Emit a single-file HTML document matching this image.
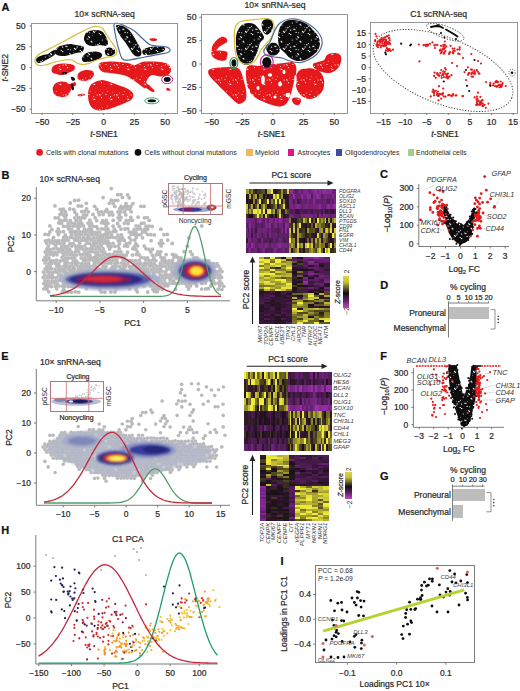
<!DOCTYPE html>
<html><head><meta charset="utf-8"><style>
html,body{margin:0;padding:0;background:#fff;width:520px;height:691px;overflow:hidden;}
svg{display:block;} rect{shape-rendering:crispEdges;}
text{font-family:"Liberation Sans",sans-serif;}
</style></head><body>
<svg width="520" height="691" viewBox="0 0 520 691" fill="#2a2a2a">
<defs>
<pattern id="spk" width="19" height="17" patternUnits="userSpaceOnUse"><circle cx="4.5" cy="9.3" r="0.50" fill="#fff"/><circle cx="11.5" cy="10.6" r="0.38" fill="#fff"/><circle cx="0.3" cy="14.2" r="0.45" fill="#fff"/><circle cx="4.5" cy="16.9" r="0.54" fill="#fff"/><circle cx="15.9" cy="8.1" r="0.61" fill="#fff"/><circle cx="2.9" cy="10.8" r="0.70" fill="#fff"/><circle cx="9.9" cy="12.6" r="0.62" fill="#fff"/><circle cx="1.2" cy="12.9" r="0.59" fill="#fff"/><circle cx="5.7" cy="0.5" r="0.70" fill="#fff"/><circle cx="9.0" cy="12.2" r="0.70" fill="#fff"/><circle cx="13.6" cy="15.7" r="0.51" fill="#fff"/><circle cx="15.2" cy="7.6" r="0.72" fill="#fff"/><circle cx="16.7" cy="1.7" r="0.40" fill="#fff"/><circle cx="4.1" cy="16.4" r="0.52" fill="#fff"/><circle cx="11.9" cy="5.1" r="0.55" fill="#fff"/><circle cx="7.3" cy="6.0" r="0.58" fill="#fff"/><circle cx="11.1" cy="15.4" r="0.62" fill="#fff"/><circle cx="17.6" cy="14.6" r="0.75" fill="#fff"/><circle cx="12.8" cy="2.8" r="0.69" fill="#fff"/><circle cx="18.3" cy="15.4" r="0.58" fill="#fff"/><circle cx="13.6" cy="3.6" r="0.68" fill="#fff"/><circle cx="10.9" cy="4.8" r="0.38" fill="#fff"/><circle cx="16.2" cy="16.8" r="0.39" fill="#fff"/><circle cx="15.2" cy="7.0" r="0.41" fill="#fff"/><circle cx="5.6" cy="13.1" r="0.70" fill="#fff"/><circle cx="0.8" cy="10.4" r="0.37" fill="#fff"/></pattern>
<pattern id="spk2" width="17" height="15" patternUnits="userSpaceOnUse"><circle cx="12.2" cy="5.0" r="0.56" fill="#fff"/><circle cx="16.7" cy="7.6" r="0.60" fill="#fff"/><circle cx="5.3" cy="1.2" r="0.48" fill="#fff"/><circle cx="0.5" cy="3.0" r="0.42" fill="#fff"/><circle cx="10.4" cy="2.3" r="0.31" fill="#fff"/><circle cx="14.8" cy="4.7" r="0.59" fill="#fff"/><circle cx="15.2" cy="5.7" r="0.44" fill="#fff"/><circle cx="8.8" cy="9.7" r="0.48" fill="#fff"/><circle cx="9.5" cy="9.3" r="0.58" fill="#fff"/><circle cx="8.6" cy="6.5" r="0.52" fill="#fff"/><circle cx="4.0" cy="4.5" r="0.59" fill="#fff"/><circle cx="8.9" cy="8.2" r="0.30" fill="#fff"/><circle cx="7.1" cy="8.7" r="0.31" fill="#fff"/><circle cx="10.5" cy="9.5" r="0.32" fill="#fff"/></pattern>
<filter id="bl1" x="-20%" y="-20%" width="140%" height="140%"><feGaussianBlur stdDeviation="1.2"/></filter>
<filter id="bl2" x="-30%" y="-30%" width="160%" height="160%"><feGaussianBlur stdDeviation="2"/></filter>
<filter id="bl05" x="-10%" y="-10%" width="120%" height="120%"><feGaussianBlur stdDeviation="0.5"/></filter>
</defs>
<text x="1.5" y="10.6" font-size="11" font-weight="bold" fill="#111" stroke="#111" stroke-width="0.22">A</text>
<text x="104.6" y="16.8" font-size="8.6" text-anchor="middle" stroke="#2a2a2a" stroke-width="0.22">10× scRNA-seq</text>
<text x="275" y="8.2" font-size="8.6" text-anchor="middle" stroke="#2a2a2a" stroke-width="0.22">10× snRNA-seq</text>
<text x="438.6" y="17.2" font-size="8.6" text-anchor="middle" stroke="#2a2a2a" stroke-width="0.22">C1 scRNA-seq</text>
<path d="M52 68 C52.5 66.8 53.3 65.8 55 65 C56.7 64.2 59.5 63.7 62 63.5 C64.5 63.3 67.9 63.6 70 64 C72.1 64.4 73.8 65 74.5 66 C75.2 67 75.1 68.8 74 70 C72.9 71.2 70 72.2 68 73 C66 73.8 64 74.8 62 75 C60 75.2 57.7 74.5 56 74 C54.3 73.5 52.7 73 52 72 C51.3 71 51.5 69.2 52 68Z" fill="#e5191b"/>
<path d="M52 68 C52.5 66.8 53.3 65.8 55 65 C56.7 64.2 59.5 63.7 62 63.5 C64.5 63.3 67.9 63.6 70 64 C72.1 64.4 73.8 65 74.5 66 C75.2 67 75.1 68.8 74 70 C72.9 71.2 70 72.2 68 73 C66 73.8 64 74.8 62 75 C60 75.2 57.7 74.5 56 74 C54.3 73.5 52.7 73 52 72 C51.3 71 51.5 69.2 52 68Z" fill="url(#spk2)"/>
<path d="M78 74 C78.7 72.7 80.3 71.7 82 71 C83.7 70.3 86.2 69.9 88 70 C89.8 70.1 92.1 70.5 93 71.5 C93.9 72.5 94.2 74.6 93.5 76 C92.8 77.4 90.8 79.2 89 80 C87.2 80.8 84.8 81.2 83 81 C81.2 80.8 78.8 80.2 78 79 C77.2 77.8 77.3 75.3 78 74Z" fill="#e5191b"/>
<path d="M78 74 C78.7 72.7 80.3 71.7 82 71 C83.7 70.3 86.2 69.9 88 70 C89.8 70.1 92.1 70.5 93 71.5 C93.9 72.5 94.2 74.6 93.5 76 C92.8 77.4 90.8 79.2 89 80 C87.2 80.8 84.8 81.2 83 81 C81.2 80.8 78.8 80.2 78 79 C77.2 77.8 77.3 75.3 78 74Z" fill="url(#spk2)"/>
<path d="M53 87 C53.5 85.7 54.7 83.9 56 83 C57.3 82.1 59.3 81.7 61 81.5 C62.7 81.3 64.7 81.6 66 82 C67.3 82.4 68 83.8 69 84 C70 84.2 71 83.3 72 83 C73 82.7 74.3 81.7 75 82 C75.7 82.3 76.5 84 76 85 C75.5 86 73 86.8 72 88 C71 89.2 70.8 90.7 70 92 C69.2 93.3 68.5 95.2 67 96 C65.5 96.8 63 97.2 61 97 C59 96.8 56.3 96 55 95 C53.7 94 53.3 92.3 53 91 C52.7 89.7 52.5 88.3 53 87Z" fill="#e5191b"/>
<path d="M53 87 C53.5 85.7 54.7 83.9 56 83 C57.3 82.1 59.3 81.7 61 81.5 C62.7 81.3 64.7 81.6 66 82 C67.3 82.4 68 83.8 69 84 C70 84.2 71 83.3 72 83 C73 82.7 74.3 81.7 75 82 C75.7 82.3 76.5 84 76 85 C75.5 86 73 86.8 72 88 C71 89.2 70.8 90.7 70 92 C69.2 93.3 68.5 95.2 67 96 C65.5 96.8 63 97.2 61 97 C59 96.8 56.3 96 55 95 C53.7 94 53.3 92.3 53 91 C52.7 89.7 52.5 88.3 53 87Z" fill="url(#spk2)"/>
<path d="M77.5 95 C77.7 94.6 78.8 94.2 80 94 C81.2 93.8 83.8 93.7 84.5 94 C85.2 94.3 84.9 95.4 84 95.8 C83.1 96.2 80.1 96.3 79 96.2 C77.9 96.1 77.3 95.4 77.5 95Z" fill="#e5191b"/>
<path d="M77.5 95 C77.7 94.6 78.8 94.2 80 94 C81.2 93.8 83.8 93.7 84.5 94 C85.2 94.3 84.9 95.4 84 95.8 C83.1 96.2 80.1 96.3 79 96.2 C77.9 96.1 77.3 95.4 77.5 95Z" fill="url(#spk2)"/>
<path d="M88 95 C88 91.8 88.8 88.2 90 86 C91.2 83.8 93 83 95 82 C97 81 99.5 80 102 80 C104.5 80 107.3 81.2 110 82 C112.7 82.8 115.3 84 118 85 C120.7 86 123.5 86.7 126 88 C128.5 89.3 132 91.2 133 93 C134 94.8 133.3 97.3 132 99 C130.7 100.7 127.8 101.7 125 103 C122.2 104.3 118.3 105.8 115 107 C111.7 108.2 108.2 109.5 105 110 C101.8 110.5 98.5 110.8 96 110 C93.5 109.2 91.3 107.5 90 105 C88.7 102.5 88 98.2 88 95Z" fill="#e5191b"/>
<path d="M88 95 C88 91.8 88.8 88.2 90 86 C91.2 83.8 93 83 95 82 C97 81 99.5 80 102 80 C104.5 80 107.3 81.2 110 82 C112.7 82.8 115.3 84 118 85 C120.7 86 123.5 86.7 126 88 C128.5 89.3 132 91.2 133 93 C134 94.8 133.3 97.3 132 99 C130.7 100.7 127.8 101.7 125 103 C122.2 104.3 118.3 105.8 115 107 C111.7 108.2 108.2 109.5 105 110 C101.8 110.5 98.5 110.8 96 110 C93.5 109.2 91.3 107.5 90 105 C88.7 102.5 88 98.2 88 95Z" fill="url(#spk2)"/>
<path d="M100 63 C101.8 61.9 106.7 61.7 110 61.5 C113.3 61.3 117 61.8 120 62 C123 62.2 125.5 62.5 128 63 C130.5 63.5 132.7 65.2 135 65 C137.3 64.8 139.5 62.6 142 62 C144.5 61.4 147 61.5 150 61.5 C153 61.5 157 61.6 160 62 C163 62.4 166.2 62.7 168 64 C169.8 65.3 171 68.2 171 70 C171 71.8 169.8 73.9 168 75 C166.2 76.1 162.7 76.5 160 76.5 C157.3 76.5 154.2 74.4 152 75 C149.8 75.6 148 78.2 147 80 C146 81.8 146.3 84.6 146 86 C145.7 87.4 146 88.7 145 88.5 C144 88.3 142 86.4 140 85 C138 83.6 135.3 81.5 133 80 C130.7 78.5 128.5 77 126 76 C123.5 75 120.7 74.5 118 74 C115.3 73.5 112.5 73.3 110 73 C107.5 72.7 104.8 72.8 103 72 C101.2 71.2 99.5 69.5 99 68 C98.5 66.5 98.2 64.1 100 63Z" fill="#e5191b"/>
<path d="M100 63 C101.8 61.9 106.7 61.7 110 61.5 C113.3 61.3 117 61.8 120 62 C123 62.2 125.5 62.5 128 63 C130.5 63.5 132.7 65.2 135 65 C137.3 64.8 139.5 62.6 142 62 C144.5 61.4 147 61.5 150 61.5 C153 61.5 157 61.6 160 62 C163 62.4 166.2 62.7 168 64 C169.8 65.3 171 68.2 171 70 C171 71.8 169.8 73.9 168 75 C166.2 76.1 162.7 76.5 160 76.5 C157.3 76.5 154.2 74.4 152 75 C149.8 75.6 148 78.2 147 80 C146 81.8 146.3 84.6 146 86 C145.7 87.4 146 88.7 145 88.5 C144 88.3 142 86.4 140 85 C138 83.6 135.3 81.5 133 80 C130.7 78.5 128.5 77 126 76 C123.5 75 120.7 74.5 118 74 C115.3 73.5 112.5 73.3 110 73 C107.5 72.7 104.8 72.8 103 72 C101.2 71.2 99.5 69.5 99 68 C98.5 66.5 98.2 64.1 100 63Z" fill="url(#spk2)"/>
<path d="M149.5 38.8 C149.8 38.4 151.8 38.2 153 38.2 C154.2 38.2 156.5 38.6 157 39 C157.5 39.4 157 40.5 156 40.8 C155 41.1 152.1 41.1 151 40.8 C149.9 40.5 149.2 39.2 149.5 38.8Z" fill="#e5191b"/>
<path d="M149.5 38.8 C149.8 38.4 151.8 38.2 153 38.2 C154.2 38.2 156.5 38.6 157 39 C157.5 39.4 157 40.5 156 40.8 C155 41.1 152.1 41.1 151 40.8 C149.9 40.5 149.2 39.2 149.5 38.8Z" fill="url(#spk2)"/>
<path d="M166.5 88 C166.8 87.6 168.3 87.9 169 88.3 C169.7 88.7 170.8 90.1 170.5 90.5 C170.2 90.9 167.7 90.9 167 90.5 C166.3 90.1 166.2 88.4 166.5 88Z" fill="#e5191b"/>
<path d="M166.5 88 C166.8 87.6 168.3 87.9 169 88.3 C169.7 88.7 170.8 90.1 170.5 90.5 C170.2 90.9 167.7 90.9 167 90.5 C166.3 90.1 166.2 88.4 166.5 88Z" fill="url(#spk2)"/>
<path d="M143.5 82.5 C143.8 82 145.8 82.8 147 83.5 C148.2 84.2 149.8 85.8 151 87 C152.2 88.2 154.2 89.7 154.5 90.5 C154.8 91.3 153.9 92.1 153 92 C152.1 91.9 150.3 90.9 149 90 C147.7 89.1 145.9 87.8 145 86.5 C144.1 85.2 143.2 83 143.5 82.5Z" fill="#e5191b"/>
<path d="M143.5 82.5 C143.8 82 145.8 82.8 147 83.5 C148.2 84.2 149.8 85.8 151 87 C152.2 88.2 154.2 89.7 154.5 90.5 C154.8 91.3 153.9 92.1 153 92 C152.1 91.9 150.3 90.9 149 90 C147.7 89.1 145.9 87.8 145 86.5 C144.1 85.2 143.2 83 143.5 82.5Z" fill="url(#spk2)"/>
<path d="M36 60 C36 59 36.8 57.8 38 57 C39.2 56.2 41.3 55.5 43 55 C44.7 54.5 46.5 54.7 48 54 C49.5 53.3 50.8 51.7 52 51 C53.2 50.3 54.3 49.7 55 50 C55.7 50.3 56.3 52 56 53 C55.7 54 54.3 55 53 56 C51.7 57 49.8 58 48 59 C46.2 60 43.7 61.3 42 62 C40.3 62.7 39 63.3 38 63 C37 62.7 36 61 36 60Z" fill="#0d0d0d"/>
<path d="M36 60 C36 59 36.8 57.8 38 57 C39.2 56.2 41.3 55.5 43 55 C44.7 54.5 46.5 54.7 48 54 C49.5 53.3 50.8 51.7 52 51 C53.2 50.3 54.3 49.7 55 50 C55.7 50.3 56.3 52 56 53 C55.7 54 54.3 55 53 56 C51.7 57 49.8 58 48 59 C46.2 60 43.7 61.3 42 62 C40.3 62.7 39 63.3 38 63 C37 62.7 36 61 36 60Z" fill="url(#spk)"/>
<path d="M55 51 C55.2 49.7 56.5 48 58 47 C59.5 46 62 45.5 64 45 C66 44.5 68 44 70 44 C72 44 74 44.7 76 45 C78 45.3 80.7 45.5 82 46 C83.3 46.5 84 47 84 48 C84 49 83.3 51.2 82 52 C80.7 52.8 78 52.5 76 53 C74 53.5 72.2 54.5 70 55 C67.8 55.5 65.2 56 63 56 C60.8 56 58.3 55.8 57 55 C55.7 54.2 54.8 52.3 55 51Z" fill="#0d0d0d"/>
<path d="M55 51 C55.2 49.7 56.5 48 58 47 C59.5 46 62 45.5 64 45 C66 44.5 68 44 70 44 C72 44 74 44.7 76 45 C78 45.3 80.7 45.5 82 46 C83.3 46.5 84 47 84 48 C84 49 83.3 51.2 82 52 C80.7 52.8 78 52.5 76 53 C74 53.5 72.2 54.5 70 55 C67.8 55.5 65.2 56 63 56 C60.8 56 58.3 55.8 57 55 C55.7 54.2 54.8 52.3 55 51Z" fill="url(#spk)"/>
<path d="M84 38 C84.2 36.5 84.8 34.2 86 33 C87.2 31.8 89.2 31 91 30.5 C92.8 30 95.2 29.8 97 30 C98.8 30.2 100.7 30.7 102 31.5 C103.3 32.3 104.2 33.8 105 35 C105.8 36.2 106.5 37.5 107 39 C107.5 40.5 108.3 42.8 108 44 C107.7 45.2 106.3 45.8 105 46 C103.7 46.2 101.8 45 100 45 C98.2 45 96 46 94 46 C92 46 89.5 45.7 88 45 C86.5 44.3 85.7 43.2 85 42 C84.3 40.8 83.8 39.5 84 38Z" fill="#0d0d0d"/>
<path d="M84 38 C84.2 36.5 84.8 34.2 86 33 C87.2 31.8 89.2 31 91 30.5 C92.8 30 95.2 29.8 97 30 C98.8 30.2 100.7 30.7 102 31.5 C103.3 32.3 104.2 33.8 105 35 C105.8 36.2 106.5 37.5 107 39 C107.5 40.5 108.3 42.8 108 44 C107.7 45.2 106.3 45.8 105 46 C103.7 46.2 101.8 45 100 45 C98.2 45 96 46 94 46 C92 46 89.5 45.7 88 45 C86.5 44.3 85.7 43.2 85 42 C84.3 40.8 83.8 39.5 84 38Z" fill="url(#spk)"/>
<path d="M82 58 C82.3 56.8 83.7 55 85 54 C86.3 53 88.2 52.4 90 52 C91.8 51.6 94.2 51.3 96 51.5 C97.8 51.7 100 52.2 101 53 C102 53.8 102.3 55 102 56 C101.7 57 100.5 58.2 99 59 C97.5 59.8 95 60.5 93 61 C91 61.5 88.7 61.9 87 62 C85.3 62.1 83.8 62.2 83 61.5 C82.2 60.8 81.7 59.2 82 58Z" fill="#0d0d0d"/>
<path d="M82 58 C82.3 56.8 83.7 55 85 54 C86.3 53 88.2 52.4 90 52 C91.8 51.6 94.2 51.3 96 51.5 C97.8 51.7 100 52.2 101 53 C102 53.8 102.3 55 102 56 C101.7 57 100.5 58.2 99 59 C97.5 59.8 95 60.5 93 61 C91 61.5 88.7 61.9 87 62 C85.3 62.1 83.8 62.2 83 61.5 C82.2 60.8 81.7 59.2 82 58Z" fill="url(#spk)"/>
<path d="M105 50 C105.5 48.8 107.5 47.7 109 47.5 C110.5 47.3 113 48.1 114 49 C115 49.9 115.5 51.8 115 53 C114.5 54.2 112.5 55.7 111 56 C109.5 56.3 107 56 106 55 C105 54 104.5 51.2 105 50Z" fill="#0d0d0d"/>
<path d="M105 50 C105.5 48.8 107.5 47.7 109 47.5 C110.5 47.3 113 48.1 114 49 C115 49.9 115.5 51.8 115 53 C114.5 54.2 112.5 55.7 111 56 C109.5 56.3 107 56 106 55 C105 54 104.5 51.2 105 50Z" fill="url(#spk)"/>
<path d="M116 25.5 C116.5 24.4 119.5 25.2 121 25.5 C122.5 25.8 123.5 26.1 125 27 C126.5 27.9 128.5 29.3 130 31 C131.5 32.7 132.7 34.8 134 37 C135.3 39.2 136.8 41.8 138 44 C139.2 46.2 140.5 48.2 141 50 C141.5 51.8 141.7 53.9 141 55 C140.3 56.1 138.3 56.7 137 56.5 C135.7 56.3 134.3 55.4 133 54 C131.7 52.6 130.3 50 129 48 C127.7 46 126.3 43.8 125 42 C123.7 40.2 122.2 38.7 121 37 C119.8 35.3 118.8 33.9 118 32 C117.2 30.1 115.5 26.6 116 25.5Z" fill="#0d0d0d"/>
<path d="M116 25.5 C116.5 24.4 119.5 25.2 121 25.5 C122.5 25.8 123.5 26.1 125 27 C126.5 27.9 128.5 29.3 130 31 C131.5 32.7 132.7 34.8 134 37 C135.3 39.2 136.8 41.8 138 44 C139.2 46.2 140.5 48.2 141 50 C141.5 51.8 141.7 53.9 141 55 C140.3 56.1 138.3 56.7 137 56.5 C135.7 56.3 134.3 55.4 133 54 C131.7 52.6 130.3 50 129 48 C127.7 46 126.3 43.8 125 42 C123.7 40.2 122.2 38.7 121 37 C119.8 35.3 118.8 33.9 118 32 C117.2 30.1 115.5 26.6 116 25.5Z" fill="url(#spk)"/>
<path d="M143 50 C144.2 48.8 147.5 47.6 150 47 C152.5 46.4 155.6 46.4 158 46.5 C160.4 46.6 163.5 46.8 164.5 47.5 C165.5 48.2 165.2 50 164 51 C162.8 52 159.7 52.8 157 53.5 C154.3 54.2 150.3 54.9 148 55 C145.7 55.1 143.8 54.8 143 54 C142.2 53.2 141.8 51.2 143 50Z" fill="#0d0d0d"/>
<path d="M143 50 C144.2 48.8 147.5 47.6 150 47 C152.5 46.4 155.6 46.4 158 46.5 C160.4 46.6 163.5 46.8 164.5 47.5 C165.5 48.2 165.2 50 164 51 C162.8 52 159.7 52.8 157 53.5 C154.3 54.2 150.3 54.9 148 55 C145.7 55.1 143.8 54.8 143 54 C142.2 53.2 141.8 51.2 143 50Z" fill="url(#spk)"/>
<path d="M62 72.5 C62.5 72.1 65.2 71.8 66 72 C66.8 72.2 67.5 73.6 67 74 C66.5 74.4 63.8 74.8 63 74.5 C62.2 74.2 61.5 72.9 62 72.5Z" fill="#0d0d0d"/>
<path d="M62 72.5 C62.5 72.1 65.2 71.8 66 72 C66.8 72.2 67.5 73.6 67 74 C66.5 74.4 63.8 74.8 63 74.5 C62.2 74.2 61.5 72.9 62 72.5Z" fill="url(#spk)"/>
<path d="M71 77 C71.3 76.5 73.3 77 74 77.5 C74.7 78 75.3 79.5 75 80 C74.7 80.5 72.7 81 72 80.5 C71.3 80 70.7 77.5 71 77Z" fill="#0d0d0d"/>
<path d="M71 77 C71.3 76.5 73.3 77 74 77.5 C74.7 78 75.3 79.5 75 80 C74.7 80.5 72.7 81 72 80.5 C71.3 80 70.7 77.5 71 77Z" fill="url(#spk)"/>
<path d="M71 85 C71.2 84.1 72.5 83.8 73 84.5 C73.5 85.2 74.2 88.1 74 89 C73.8 89.9 72.5 90.7 72 90 C71.5 89.3 70.8 85.9 71 85Z" fill="#0d0d0d"/>
<path d="M71 85 C71.2 84.1 72.5 83.8 73 84.5 C73.5 85.2 74.2 88.1 74 89 C73.8 89.9 72.5 90.7 72 90 C71.5 89.3 70.8 85.9 71 85Z" fill="url(#spk)"/>
<path d="M35 60 C35.3 58.6 36.3 56.5 38 55 C39.7 53.5 42.2 52.5 45 51 C47.8 49.5 50.8 48.2 55 46 C59.2 43.8 65 40.7 70 38 C75 35.3 81.3 31.8 85 30 C88.7 28.2 90 27.6 92 27 C94 26.4 95.3 26.3 97 26.5 C98.7 26.7 100.7 27.1 102 28 C103.3 28.9 103.7 30 105 32 C106.3 34 108.3 37.5 110 40 C111.7 42.5 113.8 45 115 47 C116.2 49 117.2 50.5 117 52 C116.8 53.5 115.8 55.1 114 56 C112.2 56.9 108.7 56.9 106 57.5 C103.3 58.1 100.7 58.6 98 59.5 C95.3 60.4 92.5 62.2 90 63 C87.5 63.8 85.2 64.5 83 64.5 C80.8 64.5 78.8 63.8 77 63 C75.2 62.2 74 60.5 72 60 C70 59.5 67.8 59.7 65 60 C62.2 60.3 58.3 61.2 55 62 C51.7 62.8 47.7 64.4 45 65 C42.3 65.6 40.5 65.8 39 65.5 C37.5 65.2 36.7 64.4 36 63.5 C35.3 62.6 34.7 61.4 35 60Z" fill="none" stroke="#d6bd3c" stroke-width="1.25"/>
<path d="M114 25 C114.3 22.6 116.2 23.3 118 23.5 C119.8 23.7 122.2 24.8 125 26 C127.8 27.2 131.7 29 134.5 31 C137.3 33 139.5 35.8 142 38 C144.5 40.2 146.8 43.2 149.5 44.5 C152.2 45.8 155.2 45.6 158 46 C160.8 46.4 164 46.2 166 46.8 C168 47.3 169.7 48.5 170 49.5 C170.3 50.5 169.7 51.7 168 52.5 C166.3 53.3 163.8 53.5 160 54.2 C156.2 55 150.5 56 145 57 C139.5 58 130.9 60.1 127 60.2 C123.1 60.4 123.1 59.7 121.8 58 C120.4 56.3 120 53.3 119 50 C118 46.7 116.8 42.2 116 38 C115.2 33.8 113.7 27.4 114 25Z" fill="none" stroke="#4a6a98" stroke-width="1.2"/>
<ellipse cx="167.2" cy="79.5" rx="3.4" ry="2.4" fill="#0d0d0d"/>
<ellipse cx="167.2" cy="79.5" rx="5.5" ry="4.2" fill="none" stroke="#b5289b" stroke-width="1"/>
<ellipse cx="151.8" cy="100.8" rx="4.2" ry="1.5" fill="#0d0d0d"/>
<ellipse cx="151.8" cy="100.8" rx="7" ry="3" fill="none" stroke="#3aa060" stroke-width="1"/>
<rect x="31.5" y="23" width="145.7" height="90" fill="none" stroke="#8a8a8a" stroke-width="0.9"/>
<line x1="42" y1="113" x2="42" y2="115" stroke="#6e6e6e" stroke-width="0.9"/>
<text x="42" y="125" font-size="8.7" text-anchor="middle" stroke="#2a2a2a" stroke-width="0.22">−50</text>
<line x1="72.8" y1="113" x2="72.8" y2="115" stroke="#6e6e6e" stroke-width="0.9"/>
<text x="72.8" y="125" font-size="8.7" text-anchor="middle" stroke="#2a2a2a" stroke-width="0.22">−25</text>
<line x1="103.6" y1="113" x2="103.6" y2="115" stroke="#6e6e6e" stroke-width="0.9"/>
<text x="103.6" y="125" font-size="8.7" text-anchor="middle" stroke="#2a2a2a" stroke-width="0.22">0</text>
<line x1="134.4" y1="113" x2="134.4" y2="115" stroke="#6e6e6e" stroke-width="0.9"/>
<text x="134.4" y="125" font-size="8.7" text-anchor="middle" stroke="#2a2a2a" stroke-width="0.22">25</text>
<line x1="165.2" y1="113" x2="165.2" y2="115" stroke="#6e6e6e" stroke-width="0.9"/>
<text x="165.2" y="125" font-size="8.7" text-anchor="middle" stroke="#2a2a2a" stroke-width="0.22">50</text>
<line x1="29.5" y1="26" x2="31.5" y2="26" stroke="#6e6e6e" stroke-width="0.9"/>
<text x="25.6" y="28.8" font-size="8.7" text-anchor="end" stroke="#2a2a2a" stroke-width="0.22">50</text>
<line x1="29.5" y1="46.8" x2="31.5" y2="46.8" stroke="#6e6e6e" stroke-width="0.9"/>
<text x="25.6" y="49.6" font-size="8.7" text-anchor="end" stroke="#2a2a2a" stroke-width="0.22">25</text>
<line x1="29.5" y1="67.6" x2="31.5" y2="67.6" stroke="#6e6e6e" stroke-width="0.9"/>
<text x="25.6" y="70.4" font-size="8.7" text-anchor="end" stroke="#2a2a2a" stroke-width="0.22">0</text>
<line x1="29.5" y1="88.4" x2="31.5" y2="88.4" stroke="#6e6e6e" stroke-width="0.9"/>
<text x="25.6" y="91.2" font-size="8.7" text-anchor="end" stroke="#2a2a2a" stroke-width="0.22">−25</text>
<line x1="29.5" y1="109.2" x2="31.5" y2="109.2" stroke="#6e6e6e" stroke-width="0.9"/>
<text x="25.6" y="112" font-size="8.7" text-anchor="end" stroke="#2a2a2a" stroke-width="0.22">−50</text>
<text x="104" y="137" font-size="8.6" text-anchor="middle" stroke="#2a2a2a" stroke-width="0.22"><tspan font-style="italic">t</tspan>-SNE1</text>
<text x="8.2" y="67.8" font-size="8.5" text-anchor="middle" transform="rotate(-90 8.2 67.8)" stroke="#2a2a2a" stroke-width="0.22"><tspan font-style="italic">t</tspan>-SNE2</text>
<path d="M221 37 C222.8 36.3 225 37.2 226 38 C227 38.8 227.7 40.8 227 42 C226.3 43.2 223.5 44 222 45 C220.5 46 218.8 46.8 218 48 C217.2 49.2 216.5 51 217 52 C217.5 53 219.5 53.3 221 54 C222.5 54.7 225.2 55 226 56 C226.8 57 227 59.2 226 60 C225 60.8 222 60.8 220 60.5 C218 60.2 215.3 59.2 214 58 C212.7 56.8 212.3 54.8 212 53 C211.7 51.2 211.5 48.8 212 47 C212.5 45.2 213.5 43.7 215 42 C216.5 40.3 219.2 37.7 221 37Z" fill="#e5191b"/>
<path d="M221 37 C222.8 36.3 225 37.2 226 38 C227 38.8 227.7 40.8 227 42 C226.3 43.2 223.5 44 222 45 C220.5 46 218.8 46.8 218 48 C217.2 49.2 216.5 51 217 52 C217.5 53 219.5 53.3 221 54 C222.5 54.7 225.2 55 226 56 C226.8 57 227 59.2 226 60 C225 60.8 222 60.8 220 60.5 C218 60.2 215.3 59.2 214 58 C212.7 56.8 212.3 54.8 212 53 C211.7 51.2 211.5 48.8 212 47 C212.5 45.2 213.5 43.7 215 42 C216.5 40.3 219.2 37.7 221 37Z" fill="url(#spk2)"/>
<path d="M208.7 70 C209.7 68.8 212.3 68.5 215 68 C217.7 67.5 221.7 67.4 225 67.3 C228.3 67.2 232.1 66.8 234.6 67.3 C237.1 67.8 238.6 68.2 240 70 C241.4 71.8 242 74.7 243 78 C244 81.3 245.5 86.5 246 90 C246.5 93.5 246.7 96.8 246 99 C245.3 101.2 243.4 102.3 242 103 C240.6 103.7 239.5 104.4 237.5 103.4 C235.5 102.4 232.6 99.4 230 97 C227.4 94.6 224.7 91.7 222 89 C219.3 86.3 216.2 83.3 214 81 C211.8 78.7 209.9 76.8 209 75 C208.1 73.2 207.7 71.2 208.7 70Z" fill="#e5191b"/>
<path d="M208.7 70 C209.7 68.8 212.3 68.5 215 68 C217.7 67.5 221.7 67.4 225 67.3 C228.3 67.2 232.1 66.8 234.6 67.3 C237.1 67.8 238.6 68.2 240 70 C241.4 71.8 242 74.7 243 78 C244 81.3 245.5 86.5 246 90 C246.5 93.5 246.7 96.8 246 99 C245.3 101.2 243.4 102.3 242 103 C240.6 103.7 239.5 104.4 237.5 103.4 C235.5 102.4 232.6 99.4 230 97 C227.4 94.6 224.7 91.7 222 89 C219.3 86.3 216.2 83.3 214 81 C211.8 78.7 209.9 76.8 209 75 C208.1 73.2 207.7 71.2 208.7 70Z" fill="url(#spk2)"/>
<path d="M246 70 C246.5 66.8 248 65.7 250 65 C252 64.3 255.3 66.1 258 66 C260.7 65.9 263.2 64.8 266 64.5 C268.8 64.2 272 64.2 275 64 C278 63.8 281.2 63.3 284 63 C286.8 62.7 290 61.5 292 62 C294 62.5 295.3 64 296 66 C296.7 68 296.3 71.3 296 74 C295.7 76.7 294.7 79.3 294 82 C293.3 84.7 292.7 87.5 292 90 C291.3 92.5 291 94.7 290 97 C289 99.3 287.7 102.4 286 104 C284.3 105.6 282.3 106.3 280 106.5 C277.7 106.7 274.7 105.8 272 105 C269.3 104.2 266.7 103.2 264 102 C261.3 100.8 258.3 99.7 256 98 C253.7 96.3 251.5 94.3 250 92 C248.5 89.7 247.7 87.7 247 84 C246.3 80.3 245.5 73.2 246 70Z" fill="#e5191b"/>
<path d="M246 70 C246.5 66.8 248 65.7 250 65 C252 64.3 255.3 66.1 258 66 C260.7 65.9 263.2 64.8 266 64.5 C268.8 64.2 272 64.2 275 64 C278 63.8 281.2 63.3 284 63 C286.8 62.7 290 61.5 292 62 C294 62.5 295.3 64 296 66 C296.7 68 296.3 71.3 296 74 C295.7 76.7 294.7 79.3 294 82 C293.3 84.7 292.7 87.5 292 90 C291.3 92.5 291 94.7 290 97 C289 99.3 287.7 102.4 286 104 C284.3 105.6 282.3 106.3 280 106.5 C277.7 106.7 274.7 105.8 272 105 C269.3 104.2 266.7 103.2 264 102 C261.3 100.8 258.3 99.7 256 98 C253.7 96.3 251.5 94.3 250 92 C248.5 89.7 247.7 87.7 247 84 C246.3 80.3 245.5 73.2 246 70Z" fill="url(#spk2)"/>
<path d="M296 76 C296.7 73.3 298.2 71.2 300 70 C301.8 68.8 304.5 68.7 307 68.5 C309.5 68.3 312.7 68.2 315 69 C317.3 69.8 319.5 71.2 321 73 C322.5 74.8 323.6 77.5 324 80 C324.4 82.5 324.2 85.7 323.5 88 C322.8 90.3 321.8 92.2 320 94 C318.2 95.8 315.5 97.8 313 98.5 C310.5 99.2 307.3 98.9 305 98 C302.7 97.1 300.5 95 299 93 C297.5 91 296.5 88.8 296 86 C295.5 83.2 295.3 78.7 296 76Z" fill="#e5191b"/>
<path d="M296 76 C296.7 73.3 298.2 71.2 300 70 C301.8 68.8 304.5 68.7 307 68.5 C309.5 68.3 312.7 68.2 315 69 C317.3 69.8 319.5 71.2 321 73 C322.5 74.8 323.6 77.5 324 80 C324.4 82.5 324.2 85.7 323.5 88 C322.8 90.3 321.8 92.2 320 94 C318.2 95.8 315.5 97.8 313 98.5 C310.5 99.2 307.3 98.9 305 98 C302.7 97.1 300.5 95 299 93 C297.5 91 296.5 88.8 296 86 C295.5 83.2 295.3 78.7 296 76Z" fill="url(#spk2)"/>
<path d="M313 64 C313.5 62.8 316.2 62.7 318 62 C319.8 61.3 322.5 61.2 324 60 C325.5 58.8 325.5 56.2 327 55 C328.5 53.8 331 53.2 333 53 C335 52.8 337.6 53.2 339 54 C340.4 54.8 341.1 56.2 341.3 58 C341.5 59.8 340.9 63 340 65 C339.1 67 337.7 68.7 336 70 C334.3 71.3 332.3 72.7 330 73 C327.7 73.3 324.5 72.7 322 72 C319.5 71.3 316.5 70.3 315 69 C313.5 67.7 312.5 65.2 313 64Z" fill="#e5191b"/>
<path d="M313 64 C313.5 62.8 316.2 62.7 318 62 C319.8 61.3 322.5 61.2 324 60 C325.5 58.8 325.5 56.2 327 55 C328.5 53.8 331 53.2 333 53 C335 52.8 337.6 53.2 339 54 C340.4 54.8 341.1 56.2 341.3 58 C341.5 59.8 340.9 63 340 65 C339.1 67 337.7 68.7 336 70 C334.3 71.3 332.3 72.7 330 73 C327.7 73.3 324.5 72.7 322 72 C319.5 71.3 316.5 70.3 315 69 C313.5 67.7 312.5 65.2 313 64Z" fill="url(#spk2)"/>
<path d="M292 99 C292.5 97.9 295.5 97.4 297 97.6 C298.5 97.8 300.7 98.8 301 100 C301.3 101.2 300.2 104.1 299 104.8 C297.8 105.5 295.2 105 294 104 C292.8 103 291.5 100.1 292 99Z" fill="#e5191b"/>
<path d="M292 99 C292.5 97.9 295.5 97.4 297 97.6 C298.5 97.8 300.7 98.8 301 100 C301.3 101.2 300.2 104.1 299 104.8 C297.8 105.5 295.2 105 294 104 C292.8 103 291.5 100.1 292 99Z" fill="url(#spk2)"/>
<path d="M211.5 52 C212.3 50.9 215.4 50.5 218 50.5 C220.6 50.5 225.7 50.8 227 52 C228.3 53.2 227.2 56.9 226 58 C224.8 59.1 222.2 58.9 220 58.7 C217.8 58.5 214.4 58.1 213 57 C211.6 55.9 210.7 53.1 211.5 52Z" fill="#e5191b"/>
<path d="M211.5 52 C212.3 50.9 215.4 50.5 218 50.5 C220.6 50.5 225.7 50.8 227 52 C228.3 53.2 227.2 56.9 226 58 C224.8 59.1 222.2 58.9 220 58.7 C217.8 58.5 214.4 58.1 213 57 C211.6 55.9 210.7 53.1 211.5 52Z" fill="url(#spk2)"/>
<ellipse cx="263" cy="80" rx="1.8" ry="4.5" fill="#fff"/>
<ellipse cx="248.5" cy="93" rx="1.6" ry="4.5" fill="#fff"/>
<ellipse cx="288" cy="95" rx="2.6" ry="2.2" fill="#fff"/>
<ellipse cx="270" cy="75" rx="2.2" ry="1.8" fill="#fff"/>
<ellipse cx="280" cy="84" rx="1.8" ry="2.6" fill="#fff"/>
<ellipse cx="258" cy="88" rx="1.5" ry="2" fill="#fff"/>
<ellipse cx="284" cy="72" rx="1.5" ry="2.2" fill="#fff"/>
<ellipse cx="275" cy="97" rx="1.6" ry="1.6" fill="#fff"/>
<ellipse cx="295.5" cy="80" rx="1.2" ry="5" fill="#fff"/>
<path d="M238 30 C239 28 240.3 26.2 242 25 C243.7 23.8 246 23.2 248 23 C250 22.8 252.3 23.2 254 24 C255.7 24.8 256.7 26.5 258 28 C259.3 29.5 261 31.3 262 33 C263 34.7 264.3 36.3 264 38 C263.7 39.7 261 41 260 43 C259 45 258.8 47.7 258 50 C257.2 52.3 256 55 255 57 C254 59 253.2 60.7 252 62 C250.8 63.3 249.5 64.7 248 65 C246.5 65.3 244.5 65 243 64 C241.5 63 240.1 61 239 59 C237.9 57 237 54.3 236.5 52 C236 49.7 236.1 47.5 236 45 C235.9 42.5 235.7 39.5 236 37 C236.3 34.5 237 32 238 30Z" fill="#0d0d0d"/>
<path d="M238 30 C239 28 240.3 26.2 242 25 C243.7 23.8 246 23.2 248 23 C250 22.8 252.3 23.2 254 24 C255.7 24.8 256.7 26.5 258 28 C259.3 29.5 261 31.3 262 33 C263 34.7 264.3 36.3 264 38 C263.7 39.7 261 41 260 43 C259 45 258.8 47.7 258 50 C257.2 52.3 256 55 255 57 C254 59 253.2 60.7 252 62 C250.8 63.3 249.5 64.7 248 65 C246.5 65.3 244.5 65 243 64 C241.5 63 240.1 61 239 59 C237.9 57 237 54.3 236.5 52 C236 49.7 236.1 47.5 236 45 C235.9 42.5 235.7 39.5 236 37 C236.3 34.5 237 32 238 30Z" fill="url(#spk)"/>
<path d="M262 22 C262.7 20.5 264.5 19.4 266 19 C267.5 18.6 269.8 18.7 271 19.5 C272.2 20.3 272.8 22.2 273 24 C273.2 25.8 272.8 28.2 272 30 C271.2 31.8 269.3 34 268 34.5 C266.7 35 265 34.1 264 33 C263 31.9 262.3 29.8 262 28 C261.7 26.2 261.3 23.5 262 22Z" fill="#0d0d0d"/>
<path d="M262 22 C262.7 20.5 264.5 19.4 266 19 C267.5 18.6 269.8 18.7 271 19.5 C272.2 20.3 272.8 22.2 273 24 C273.2 25.8 272.8 28.2 272 30 C271.2 31.8 269.3 34 268 34.5 C266.7 35 265 34.1 264 33 C263 31.9 262.3 29.8 262 28 C261.7 26.2 261.3 23.5 262 22Z" fill="url(#spk)"/>
<path d="M279 30 C279.8 27.2 281.2 24.7 283 23 C284.8 21.3 287.2 20.3 290 20 C292.8 19.7 297 20.2 300 21 C303 21.8 305.8 23.5 308 25 C310.2 26.5 311.3 28.2 313 30 C314.7 31.8 316.8 33.8 318 36 C319.2 38.2 320 40.7 320 43 C320 45.3 319.3 47.8 318 50 C316.7 52.2 314.2 54.3 312 56 C309.8 57.7 307.5 59.2 305 60 C302.5 60.8 299.5 61.3 297 61 C294.5 60.7 292 59.3 290 58 C288 56.7 286.7 54.7 285 53 C283.3 51.3 281.2 50.2 280 48 C278.8 45.8 278.2 43 278 40 C277.8 37 278.2 32.8 279 30Z" fill="#0d0d0d"/>
<path d="M279 30 C279.8 27.2 281.2 24.7 283 23 C284.8 21.3 287.2 20.3 290 20 C292.8 19.7 297 20.2 300 21 C303 21.8 305.8 23.5 308 25 C310.2 26.5 311.3 28.2 313 30 C314.7 31.8 316.8 33.8 318 36 C319.2 38.2 320 40.7 320 43 C320 45.3 319.3 47.8 318 50 C316.7 52.2 314.2 54.3 312 56 C309.8 57.7 307.5 59.2 305 60 C302.5 60.8 299.5 61.3 297 61 C294.5 60.7 292 59.3 290 58 C288 56.7 286.7 54.7 285 53 C283.3 51.3 281.2 50.2 280 48 C278.8 45.8 278.2 43 278 40 C277.8 37 278.2 32.8 279 30Z" fill="url(#spk)"/>
<path d="M266 46 C266.7 44.7 269.2 43.3 271 43 C272.8 42.7 275.5 42.8 277 44 C278.5 45.2 280.2 48.2 280 50 C279.8 51.8 277.7 54.2 276 55 C274.3 55.8 271.5 55.7 270 55 C268.5 54.3 267.7 52.5 267 51 C266.3 49.5 265.3 47.3 266 46Z" fill="#0d0d0d"/>
<path d="M266 46 C266.7 44.7 269.2 43.3 271 43 C272.8 42.7 275.5 42.8 277 44 C278.5 45.2 280.2 48.2 280 50 C279.8 51.8 277.7 54.2 276 55 C274.3 55.8 271.5 55.7 270 55 C268.5 54.3 267.7 52.5 267 51 C266.3 49.5 265.3 47.3 266 46Z" fill="url(#spk)"/>
<path d="M234.6 30 C235 27.3 235.9 25.4 237 24 C238.1 22.6 238.8 22.2 241 21.5 C243.2 20.8 246.8 20.4 250 20 C253.2 19.6 256.8 19.2 260 19 C263.2 18.8 266.8 18.3 269 18.8 C271.2 19.3 272.2 20.1 273 22 C273.8 23.9 274.3 27.3 274 30 C273.7 32.7 272.3 35.7 271 38 C269.7 40.3 267.7 42 266 44 C264.3 46 262.3 48 261 50 C259.7 52 259.2 54 258 56 C256.8 58 255.7 60.7 254 62 C252.3 63.3 250 63.8 248 64 C246 64.2 243.8 64 242 63 C240.2 62 238.2 60.2 237 58 C235.8 55.8 235.4 53 235 50 C234.6 47 234.6 43.3 234.5 40 C234.4 36.7 234.2 32.7 234.6 30Z" fill="none" stroke="#d6bd3c" stroke-width="1.25"/>
<path d="M264 50 C264.7 47.8 268.2 45.3 270 42 C271.8 38.7 273.3 33.2 275 30 C276.7 26.8 277.6 24.8 280 23 C282.4 21.2 286.2 19.5 289.5 19 C292.8 18.5 296.6 19 300 20 C303.4 21 307 23 310 25 C313 27 316 29.5 318 32 C320 34.5 321.5 37.3 322 40 C322.5 42.7 322 45.5 321 48 C320 50.5 318.2 53 316 55 C313.8 57 310.7 58.8 308 60 C305.3 61.2 303 62.3 300 62.5 C297 62.7 293 61.8 290 61 C287 60.2 284.7 58.7 282 58 C279.3 57.3 276.7 57.5 274 57 C271.3 56.5 267.7 56.2 266 55 C264.3 53.8 263.3 52.2 264 50Z" fill="none" stroke="#4a6a98" stroke-width="1.2"/>
<ellipse cx="233.9" cy="63" rx="2.5" ry="3.8" fill="#0d0d0d"/>
<ellipse cx="233.9" cy="63" rx="4" ry="5.5" fill="none" stroke="#2f9a4f" stroke-width="1.1"/>
<ellipse cx="266.8" cy="62.3" rx="4.6" ry="5.4" fill="#0d0d0d"/>
<ellipse cx="266.8" cy="62.1" rx="6.4" ry="7.3" fill="none" stroke="#b5289b" stroke-width="1.1"/>
<rect x="201.3" y="14" width="146.6" height="99" fill="none" stroke="#8a8a8a" stroke-width="0.9"/>
<line x1="211.7" y1="113" x2="211.7" y2="115" stroke="#6e6e6e" stroke-width="0.9"/>
<text x="211.7" y="125" font-size="8.7" text-anchor="middle" stroke="#2a2a2a" stroke-width="0.22">−50</text>
<line x1="242.3" y1="113" x2="242.3" y2="115" stroke="#6e6e6e" stroke-width="0.9"/>
<text x="242.3" y="125" font-size="8.7" text-anchor="middle" stroke="#2a2a2a" stroke-width="0.22">−25</text>
<line x1="273" y1="113" x2="273" y2="115" stroke="#6e6e6e" stroke-width="0.9"/>
<text x="273" y="125" font-size="8.7" text-anchor="middle" stroke="#2a2a2a" stroke-width="0.22">0</text>
<line x1="303.6" y1="113" x2="303.6" y2="115" stroke="#6e6e6e" stroke-width="0.9"/>
<text x="303.6" y="125" font-size="8.7" text-anchor="middle" stroke="#2a2a2a" stroke-width="0.22">25</text>
<line x1="334.3" y1="113" x2="334.3" y2="115" stroke="#6e6e6e" stroke-width="0.9"/>
<text x="334.3" y="125" font-size="8.7" text-anchor="middle" stroke="#2a2a2a" stroke-width="0.22">50</text>
<line x1="199.3" y1="17.2" x2="201.3" y2="17.2" stroke="#6e6e6e" stroke-width="0.9"/>
<text x="196.5" y="20.1" font-size="8.7" text-anchor="end" stroke="#2a2a2a" stroke-width="0.22">50</text>
<line x1="199.3" y1="40.6" x2="201.3" y2="40.6" stroke="#6e6e6e" stroke-width="0.9"/>
<text x="196.5" y="43.4" font-size="8.7" text-anchor="end" stroke="#2a2a2a" stroke-width="0.22">25</text>
<line x1="199.3" y1="64" x2="201.3" y2="64" stroke="#6e6e6e" stroke-width="0.9"/>
<text x="196.5" y="66.8" font-size="8.7" text-anchor="end" stroke="#2a2a2a" stroke-width="0.22">0</text>
<line x1="199.3" y1="87.4" x2="201.3" y2="87.4" stroke="#6e6e6e" stroke-width="0.9"/>
<text x="196.5" y="90.2" font-size="8.7" text-anchor="end" stroke="#2a2a2a" stroke-width="0.22">−25</text>
<line x1="199.3" y1="110.8" x2="201.3" y2="110.8" stroke="#6e6e6e" stroke-width="0.9"/>
<text x="196.5" y="113.5" font-size="8.7" text-anchor="end" stroke="#2a2a2a" stroke-width="0.22">−50</text>
<text x="271.5" y="137" font-size="8.6" text-anchor="middle" stroke="#2a2a2a" stroke-width="0.22"><tspan font-style="italic">t</tspan>-SNE1</text>
<circle cx="382.4" cy="43.6" r="1.1" fill="#e5191b"/>
<circle cx="382.6" cy="41" r="1.1" fill="#e5191b"/>
<circle cx="379.6" cy="41.3" r="1.1" fill="#e5191b"/>
<circle cx="388.2" cy="43.4" r="1.1" fill="#e5191b"/>
<circle cx="387.9" cy="42.8" r="1.1" fill="#e5191b"/>
<circle cx="385.2" cy="42.6" r="1.1" fill="#e5191b"/>
<circle cx="376.5" cy="44.7" r="1.1" fill="#e5191b"/>
<circle cx="385.6" cy="43.6" r="1.1" fill="#e5191b"/>
<circle cx="376.4" cy="36.4" r="1.1" fill="#e5191b"/>
<circle cx="379.8" cy="40.5" r="1.1" fill="#e5191b"/>
<circle cx="384.8" cy="41.9" r="1.1" fill="#e5191b"/>
<circle cx="385.7" cy="39.9" r="1.1" fill="#e5191b"/>
<circle cx="384.8" cy="43.3" r="1.1" fill="#e5191b"/>
<circle cx="380.7" cy="47.5" r="1.1" fill="#e5191b"/>
<circle cx="385.8" cy="45.8" r="1.1" fill="#e5191b"/>
<circle cx="380.9" cy="39.6" r="1.1" fill="#e5191b"/>
<circle cx="382.1" cy="41.7" r="1.1" fill="#e5191b"/>
<circle cx="386.2" cy="42.8" r="1.1" fill="#e5191b"/>
<circle cx="381.6" cy="38.9" r="1.1" fill="#e5191b"/>
<circle cx="381.3" cy="45.9" r="1.1" fill="#e5191b"/>
<circle cx="380.1" cy="42.8" r="1.1" fill="#e5191b"/>
<circle cx="385.3" cy="37.2" r="1.1" fill="#e5191b"/>
<circle cx="383.7" cy="46.2" r="1.1" fill="#e5191b"/>
<circle cx="375" cy="41" r="1.1" fill="#e5191b"/>
<circle cx="383.1" cy="39.4" r="1.1" fill="#e5191b"/>
<circle cx="385.6" cy="41.8" r="1.1" fill="#e5191b"/>
<circle cx="377.3" cy="44.6" r="1.1" fill="#e5191b"/>
<circle cx="386.3" cy="45" r="1.1" fill="#e5191b"/>
<circle cx="389.6" cy="43.2" r="1.1" fill="#e5191b"/>
<circle cx="384" cy="37.8" r="1.1" fill="#e5191b"/>
<circle cx="386.1" cy="40" r="1.1" fill="#e5191b"/>
<circle cx="381.6" cy="38" r="1.1" fill="#e5191b"/>
<circle cx="379.4" cy="40.3" r="1.1" fill="#e5191b"/>
<circle cx="388.9" cy="35.5" r="1.1" fill="#e5191b"/>
<circle cx="377.4" cy="42.8" r="1.1" fill="#e5191b"/>
<circle cx="389.6" cy="43.9" r="1.1" fill="#e5191b"/>
<circle cx="375.5" cy="33.9" r="1.1" fill="#e5191b"/>
<circle cx="385" cy="39.6" r="1.1" fill="#e5191b"/>
<circle cx="378.8" cy="45.1" r="1.1" fill="#e5191b"/>
<circle cx="388.1" cy="42.5" r="1.1" fill="#e5191b"/>
<circle cx="384.5" cy="43.4" r="1.1" fill="#e5191b"/>
<circle cx="390.2" cy="44" r="1.1" fill="#e5191b"/>
<circle cx="385.7" cy="43.8" r="1.1" fill="#e5191b"/>
<circle cx="376.9" cy="46.1" r="1.1" fill="#e5191b"/>
<circle cx="387.5" cy="43.7" r="1.1" fill="#e5191b"/>
<circle cx="375.2" cy="40" r="1.1" fill="#e5191b"/>
<circle cx="387" cy="36.2" r="1.1" fill="#e5191b"/>
<circle cx="382.7" cy="45.3" r="1.1" fill="#e5191b"/>
<circle cx="378" cy="47.2" r="1.1" fill="#e5191b"/>
<circle cx="385.8" cy="41.5" r="1.1" fill="#e5191b"/>
<circle cx="384.9" cy="44.1" r="1.1" fill="#e5191b"/>
<circle cx="384" cy="45.7" r="1.1" fill="#e5191b"/>
<circle cx="380.7" cy="40.7" r="1.1" fill="#e5191b"/>
<circle cx="387.9" cy="42.1" r="1.1" fill="#e5191b"/>
<circle cx="379.8" cy="45" r="1.1" fill="#e5191b"/>
<circle cx="389.7" cy="40.6" r="1.1" fill="#e5191b"/>
<circle cx="377.7" cy="41.6" r="1.1" fill="#e5191b"/>
<circle cx="382.9" cy="41" r="1.1" fill="#e5191b"/>
<circle cx="389.4" cy="38.7" r="1.1" fill="#e5191b"/>
<circle cx="388.8" cy="37.9" r="1.1" fill="#e5191b"/>
<circle cx="386" cy="50.4" r="1.1" fill="#e5191b"/>
<circle cx="390.8" cy="50.9" r="1.1" fill="#e5191b"/>
<circle cx="388.9" cy="49.3" r="1.1" fill="#e5191b"/>
<circle cx="388.4" cy="50.3" r="1.1" fill="#e5191b"/>
<circle cx="387.6" cy="49.6" r="1.1" fill="#e5191b"/>
<circle cx="389.4" cy="49" r="1.1" fill="#e5191b"/>
<circle cx="389.9" cy="50.2" r="1.1" fill="#e5191b"/>
<circle cx="393" cy="49.7" r="1.1" fill="#e5191b"/>
<circle cx="386.9" cy="48.2" r="1.1" fill="#e5191b"/>
<circle cx="388" cy="51" r="1.1" fill="#e5191b"/>
<circle cx="426" cy="45.4" r="1.1" fill="#e5191b"/>
<circle cx="432.5" cy="42.4" r="1.1" fill="#e5191b"/>
<circle cx="423.6" cy="45.2" r="1.1" fill="#e5191b"/>
<circle cx="428.2" cy="45.2" r="1.1" fill="#e5191b"/>
<circle cx="425.7" cy="45.7" r="1.1" fill="#e5191b"/>
<circle cx="427.8" cy="44.5" r="1.1" fill="#e5191b"/>
<circle cx="434.3" cy="45.4" r="1.1" fill="#e5191b"/>
<circle cx="425.3" cy="44.9" r="1.1" fill="#e5191b"/>
<circle cx="426.3" cy="44.9" r="1.1" fill="#e5191b"/>
<circle cx="418.8" cy="44.5" r="1.1" fill="#e5191b"/>
<circle cx="430" cy="43.8" r="1.1" fill="#e5191b"/>
<circle cx="426.8" cy="46" r="1.1" fill="#e5191b"/>
<circle cx="444" cy="53.2" r="1.1" fill="#e5191b"/>
<circle cx="435" cy="48" r="1.1" fill="#e5191b"/>
<circle cx="439.8" cy="50.7" r="1.1" fill="#e5191b"/>
<circle cx="444.8" cy="41.5" r="1.1" fill="#e5191b"/>
<circle cx="444.8" cy="44.9" r="1.1" fill="#e5191b"/>
<circle cx="443.4" cy="44.8" r="1.1" fill="#e5191b"/>
<circle cx="441.6" cy="52.3" r="1.1" fill="#e5191b"/>
<circle cx="440.5" cy="49.5" r="1.1" fill="#e5191b"/>
<circle cx="443.8" cy="49.4" r="1.1" fill="#e5191b"/>
<circle cx="440.7" cy="53.3" r="1.1" fill="#e5191b"/>
<circle cx="444.7" cy="48.2" r="1.1" fill="#e5191b"/>
<circle cx="450.6" cy="45.8" r="1.1" fill="#e5191b"/>
<circle cx="444.2" cy="48.3" r="1.1" fill="#e5191b"/>
<circle cx="441.5" cy="51" r="1.1" fill="#e5191b"/>
<circle cx="441.8" cy="50.8" r="1.1" fill="#e5191b"/>
<circle cx="435.7" cy="44.8" r="1.1" fill="#e5191b"/>
<circle cx="443.2" cy="46.3" r="1.1" fill="#e5191b"/>
<circle cx="437.4" cy="44.9" r="1.1" fill="#e5191b"/>
<circle cx="445.4" cy="51.1" r="1.1" fill="#e5191b"/>
<circle cx="446.2" cy="46.4" r="1.1" fill="#e5191b"/>
<circle cx="441" cy="45.8" r="1.1" fill="#e5191b"/>
<circle cx="443.7" cy="53.5" r="1.1" fill="#e5191b"/>
<circle cx="449" cy="53.9" r="1.1" fill="#e5191b"/>
<circle cx="457.4" cy="49.6" r="1.1" fill="#e5191b"/>
<circle cx="444.1" cy="53.5" r="1.1" fill="#e5191b"/>
<circle cx="452.6" cy="48.5" r="1.1" fill="#e5191b"/>
<circle cx="454.8" cy="51" r="1.1" fill="#e5191b"/>
<circle cx="459.7" cy="47.4" r="1.1" fill="#e5191b"/>
<circle cx="458.1" cy="53.7" r="1.1" fill="#e5191b"/>
<circle cx="459.5" cy="49.5" r="1.1" fill="#e5191b"/>
<circle cx="449.7" cy="52.5" r="1.1" fill="#e5191b"/>
<circle cx="453.5" cy="50.3" r="1.1" fill="#e5191b"/>
<circle cx="459.4" cy="49.3" r="1.1" fill="#e5191b"/>
<circle cx="442.7" cy="49" r="1.1" fill="#e5191b"/>
<circle cx="444.7" cy="52" r="1.1" fill="#e5191b"/>
<circle cx="454.4" cy="48.5" r="1.1" fill="#e5191b"/>
<circle cx="453" cy="52.1" r="1.1" fill="#e5191b"/>
<circle cx="453.4" cy="53.3" r="1.1" fill="#e5191b"/>
<circle cx="452.7" cy="52.6" r="1.1" fill="#e5191b"/>
<circle cx="459.7" cy="54" r="1.1" fill="#e5191b"/>
<circle cx="450" cy="52.2" r="1.1" fill="#e5191b"/>
<circle cx="444.6" cy="47.3" r="1.1" fill="#e5191b"/>
<circle cx="435.8" cy="77.8" r="1.1" fill="#e5191b"/>
<circle cx="438.8" cy="75" r="1.1" fill="#e5191b"/>
<circle cx="443.2" cy="74.9" r="1.1" fill="#e5191b"/>
<circle cx="441.5" cy="75.6" r="1.1" fill="#e5191b"/>
<circle cx="451.5" cy="75.1" r="1.1" fill="#e5191b"/>
<circle cx="446.2" cy="77.6" r="1.1" fill="#e5191b"/>
<circle cx="443.2" cy="71.7" r="1.1" fill="#e5191b"/>
<circle cx="441.7" cy="77.8" r="1.1" fill="#e5191b"/>
<circle cx="437.1" cy="73.4" r="1.1" fill="#e5191b"/>
<circle cx="448.2" cy="77.1" r="1.1" fill="#e5191b"/>
<circle cx="444" cy="77.1" r="1.1" fill="#e5191b"/>
<circle cx="444.7" cy="71.9" r="1.1" fill="#e5191b"/>
<circle cx="437.4" cy="73.3" r="1.1" fill="#e5191b"/>
<circle cx="447.9" cy="73.5" r="1.1" fill="#e5191b"/>
<circle cx="440.2" cy="73" r="1.1" fill="#e5191b"/>
<circle cx="437.6" cy="74.7" r="1.1" fill="#e5191b"/>
<circle cx="439" cy="75.9" r="1.1" fill="#e5191b"/>
<circle cx="434.1" cy="75.9" r="1.1" fill="#e5191b"/>
<circle cx="441.3" cy="70" r="1.1" fill="#e5191b"/>
<circle cx="447" cy="74.3" r="1.1" fill="#e5191b"/>
<circle cx="434.6" cy="72.7" r="1.1" fill="#e5191b"/>
<circle cx="445.2" cy="73.8" r="1.1" fill="#e5191b"/>
<circle cx="447.3" cy="76.9" r="1.1" fill="#e5191b"/>
<circle cx="446.8" cy="75.8" r="1.1" fill="#e5191b"/>
<circle cx="449.6" cy="76.7" r="1.1" fill="#e5191b"/>
<circle cx="445.9" cy="69.6" r="1.1" fill="#e5191b"/>
<circle cx="447.8" cy="78.4" r="1.1" fill="#e5191b"/>
<circle cx="442.8" cy="73.8" r="1.1" fill="#e5191b"/>
<circle cx="443.2" cy="88.6" r="1.1" fill="#e5191b"/>
<circle cx="438.5" cy="100.3" r="1.1" fill="#e5191b"/>
<circle cx="434" cy="95.4" r="1.1" fill="#e5191b"/>
<circle cx="443" cy="93.2" r="1.1" fill="#e5191b"/>
<circle cx="438.8" cy="96" r="1.1" fill="#e5191b"/>
<circle cx="434.1" cy="93.3" r="1.1" fill="#e5191b"/>
<circle cx="437.9" cy="95.8" r="1.1" fill="#e5191b"/>
<circle cx="436.9" cy="93" r="1.1" fill="#e5191b"/>
<circle cx="433.7" cy="92.5" r="1.1" fill="#e5191b"/>
<circle cx="439.9" cy="93.8" r="1.1" fill="#e5191b"/>
<circle cx="434.3" cy="91.1" r="1.1" fill="#e5191b"/>
<circle cx="445.5" cy="96.7" r="1.1" fill="#e5191b"/>
<circle cx="439" cy="86.2" r="1.1" fill="#e5191b"/>
<circle cx="439" cy="94.8" r="1.1" fill="#e5191b"/>
<circle cx="442.4" cy="94.7" r="1.1" fill="#e5191b"/>
<circle cx="436.8" cy="95" r="1.1" fill="#e5191b"/>
<circle cx="430.8" cy="96.4" r="1.1" fill="#e5191b"/>
<circle cx="438" cy="91.5" r="1.1" fill="#e5191b"/>
<circle cx="441.2" cy="98.6" r="1.1" fill="#e5191b"/>
<circle cx="432.5" cy="91.6" r="1.1" fill="#e5191b"/>
<circle cx="437.9" cy="94" r="1.1" fill="#e5191b"/>
<circle cx="435.7" cy="90.8" r="1.1" fill="#e5191b"/>
<circle cx="443.8" cy="96.4" r="1.1" fill="#e5191b"/>
<circle cx="433.2" cy="89.7" r="1.1" fill="#e5191b"/>
<circle cx="462.4" cy="96.2" r="1.1" fill="#e5191b"/>
<circle cx="463" cy="96" r="1.1" fill="#e5191b"/>
<circle cx="448.2" cy="95.3" r="1.1" fill="#e5191b"/>
<circle cx="441.1" cy="94.1" r="1.1" fill="#e5191b"/>
<circle cx="452.7" cy="95.6" r="1.1" fill="#e5191b"/>
<circle cx="449" cy="94.9" r="1.1" fill="#e5191b"/>
<circle cx="455.5" cy="95.5" r="1.1" fill="#e5191b"/>
<circle cx="456.5" cy="95.3" r="1.1" fill="#e5191b"/>
<circle cx="451.2" cy="95.9" r="1.1" fill="#e5191b"/>
<circle cx="453.3" cy="94" r="1.1" fill="#e5191b"/>
<circle cx="449.6" cy="95" r="1.1" fill="#e5191b"/>
<circle cx="452.4" cy="95.2" r="1.1" fill="#e5191b"/>
<circle cx="472.5" cy="72.3" r="1.1" fill="#e5191b"/>
<circle cx="471.9" cy="69.7" r="1.1" fill="#e5191b"/>
<circle cx="474.3" cy="73.9" r="1.1" fill="#e5191b"/>
<circle cx="474.3" cy="71.7" r="1.1" fill="#e5191b"/>
<circle cx="474.4" cy="70.3" r="1.1" fill="#e5191b"/>
<circle cx="464.5" cy="72.1" r="1.1" fill="#e5191b"/>
<circle cx="468.6" cy="73.3" r="1.1" fill="#e5191b"/>
<circle cx="467.9" cy="67.3" r="1.1" fill="#e5191b"/>
<circle cx="468.1" cy="74.8" r="1.1" fill="#e5191b"/>
<circle cx="470.9" cy="69.5" r="1.1" fill="#e5191b"/>
<circle cx="469.3" cy="72.9" r="1.1" fill="#e5191b"/>
<circle cx="474.6" cy="72.3" r="1.1" fill="#e5191b"/>
<circle cx="478.7" cy="73.3" r="1.1" fill="#e5191b"/>
<circle cx="472.4" cy="73.1" r="1.1" fill="#e5191b"/>
<circle cx="479.4" cy="73.7" r="1.1" fill="#e5191b"/>
<circle cx="476.8" cy="70.1" r="1.1" fill="#e5191b"/>
<circle cx="471.9" cy="73.3" r="1.1" fill="#e5191b"/>
<circle cx="471.3" cy="73.9" r="1.1" fill="#e5191b"/>
<circle cx="475" cy="73.6" r="1.1" fill="#e5191b"/>
<circle cx="471.6" cy="76.6" r="1.1" fill="#e5191b"/>
<circle cx="477.7" cy="71.6" r="1.1" fill="#e5191b"/>
<circle cx="472.9" cy="76.7" r="1.1" fill="#e5191b"/>
<circle cx="496.6" cy="86.7" r="1.1" fill="#e5191b"/>
<circle cx="502.1" cy="85" r="1.1" fill="#e5191b"/>
<circle cx="493.1" cy="85.4" r="1.1" fill="#e5191b"/>
<circle cx="499.5" cy="87.3" r="1.1" fill="#e5191b"/>
<circle cx="501.3" cy="85" r="1.1" fill="#e5191b"/>
<circle cx="501.6" cy="86.1" r="1.1" fill="#e5191b"/>
<circle cx="498.9" cy="85.1" r="1.1" fill="#e5191b"/>
<circle cx="497" cy="86.4" r="1.1" fill="#e5191b"/>
<circle cx="493.6" cy="83.7" r="1.1" fill="#e5191b"/>
<circle cx="498" cy="82.1" r="1.1" fill="#e5191b"/>
<circle cx="496.2" cy="81" r="1.1" fill="#e5191b"/>
<circle cx="495.1" cy="86.1" r="1.1" fill="#e5191b"/>
<circle cx="500.4" cy="84.9" r="1.1" fill="#e5191b"/>
<circle cx="497" cy="82.2" r="1.1" fill="#e5191b"/>
<circle cx="505.7" cy="86" r="1.1" fill="#e5191b"/>
<circle cx="502.6" cy="83.2" r="1.1" fill="#e5191b"/>
<circle cx="497.2" cy="81.4" r="1.1" fill="#e5191b"/>
<circle cx="501.3" cy="86.9" r="1.1" fill="#e5191b"/>
<circle cx="490" cy="84.9" r="1.1" fill="#e5191b"/>
<circle cx="500.6" cy="81.5" r="1.1" fill="#e5191b"/>
<circle cx="490.3" cy="82.9" r="1.1" fill="#e5191b"/>
<circle cx="495.4" cy="82.2" r="1.1" fill="#e5191b"/>
<circle cx="498.1" cy="85.5" r="1.1" fill="#e5191b"/>
<circle cx="500.7" cy="86.4" r="1.1" fill="#e5191b"/>
<circle cx="485.8" cy="107.8" r="1.1" fill="#e5191b"/>
<circle cx="476.8" cy="103.1" r="1.1" fill="#e5191b"/>
<circle cx="477.6" cy="101.5" r="1.1" fill="#e5191b"/>
<circle cx="480.7" cy="104.5" r="1.1" fill="#e5191b"/>
<circle cx="482.6" cy="100.1" r="1.1" fill="#e5191b"/>
<circle cx="477" cy="104.4" r="1.1" fill="#e5191b"/>
<circle cx="480.4" cy="103.6" r="1.1" fill="#e5191b"/>
<circle cx="480.8" cy="102.4" r="1.1" fill="#e5191b"/>
<circle cx="483.2" cy="105.5" r="1.1" fill="#e5191b"/>
<circle cx="480.7" cy="102.6" r="1.1" fill="#e5191b"/>
<circle cx="480.4" cy="96.9" r="1.1" fill="#e5191b"/>
<circle cx="477.9" cy="104.6" r="1.1" fill="#e5191b"/>
<circle cx="476.2" cy="105.1" r="1.1" fill="#e5191b"/>
<circle cx="481.5" cy="100.6" r="1.1" fill="#e5191b"/>
<circle cx="480.2" cy="103.6" r="1.1" fill="#e5191b"/>
<circle cx="482.5" cy="106.2" r="1.1" fill="#e5191b"/>
<circle cx="480.9" cy="102.1" r="1.1" fill="#e5191b"/>
<circle cx="480.5" cy="104.3" r="1.1" fill="#e5191b"/>
<circle cx="483.4" cy="105.3" r="1.1" fill="#e5191b"/>
<circle cx="478.7" cy="100.7" r="1.1" fill="#e5191b"/>
<circle cx="479.8" cy="102.4" r="1.1" fill="#e5191b"/>
<circle cx="477.4" cy="104.2" r="1.1" fill="#e5191b"/>
<circle cx="479.4" cy="104.8" r="1.1" fill="#e5191b"/>
<circle cx="482.7" cy="103.3" r="1.1" fill="#e5191b"/>
<circle cx="488.4" cy="103.6" r="1.1" fill="#e5191b"/>
<circle cx="484.5" cy="104.8" r="1.1" fill="#e5191b"/>
<circle cx="478" cy="92.7" r="1.1" fill="#e5191b"/>
<circle cx="474.6" cy="97.4" r="1.1" fill="#e5191b"/>
<circle cx="477.1" cy="101.2" r="1.1" fill="#e5191b"/>
<circle cx="476.6" cy="99.3" r="1.1" fill="#e5191b"/>
<circle cx="477.4" cy="98.7" r="1.1" fill="#e5191b"/>
<circle cx="476.9" cy="96.7" r="1.1" fill="#e5191b"/>
<circle cx="419.5" cy="61.4" r="1.1" fill="#e5191b"/>
<circle cx="452" cy="63" r="1.1" fill="#e5191b"/>
<circle cx="457" cy="66" r="1.1" fill="#e5191b"/>
<circle cx="471.3" cy="54" r="1.1" fill="#e5191b"/>
<circle cx="478" cy="61" r="1.1" fill="#e5191b"/>
<circle cx="481" cy="63.5" r="1.1" fill="#e5191b"/>
<circle cx="445" cy="68" r="1.1" fill="#e5191b"/>
<circle cx="463" cy="58" r="1.1" fill="#e5191b"/>
<circle cx="466" cy="80" r="1.1" fill="#e5191b"/>
<circle cx="486" cy="82" r="1.1" fill="#e5191b"/>
<circle cx="385.3" cy="52.7" r="1.1" fill="#0d0d0d"/>
<circle cx="386" cy="54.3" r="1.1" fill="#0d0d0d"/>
<circle cx="401.2" cy="43.7" r="1.1" fill="#0d0d0d"/>
<circle cx="410.2" cy="45.5" r="1.1" fill="#0d0d0d"/>
<circle cx="474.5" cy="60" r="1.1" fill="#0d0d0d"/>
<circle cx="466" cy="70" r="1.1" fill="#0d0d0d"/>
<circle cx="443.8" cy="81.5" r="1.1" fill="#0d0d0d"/>
<circle cx="467" cy="85.8" r="1.1" fill="#0d0d0d"/>
<circle cx="469.2" cy="91" r="1.1" fill="#0d0d0d"/>
<circle cx="490.4" cy="85.8" r="1.1" fill="#0d0d0d"/>
<circle cx="456" cy="39" r="1.1" fill="#0d0d0d"/>
<circle cx="411" cy="44.5" r="1.1" fill="#0d0d0d"/>
<path d="M431 27 L436 26 L440 26.5 L443 28 M446 29.5 L452 33 L457.5 36.5" stroke="#0d0d0d" stroke-width="1.9" fill="none" stroke-linecap="round"/>
<circle cx="438" cy="25.5" r="1.5" fill="#0d0d0d"/>
<circle cx="441" cy="33" r="1.1" fill="#0d0d0d"/>
<circle cx="444.4" cy="37.5" r="1" fill="#0d0d0d"/>
<ellipse cx="445.3" cy="32.2" rx="19.8" ry="6" fill="none" stroke="#333" stroke-width="0.9" transform="rotate(20 445.3 32.2)" stroke-dasharray="1.2 1.6"/>
<ellipse cx="443" cy="70.5" rx="74" ry="33" fill="none" stroke="#333" stroke-width="0.9" transform="rotate(21.6 443 70.5)" stroke-dasharray="1.2 1.6"/>
<circle cx="512" cy="72.7" r="1.3" fill="#0d0d0d"/>
<ellipse cx="512" cy="72.7" rx="3.2" ry="3.4" fill="none" stroke="#333" stroke-width="0.8" stroke-dasharray="1 1.2"/>
<rect x="370.6" y="22.8" width="146.8" height="90.2" fill="none" stroke="#8a8a8a" stroke-width="0.9"/>
<line x1="383.4" y1="113" x2="383.4" y2="115" stroke="#6e6e6e" stroke-width="0.9"/>
<text x="383.4" y="125" font-size="8.7" text-anchor="middle" stroke="#2a2a2a" stroke-width="0.22">−15</text>
<line x1="405" y1="113" x2="405" y2="115" stroke="#6e6e6e" stroke-width="0.9"/>
<text x="405" y="125" font-size="8.7" text-anchor="middle" stroke="#2a2a2a" stroke-width="0.22">−10</text>
<line x1="426.7" y1="113" x2="426.7" y2="115" stroke="#6e6e6e" stroke-width="0.9"/>
<text x="426.7" y="125" font-size="8.7" text-anchor="middle" stroke="#2a2a2a" stroke-width="0.22">−5</text>
<line x1="448.3" y1="113" x2="448.3" y2="115" stroke="#6e6e6e" stroke-width="0.9"/>
<text x="448.3" y="125" font-size="8.7" text-anchor="middle" stroke="#2a2a2a" stroke-width="0.22">0</text>
<line x1="469.9" y1="113" x2="469.9" y2="115" stroke="#6e6e6e" stroke-width="0.9"/>
<text x="469.9" y="125" font-size="8.7" text-anchor="middle" stroke="#2a2a2a" stroke-width="0.22">5</text>
<line x1="491.6" y1="113" x2="491.6" y2="115" stroke="#6e6e6e" stroke-width="0.9"/>
<text x="491.6" y="125" font-size="8.7" text-anchor="middle" stroke="#2a2a2a" stroke-width="0.22">10</text>
<line x1="513.2" y1="113" x2="513.2" y2="115" stroke="#6e6e6e" stroke-width="0.9"/>
<text x="513.2" y="125" font-size="8.7" text-anchor="middle" stroke="#2a2a2a" stroke-width="0.22">15</text>
<line x1="368.6" y1="33.4" x2="370.6" y2="33.4" stroke="#6e6e6e" stroke-width="0.9"/>
<text x="366.2" y="36.2" font-size="8.7" text-anchor="end" stroke="#2a2a2a" stroke-width="0.22">15</text>
<line x1="368.6" y1="44.7" x2="370.6" y2="44.7" stroke="#6e6e6e" stroke-width="0.9"/>
<text x="366.2" y="47.5" font-size="8.7" text-anchor="end" stroke="#2a2a2a" stroke-width="0.22">10</text>
<line x1="368.6" y1="56.1" x2="370.6" y2="56.1" stroke="#6e6e6e" stroke-width="0.9"/>
<text x="366.2" y="58.9" font-size="8.7" text-anchor="end" stroke="#2a2a2a" stroke-width="0.22">5</text>
<line x1="368.6" y1="67.4" x2="370.6" y2="67.4" stroke="#6e6e6e" stroke-width="0.9"/>
<text x="366.2" y="70.2" font-size="8.7" text-anchor="end" stroke="#2a2a2a" stroke-width="0.22">0</text>
<line x1="368.6" y1="78.8" x2="370.6" y2="78.8" stroke="#6e6e6e" stroke-width="0.9"/>
<text x="366.2" y="81.5" font-size="8.7" text-anchor="end" stroke="#2a2a2a" stroke-width="0.22">−5</text>
<line x1="368.6" y1="90.1" x2="370.6" y2="90.1" stroke="#6e6e6e" stroke-width="0.9"/>
<text x="366.2" y="92.9" font-size="8.7" text-anchor="end" stroke="#2a2a2a" stroke-width="0.22">−10</text>
<line x1="368.6" y1="101.5" x2="370.6" y2="101.5" stroke="#6e6e6e" stroke-width="0.9"/>
<text x="366.2" y="104.2" font-size="8.7" text-anchor="end" stroke="#2a2a2a" stroke-width="0.22">−15</text>
<text x="445" y="137" font-size="8.6" text-anchor="middle" stroke="#2a2a2a" stroke-width="0.22"><tspan font-style="italic">t</tspan>-SNE1</text>
<circle cx="39.6" cy="152.4" r="3.3" fill="#e5191b"/>
<text x="46" y="154.8" font-size="7">Cells with clonal mutations</text>
<circle cx="138" cy="152.4" r="3.3" fill="#0d0d0d"/>
<text x="144.5" y="154.8" font-size="7">Cells without clonal mutations</text>
<rect x="246.3" y="149.4" width="6.4" height="6.2" fill="#f5b662"/>
<text x="255" y="154.8" font-size="7">Myeloid</text>
<rect x="287.7" y="149.4" width="6.4" height="6.2" fill="#e0128c"/>
<text x="297.5" y="154.8" font-size="7">Astrocytes</text>
<rect x="336" y="149.4" width="6.4" height="6.2" fill="#3a4e9c"/>
<text x="345" y="154.8" font-size="7">Oligodendrocytes</text>
<rect x="407.5" y="149.4" width="6.4" height="6.2" fill="#9fd08f"/>
<text x="416" y="154.8" font-size="7">Endothelial cells</text>
<text x="1.5" y="178.6" font-size="11" font-weight="bold" fill="#111" stroke="#111" stroke-width="0.22">B</text>
<text x="39.5" y="181.5" font-size="8.6" stroke="#2a2a2a" stroke-width="0.22">10× scRNA-seq</text>
<circle cx="111.3" cy="188.6" r="1.9" fill="#b9b9bb"/>
<circle cx="117.7" cy="194.7" r="1.9" fill="#b9b9bb"/>
<circle cx="120.9" cy="194.6" r="1.9" fill="#b9b9bb"/>
<circle cx="127.7" cy="195" r="1.9" fill="#b9b9bb"/>
<circle cx="103.1" cy="197.6" r="1.9" fill="#b9b9bb"/>
<circle cx="122.5" cy="197.4" r="1.9" fill="#b9b9bb"/>
<circle cx="129.2" cy="197.9" r="1.9" fill="#b9b9bb"/>
<circle cx="74.7" cy="200.4" r="1.9" fill="#b9b9bb"/>
<circle cx="78.6" cy="200.2" r="1.9" fill="#b9b9bb"/>
<circle cx="111.3" cy="200.2" r="1.9" fill="#b9b9bb"/>
<circle cx="114.6" cy="200.6" r="1.9" fill="#b9b9bb"/>
<circle cx="117.7" cy="200.3" r="1.9" fill="#b9b9bb"/>
<circle cx="70.3" cy="203" r="1.9" fill="#b9b9bb"/>
<circle cx="86.3" cy="203.3" r="1.9" fill="#b9b9bb"/>
<circle cx="109.4" cy="203.3" r="1.9" fill="#b9b9bb"/>
<circle cx="113.1" cy="203.4" r="1.9" fill="#b9b9bb"/>
<circle cx="126.1" cy="203.6" r="1.9" fill="#b9b9bb"/>
<circle cx="133" cy="203.7" r="1.9" fill="#b9b9bb"/>
<circle cx="55" cy="205.9" r="1.9" fill="#b9b9bb"/>
<circle cx="78.3" cy="206" r="1.9" fill="#b9b9bb"/>
<circle cx="81.6" cy="206.1" r="1.9" fill="#b9b9bb"/>
<circle cx="94.6" cy="206.3" r="1.9" fill="#b9b9bb"/>
<circle cx="114.8" cy="206.4" r="1.9" fill="#b9b9bb"/>
<circle cx="121.1" cy="206.5" r="1.9" fill="#b9b9bb"/>
<circle cx="124.9" cy="206.5" r="1.9" fill="#b9b9bb"/>
<circle cx="127.6" cy="206.3" r="1.9" fill="#b9b9bb"/>
<circle cx="130.8" cy="206.4" r="1.9" fill="#b9b9bb"/>
<circle cx="140.9" cy="206.3" r="1.9" fill="#b9b9bb"/>
<circle cx="144.1" cy="206.3" r="1.9" fill="#b9b9bb"/>
<circle cx="60.3" cy="209.3" r="1.9" fill="#b9b9bb"/>
<circle cx="63.4" cy="209.2" r="1.9" fill="#b9b9bb"/>
<circle cx="69.8" cy="209" r="1.9" fill="#b9b9bb"/>
<circle cx="73.7" cy="209.3" r="1.9" fill="#b9b9bb"/>
<circle cx="86.6" cy="209" r="1.9" fill="#b9b9bb"/>
<circle cx="96.8" cy="209.2" r="1.9" fill="#b9b9bb"/>
<circle cx="106.7" cy="209.3" r="1.9" fill="#b9b9bb"/>
<circle cx="119.7" cy="208.7" r="1.9" fill="#b9b9bb"/>
<circle cx="122.8" cy="208.6" r="1.9" fill="#b9b9bb"/>
<circle cx="126.3" cy="209.1" r="1.9" fill="#b9b9bb"/>
<circle cx="129.8" cy="209.2" r="1.9" fill="#b9b9bb"/>
<circle cx="61.8" cy="212" r="1.9" fill="#b9b9bb"/>
<circle cx="65.5" cy="211.8" r="1.9" fill="#b9b9bb"/>
<circle cx="74.8" cy="212" r="1.9" fill="#b9b9bb"/>
<circle cx="81.8" cy="211.7" r="1.9" fill="#b9b9bb"/>
<circle cx="84.7" cy="211.5" r="1.9" fill="#b9b9bb"/>
<circle cx="88.4" cy="211.8" r="1.9" fill="#b9b9bb"/>
<circle cx="98.5" cy="212.2" r="1.9" fill="#b9b9bb"/>
<circle cx="101.7" cy="211.8" r="1.9" fill="#b9b9bb"/>
<circle cx="105.1" cy="211.7" r="1.9" fill="#b9b9bb"/>
<circle cx="108.3" cy="212.1" r="1.9" fill="#b9b9bb"/>
<circle cx="111.7" cy="212.1" r="1.9" fill="#b9b9bb"/>
<circle cx="118" cy="211.8" r="1.9" fill="#b9b9bb"/>
<circle cx="120.8" cy="211.9" r="1.9" fill="#b9b9bb"/>
<circle cx="124.5" cy="212" r="1.9" fill="#b9b9bb"/>
<circle cx="131.2" cy="211.8" r="1.9" fill="#b9b9bb"/>
<circle cx="60.1" cy="214.5" r="1.9" fill="#b9b9bb"/>
<circle cx="63.6" cy="215" r="1.9" fill="#b9b9bb"/>
<circle cx="66.4" cy="215" r="1.9" fill="#b9b9bb"/>
<circle cx="76.6" cy="214.5" r="1.9" fill="#b9b9bb"/>
<circle cx="83.4" cy="215.1" r="1.9" fill="#b9b9bb"/>
<circle cx="86.6" cy="214.9" r="1.9" fill="#b9b9bb"/>
<circle cx="93" cy="214.4" r="1.9" fill="#b9b9bb"/>
<circle cx="99.4" cy="214.8" r="1.9" fill="#b9b9bb"/>
<circle cx="103.2" cy="214.6" r="1.9" fill="#b9b9bb"/>
<circle cx="109.4" cy="214.9" r="1.9" fill="#b9b9bb"/>
<circle cx="112.8" cy="214.9" r="1.9" fill="#b9b9bb"/>
<circle cx="119.3" cy="214.6" r="1.9" fill="#b9b9bb"/>
<circle cx="125.8" cy="214.9" r="1.9" fill="#b9b9bb"/>
<circle cx="55.2" cy="217.8" r="1.9" fill="#b9b9bb"/>
<circle cx="58.2" cy="217.8" r="1.9" fill="#b9b9bb"/>
<circle cx="65.2" cy="217.3" r="1.9" fill="#b9b9bb"/>
<circle cx="74.8" cy="217.8" r="1.9" fill="#b9b9bb"/>
<circle cx="78.5" cy="217.5" r="1.9" fill="#b9b9bb"/>
<circle cx="82" cy="217.7" r="1.9" fill="#b9b9bb"/>
<circle cx="84.9" cy="217.8" r="1.9" fill="#b9b9bb"/>
<circle cx="95.1" cy="217.7" r="1.9" fill="#b9b9bb"/>
<circle cx="118.1" cy="217.8" r="1.9" fill="#b9b9bb"/>
<circle cx="121.1" cy="217.3" r="1.9" fill="#b9b9bb"/>
<circle cx="130.8" cy="217.4" r="1.9" fill="#b9b9bb"/>
<circle cx="138.1" cy="217.2" r="1.9" fill="#b9b9bb"/>
<circle cx="144.4" cy="217.8" r="1.9" fill="#b9b9bb"/>
<circle cx="147.2" cy="217.6" r="1.9" fill="#b9b9bb"/>
<circle cx="60.2" cy="220.5" r="1.9" fill="#b9b9bb"/>
<circle cx="63.8" cy="220.6" r="1.9" fill="#b9b9bb"/>
<circle cx="66.4" cy="220.4" r="1.9" fill="#b9b9bb"/>
<circle cx="70.3" cy="220.6" r="1.9" fill="#b9b9bb"/>
<circle cx="76.4" cy="220.3" r="1.9" fill="#b9b9bb"/>
<circle cx="80.2" cy="220.5" r="1.9" fill="#b9b9bb"/>
<circle cx="89.9" cy="220.2" r="1.9" fill="#b9b9bb"/>
<circle cx="96.7" cy="220.7" r="1.9" fill="#b9b9bb"/>
<circle cx="102.9" cy="220.6" r="1.9" fill="#b9b9bb"/>
<circle cx="106.3" cy="220.4" r="1.9" fill="#b9b9bb"/>
<circle cx="113.2" cy="220.3" r="1.9" fill="#b9b9bb"/>
<circle cx="119.9" cy="220.1" r="1.9" fill="#b9b9bb"/>
<circle cx="126.2" cy="220.5" r="1.9" fill="#b9b9bb"/>
<circle cx="129.7" cy="220.3" r="1.9" fill="#b9b9bb"/>
<circle cx="132.4" cy="220.3" r="1.9" fill="#b9b9bb"/>
<circle cx="149.2" cy="220.4" r="1.9" fill="#b9b9bb"/>
<circle cx="58.8" cy="223" r="1.9" fill="#b9b9bb"/>
<circle cx="61.5" cy="223.5" r="1.9" fill="#b9b9bb"/>
<circle cx="68.3" cy="223.6" r="1.9" fill="#b9b9bb"/>
<circle cx="71.4" cy="223.1" r="1.9" fill="#b9b9bb"/>
<circle cx="74.7" cy="223.2" r="1.9" fill="#b9b9bb"/>
<circle cx="78.6" cy="223.3" r="1.9" fill="#b9b9bb"/>
<circle cx="81.7" cy="223.5" r="1.9" fill="#b9b9bb"/>
<circle cx="88.1" cy="223.2" r="1.9" fill="#b9b9bb"/>
<circle cx="91.4" cy="223.5" r="1.9" fill="#b9b9bb"/>
<circle cx="101.5" cy="222.9" r="1.9" fill="#b9b9bb"/>
<circle cx="104.6" cy="223.4" r="1.9" fill="#b9b9bb"/>
<circle cx="107.9" cy="223.3" r="1.9" fill="#b9b9bb"/>
<circle cx="117.6" cy="223.5" r="1.9" fill="#b9b9bb"/>
<circle cx="124.4" cy="223.3" r="1.9" fill="#b9b9bb"/>
<circle cx="128" cy="223.7" r="1.9" fill="#b9b9bb"/>
<circle cx="141.4" cy="223.4" r="1.9" fill="#b9b9bb"/>
<circle cx="144" cy="223.1" r="1.9" fill="#b9b9bb"/>
<circle cx="49.9" cy="225.9" r="1.9" fill="#b9b9bb"/>
<circle cx="63.6" cy="226.4" r="1.9" fill="#b9b9bb"/>
<circle cx="66.8" cy="226.4" r="1.9" fill="#b9b9bb"/>
<circle cx="69.8" cy="226.2" r="1.9" fill="#b9b9bb"/>
<circle cx="73.3" cy="226.2" r="1.9" fill="#b9b9bb"/>
<circle cx="76.7" cy="226" r="1.9" fill="#b9b9bb"/>
<circle cx="79.8" cy="226.3" r="1.9" fill="#b9b9bb"/>
<circle cx="83.4" cy="225.9" r="1.9" fill="#b9b9bb"/>
<circle cx="89.8" cy="226.1" r="1.9" fill="#b9b9bb"/>
<circle cx="93.3" cy="226.4" r="1.9" fill="#b9b9bb"/>
<circle cx="96.4" cy="226.6" r="1.9" fill="#b9b9bb"/>
<circle cx="106.3" cy="226.2" r="1.9" fill="#b9b9bb"/>
<circle cx="113" cy="226.1" r="1.9" fill="#b9b9bb"/>
<circle cx="119.2" cy="226.4" r="1.9" fill="#b9b9bb"/>
<circle cx="136.1" cy="225.8" r="1.9" fill="#b9b9bb"/>
<circle cx="139.3" cy="226.2" r="1.9" fill="#b9b9bb"/>
<circle cx="146.1" cy="226.2" r="1.9" fill="#b9b9bb"/>
<circle cx="149.1" cy="226.1" r="1.9" fill="#b9b9bb"/>
<circle cx="152.2" cy="226.5" r="1.9" fill="#b9b9bb"/>
<circle cx="201.8" cy="226" r="1.9" fill="#b9b9bb"/>
<circle cx="51.9" cy="229.4" r="1.9" fill="#b9b9bb"/>
<circle cx="58.3" cy="228.9" r="1.9" fill="#b9b9bb"/>
<circle cx="68.7" cy="228.9" r="1.9" fill="#b9b9bb"/>
<circle cx="71.4" cy="229.3" r="1.9" fill="#b9b9bb"/>
<circle cx="78.4" cy="228.8" r="1.9" fill="#b9b9bb"/>
<circle cx="84.6" cy="229.2" r="1.9" fill="#b9b9bb"/>
<circle cx="88.5" cy="229.3" r="1.9" fill="#b9b9bb"/>
<circle cx="91.2" cy="229.2" r="1.9" fill="#b9b9bb"/>
<circle cx="97.8" cy="228.8" r="1.9" fill="#b9b9bb"/>
<circle cx="101.6" cy="228.8" r="1.9" fill="#b9b9bb"/>
<circle cx="104.5" cy="229.2" r="1.9" fill="#b9b9bb"/>
<circle cx="107.9" cy="229.2" r="1.9" fill="#b9b9bb"/>
<circle cx="114.4" cy="228.9" r="1.9" fill="#b9b9bb"/>
<circle cx="121" cy="229.2" r="1.9" fill="#b9b9bb"/>
<circle cx="124.9" cy="229" r="1.9" fill="#b9b9bb"/>
<circle cx="127.8" cy="228.7" r="1.9" fill="#b9b9bb"/>
<circle cx="134.2" cy="229.3" r="1.9" fill="#b9b9bb"/>
<circle cx="137.5" cy="229.2" r="1.9" fill="#b9b9bb"/>
<circle cx="140.8" cy="229.1" r="1.9" fill="#b9b9bb"/>
<circle cx="144.6" cy="229.4" r="1.9" fill="#b9b9bb"/>
<circle cx="147.6" cy="229.2" r="1.9" fill="#b9b9bb"/>
<circle cx="160.8" cy="229.2" r="1.9" fill="#b9b9bb"/>
<circle cx="49.9" cy="232" r="1.9" fill="#b9b9bb"/>
<circle cx="57.1" cy="231.6" r="1.9" fill="#b9b9bb"/>
<circle cx="59.8" cy="231.9" r="1.9" fill="#b9b9bb"/>
<circle cx="63.4" cy="231.7" r="1.9" fill="#b9b9bb"/>
<circle cx="70.4" cy="232" r="1.9" fill="#b9b9bb"/>
<circle cx="73.6" cy="231.7" r="1.9" fill="#b9b9bb"/>
<circle cx="76.5" cy="231.5" r="1.9" fill="#b9b9bb"/>
<circle cx="80" cy="231.9" r="1.9" fill="#b9b9bb"/>
<circle cx="83.3" cy="231.6" r="1.9" fill="#b9b9bb"/>
<circle cx="86.3" cy="231.7" r="1.9" fill="#b9b9bb"/>
<circle cx="90" cy="232.2" r="1.9" fill="#b9b9bb"/>
<circle cx="92.8" cy="231.8" r="1.9" fill="#b9b9bb"/>
<circle cx="96.2" cy="232.3" r="1.9" fill="#b9b9bb"/>
<circle cx="99.7" cy="232.1" r="1.9" fill="#b9b9bb"/>
<circle cx="106.3" cy="232.1" r="1.9" fill="#b9b9bb"/>
<circle cx="109.4" cy="232.2" r="1.9" fill="#b9b9bb"/>
<circle cx="112.9" cy="231.7" r="1.9" fill="#b9b9bb"/>
<circle cx="115.9" cy="231.5" r="1.9" fill="#b9b9bb"/>
<circle cx="129.3" cy="231.9" r="1.9" fill="#b9b9bb"/>
<circle cx="132.7" cy="232.2" r="1.9" fill="#b9b9bb"/>
<circle cx="135.9" cy="232.3" r="1.9" fill="#b9b9bb"/>
<circle cx="142.6" cy="232" r="1.9" fill="#b9b9bb"/>
<circle cx="145.8" cy="232.1" r="1.9" fill="#b9b9bb"/>
<circle cx="45.1" cy="234.4" r="1.9" fill="#b9b9bb"/>
<circle cx="48.4" cy="234.7" r="1.9" fill="#b9b9bb"/>
<circle cx="58.4" cy="234.5" r="1.9" fill="#b9b9bb"/>
<circle cx="65.3" cy="234.9" r="1.9" fill="#b9b9bb"/>
<circle cx="71.6" cy="234.7" r="1.9" fill="#b9b9bb"/>
<circle cx="75.3" cy="234.6" r="1.9" fill="#b9b9bb"/>
<circle cx="78.3" cy="234.4" r="1.9" fill="#b9b9bb"/>
<circle cx="81.4" cy="234.4" r="1.9" fill="#b9b9bb"/>
<circle cx="85" cy="234.4" r="1.9" fill="#b9b9bb"/>
<circle cx="88.1" cy="234.8" r="1.9" fill="#b9b9bb"/>
<circle cx="91.7" cy="234.6" r="1.9" fill="#b9b9bb"/>
<circle cx="94.9" cy="234.5" r="1.9" fill="#b9b9bb"/>
<circle cx="97.9" cy="234.9" r="1.9" fill="#b9b9bb"/>
<circle cx="101.3" cy="235.1" r="1.9" fill="#b9b9bb"/>
<circle cx="104.5" cy="234.6" r="1.9" fill="#b9b9bb"/>
<circle cx="107.6" cy="234.4" r="1.9" fill="#b9b9bb"/>
<circle cx="111.4" cy="235" r="1.9" fill="#b9b9bb"/>
<circle cx="118" cy="235.1" r="1.9" fill="#b9b9bb"/>
<circle cx="121.4" cy="234.9" r="1.9" fill="#b9b9bb"/>
<circle cx="131.2" cy="234.4" r="1.9" fill="#b9b9bb"/>
<circle cx="134.3" cy="234.4" r="1.9" fill="#b9b9bb"/>
<circle cx="137.6" cy="234.8" r="1.9" fill="#b9b9bb"/>
<circle cx="140.7" cy="234.7" r="1.9" fill="#b9b9bb"/>
<circle cx="147.7" cy="234.6" r="1.9" fill="#b9b9bb"/>
<circle cx="150.8" cy="234.7" r="1.9" fill="#b9b9bb"/>
<circle cx="154.3" cy="234.9" r="1.9" fill="#b9b9bb"/>
<circle cx="164" cy="234.7" r="1.9" fill="#b9b9bb"/>
<circle cx="167.3" cy="234.4" r="1.9" fill="#b9b9bb"/>
<circle cx="53.5" cy="237.4" r="1.9" fill="#b9b9bb"/>
<circle cx="63.8" cy="237.3" r="1.9" fill="#b9b9bb"/>
<circle cx="66.8" cy="237.5" r="1.9" fill="#b9b9bb"/>
<circle cx="70.4" cy="237.3" r="1.9" fill="#b9b9bb"/>
<circle cx="73.1" cy="237.8" r="1.9" fill="#b9b9bb"/>
<circle cx="76.3" cy="237.7" r="1.9" fill="#b9b9bb"/>
<circle cx="79.7" cy="237.6" r="1.9" fill="#b9b9bb"/>
<circle cx="83.3" cy="237.7" r="1.9" fill="#b9b9bb"/>
<circle cx="86.8" cy="238" r="1.9" fill="#b9b9bb"/>
<circle cx="89.7" cy="237.9" r="1.9" fill="#b9b9bb"/>
<circle cx="93.3" cy="237.8" r="1.9" fill="#b9b9bb"/>
<circle cx="96.8" cy="237.9" r="1.9" fill="#b9b9bb"/>
<circle cx="99.8" cy="237.6" r="1.9" fill="#b9b9bb"/>
<circle cx="102.9" cy="237.4" r="1.9" fill="#b9b9bb"/>
<circle cx="106.4" cy="237.4" r="1.9" fill="#b9b9bb"/>
<circle cx="109.5" cy="237.4" r="1.9" fill="#b9b9bb"/>
<circle cx="112.7" cy="237.3" r="1.9" fill="#b9b9bb"/>
<circle cx="115.9" cy="237.8" r="1.9" fill="#b9b9bb"/>
<circle cx="119.5" cy="237.8" r="1.9" fill="#b9b9bb"/>
<circle cx="122.6" cy="237.9" r="1.9" fill="#b9b9bb"/>
<circle cx="129.3" cy="237.6" r="1.9" fill="#b9b9bb"/>
<circle cx="136.2" cy="237.4" r="1.9" fill="#b9b9bb"/>
<circle cx="142.5" cy="237.8" r="1.9" fill="#b9b9bb"/>
<circle cx="188.9" cy="238" r="1.9" fill="#b9b9bb"/>
<circle cx="45.5" cy="240.9" r="1.9" fill="#b9b9bb"/>
<circle cx="48.5" cy="240.1" r="1.9" fill="#b9b9bb"/>
<circle cx="51.9" cy="240.4" r="1.9" fill="#b9b9bb"/>
<circle cx="55.4" cy="240.8" r="1.9" fill="#b9b9bb"/>
<circle cx="58.4" cy="240.6" r="1.9" fill="#b9b9bb"/>
<circle cx="62.2" cy="240.4" r="1.9" fill="#b9b9bb"/>
<circle cx="65.1" cy="240.7" r="1.9" fill="#b9b9bb"/>
<circle cx="68.1" cy="240.2" r="1.9" fill="#b9b9bb"/>
<circle cx="75" cy="240.2" r="1.9" fill="#b9b9bb"/>
<circle cx="77.9" cy="240.5" r="1.9" fill="#b9b9bb"/>
<circle cx="81.7" cy="240.3" r="1.9" fill="#b9b9bb"/>
<circle cx="84.9" cy="240.4" r="1.9" fill="#b9b9bb"/>
<circle cx="87.8" cy="240.1" r="1.9" fill="#b9b9bb"/>
<circle cx="91.3" cy="240.1" r="1.9" fill="#b9b9bb"/>
<circle cx="94.8" cy="240.9" r="1.9" fill="#b9b9bb"/>
<circle cx="98.4" cy="240.5" r="1.9" fill="#b9b9bb"/>
<circle cx="101.6" cy="240.4" r="1.9" fill="#b9b9bb"/>
<circle cx="104.7" cy="240.6" r="1.9" fill="#b9b9bb"/>
<circle cx="107.8" cy="240.8" r="1.9" fill="#b9b9bb"/>
<circle cx="118.2" cy="240.7" r="1.9" fill="#b9b9bb"/>
<circle cx="120.8" cy="240.2" r="1.9" fill="#b9b9bb"/>
<circle cx="124.2" cy="240.4" r="1.9" fill="#b9b9bb"/>
<circle cx="131.1" cy="240.1" r="1.9" fill="#b9b9bb"/>
<circle cx="134.8" cy="240.1" r="1.9" fill="#b9b9bb"/>
<circle cx="151.1" cy="240.7" r="1.9" fill="#b9b9bb"/>
<circle cx="161.2" cy="240.4" r="1.9" fill="#b9b9bb"/>
<circle cx="167.7" cy="240.1" r="1.9" fill="#b9b9bb"/>
<circle cx="46.6" cy="243.1" r="1.9" fill="#b9b9bb"/>
<circle cx="50.2" cy="242.9" r="1.9" fill="#b9b9bb"/>
<circle cx="53.5" cy="243.2" r="1.9" fill="#b9b9bb"/>
<circle cx="57.2" cy="243.1" r="1.9" fill="#b9b9bb"/>
<circle cx="60" cy="243.5" r="1.9" fill="#b9b9bb"/>
<circle cx="63.8" cy="243.3" r="1.9" fill="#b9b9bb"/>
<circle cx="70" cy="243.5" r="1.9" fill="#b9b9bb"/>
<circle cx="73.2" cy="243.5" r="1.9" fill="#b9b9bb"/>
<circle cx="79.7" cy="243.2" r="1.9" fill="#b9b9bb"/>
<circle cx="86.7" cy="243.2" r="1.9" fill="#b9b9bb"/>
<circle cx="89.6" cy="243.4" r="1.9" fill="#b9b9bb"/>
<circle cx="93.4" cy="243.4" r="1.9" fill="#b9b9bb"/>
<circle cx="96.5" cy="243" r="1.9" fill="#b9b9bb"/>
<circle cx="99.9" cy="243.3" r="1.9" fill="#b9b9bb"/>
<circle cx="103" cy="243.2" r="1.9" fill="#b9b9bb"/>
<circle cx="106.4" cy="243.4" r="1.9" fill="#b9b9bb"/>
<circle cx="109.3" cy="243.4" r="1.9" fill="#b9b9bb"/>
<circle cx="113" cy="243.4" r="1.9" fill="#b9b9bb"/>
<circle cx="119.5" cy="243.7" r="1.9" fill="#b9b9bb"/>
<circle cx="126.3" cy="243.7" r="1.9" fill="#b9b9bb"/>
<circle cx="129.7" cy="243" r="1.9" fill="#b9b9bb"/>
<circle cx="135.8" cy="243.6" r="1.9" fill="#b9b9bb"/>
<circle cx="159.4" cy="243.5" r="1.9" fill="#b9b9bb"/>
<circle cx="162.7" cy="243.3" r="1.9" fill="#b9b9bb"/>
<circle cx="172.2" cy="243.5" r="1.9" fill="#b9b9bb"/>
<circle cx="48.3" cy="246.1" r="1.9" fill="#b9b9bb"/>
<circle cx="55.5" cy="245.9" r="1.9" fill="#b9b9bb"/>
<circle cx="61.9" cy="246.5" r="1.9" fill="#b9b9bb"/>
<circle cx="64.9" cy="246.3" r="1.9" fill="#b9b9bb"/>
<circle cx="68" cy="246.1" r="1.9" fill="#b9b9bb"/>
<circle cx="71.8" cy="246" r="1.9" fill="#b9b9bb"/>
<circle cx="75.2" cy="245.9" r="1.9" fill="#b9b9bb"/>
<circle cx="78.5" cy="246.2" r="1.9" fill="#b9b9bb"/>
<circle cx="81.3" cy="246.6" r="1.9" fill="#b9b9bb"/>
<circle cx="84.8" cy="246" r="1.9" fill="#b9b9bb"/>
<circle cx="91.7" cy="246.1" r="1.9" fill="#b9b9bb"/>
<circle cx="94.7" cy="245.9" r="1.9" fill="#b9b9bb"/>
<circle cx="98" cy="246.5" r="1.9" fill="#b9b9bb"/>
<circle cx="101.4" cy="246.2" r="1.9" fill="#b9b9bb"/>
<circle cx="108.2" cy="246" r="1.9" fill="#b9b9bb"/>
<circle cx="111.1" cy="246.5" r="1.9" fill="#b9b9bb"/>
<circle cx="114.9" cy="246.3" r="1.9" fill="#b9b9bb"/>
<circle cx="118.2" cy="246.1" r="1.9" fill="#b9b9bb"/>
<circle cx="124.5" cy="245.9" r="1.9" fill="#b9b9bb"/>
<circle cx="127.6" cy="246.2" r="1.9" fill="#b9b9bb"/>
<circle cx="134.6" cy="246.3" r="1.9" fill="#b9b9bb"/>
<circle cx="137.6" cy="245.9" r="1.9" fill="#b9b9bb"/>
<circle cx="144.2" cy="246.1" r="1.9" fill="#b9b9bb"/>
<circle cx="161.1" cy="245.9" r="1.9" fill="#b9b9bb"/>
<circle cx="187.3" cy="246.2" r="1.9" fill="#b9b9bb"/>
<circle cx="46.9" cy="249" r="1.9" fill="#b9b9bb"/>
<circle cx="50" cy="249.5" r="1.9" fill="#b9b9bb"/>
<circle cx="53.4" cy="248.8" r="1.9" fill="#b9b9bb"/>
<circle cx="57" cy="248.7" r="1.9" fill="#b9b9bb"/>
<circle cx="60.3" cy="249.2" r="1.9" fill="#b9b9bb"/>
<circle cx="63.3" cy="249.3" r="1.9" fill="#b9b9bb"/>
<circle cx="67" cy="248.8" r="1.9" fill="#b9b9bb"/>
<circle cx="69.7" cy="249.3" r="1.9" fill="#b9b9bb"/>
<circle cx="76.3" cy="248.9" r="1.9" fill="#b9b9bb"/>
<circle cx="80" cy="248.7" r="1.9" fill="#b9b9bb"/>
<circle cx="83.1" cy="249.1" r="1.9" fill="#b9b9bb"/>
<circle cx="86.6" cy="248.8" r="1.9" fill="#b9b9bb"/>
<circle cx="89.9" cy="248.9" r="1.9" fill="#b9b9bb"/>
<circle cx="92.9" cy="249" r="1.9" fill="#b9b9bb"/>
<circle cx="96.2" cy="249" r="1.9" fill="#b9b9bb"/>
<circle cx="99.7" cy="249.3" r="1.9" fill="#b9b9bb"/>
<circle cx="103.3" cy="248.8" r="1.9" fill="#b9b9bb"/>
<circle cx="109.6" cy="249.1" r="1.9" fill="#b9b9bb"/>
<circle cx="119.2" cy="248.8" r="1.9" fill="#b9b9bb"/>
<circle cx="132.8" cy="248.7" r="1.9" fill="#b9b9bb"/>
<circle cx="135.9" cy="249.4" r="1.9" fill="#b9b9bb"/>
<circle cx="145.9" cy="248.7" r="1.9" fill="#b9b9bb"/>
<circle cx="148.9" cy="249.4" r="1.9" fill="#b9b9bb"/>
<circle cx="152.5" cy="249.2" r="1.9" fill="#b9b9bb"/>
<circle cx="45.2" cy="251.9" r="1.9" fill="#b9b9bb"/>
<circle cx="48.8" cy="251.9" r="1.9" fill="#b9b9bb"/>
<circle cx="51.8" cy="252.3" r="1.9" fill="#b9b9bb"/>
<circle cx="55.3" cy="252.3" r="1.9" fill="#b9b9bb"/>
<circle cx="58.6" cy="251.8" r="1.9" fill="#b9b9bb"/>
<circle cx="61.9" cy="252" r="1.9" fill="#b9b9bb"/>
<circle cx="65.1" cy="251.9" r="1.9" fill="#b9b9bb"/>
<circle cx="68" cy="251.6" r="1.9" fill="#b9b9bb"/>
<circle cx="71.5" cy="252.2" r="1.9" fill="#b9b9bb"/>
<circle cx="75.3" cy="251.8" r="1.9" fill="#b9b9bb"/>
<circle cx="78.4" cy="251.6" r="1.9" fill="#b9b9bb"/>
<circle cx="84.8" cy="251.8" r="1.9" fill="#b9b9bb"/>
<circle cx="88.4" cy="252" r="1.9" fill="#b9b9bb"/>
<circle cx="91.7" cy="251.6" r="1.9" fill="#b9b9bb"/>
<circle cx="94.8" cy="252.3" r="1.9" fill="#b9b9bb"/>
<circle cx="97.7" cy="252.3" r="1.9" fill="#b9b9bb"/>
<circle cx="101.5" cy="251.5" r="1.9" fill="#b9b9bb"/>
<circle cx="104.6" cy="252.1" r="1.9" fill="#b9b9bb"/>
<circle cx="114.8" cy="251.9" r="1.9" fill="#b9b9bb"/>
<circle cx="117.8" cy="251.9" r="1.9" fill="#b9b9bb"/>
<circle cx="120.9" cy="251.8" r="1.9" fill="#b9b9bb"/>
<circle cx="127.5" cy="252.2" r="1.9" fill="#b9b9bb"/>
<circle cx="137.4" cy="251.8" r="1.9" fill="#b9b9bb"/>
<circle cx="150.8" cy="251.9" r="1.9" fill="#b9b9bb"/>
<circle cx="157.8" cy="251.9" r="1.9" fill="#b9b9bb"/>
<circle cx="160.7" cy="251.8" r="1.9" fill="#b9b9bb"/>
<circle cx="184.1" cy="251.7" r="1.9" fill="#b9b9bb"/>
<circle cx="190.4" cy="251.7" r="1.9" fill="#b9b9bb"/>
<circle cx="46.8" cy="255" r="1.9" fill="#b9b9bb"/>
<circle cx="50.1" cy="254.4" r="1.9" fill="#b9b9bb"/>
<circle cx="53.5" cy="255" r="1.9" fill="#b9b9bb"/>
<circle cx="56.9" cy="254.8" r="1.9" fill="#b9b9bb"/>
<circle cx="63.4" cy="254.8" r="1.9" fill="#b9b9bb"/>
<circle cx="67" cy="254.5" r="1.9" fill="#b9b9bb"/>
<circle cx="70.3" cy="254.4" r="1.9" fill="#b9b9bb"/>
<circle cx="73.4" cy="254.8" r="1.9" fill="#b9b9bb"/>
<circle cx="76.4" cy="255.1" r="1.9" fill="#b9b9bb"/>
<circle cx="80.2" cy="254.5" r="1.9" fill="#b9b9bb"/>
<circle cx="83" cy="254.5" r="1.9" fill="#b9b9bb"/>
<circle cx="86.6" cy="254.5" r="1.9" fill="#b9b9bb"/>
<circle cx="89.9" cy="255.1" r="1.9" fill="#b9b9bb"/>
<circle cx="96.3" cy="255.1" r="1.9" fill="#b9b9bb"/>
<circle cx="99.6" cy="255.1" r="1.9" fill="#b9b9bb"/>
<circle cx="102.9" cy="254.6" r="1.9" fill="#b9b9bb"/>
<circle cx="106.4" cy="254.6" r="1.9" fill="#b9b9bb"/>
<circle cx="109.5" cy="254.5" r="1.9" fill="#b9b9bb"/>
<circle cx="112.8" cy="254.6" r="1.9" fill="#b9b9bb"/>
<circle cx="116.3" cy="255.1" r="1.9" fill="#b9b9bb"/>
<circle cx="119.8" cy="255.1" r="1.9" fill="#b9b9bb"/>
<circle cx="122.9" cy="255" r="1.9" fill="#b9b9bb"/>
<circle cx="126.3" cy="255.1" r="1.9" fill="#b9b9bb"/>
<circle cx="132.4" cy="255.1" r="1.9" fill="#b9b9bb"/>
<circle cx="136.3" cy="254.6" r="1.9" fill="#b9b9bb"/>
<circle cx="139.2" cy="255" r="1.9" fill="#b9b9bb"/>
<circle cx="152.3" cy="255.1" r="1.9" fill="#b9b9bb"/>
<circle cx="156.2" cy="254.9" r="1.9" fill="#b9b9bb"/>
<circle cx="159.5" cy="254.5" r="1.9" fill="#b9b9bb"/>
<circle cx="166.1" cy="254.6" r="1.9" fill="#b9b9bb"/>
<circle cx="172.5" cy="254.4" r="1.9" fill="#b9b9bb"/>
<circle cx="175.7" cy="255.2" r="1.9" fill="#b9b9bb"/>
<circle cx="192.2" cy="254.5" r="1.9" fill="#b9b9bb"/>
<circle cx="45" cy="257.5" r="1.9" fill="#b9b9bb"/>
<circle cx="48.8" cy="258" r="1.9" fill="#b9b9bb"/>
<circle cx="62.1" cy="257.3" r="1.9" fill="#b9b9bb"/>
<circle cx="65.2" cy="257.8" r="1.9" fill="#b9b9bb"/>
<circle cx="68.5" cy="258" r="1.9" fill="#b9b9bb"/>
<circle cx="71.7" cy="258" r="1.9" fill="#b9b9bb"/>
<circle cx="74.7" cy="257.9" r="1.9" fill="#b9b9bb"/>
<circle cx="81.2" cy="257.9" r="1.9" fill="#b9b9bb"/>
<circle cx="84.9" cy="257.7" r="1.9" fill="#b9b9bb"/>
<circle cx="88.4" cy="257.2" r="1.9" fill="#b9b9bb"/>
<circle cx="91.7" cy="258" r="1.9" fill="#b9b9bb"/>
<circle cx="94.7" cy="257.5" r="1.9" fill="#b9b9bb"/>
<circle cx="97.7" cy="257.9" r="1.9" fill="#b9b9bb"/>
<circle cx="101.5" cy="257.7" r="1.9" fill="#b9b9bb"/>
<circle cx="104.8" cy="257.6" r="1.9" fill="#b9b9bb"/>
<circle cx="108.3" cy="257.4" r="1.9" fill="#b9b9bb"/>
<circle cx="111.1" cy="257.6" r="1.9" fill="#b9b9bb"/>
<circle cx="114.5" cy="257.4" r="1.9" fill="#b9b9bb"/>
<circle cx="117.7" cy="257.7" r="1.9" fill="#b9b9bb"/>
<circle cx="121.5" cy="257.4" r="1.9" fill="#b9b9bb"/>
<circle cx="124.3" cy="257.5" r="1.9" fill="#b9b9bb"/>
<circle cx="141.2" cy="257.4" r="1.9" fill="#b9b9bb"/>
<circle cx="144.2" cy="258" r="1.9" fill="#b9b9bb"/>
<circle cx="147.5" cy="258" r="1.9" fill="#b9b9bb"/>
<circle cx="153.9" cy="257.9" r="1.9" fill="#b9b9bb"/>
<circle cx="161" cy="257.5" r="1.9" fill="#b9b9bb"/>
<circle cx="164.2" cy="257.8" r="1.9" fill="#b9b9bb"/>
<circle cx="174" cy="257.5" r="1.9" fill="#b9b9bb"/>
<circle cx="177.6" cy="257.4" r="1.9" fill="#b9b9bb"/>
<circle cx="180.9" cy="258" r="1.9" fill="#b9b9bb"/>
<circle cx="194" cy="258" r="1.9" fill="#b9b9bb"/>
<circle cx="196.8" cy="257.8" r="1.9" fill="#b9b9bb"/>
<circle cx="43.5" cy="260.1" r="1.9" fill="#b9b9bb"/>
<circle cx="46.7" cy="260.2" r="1.9" fill="#b9b9bb"/>
<circle cx="50.3" cy="260.6" r="1.9" fill="#b9b9bb"/>
<circle cx="53.6" cy="260.9" r="1.9" fill="#b9b9bb"/>
<circle cx="56.6" cy="260.2" r="1.9" fill="#b9b9bb"/>
<circle cx="60.4" cy="260.8" r="1.9" fill="#b9b9bb"/>
<circle cx="63.2" cy="260.4" r="1.9" fill="#b9b9bb"/>
<circle cx="66.6" cy="260.7" r="1.9" fill="#b9b9bb"/>
<circle cx="73.4" cy="260.8" r="1.9" fill="#b9b9bb"/>
<circle cx="76.4" cy="260.9" r="1.9" fill="#b9b9bb"/>
<circle cx="83.5" cy="260.4" r="1.9" fill="#b9b9bb"/>
<circle cx="86.3" cy="260.2" r="1.9" fill="#b9b9bb"/>
<circle cx="89.6" cy="260.1" r="1.9" fill="#b9b9bb"/>
<circle cx="93.4" cy="260.5" r="1.9" fill="#b9b9bb"/>
<circle cx="96.4" cy="260.2" r="1.9" fill="#b9b9bb"/>
<circle cx="99.6" cy="260.1" r="1.9" fill="#b9b9bb"/>
<circle cx="103.1" cy="260.4" r="1.9" fill="#b9b9bb"/>
<circle cx="106.4" cy="260.4" r="1.9" fill="#b9b9bb"/>
<circle cx="110" cy="260.6" r="1.9" fill="#b9b9bb"/>
<circle cx="113" cy="260.5" r="1.9" fill="#b9b9bb"/>
<circle cx="116.6" cy="260.3" r="1.9" fill="#b9b9bb"/>
<circle cx="123.2" cy="260.2" r="1.9" fill="#b9b9bb"/>
<circle cx="126.5" cy="260.3" r="1.9" fill="#b9b9bb"/>
<circle cx="129.6" cy="260.3" r="1.9" fill="#b9b9bb"/>
<circle cx="132.5" cy="260.9" r="1.9" fill="#b9b9bb"/>
<circle cx="135.7" cy="260.6" r="1.9" fill="#b9b9bb"/>
<circle cx="139.4" cy="260.5" r="1.9" fill="#b9b9bb"/>
<circle cx="145.9" cy="260.1" r="1.9" fill="#b9b9bb"/>
<circle cx="149.1" cy="260.6" r="1.9" fill="#b9b9bb"/>
<circle cx="152.5" cy="260.2" r="1.9" fill="#b9b9bb"/>
<circle cx="155.8" cy="260.6" r="1.9" fill="#b9b9bb"/>
<circle cx="162.4" cy="260.2" r="1.9" fill="#b9b9bb"/>
<circle cx="165.5" cy="260.8" r="1.9" fill="#b9b9bb"/>
<circle cx="168.9" cy="260.8" r="1.9" fill="#b9b9bb"/>
<circle cx="172.3" cy="260.5" r="1.9" fill="#b9b9bb"/>
<circle cx="178.9" cy="260.3" r="1.9" fill="#b9b9bb"/>
<circle cx="182.3" cy="260.4" r="1.9" fill="#b9b9bb"/>
<circle cx="185.3" cy="260.8" r="1.9" fill="#b9b9bb"/>
<circle cx="189.2" cy="260.8" r="1.9" fill="#b9b9bb"/>
<circle cx="192.4" cy="260.7" r="1.9" fill="#b9b9bb"/>
<circle cx="195.7" cy="260.2" r="1.9" fill="#b9b9bb"/>
<circle cx="198.6" cy="260.3" r="1.9" fill="#b9b9bb"/>
<circle cx="205.4" cy="260.4" r="1.9" fill="#b9b9bb"/>
<circle cx="208.7" cy="260.8" r="1.9" fill="#b9b9bb"/>
<circle cx="45.1" cy="263.1" r="1.9" fill="#b9b9bb"/>
<circle cx="48.8" cy="263.7" r="1.9" fill="#b9b9bb"/>
<circle cx="51.6" cy="263.5" r="1.9" fill="#b9b9bb"/>
<circle cx="55.5" cy="263.6" r="1.9" fill="#b9b9bb"/>
<circle cx="58.8" cy="263.4" r="1.9" fill="#b9b9bb"/>
<circle cx="65.1" cy="263.3" r="1.9" fill="#b9b9bb"/>
<circle cx="68" cy="263.1" r="1.9" fill="#b9b9bb"/>
<circle cx="71.5" cy="263.5" r="1.9" fill="#b9b9bb"/>
<circle cx="75.2" cy="263.4" r="1.9" fill="#b9b9bb"/>
<circle cx="78.1" cy="263.1" r="1.9" fill="#b9b9bb"/>
<circle cx="81.7" cy="263.7" r="1.9" fill="#b9b9bb"/>
<circle cx="85.2" cy="263.7" r="1.9" fill="#b9b9bb"/>
<circle cx="88.6" cy="263.5" r="1.9" fill="#b9b9bb"/>
<circle cx="94.7" cy="263.2" r="1.9" fill="#b9b9bb"/>
<circle cx="98.1" cy="263" r="1.9" fill="#b9b9bb"/>
<circle cx="101.4" cy="263.3" r="1.9" fill="#b9b9bb"/>
<circle cx="104.5" cy="263.1" r="1.9" fill="#b9b9bb"/>
<circle cx="107.8" cy="263.2" r="1.9" fill="#b9b9bb"/>
<circle cx="110.9" cy="263.2" r="1.9" fill="#b9b9bb"/>
<circle cx="115" cy="263.5" r="1.9" fill="#b9b9bb"/>
<circle cx="117.8" cy="263.1" r="1.9" fill="#b9b9bb"/>
<circle cx="121.6" cy="263.1" r="1.9" fill="#b9b9bb"/>
<circle cx="124.6" cy="263.6" r="1.9" fill="#b9b9bb"/>
<circle cx="127.9" cy="263.7" r="1.9" fill="#b9b9bb"/>
<circle cx="134.4" cy="263.8" r="1.9" fill="#b9b9bb"/>
<circle cx="137.5" cy="263.6" r="1.9" fill="#b9b9bb"/>
<circle cx="140.7" cy="263.4" r="1.9" fill="#b9b9bb"/>
<circle cx="144.5" cy="263.5" r="1.9" fill="#b9b9bb"/>
<circle cx="147.8" cy="263.5" r="1.9" fill="#b9b9bb"/>
<circle cx="150.9" cy="263.3" r="1.9" fill="#b9b9bb"/>
<circle cx="154.2" cy="263.7" r="1.9" fill="#b9b9bb"/>
<circle cx="160.5" cy="263.2" r="1.9" fill="#b9b9bb"/>
<circle cx="164.1" cy="263.1" r="1.9" fill="#b9b9bb"/>
<circle cx="167.5" cy="263.6" r="1.9" fill="#b9b9bb"/>
<circle cx="170.8" cy="263.5" r="1.9" fill="#b9b9bb"/>
<circle cx="173.6" cy="263.5" r="1.9" fill="#b9b9bb"/>
<circle cx="176.9" cy="263.3" r="1.9" fill="#b9b9bb"/>
<circle cx="180.3" cy="263.3" r="1.9" fill="#b9b9bb"/>
<circle cx="183.6" cy="263.7" r="1.9" fill="#b9b9bb"/>
<circle cx="187.2" cy="263.4" r="1.9" fill="#b9b9bb"/>
<circle cx="190.9" cy="263.1" r="1.9" fill="#b9b9bb"/>
<circle cx="193.6" cy="263.7" r="1.9" fill="#b9b9bb"/>
<circle cx="197" cy="263.3" r="1.9" fill="#b9b9bb"/>
<circle cx="203.9" cy="263.5" r="1.9" fill="#b9b9bb"/>
<circle cx="206.9" cy="263.3" r="1.9" fill="#b9b9bb"/>
<circle cx="210.2" cy="263.5" r="1.9" fill="#b9b9bb"/>
<circle cx="213.4" cy="263.6" r="1.9" fill="#b9b9bb"/>
<circle cx="216.9" cy="263.7" r="1.9" fill="#b9b9bb"/>
<circle cx="46.9" cy="266.4" r="1.9" fill="#b9b9bb"/>
<circle cx="50.1" cy="266.4" r="1.9" fill="#b9b9bb"/>
<circle cx="57" cy="266.2" r="1.9" fill="#b9b9bb"/>
<circle cx="59.9" cy="266.4" r="1.9" fill="#b9b9bb"/>
<circle cx="63.8" cy="266.1" r="1.9" fill="#b9b9bb"/>
<circle cx="66.4" cy="266.2" r="1.9" fill="#b9b9bb"/>
<circle cx="69.9" cy="266.3" r="1.9" fill="#b9b9bb"/>
<circle cx="73.3" cy="266.6" r="1.9" fill="#b9b9bb"/>
<circle cx="77" cy="265.9" r="1.9" fill="#b9b9bb"/>
<circle cx="80.2" cy="266.5" r="1.9" fill="#b9b9bb"/>
<circle cx="83.3" cy="266.4" r="1.9" fill="#b9b9bb"/>
<circle cx="86.7" cy="266.3" r="1.9" fill="#b9b9bb"/>
<circle cx="90" cy="266.3" r="1.9" fill="#b9b9bb"/>
<circle cx="93.5" cy="265.9" r="1.9" fill="#b9b9bb"/>
<circle cx="96.3" cy="266.4" r="1.9" fill="#b9b9bb"/>
<circle cx="103.1" cy="266.2" r="1.9" fill="#b9b9bb"/>
<circle cx="106.1" cy="266.3" r="1.9" fill="#b9b9bb"/>
<circle cx="112.8" cy="266.5" r="1.9" fill="#b9b9bb"/>
<circle cx="116" cy="266.3" r="1.9" fill="#b9b9bb"/>
<circle cx="119.6" cy="266.6" r="1.9" fill="#b9b9bb"/>
<circle cx="123.2" cy="266.1" r="1.9" fill="#b9b9bb"/>
<circle cx="125.8" cy="266.1" r="1.9" fill="#b9b9bb"/>
<circle cx="129.6" cy="266.5" r="1.9" fill="#b9b9bb"/>
<circle cx="132.6" cy="266.1" r="1.9" fill="#b9b9bb"/>
<circle cx="135.7" cy="266.1" r="1.9" fill="#b9b9bb"/>
<circle cx="139.1" cy="266.1" r="1.9" fill="#b9b9bb"/>
<circle cx="143" cy="266" r="1.9" fill="#b9b9bb"/>
<circle cx="145.6" cy="265.9" r="1.9" fill="#b9b9bb"/>
<circle cx="149.4" cy="266" r="1.9" fill="#b9b9bb"/>
<circle cx="152.7" cy="265.8" r="1.9" fill="#b9b9bb"/>
<circle cx="156.1" cy="266" r="1.9" fill="#b9b9bb"/>
<circle cx="159.3" cy="266.1" r="1.9" fill="#b9b9bb"/>
<circle cx="162.2" cy="266.2" r="1.9" fill="#b9b9bb"/>
<circle cx="165.7" cy="266.5" r="1.9" fill="#b9b9bb"/>
<circle cx="169.1" cy="266.6" r="1.9" fill="#b9b9bb"/>
<circle cx="172.1" cy="266.3" r="1.9" fill="#b9b9bb"/>
<circle cx="176" cy="266.1" r="1.9" fill="#b9b9bb"/>
<circle cx="178.9" cy="266.5" r="1.9" fill="#b9b9bb"/>
<circle cx="185.3" cy="266.1" r="1.9" fill="#b9b9bb"/>
<circle cx="188.6" cy="266.5" r="1.9" fill="#b9b9bb"/>
<circle cx="191.9" cy="266.1" r="1.9" fill="#b9b9bb"/>
<circle cx="195.6" cy="265.9" r="1.9" fill="#b9b9bb"/>
<circle cx="198.4" cy="266.5" r="1.9" fill="#b9b9bb"/>
<circle cx="202.1" cy="265.9" r="1.9" fill="#b9b9bb"/>
<circle cx="205.2" cy="266.6" r="1.9" fill="#b9b9bb"/>
<circle cx="208.9" cy="265.9" r="1.9" fill="#b9b9bb"/>
<circle cx="211.6" cy="266.4" r="1.9" fill="#b9b9bb"/>
<circle cx="215.1" cy="266.4" r="1.9" fill="#b9b9bb"/>
<circle cx="218.4" cy="266.2" r="1.9" fill="#b9b9bb"/>
<circle cx="45.1" cy="268.9" r="1.9" fill="#b9b9bb"/>
<circle cx="48.2" cy="268.9" r="1.9" fill="#b9b9bb"/>
<circle cx="51.7" cy="268.8" r="1.9" fill="#b9b9bb"/>
<circle cx="55.2" cy="269.1" r="1.9" fill="#b9b9bb"/>
<circle cx="58.8" cy="269.3" r="1.9" fill="#b9b9bb"/>
<circle cx="61.9" cy="269.2" r="1.9" fill="#b9b9bb"/>
<circle cx="65" cy="269" r="1.9" fill="#b9b9bb"/>
<circle cx="68.4" cy="269.1" r="1.9" fill="#b9b9bb"/>
<circle cx="71.9" cy="269.4" r="1.9" fill="#b9b9bb"/>
<circle cx="74.6" cy="268.9" r="1.9" fill="#b9b9bb"/>
<circle cx="78.5" cy="269.2" r="1.9" fill="#b9b9bb"/>
<circle cx="81.4" cy="269.4" r="1.9" fill="#b9b9bb"/>
<circle cx="85" cy="269.2" r="1.9" fill="#b9b9bb"/>
<circle cx="88.2" cy="269" r="1.9" fill="#b9b9bb"/>
<circle cx="91.8" cy="269.5" r="1.9" fill="#b9b9bb"/>
<circle cx="95.1" cy="268.7" r="1.9" fill="#b9b9bb"/>
<circle cx="98.5" cy="269.1" r="1.9" fill="#b9b9bb"/>
<circle cx="101.2" cy="269.4" r="1.9" fill="#b9b9bb"/>
<circle cx="105.1" cy="268.7" r="1.9" fill="#b9b9bb"/>
<circle cx="111" cy="269" r="1.9" fill="#b9b9bb"/>
<circle cx="114.3" cy="269.1" r="1.9" fill="#b9b9bb"/>
<circle cx="121.4" cy="269.2" r="1.9" fill="#b9b9bb"/>
<circle cx="124.2" cy="269.1" r="1.9" fill="#b9b9bb"/>
<circle cx="130.9" cy="269" r="1.9" fill="#b9b9bb"/>
<circle cx="134.3" cy="269.1" r="1.9" fill="#b9b9bb"/>
<circle cx="137.3" cy="268.9" r="1.9" fill="#b9b9bb"/>
<circle cx="140.8" cy="268.7" r="1.9" fill="#b9b9bb"/>
<circle cx="144.2" cy="269.4" r="1.9" fill="#b9b9bb"/>
<circle cx="147.3" cy="269.2" r="1.9" fill="#b9b9bb"/>
<circle cx="151.2" cy="269.3" r="1.9" fill="#b9b9bb"/>
<circle cx="153.8" cy="268.7" r="1.9" fill="#b9b9bb"/>
<circle cx="157.2" cy="268.8" r="1.9" fill="#b9b9bb"/>
<circle cx="160.5" cy="269.1" r="1.9" fill="#b9b9bb"/>
<circle cx="167.2" cy="269.3" r="1.9" fill="#b9b9bb"/>
<circle cx="170.8" cy="269.2" r="1.9" fill="#b9b9bb"/>
<circle cx="177.4" cy="269" r="1.9" fill="#b9b9bb"/>
<circle cx="180.4" cy="269.3" r="1.9" fill="#b9b9bb"/>
<circle cx="183.9" cy="269.5" r="1.9" fill="#b9b9bb"/>
<circle cx="187" cy="269.4" r="1.9" fill="#b9b9bb"/>
<circle cx="190.2" cy="268.8" r="1.9" fill="#b9b9bb"/>
<circle cx="193.6" cy="269.4" r="1.9" fill="#b9b9bb"/>
<circle cx="197.5" cy="269.2" r="1.9" fill="#b9b9bb"/>
<circle cx="200.3" cy="269.3" r="1.9" fill="#b9b9bb"/>
<circle cx="203.3" cy="269.1" r="1.9" fill="#b9b9bb"/>
<circle cx="207" cy="268.7" r="1.9" fill="#b9b9bb"/>
<circle cx="210.7" cy="269" r="1.9" fill="#b9b9bb"/>
<circle cx="213.3" cy="269.2" r="1.9" fill="#b9b9bb"/>
<circle cx="220.2" cy="269.1" r="1.9" fill="#b9b9bb"/>
<circle cx="43.4" cy="272.1" r="1.9" fill="#b9b9bb"/>
<circle cx="47.2" cy="271.6" r="1.9" fill="#b9b9bb"/>
<circle cx="50.2" cy="272.2" r="1.9" fill="#b9b9bb"/>
<circle cx="53.7" cy="272.1" r="1.9" fill="#b9b9bb"/>
<circle cx="56.5" cy="272.2" r="1.9" fill="#b9b9bb"/>
<circle cx="59.9" cy="271.6" r="1.9" fill="#b9b9bb"/>
<circle cx="63.8" cy="271.8" r="1.9" fill="#b9b9bb"/>
<circle cx="66.4" cy="272.2" r="1.9" fill="#b9b9bb"/>
<circle cx="70.4" cy="271.6" r="1.9" fill="#b9b9bb"/>
<circle cx="73.2" cy="271.7" r="1.9" fill="#b9b9bb"/>
<circle cx="76.4" cy="272.1" r="1.9" fill="#b9b9bb"/>
<circle cx="79.7" cy="272" r="1.9" fill="#b9b9bb"/>
<circle cx="83" cy="272" r="1.9" fill="#b9b9bb"/>
<circle cx="86.5" cy="271.9" r="1.9" fill="#b9b9bb"/>
<circle cx="89.9" cy="271.7" r="1.9" fill="#b9b9bb"/>
<circle cx="92.8" cy="272.3" r="1.9" fill="#b9b9bb"/>
<circle cx="96.4" cy="272" r="1.9" fill="#b9b9bb"/>
<circle cx="103" cy="272.1" r="1.9" fill="#b9b9bb"/>
<circle cx="106.5" cy="272.3" r="1.9" fill="#b9b9bb"/>
<circle cx="109.5" cy="271.8" r="1.9" fill="#b9b9bb"/>
<circle cx="113.2" cy="272.1" r="1.9" fill="#b9b9bb"/>
<circle cx="119.5" cy="272.2" r="1.9" fill="#b9b9bb"/>
<circle cx="122.5" cy="272.3" r="1.9" fill="#b9b9bb"/>
<circle cx="126.4" cy="271.8" r="1.9" fill="#b9b9bb"/>
<circle cx="129.8" cy="272.3" r="1.9" fill="#b9b9bb"/>
<circle cx="133.1" cy="272.3" r="1.9" fill="#b9b9bb"/>
<circle cx="136.2" cy="272.3" r="1.9" fill="#b9b9bb"/>
<circle cx="139.3" cy="272" r="1.9" fill="#b9b9bb"/>
<circle cx="142.9" cy="271.6" r="1.9" fill="#b9b9bb"/>
<circle cx="145.8" cy="271.8" r="1.9" fill="#b9b9bb"/>
<circle cx="149" cy="271.9" r="1.9" fill="#b9b9bb"/>
<circle cx="152.9" cy="271.8" r="1.9" fill="#b9b9bb"/>
<circle cx="156" cy="271.7" r="1.9" fill="#b9b9bb"/>
<circle cx="158.9" cy="272" r="1.9" fill="#b9b9bb"/>
<circle cx="162.1" cy="271.5" r="1.9" fill="#b9b9bb"/>
<circle cx="165.6" cy="271.8" r="1.9" fill="#b9b9bb"/>
<circle cx="172" cy="272.1" r="1.9" fill="#b9b9bb"/>
<circle cx="175.6" cy="272.1" r="1.9" fill="#b9b9bb"/>
<circle cx="179.3" cy="271.9" r="1.9" fill="#b9b9bb"/>
<circle cx="182.2" cy="271.8" r="1.9" fill="#b9b9bb"/>
<circle cx="185.5" cy="272.1" r="1.9" fill="#b9b9bb"/>
<circle cx="189.1" cy="272.3" r="1.9" fill="#b9b9bb"/>
<circle cx="192.2" cy="271.7" r="1.9" fill="#b9b9bb"/>
<circle cx="195.4" cy="271.7" r="1.9" fill="#b9b9bb"/>
<circle cx="198.8" cy="272.1" r="1.9" fill="#b9b9bb"/>
<circle cx="205" cy="271.6" r="1.9" fill="#b9b9bb"/>
<circle cx="208.9" cy="272.1" r="1.9" fill="#b9b9bb"/>
<circle cx="212.2" cy="271.8" r="1.9" fill="#b9b9bb"/>
<circle cx="215.4" cy="271.6" r="1.9" fill="#b9b9bb"/>
<circle cx="218.2" cy="271.7" r="1.9" fill="#b9b9bb"/>
<circle cx="221.9" cy="271.6" r="1.9" fill="#b9b9bb"/>
<circle cx="45" cy="274.9" r="1.9" fill="#b9b9bb"/>
<circle cx="48.9" cy="274.8" r="1.9" fill="#b9b9bb"/>
<circle cx="52.2" cy="274.9" r="1.9" fill="#b9b9bb"/>
<circle cx="58.7" cy="274.9" r="1.9" fill="#b9b9bb"/>
<circle cx="61.4" cy="274.8" r="1.9" fill="#b9b9bb"/>
<circle cx="65.2" cy="274.8" r="1.9" fill="#b9b9bb"/>
<circle cx="68" cy="274.5" r="1.9" fill="#b9b9bb"/>
<circle cx="71.8" cy="275.2" r="1.9" fill="#b9b9bb"/>
<circle cx="74.8" cy="274.8" r="1.9" fill="#b9b9bb"/>
<circle cx="78.5" cy="274.7" r="1.9" fill="#b9b9bb"/>
<circle cx="84.8" cy="274.8" r="1.9" fill="#b9b9bb"/>
<circle cx="88.6" cy="274.4" r="1.9" fill="#b9b9bb"/>
<circle cx="91.2" cy="274.9" r="1.9" fill="#b9b9bb"/>
<circle cx="94.5" cy="274.7" r="1.9" fill="#b9b9bb"/>
<circle cx="98.3" cy="274.8" r="1.9" fill="#b9b9bb"/>
<circle cx="101.3" cy="275.1" r="1.9" fill="#b9b9bb"/>
<circle cx="104.3" cy="275.1" r="1.9" fill="#b9b9bb"/>
<circle cx="107.7" cy="274.5" r="1.9" fill="#b9b9bb"/>
<circle cx="114.3" cy="274.9" r="1.9" fill="#b9b9bb"/>
<circle cx="117.9" cy="274.9" r="1.9" fill="#b9b9bb"/>
<circle cx="121.5" cy="274.7" r="1.9" fill="#b9b9bb"/>
<circle cx="124.7" cy="274.5" r="1.9" fill="#b9b9bb"/>
<circle cx="127.9" cy="274.8" r="1.9" fill="#b9b9bb"/>
<circle cx="134.2" cy="274.4" r="1.9" fill="#b9b9bb"/>
<circle cx="137.7" cy="274.6" r="1.9" fill="#b9b9bb"/>
<circle cx="144.4" cy="274.5" r="1.9" fill="#b9b9bb"/>
<circle cx="154.1" cy="275" r="1.9" fill="#b9b9bb"/>
<circle cx="160.4" cy="274.8" r="1.9" fill="#b9b9bb"/>
<circle cx="164.1" cy="275.2" r="1.9" fill="#b9b9bb"/>
<circle cx="167.2" cy="274.8" r="1.9" fill="#b9b9bb"/>
<circle cx="170.4" cy="275" r="1.9" fill="#b9b9bb"/>
<circle cx="173.9" cy="274.7" r="1.9" fill="#b9b9bb"/>
<circle cx="177.5" cy="274.8" r="1.9" fill="#b9b9bb"/>
<circle cx="180.3" cy="274.5" r="1.9" fill="#b9b9bb"/>
<circle cx="183.9" cy="274.9" r="1.9" fill="#b9b9bb"/>
<circle cx="187.1" cy="274.5" r="1.9" fill="#b9b9bb"/>
<circle cx="193.5" cy="275" r="1.9" fill="#b9b9bb"/>
<circle cx="197.2" cy="275" r="1.9" fill="#b9b9bb"/>
<circle cx="200.7" cy="275.2" r="1.9" fill="#b9b9bb"/>
<circle cx="203.8" cy="274.7" r="1.9" fill="#b9b9bb"/>
<circle cx="206.9" cy="274.9" r="1.9" fill="#b9b9bb"/>
<circle cx="210.2" cy="275.1" r="1.9" fill="#b9b9bb"/>
<circle cx="213.7" cy="275.1" r="1.9" fill="#b9b9bb"/>
<circle cx="217" cy="274.6" r="1.9" fill="#b9b9bb"/>
<circle cx="219.9" cy="275" r="1.9" fill="#b9b9bb"/>
<circle cx="43.3" cy="277.4" r="1.9" fill="#b9b9bb"/>
<circle cx="47.3" cy="277.3" r="1.9" fill="#b9b9bb"/>
<circle cx="50.5" cy="277.4" r="1.9" fill="#b9b9bb"/>
<circle cx="53.4" cy="277.6" r="1.9" fill="#b9b9bb"/>
<circle cx="56.7" cy="277.6" r="1.9" fill="#b9b9bb"/>
<circle cx="60.3" cy="277.3" r="1.9" fill="#b9b9bb"/>
<circle cx="63.7" cy="277.5" r="1.9" fill="#b9b9bb"/>
<circle cx="66.4" cy="277.3" r="1.9" fill="#b9b9bb"/>
<circle cx="70.1" cy="277.3" r="1.9" fill="#b9b9bb"/>
<circle cx="73.4" cy="277.5" r="1.9" fill="#b9b9bb"/>
<circle cx="76.6" cy="277.5" r="1.9" fill="#b9b9bb"/>
<circle cx="83.6" cy="278" r="1.9" fill="#b9b9bb"/>
<circle cx="86.3" cy="277.9" r="1.9" fill="#b9b9bb"/>
<circle cx="89.9" cy="277.3" r="1.9" fill="#b9b9bb"/>
<circle cx="93.1" cy="277.4" r="1.9" fill="#b9b9bb"/>
<circle cx="100.1" cy="278" r="1.9" fill="#b9b9bb"/>
<circle cx="103.2" cy="277.6" r="1.9" fill="#b9b9bb"/>
<circle cx="106.5" cy="277.4" r="1.9" fill="#b9b9bb"/>
<circle cx="109.6" cy="277.7" r="1.9" fill="#b9b9bb"/>
<circle cx="113.1" cy="277.7" r="1.9" fill="#b9b9bb"/>
<circle cx="116.5" cy="277.3" r="1.9" fill="#b9b9bb"/>
<circle cx="119.2" cy="277.4" r="1.9" fill="#b9b9bb"/>
<circle cx="126.1" cy="277.6" r="1.9" fill="#b9b9bb"/>
<circle cx="129.3" cy="277.9" r="1.9" fill="#b9b9bb"/>
<circle cx="133" cy="277.9" r="1.9" fill="#b9b9bb"/>
<circle cx="136.1" cy="277.3" r="1.9" fill="#b9b9bb"/>
<circle cx="142.5" cy="277.9" r="1.9" fill="#b9b9bb"/>
<circle cx="146.1" cy="277.6" r="1.9" fill="#b9b9bb"/>
<circle cx="149" cy="277.6" r="1.9" fill="#b9b9bb"/>
<circle cx="152.7" cy="277.3" r="1.9" fill="#b9b9bb"/>
<circle cx="155.6" cy="277.7" r="1.9" fill="#b9b9bb"/>
<circle cx="158.8" cy="278" r="1.9" fill="#b9b9bb"/>
<circle cx="162.4" cy="277.4" r="1.9" fill="#b9b9bb"/>
<circle cx="166.1" cy="277.4" r="1.9" fill="#b9b9bb"/>
<circle cx="169.3" cy="278" r="1.9" fill="#b9b9bb"/>
<circle cx="172" cy="277.4" r="1.9" fill="#b9b9bb"/>
<circle cx="176" cy="278" r="1.9" fill="#b9b9bb"/>
<circle cx="178.7" cy="277.5" r="1.9" fill="#b9b9bb"/>
<circle cx="182.4" cy="277.8" r="1.9" fill="#b9b9bb"/>
<circle cx="185.5" cy="277.6" r="1.9" fill="#b9b9bb"/>
<circle cx="188.7" cy="277.6" r="1.9" fill="#b9b9bb"/>
<circle cx="192.3" cy="277.5" r="1.9" fill="#b9b9bb"/>
<circle cx="195.2" cy="277.3" r="1.9" fill="#b9b9bb"/>
<circle cx="198.6" cy="277.3" r="1.9" fill="#b9b9bb"/>
<circle cx="202" cy="278" r="1.9" fill="#b9b9bb"/>
<circle cx="205" cy="277.5" r="1.9" fill="#b9b9bb"/>
<circle cx="208.5" cy="277.4" r="1.9" fill="#b9b9bb"/>
<circle cx="212.2" cy="277.6" r="1.9" fill="#b9b9bb"/>
<circle cx="214.9" cy="277.3" r="1.9" fill="#b9b9bb"/>
<circle cx="218.3" cy="277.8" r="1.9" fill="#b9b9bb"/>
<circle cx="221.5" cy="277.4" r="1.9" fill="#b9b9bb"/>
<circle cx="45.1" cy="280.5" r="1.9" fill="#b9b9bb"/>
<circle cx="48.6" cy="280.8" r="1.9" fill="#b9b9bb"/>
<circle cx="52.1" cy="280.9" r="1.9" fill="#b9b9bb"/>
<circle cx="55.6" cy="280.9" r="1.9" fill="#b9b9bb"/>
<circle cx="58.9" cy="280.3" r="1.9" fill="#b9b9bb"/>
<circle cx="61.5" cy="280.4" r="1.9" fill="#b9b9bb"/>
<circle cx="65.4" cy="280.7" r="1.9" fill="#b9b9bb"/>
<circle cx="68.7" cy="280.8" r="1.9" fill="#b9b9bb"/>
<circle cx="71.3" cy="280.3" r="1.9" fill="#b9b9bb"/>
<circle cx="74.9" cy="280.9" r="1.9" fill="#b9b9bb"/>
<circle cx="78.6" cy="280.2" r="1.9" fill="#b9b9bb"/>
<circle cx="81.8" cy="280.4" r="1.9" fill="#b9b9bb"/>
<circle cx="84.6" cy="280.2" r="1.9" fill="#b9b9bb"/>
<circle cx="88.2" cy="280.4" r="1.9" fill="#b9b9bb"/>
<circle cx="91.3" cy="280.1" r="1.9" fill="#b9b9bb"/>
<circle cx="94.7" cy="280.5" r="1.9" fill="#b9b9bb"/>
<circle cx="97.9" cy="280.2" r="1.9" fill="#b9b9bb"/>
<circle cx="101.2" cy="280.2" r="1.9" fill="#b9b9bb"/>
<circle cx="104.7" cy="280.1" r="1.9" fill="#b9b9bb"/>
<circle cx="107.9" cy="280.5" r="1.9" fill="#b9b9bb"/>
<circle cx="110.9" cy="280.2" r="1.9" fill="#b9b9bb"/>
<circle cx="114.6" cy="280.5" r="1.9" fill="#b9b9bb"/>
<circle cx="118.1" cy="280.5" r="1.9" fill="#b9b9bb"/>
<circle cx="121.5" cy="280.8" r="1.9" fill="#b9b9bb"/>
<circle cx="124.6" cy="280.5" r="1.9" fill="#b9b9bb"/>
<circle cx="127.9" cy="280.5" r="1.9" fill="#b9b9bb"/>
<circle cx="131.4" cy="280.2" r="1.9" fill="#b9b9bb"/>
<circle cx="134.5" cy="280.6" r="1.9" fill="#b9b9bb"/>
<circle cx="141" cy="280.4" r="1.9" fill="#b9b9bb"/>
<circle cx="147.7" cy="280.2" r="1.9" fill="#b9b9bb"/>
<circle cx="150.9" cy="280.7" r="1.9" fill="#b9b9bb"/>
<circle cx="154.5" cy="280.1" r="1.9" fill="#b9b9bb"/>
<circle cx="157.7" cy="280.8" r="1.9" fill="#b9b9bb"/>
<circle cx="160.6" cy="280.2" r="1.9" fill="#b9b9bb"/>
<circle cx="164.3" cy="280.2" r="1.9" fill="#b9b9bb"/>
<circle cx="170.3" cy="280.5" r="1.9" fill="#b9b9bb"/>
<circle cx="173.7" cy="280.8" r="1.9" fill="#b9b9bb"/>
<circle cx="180.6" cy="280.3" r="1.9" fill="#b9b9bb"/>
<circle cx="183.6" cy="280.4" r="1.9" fill="#b9b9bb"/>
<circle cx="187.2" cy="280.5" r="1.9" fill="#b9b9bb"/>
<circle cx="190.9" cy="280.9" r="1.9" fill="#b9b9bb"/>
<circle cx="196.9" cy="280.3" r="1.9" fill="#b9b9bb"/>
<circle cx="200.5" cy="280.6" r="1.9" fill="#b9b9bb"/>
<circle cx="204.1" cy="280.4" r="1.9" fill="#b9b9bb"/>
<circle cx="206.7" cy="280.3" r="1.9" fill="#b9b9bb"/>
<circle cx="210.6" cy="280.2" r="1.9" fill="#b9b9bb"/>
<circle cx="213.4" cy="280.7" r="1.9" fill="#b9b9bb"/>
<circle cx="219.9" cy="280.9" r="1.9" fill="#b9b9bb"/>
<circle cx="43.8" cy="283.6" r="1.9" fill="#b9b9bb"/>
<circle cx="46.8" cy="283.4" r="1.9" fill="#b9b9bb"/>
<circle cx="50.1" cy="283.5" r="1.9" fill="#b9b9bb"/>
<circle cx="53.9" cy="283.1" r="1.9" fill="#b9b9bb"/>
<circle cx="57.2" cy="283.7" r="1.9" fill="#b9b9bb"/>
<circle cx="63.7" cy="283.6" r="1.9" fill="#b9b9bb"/>
<circle cx="66.4" cy="283.6" r="1.9" fill="#b9b9bb"/>
<circle cx="70.3" cy="283" r="1.9" fill="#b9b9bb"/>
<circle cx="73.5" cy="283.4" r="1.9" fill="#b9b9bb"/>
<circle cx="77" cy="283.3" r="1.9" fill="#b9b9bb"/>
<circle cx="80.1" cy="283.5" r="1.9" fill="#b9b9bb"/>
<circle cx="83.4" cy="283" r="1.9" fill="#b9b9bb"/>
<circle cx="86.7" cy="283.6" r="1.9" fill="#b9b9bb"/>
<circle cx="89.6" cy="283.3" r="1.9" fill="#b9b9bb"/>
<circle cx="93.2" cy="283.1" r="1.9" fill="#b9b9bb"/>
<circle cx="96.4" cy="283.2" r="1.9" fill="#b9b9bb"/>
<circle cx="99.5" cy="283.3" r="1.9" fill="#b9b9bb"/>
<circle cx="103.4" cy="283.5" r="1.9" fill="#b9b9bb"/>
<circle cx="106.6" cy="283.5" r="1.9" fill="#b9b9bb"/>
<circle cx="109.7" cy="283.3" r="1.9" fill="#b9b9bb"/>
<circle cx="112.6" cy="283.5" r="1.9" fill="#b9b9bb"/>
<circle cx="116.4" cy="283.7" r="1.9" fill="#b9b9bb"/>
<circle cx="119.6" cy="283.6" r="1.9" fill="#b9b9bb"/>
<circle cx="126.5" cy="283.3" r="1.9" fill="#b9b9bb"/>
<circle cx="129.5" cy="283.5" r="1.9" fill="#b9b9bb"/>
<circle cx="132.8" cy="283.3" r="1.9" fill="#b9b9bb"/>
<circle cx="136.3" cy="283.5" r="1.9" fill="#b9b9bb"/>
<circle cx="142.9" cy="283.6" r="1.9" fill="#b9b9bb"/>
<circle cx="149.6" cy="283.3" r="1.9" fill="#b9b9bb"/>
<circle cx="152.4" cy="283.3" r="1.9" fill="#b9b9bb"/>
<circle cx="159" cy="283.5" r="1.9" fill="#b9b9bb"/>
<circle cx="162.3" cy="283.3" r="1.9" fill="#b9b9bb"/>
<circle cx="165.8" cy="283.3" r="1.9" fill="#b9b9bb"/>
<circle cx="168.9" cy="283.8" r="1.9" fill="#b9b9bb"/>
<circle cx="172.4" cy="283.2" r="1.9" fill="#b9b9bb"/>
<circle cx="175.5" cy="283.7" r="1.9" fill="#b9b9bb"/>
<circle cx="178.9" cy="283.4" r="1.9" fill="#b9b9bb"/>
<circle cx="182.3" cy="283" r="1.9" fill="#b9b9bb"/>
<circle cx="185.4" cy="283.6" r="1.9" fill="#b9b9bb"/>
<circle cx="189" cy="283.5" r="1.9" fill="#b9b9bb"/>
<circle cx="192.3" cy="283" r="1.9" fill="#b9b9bb"/>
<circle cx="195.6" cy="283.7" r="1.9" fill="#b9b9bb"/>
<circle cx="201.8" cy="283.4" r="1.9" fill="#b9b9bb"/>
<circle cx="205.4" cy="283.1" r="1.9" fill="#b9b9bb"/>
<circle cx="211.8" cy="283.8" r="1.9" fill="#b9b9bb"/>
<circle cx="214.9" cy="283.5" r="1.9" fill="#b9b9bb"/>
<circle cx="218.3" cy="283.2" r="1.9" fill="#b9b9bb"/>
<circle cx="221.7" cy="283.5" r="1.9" fill="#b9b9bb"/>
<circle cx="45.6" cy="286" r="1.9" fill="#b9b9bb"/>
<circle cx="48.3" cy="286.3" r="1.9" fill="#b9b9bb"/>
<circle cx="51.6" cy="286.6" r="1.9" fill="#b9b9bb"/>
<circle cx="55.4" cy="286.3" r="1.9" fill="#b9b9bb"/>
<circle cx="58.7" cy="285.9" r="1.9" fill="#b9b9bb"/>
<circle cx="62.1" cy="286.2" r="1.9" fill="#b9b9bb"/>
<circle cx="64.7" cy="286.4" r="1.9" fill="#b9b9bb"/>
<circle cx="68.4" cy="286.6" r="1.9" fill="#b9b9bb"/>
<circle cx="71.4" cy="286.4" r="1.9" fill="#b9b9bb"/>
<circle cx="74.9" cy="286.5" r="1.9" fill="#b9b9bb"/>
<circle cx="78.2" cy="286.3" r="1.9" fill="#b9b9bb"/>
<circle cx="81.4" cy="286.6" r="1.9" fill="#b9b9bb"/>
<circle cx="85.1" cy="286.1" r="1.9" fill="#b9b9bb"/>
<circle cx="87.8" cy="286.6" r="1.9" fill="#b9b9bb"/>
<circle cx="91.9" cy="286.3" r="1.9" fill="#b9b9bb"/>
<circle cx="94.5" cy="285.9" r="1.9" fill="#b9b9bb"/>
<circle cx="98.2" cy="286.6" r="1.9" fill="#b9b9bb"/>
<circle cx="101.2" cy="286" r="1.9" fill="#b9b9bb"/>
<circle cx="104.3" cy="286.2" r="1.9" fill="#b9b9bb"/>
<circle cx="107.9" cy="286.6" r="1.9" fill="#b9b9bb"/>
<circle cx="111.6" cy="286.3" r="1.9" fill="#b9b9bb"/>
<circle cx="114.2" cy="286.3" r="1.9" fill="#b9b9bb"/>
<circle cx="117.5" cy="286.4" r="1.9" fill="#b9b9bb"/>
<circle cx="121.3" cy="286.5" r="1.9" fill="#b9b9bb"/>
<circle cx="124.3" cy="286" r="1.9" fill="#b9b9bb"/>
<circle cx="137.3" cy="286.1" r="1.9" fill="#b9b9bb"/>
<circle cx="144.1" cy="285.9" r="1.9" fill="#b9b9bb"/>
<circle cx="150.6" cy="286.1" r="1.9" fill="#b9b9bb"/>
<circle cx="154.1" cy="286.3" r="1.9" fill="#b9b9bb"/>
<circle cx="157.2" cy="286.3" r="1.9" fill="#b9b9bb"/>
<circle cx="160.8" cy="286.5" r="1.9" fill="#b9b9bb"/>
<circle cx="164.4" cy="286" r="1.9" fill="#b9b9bb"/>
<circle cx="167.6" cy="285.8" r="1.9" fill="#b9b9bb"/>
<circle cx="187" cy="286.2" r="1.9" fill="#b9b9bb"/>
<circle cx="190.5" cy="285.9" r="1.9" fill="#b9b9bb"/>
<circle cx="196.7" cy="285.9" r="1.9" fill="#b9b9bb"/>
<circle cx="210.7" cy="286" r="1.9" fill="#b9b9bb"/>
<circle cx="219.8" cy="285.9" r="1.9" fill="#b9b9bb"/>
<circle cx="223.7" cy="286.3" r="1.9" fill="#b9b9bb"/>
<circle cx="43.8" cy="288.8" r="1.9" fill="#b9b9bb"/>
<circle cx="47" cy="289.2" r="1.9" fill="#b9b9bb"/>
<circle cx="56.7" cy="288.8" r="1.9" fill="#b9b9bb"/>
<circle cx="63.7" cy="289.2" r="1.9" fill="#b9b9bb"/>
<circle cx="86.4" cy="288.7" r="1.9" fill="#b9b9bb"/>
<circle cx="99.7" cy="289.4" r="1.9" fill="#b9b9bb"/>
<circle cx="116.3" cy="288.8" r="1.9" fill="#b9b9bb"/>
<circle cx="129.5" cy="288.8" r="1.9" fill="#b9b9bb"/>
<circle cx="136" cy="289.4" r="1.9" fill="#b9b9bb"/>
<circle cx="152.8" cy="289.2" r="1.9" fill="#b9b9bb"/>
<circle cx="155.6" cy="289.1" r="1.9" fill="#b9b9bb"/>
<circle cx="158.8" cy="288.8" r="1.9" fill="#b9b9bb"/>
<circle cx="162.2" cy="289.4" r="1.9" fill="#b9b9bb"/>
<circle cx="175.5" cy="289.4" r="1.9" fill="#b9b9bb"/>
<circle cx="188.6" cy="289" r="1.9" fill="#b9b9bb"/>
<circle cx="201.7" cy="289.1" r="1.9" fill="#b9b9bb"/>
<circle cx="205.7" cy="288.9" r="1.9" fill="#b9b9bb"/>
<circle cx="208.3" cy="288.7" r="1.9" fill="#b9b9bb"/>
<circle cx="218.2" cy="289.2" r="1.9" fill="#b9b9bb"/>
<circle cx="221.9" cy="289.4" r="1.9" fill="#b9b9bb"/>
<circle cx="48.8" cy="291.8" r="1.9" fill="#b9b9bb"/>
<circle cx="62.2" cy="292" r="1.9" fill="#b9b9bb"/>
<circle cx="65.2" cy="291.8" r="1.9" fill="#b9b9bb"/>
<circle cx="68" cy="292" r="1.9" fill="#b9b9bb"/>
<circle cx="71.4" cy="292.2" r="1.9" fill="#b9b9bb"/>
<circle cx="75.2" cy="291.8" r="1.9" fill="#b9b9bb"/>
<circle cx="78.6" cy="292.2" r="1.9" fill="#b9b9bb"/>
<circle cx="101.3" cy="292" r="1.9" fill="#b9b9bb"/>
<circle cx="104.8" cy="292.3" r="1.9" fill="#b9b9bb"/>
<circle cx="110.9" cy="291.9" r="1.9" fill="#b9b9bb"/>
<circle cx="114.9" cy="292" r="1.9" fill="#b9b9bb"/>
<circle cx="137.4" cy="291.9" r="1.9" fill="#b9b9bb"/>
<circle cx="147.7" cy="292" r="1.9" fill="#b9b9bb"/>
<circle cx="154.4" cy="291.6" r="1.9" fill="#b9b9bb"/>
<circle cx="157.3" cy="291.7" r="1.9" fill="#b9b9bb"/>
<g filter="url(#bl1)">
<ellipse cx="110" cy="279.5" rx="50" ry="11" fill="#a9b0c8"/>
<ellipse cx="108" cy="279.5" rx="43" ry="8" fill="#5a5fa8"/>
<ellipse cx="106" cy="279.5" rx="37" ry="6.2" fill="#2c2c88"/>
<ellipse cx="104" cy="279.5" rx="28" ry="4.4" fill="#7a1e5a"/>
<ellipse cx="103" cy="279" rx="20" ry="2.9" fill="#d02a30"/>
<ellipse cx="194" cy="271" rx="22" ry="13" fill="#a4acc8"/>
<ellipse cx="195" cy="271" rx="16.5" ry="10" fill="#3a3a98"/>
<ellipse cx="195.5" cy="271" rx="11.5" ry="7.5" fill="#a01a40"/>
<ellipse cx="196" cy="271" rx="9" ry="5.8" fill="#e03a2a"/>
<ellipse cx="196.5" cy="271" rx="6.5" ry="4.3" fill="#ffe43a"/>
</g>
<path d="M50 296.4 L52.1 296.4 L54.3 296.4 L56.4 296.4 L58.5 296.4 L60.7 296.4 L62.8 296.4 L65 296.4 L67.1 296.4 L69.2 296.4 L71.4 296.4 L73.5 296.4 L75.7 296.4 L77.8 296.4 L79.9 296.4 L82.1 296.4 L84.2 296.4 L86.3 296.4 L88.5 296.4 L90.6 296.4 L92.8 296.4 L94.9 296.4 L97 296.4 L99.2 296.4 L101.3 296.4 L103.4 296.4 L105.6 296.4 L107.7 296.4 L109.8 296.4 L112 296.4 L114.1 296.4 L116.3 296.4 L118.4 296.4 L120.5 296.4 L122.7 296.4 L124.8 296.4 L127 296.4 L129.1 296.4 L131.2 296.4 L133.4 296.4 L135.5 296.4 L137.6 296.4 L139.8 296.4 L141.9 296.4 L144.1 296.4 L146.2 296.4 L148.3 296.4 L150.5 296.4 L152.6 296.4 L154.7 296.4 L156.9 296.4 L159 296.4 L161.2 296.3 L163.3 296.2 L165.4 295.9 L167.6 295.4 L169.7 294.5 L171.8 293 L174 290.6 L176.1 286.9 L178.2 281.8 L180.4 275 L182.5 266.7 L184.7 257.3 L186.8 247.6 L188.9 238.6 L191.1 231.5 L193.2 227.3 L195.3 226.6 L197.5 229.5 L199.6 235.6 L201.8 243.9 L203.9 253.5 L206 263.1 L208.2 271.9 L210.3 279.3 L212.4 285.1 L214.6 289.3 L216.7 292.2 L218.9 294 L221 295.1" fill="none" stroke="#559c68" stroke-width="1.3"/>
<path d="M50 295.6 L52.1 295.4 L54.3 295.1 L56.4 294.8 L58.5 294.4 L60.7 293.9 L62.8 293.3 L65 292.6 L67.1 291.8 L69.2 290.9 L71.4 289.8 L73.5 288.6 L75.7 287.2 L77.8 285.7 L79.9 284.1 L82.1 282.3 L84.2 280.4 L86.3 278.4 L88.5 276.3 L90.6 274.1 L92.8 271.9 L94.9 269.7 L97 267.5 L99.2 265.5 L101.3 263.5 L103.4 261.7 L105.6 260.1 L107.7 258.8 L109.8 257.7 L112 257 L114.1 256.5 L116.3 256.4 L118.4 256.6 L120.5 257 L122.7 257.7 L124.8 258.6 L127 259.8 L129.1 261.2 L131.2 262.7 L133.4 264.4 L135.5 266.2 L137.6 268.1 L139.8 270.1 L141.9 272.1 L144.1 274 L146.2 276 L148.3 277.9 L150.5 279.8 L152.6 281.5 L154.7 283.2 L156.9 284.8 L159 286.2 L161.2 287.5 L163.3 288.7 L165.4 289.8 L167.6 290.8 L169.7 291.7 L171.8 292.4 L174 293.1 L176.1 293.6 L178.2 294.1 L180.4 294.5 L182.5 294.9 L184.7 295.2 L186.8 295.4 L188.9 295.6 L191.1 295.8 L193.2 295.9 L195.3 296 L197.5 296.1 L199.6 296.2 L201.8 296.2 L203.9 296.3 L206 296.3 L208.2 296.3 L210.3 296.3 L212.4 296.4 L214.6 296.4 L216.7 296.4 L218.9 296.4 L221 296.4" fill="none" stroke="#c42a3c" stroke-width="1.3"/>
<line x1="36.3" y1="187" x2="36.3" y2="300.8" stroke="#6e6e6e" stroke-width="0.9"/>
<line x1="36.3" y1="300.8" x2="230" y2="300.8" stroke="#6e6e6e" stroke-width="0.9"/>
<line x1="34" y1="198.2" x2="36.3" y2="198.2" stroke="#6e6e6e" stroke-width="0.9"/>
<text x="31" y="201.1" font-size="8.5" text-anchor="end" stroke="#2a2a2a" stroke-width="0.22">20</text>
<line x1="34" y1="234.9" x2="36.3" y2="234.9" stroke="#6e6e6e" stroke-width="0.9"/>
<text x="31" y="237.8" font-size="8.5" text-anchor="end" stroke="#2a2a2a" stroke-width="0.22">10</text>
<line x1="34" y1="271.6" x2="36.3" y2="271.6" stroke="#6e6e6e" stroke-width="0.9"/>
<text x="31" y="274.5" font-size="8.5" text-anchor="end" stroke="#2a2a2a" stroke-width="0.22">0</text>
<line x1="56.2" y1="300.8" x2="56.2" y2="303" stroke="#6e6e6e" stroke-width="0.9"/>
<text x="56.2" y="313" font-size="8.5" text-anchor="middle" stroke="#2a2a2a" stroke-width="0.22">−10</text>
<line x1="99.9" y1="300.8" x2="99.9" y2="303" stroke="#6e6e6e" stroke-width="0.9"/>
<text x="99.9" y="313" font-size="8.5" text-anchor="middle" stroke="#2a2a2a" stroke-width="0.22">−5</text>
<line x1="143.6" y1="300.8" x2="143.6" y2="303" stroke="#6e6e6e" stroke-width="0.9"/>
<text x="143.6" y="313" font-size="8.5" text-anchor="middle" stroke="#2a2a2a" stroke-width="0.22">0</text>
<line x1="187.3" y1="300.8" x2="187.3" y2="303" stroke="#6e6e6e" stroke-width="0.9"/>
<text x="187.3" y="313" font-size="8.5" text-anchor="middle" stroke="#2a2a2a" stroke-width="0.22">5</text>
<text x="132.5" y="325.5" font-size="8.6" text-anchor="middle" stroke="#2a2a2a" stroke-width="0.22">PC1</text>
<text x="14" y="244" font-size="8.6" text-anchor="middle" transform="rotate(-90 14 244)" stroke="#2a2a2a" stroke-width="0.22">PC2</text>
<rect x="168.6" y="183.3" width="53.4" height="30.7" fill="#fff"/>
<circle cx="193.2" cy="200.1" r="0.8" fill="#c4c4c8"/>
<circle cx="199" cy="203.9" r="0.8" fill="#c4c4c8"/>
<circle cx="197.2" cy="203.5" r="0.8" fill="#c4c4c8"/>
<circle cx="173" cy="194.8" r="0.8" fill="#c4c4c8"/>
<circle cx="204.1" cy="198.3" r="0.8" fill="#c4c4c8"/>
<circle cx="187.9" cy="190.7" r="0.8" fill="#c4c4c8"/>
<circle cx="190.5" cy="196.9" r="0.8" fill="#c4c4c8"/>
<circle cx="172.4" cy="190.1" r="0.8" fill="#c4c4c8"/>
<circle cx="181.5" cy="203.4" r="0.8" fill="#c4c4c8"/>
<circle cx="198" cy="189" r="0.8" fill="#c4c4c8"/>
<circle cx="193" cy="188.4" r="0.8" fill="#c4c4c8"/>
<circle cx="172.1" cy="202.6" r="0.8" fill="#c4c4c8"/>
<circle cx="179.1" cy="190.1" r="0.8" fill="#c4c4c8"/>
<circle cx="205.4" cy="202.6" r="0.8" fill="#c4c4c8"/>
<circle cx="181.8" cy="204.3" r="0.8" fill="#c4c4c8"/>
<circle cx="190.3" cy="198.9" r="0.8" fill="#c4c4c8"/>
<circle cx="179" cy="203.9" r="0.8" fill="#c4c4c8"/>
<circle cx="195.5" cy="204.4" r="0.8" fill="#c4c4c8"/>
<circle cx="202.4" cy="191.7" r="0.8" fill="#c4c4c8"/>
<circle cx="184.3" cy="189.2" r="0.8" fill="#c4c4c8"/>
<circle cx="177" cy="187.2" r="0.8" fill="#c4c4c8"/>
<circle cx="182.2" cy="197.5" r="0.8" fill="#c4c4c8"/>
<circle cx="172.1" cy="198.9" r="0.8" fill="#c4c4c8"/>
<circle cx="183.5" cy="191.9" r="0.8" fill="#c4c4c8"/>
<circle cx="199.8" cy="195.1" r="0.8" fill="#c4c4c8"/>
<circle cx="182.7" cy="195.1" r="0.8" fill="#c4c4c8"/>
<circle cx="197.5" cy="202.1" r="0.8" fill="#c4c4c8"/>
<circle cx="172.6" cy="201" r="0.8" fill="#c4c4c8"/>
<circle cx="184.5" cy="197" r="0.8" fill="#c4c4c8"/>
<circle cx="172.3" cy="186.9" r="0.8" fill="#c4c4c8"/>
<circle cx="178.2" cy="204.1" r="0.8" fill="#c4c4c8"/>
<circle cx="178.7" cy="200.4" r="0.8" fill="#c4c4c8"/>
<circle cx="203.6" cy="203.9" r="0.8" fill="#c4c4c8"/>
<circle cx="183.7" cy="192.7" r="0.8" fill="#c4c4c8"/>
<circle cx="189.8" cy="200.7" r="0.8" fill="#c4c4c8"/>
<circle cx="175.7" cy="200.2" r="0.8" fill="#c4c4c8"/>
<circle cx="199.1" cy="202.3" r="0.8" fill="#c4c4c8"/>
<circle cx="173.2" cy="204" r="0.8" fill="#c4c4c8"/>
<circle cx="175.1" cy="192.5" r="0.8" fill="#c4c4c8"/>
<circle cx="192.8" cy="203.4" r="0.8" fill="#c4c4c8"/>
<circle cx="183.6" cy="203.6" r="0.8" fill="#c4c4c8"/>
<circle cx="190.5" cy="191.9" r="0.8" fill="#c4c4c8"/>
<circle cx="182.8" cy="189.4" r="0.8" fill="#c4c4c8"/>
<circle cx="174.7" cy="188.8" r="0.8" fill="#c4c4c8"/>
<circle cx="195.4" cy="204.9" r="0.8" fill="#c4c4c8"/>
<circle cx="177.5" cy="186.9" r="0.8" fill="#c4c4c8"/>
<circle cx="205.5" cy="196.1" r="0.8" fill="#c4c4c8"/>
<circle cx="185.8" cy="190.5" r="0.8" fill="#c4c4c8"/>
<circle cx="192.2" cy="201.7" r="0.8" fill="#c4c4c8"/>
<circle cx="187.5" cy="194" r="0.8" fill="#c4c4c8"/>
<circle cx="173.9" cy="203.4" r="0.8" fill="#c4c4c8"/>
<circle cx="173.1" cy="195.4" r="0.8" fill="#c4c4c8"/>
<circle cx="196.9" cy="204" r="0.8" fill="#c4c4c8"/>
<circle cx="193.4" cy="201" r="0.8" fill="#c4c4c8"/>
<circle cx="175.6" cy="194.3" r="0.8" fill="#c4c4c8"/>
<circle cx="177.1" cy="202" r="0.8" fill="#c4c4c8"/>
<circle cx="182" cy="194.6" r="0.8" fill="#c4c4c8"/>
<circle cx="206" cy="202.2" r="0.8" fill="#c4c4c8"/>
<circle cx="205.2" cy="194.6" r="0.8" fill="#c4c4c8"/>
<circle cx="188.6" cy="199.9" r="0.8" fill="#c4c4c8"/>
<circle cx="188.3" cy="191.5" r="0.8" fill="#c4c4c8"/>
<circle cx="185.7" cy="188.8" r="0.8" fill="#c4c4c8"/>
<circle cx="184.8" cy="204.8" r="0.8" fill="#c4c4c8"/>
<circle cx="204.6" cy="197.9" r="0.8" fill="#c4c4c8"/>
<circle cx="189" cy="192.4" r="0.8" fill="#c4c4c8"/>
<circle cx="175" cy="191.2" r="0.8" fill="#c4c4c8"/>
<circle cx="198.6" cy="202.5" r="0.8" fill="#c4c4c8"/>
<circle cx="184.3" cy="200.9" r="0.8" fill="#c4c4c8"/>
<circle cx="198.3" cy="199.2" r="0.8" fill="#c4c4c8"/>
<circle cx="194.6" cy="200.4" r="0.8" fill="#c4c4c8"/>
<circle cx="184.4" cy="199.4" r="0.8" fill="#c4c4c8"/>
<circle cx="181.5" cy="195.2" r="0.8" fill="#c4c4c8"/>
<circle cx="198.2" cy="199.1" r="0.8" fill="#c4c4c8"/>
<circle cx="182" cy="204" r="0.8" fill="#c4c4c8"/>
<circle cx="194.1" cy="197" r="0.8" fill="#c4c4c8"/>
<circle cx="172.4" cy="196.4" r="0.8" fill="#c4c4c8"/>
<circle cx="180.5" cy="198.8" r="0.8" fill="#c4c4c8"/>
<circle cx="187.7" cy="201.5" r="0.8" fill="#c4c4c8"/>
<circle cx="194" cy="201.2" r="0.8" fill="#c4c4c8"/>
<circle cx="183.8" cy="198.2" r="0.8" fill="#c4c4c8"/>
<circle cx="197.1" cy="201.7" r="0.8" fill="#c4c4c8"/>
<circle cx="183.9" cy="202" r="0.8" fill="#c4c4c8"/>
<circle cx="201.6" cy="199.1" r="0.8" fill="#c4c4c8"/>
<circle cx="205.2" cy="204.2" r="0.8" fill="#c4c4c8"/>
<circle cx="189.6" cy="196.1" r="0.8" fill="#c4c4c8"/>
<circle cx="177.6" cy="201.9" r="0.8" fill="#c4c4c8"/>
<circle cx="203.9" cy="195.1" r="0.8" fill="#c4c4c8"/>
<circle cx="195.5" cy="199.7" r="0.8" fill="#c4c4c8"/>
<circle cx="196.8" cy="189.3" r="0.8" fill="#c4c4c8"/>
<circle cx="198.5" cy="197" r="0.8" fill="#c4c4c8"/>
<circle cx="194.6" cy="194" r="0.8" fill="#c4c4c8"/>
<circle cx="193.2" cy="200.7" r="0.8" fill="#c4c4c8"/>
<circle cx="193.7" cy="199.7" r="0.8" fill="#c4c4c8"/>
<circle cx="172.9" cy="189" r="0.8" fill="#c4c4c8"/>
<circle cx="187" cy="198.4" r="0.8" fill="#c4c4c8"/>
<circle cx="179.4" cy="199" r="0.8" fill="#c4c4c8"/>
<circle cx="188" cy="190.3" r="0.8" fill="#c4c4c8"/>
<circle cx="173.8" cy="188.5" r="0.8" fill="#c4c4c8"/>
<circle cx="182.8" cy="189.4" r="0.8" fill="#c4c4c8"/>
<circle cx="178.6" cy="186.7" r="0.8" fill="#c4c4c8"/>
<circle cx="187.8" cy="193.2" r="0.8" fill="#c4c4c8"/>
<circle cx="192.8" cy="197.2" r="0.8" fill="#c4c4c8"/>
<circle cx="180.1" cy="203.2" r="0.8" fill="#c4c4c8"/>
<circle cx="172" cy="193.7" r="0.8" fill="#c4c4c8"/>
<circle cx="181.5" cy="193.8" r="0.8" fill="#c4c4c8"/>
<circle cx="175.9" cy="201.8" r="0.8" fill="#c4c4c8"/>
<circle cx="190.5" cy="192.4" r="0.8" fill="#c4c4c8"/>
<circle cx="191.8" cy="204.2" r="0.8" fill="#c4c4c8"/>
<circle cx="199.8" cy="194" r="0.8" fill="#c4c4c8"/>
<circle cx="199.6" cy="198.2" r="0.8" fill="#c4c4c8"/>
<circle cx="184.6" cy="188.7" r="0.8" fill="#c4c4c8"/>
<circle cx="192.3" cy="196.7" r="0.8" fill="#c4c4c8"/>
<circle cx="204.5" cy="204.4" r="0.8" fill="#c4c4c8"/>
<circle cx="192.7" cy="192.7" r="0.8" fill="#c4c4c8"/>
<circle cx="175.7" cy="196.8" r="0.8" fill="#c4c4c8"/>
<circle cx="192.9" cy="188.7" r="0.8" fill="#c4c4c8"/>
<circle cx="193.4" cy="202.9" r="0.8" fill="#c4c4c8"/>
<circle cx="184.8" cy="194.2" r="0.8" fill="#c4c4c8"/>
<circle cx="179.7" cy="191.5" r="0.8" fill="#c4c4c8"/>
<circle cx="205.1" cy="193.2" r="0.8" fill="#c4c4c8"/>
<circle cx="204.7" cy="203.4" r="0.8" fill="#c4c4c8"/>
<circle cx="192.3" cy="190.9" r="0.8" fill="#c4c4c8"/>
<circle cx="205.4" cy="195.4" r="0.8" fill="#c4c4c8"/>
<circle cx="186.1" cy="192.1" r="0.8" fill="#c4c4c8"/>
<circle cx="205.5" cy="195.3" r="0.8" fill="#c4c4c8"/>
<circle cx="181.7" cy="195.1" r="0.8" fill="#c4c4c8"/>
<circle cx="176.1" cy="197.8" r="0.8" fill="#c4c4c8"/>
<circle cx="187.1" cy="191.6" r="0.8" fill="#c4c4c8"/>
<circle cx="198.6" cy="201.7" r="0.8" fill="#c4c4c8"/>
<circle cx="172.4" cy="196.1" r="0.8" fill="#c4c4c8"/>
<circle cx="181.3" cy="203.8" r="0.8" fill="#c4c4c8"/>
<circle cx="180.6" cy="192.3" r="0.9" fill="#bcbcc0"/>
<circle cx="179.7" cy="198.9" r="0.9" fill="#bcbcc0"/>
<circle cx="183.3" cy="195.7" r="0.9" fill="#bcbcc0"/>
<circle cx="176.5" cy="192.4" r="0.9" fill="#bcbcc0"/>
<circle cx="176.7" cy="190.6" r="0.9" fill="#bcbcc0"/>
<circle cx="179.9" cy="193.5" r="0.9" fill="#bcbcc0"/>
<circle cx="180.2" cy="191.8" r="0.9" fill="#bcbcc0"/>
<circle cx="176.5" cy="195.1" r="0.9" fill="#bcbcc0"/>
<circle cx="178.6" cy="201.9" r="0.9" fill="#bcbcc0"/>
<circle cx="176.3" cy="197.1" r="0.9" fill="#bcbcc0"/>
<circle cx="179.8" cy="189.3" r="0.9" fill="#bcbcc0"/>
<circle cx="183" cy="196.9" r="0.9" fill="#bcbcc0"/>
<circle cx="171.4" cy="199.1" r="0.9" fill="#bcbcc0"/>
<circle cx="183.8" cy="191.9" r="0.9" fill="#bcbcc0"/>
<circle cx="186.9" cy="196.8" r="0.9" fill="#bcbcc0"/>
<circle cx="175.3" cy="198.9" r="0.9" fill="#bcbcc0"/>
<circle cx="178.5" cy="189.2" r="0.9" fill="#bcbcc0"/>
<circle cx="171.2" cy="197.3" r="0.9" fill="#bcbcc0"/>
<circle cx="177" cy="199.3" r="0.9" fill="#bcbcc0"/>
<circle cx="181.6" cy="193.3" r="0.9" fill="#bcbcc0"/>
<circle cx="177.8" cy="205" r="0.9" fill="#bcbcc0"/>
<circle cx="187" cy="199.8" r="0.9" fill="#bcbcc0"/>
<circle cx="178.5" cy="191" r="0.9" fill="#bcbcc0"/>
<circle cx="178.4" cy="204.5" r="0.9" fill="#bcbcc0"/>
<circle cx="181.9" cy="194.5" r="0.9" fill="#bcbcc0"/>
<circle cx="175" cy="196.9" r="0.9" fill="#bcbcc0"/>
<circle cx="176.4" cy="196.1" r="0.9" fill="#bcbcc0"/>
<circle cx="183" cy="201.5" r="0.9" fill="#bcbcc0"/>
<circle cx="180.6" cy="194.3" r="0.9" fill="#bcbcc0"/>
<circle cx="180.9" cy="205.2" r="0.9" fill="#bcbcc0"/>
<circle cx="181.5" cy="188.9" r="0.9" fill="#bcbcc0"/>
<circle cx="186.3" cy="197.3" r="0.9" fill="#bcbcc0"/>
<circle cx="194.2" cy="193.6" r="0.9" fill="#bcbcc0"/>
<circle cx="179.6" cy="194.5" r="0.9" fill="#bcbcc0"/>
<circle cx="181.5" cy="193.1" r="0.9" fill="#bcbcc0"/>
<circle cx="174" cy="186.2" r="0.9" fill="#bcbcc0"/>
<circle cx="179.5" cy="193.4" r="0.9" fill="#bcbcc0"/>
<circle cx="177.6" cy="206.8" r="0.9" fill="#bcbcc0"/>
<circle cx="183.2" cy="201.5" r="0.9" fill="#bcbcc0"/>
<circle cx="178" cy="197.5" r="0.9" fill="#bcbcc0"/>
<circle cx="179.1" cy="195" r="0.9" fill="#bcbcc0"/>
<circle cx="183" cy="199.1" r="0.9" fill="#bcbcc0"/>
<circle cx="181.2" cy="196.8" r="0.9" fill="#bcbcc0"/>
<circle cx="174.1" cy="192.2" r="0.9" fill="#bcbcc0"/>
<circle cx="181.6" cy="194.1" r="0.9" fill="#bcbcc0"/>
<circle cx="176.8" cy="197.8" r="0.9" fill="#bcbcc0"/>
<circle cx="176.3" cy="192.6" r="0.9" fill="#bcbcc0"/>
<circle cx="183.6" cy="194.2" r="0.9" fill="#bcbcc0"/>
<circle cx="185.8" cy="198.7" r="0.9" fill="#bcbcc0"/>
<circle cx="183.3" cy="201.7" r="0.9" fill="#bcbcc0"/>
<circle cx="171.2" cy="195.6" r="0.9" fill="#bcbcc0"/>
<circle cx="174.8" cy="193.6" r="0.9" fill="#bcbcc0"/>
<circle cx="179.6" cy="202.3" r="0.9" fill="#bcbcc0"/>
<circle cx="179.8" cy="204.3" r="0.9" fill="#bcbcc0"/>
<circle cx="177.9" cy="195.7" r="0.9" fill="#bcbcc0"/>
<circle cx="180.4" cy="200.8" r="0.9" fill="#bcbcc0"/>
<circle cx="179.8" cy="192.9" r="0.9" fill="#bcbcc0"/>
<circle cx="178.7" cy="188.9" r="0.9" fill="#bcbcc0"/>
<circle cx="185.1" cy="199.8" r="0.9" fill="#bcbcc0"/>
<circle cx="181.7" cy="197.4" r="0.9" fill="#bcbcc0"/>
<g filter="url(#bl05)">
<ellipse cx="193" cy="209.5" rx="20" ry="2.8" fill="#9aa3c8"/>
<ellipse cx="190" cy="209.5" rx="12" ry="2" fill="#3a3a9a"/>
<ellipse cx="188" cy="209.5" rx="6" ry="1.5" fill="#8a1e55"/>
<ellipse cx="211.5" cy="207.5" rx="5" ry="3" fill="#5a4aa0"/>
<ellipse cx="212" cy="207.5" rx="3" ry="2" fill="#d83a2a"/>
<ellipse cx="212.3" cy="207.3" rx="1.5" ry="1.1" fill="#ffe060"/>
</g>
<rect x="168.6" y="183.3" width="53.4" height="30.7" fill="none" stroke="#a56868" stroke-width="0.9"/>
<line x1="183.1" y1="183.3" x2="183.1" y2="214" stroke="#d06a6a" stroke-width="0.8"/>
<line x1="210.5" y1="183.3" x2="210.5" y2="214" stroke="#d06a6a" stroke-width="0.8"/>
<line x1="168.6" y1="206" x2="222" y2="206" stroke="#d06a6a" stroke-width="0.8"/>
<text x="195.4" y="179.7" font-size="7" text-anchor="middle" stroke="#2a2a2a" stroke-width="0.22">Cycling</text>
<text x="195" y="223" font-size="6.7" text-anchor="middle">Noncycling</text>
<text x="166.6" y="198.7" font-size="6.7" text-anchor="middle" transform="rotate(-90 166.6 198.7)">pGSC</text>
<text x="231.5" y="198.7" font-size="6.7" text-anchor="middle" transform="rotate(-90 231.5 198.7)">mGSC</text>
<text x="291.3" y="177.5" font-size="8.5" text-anchor="middle" stroke="#2a2a2a" stroke-width="0.22">PC1 score</text>
<line x1="249.5" y1="183" x2="329" y2="183" stroke="#222" stroke-width="1.1"/>
<path d="M333.5 183 L327.5 180.2 L327.5 185.8 Z" fill="#222"/>
<rect x="245.5" y="189.2" width="90.8" height="63.3" fill="#3a2040"/>
<rect x="245.5" y="189.2" width="2" height="4.9" fill="#9d972d"/>
<rect x="247.5" y="189.2" width="2" height="4.9" fill="#b5af31"/>
<rect x="249.4" y="189.2" width="2" height="4.9" fill="#554d21"/>
<rect x="251.4" y="189.2" width="2" height="4.9" fill="#878029"/>
<rect x="253.4" y="189.2" width="2" height="4.9" fill="#3e351c"/>
<rect x="255.4" y="189.2" width="2" height="4.9" fill="#2a2019"/>
<rect x="257.3" y="189.2" width="2" height="4.9" fill="#42391d"/>
<rect x="259.3" y="189.2" width="2" height="4.9" fill="#42391d"/>
<rect x="261.3" y="189.2" width="2" height="4.9" fill="#524a20"/>
<rect x="263.3" y="189.2" width="2" height="4.9" fill="#5b5322"/>
<rect x="265.2" y="189.2" width="2" height="4.9" fill="#291428"/>
<rect x="267.2" y="189.2" width="2" height="4.9" fill="#b1ab31"/>
<rect x="269.2" y="189.2" width="2" height="4.9" fill="#b2ac31"/>
<rect x="271.2" y="189.2" width="2" height="4.9" fill="#f0ec3c"/>
<rect x="273.1" y="189.2" width="2" height="4.9" fill="#341634"/>
<rect x="275.1" y="189.2" width="2" height="4.9" fill="#231221"/>
<rect x="277.1" y="189.2" width="2" height="4.9" fill="#352c1b"/>
<rect x="279.1" y="189.2" width="2" height="4.9" fill="#3f361d"/>
<rect x="281" y="189.2" width="2" height="4.9" fill="#99922d"/>
<rect x="283" y="189.2" width="2" height="4.9" fill="#41381d"/>
<rect x="285" y="189.2" width="2" height="4.9" fill="#48401e"/>
<rect x="287" y="189.2" width="2" height="4.9" fill="#d9d538"/>
<rect x="288.9" y="189.2" width="2" height="4.9" fill="#7d278a"/>
<rect x="290.9" y="189.2" width="2" height="4.9" fill="#942da5"/>
<rect x="292.9" y="189.2" width="2" height="4.9" fill="#6a2373"/>
<rect x="294.8" y="189.2" width="2" height="4.9" fill="#541e5a"/>
<rect x="296.8" y="189.2" width="2" height="4.9" fill="#672270"/>
<rect x="298.8" y="189.2" width="2" height="4.9" fill="#7c2789"/>
<rect x="300.8" y="189.2" width="2" height="4.9" fill="#63216b"/>
<rect x="302.7" y="189.2" width="2" height="4.9" fill="#7b2787"/>
<rect x="304.7" y="189.2" width="2" height="4.9" fill="#7f288d"/>
<rect x="306.7" y="189.2" width="2" height="4.9" fill="#752581"/>
<rect x="308.7" y="189.2" width="2" height="4.9" fill="#64216d"/>
<rect x="310.6" y="189.2" width="2" height="4.9" fill="#782684"/>
<rect x="312.6" y="189.2" width="2" height="4.9" fill="#7f288c"/>
<rect x="314.6" y="189.2" width="2" height="4.9" fill="#912ca1"/>
<rect x="316.6" y="189.2" width="2" height="4.9" fill="#762682"/>
<rect x="318.5" y="189.2" width="2" height="4.9" fill="#8b2b9b"/>
<rect x="320.5" y="189.2" width="2" height="4.9" fill="#7b2788"/>
<rect x="322.5" y="189.2" width="2" height="4.9" fill="#912ca1"/>
<rect x="324.5" y="189.2" width="2" height="4.9" fill="#882a97"/>
<rect x="326.4" y="189.2" width="2" height="4.9" fill="#8a2a99"/>
<rect x="328.4" y="189.2" width="2" height="4.9" fill="#852993"/>
<rect x="330.4" y="189.2" width="2" height="4.9" fill="#8c2b9c"/>
<rect x="332.4" y="189.2" width="2" height="4.9" fill="#65226e"/>
<rect x="334.3" y="189.2" width="2" height="4.9" fill="#6d2377"/>
<rect x="245.5" y="194.1" width="2" height="4.9" fill="#281e18"/>
<rect x="247.5" y="194.1" width="2" height="4.9" fill="#341634"/>
<rect x="249.4" y="194.1" width="2" height="4.9" fill="#b1ab31"/>
<rect x="251.4" y="194.1" width="2" height="4.9" fill="#30271a"/>
<rect x="253.4" y="194.1" width="2" height="4.9" fill="#7f7728"/>
<rect x="255.4" y="194.1" width="2" height="4.9" fill="#a8a22f"/>
<rect x="257.3" y="194.1" width="2" height="4.9" fill="#201717"/>
<rect x="259.3" y="194.1" width="2" height="4.9" fill="#726a26"/>
<rect x="261.3" y="194.1" width="2" height="4.9" fill="#736b26"/>
<rect x="263.3" y="194.1" width="2" height="4.9" fill="#1e1417"/>
<rect x="265.2" y="194.1" width="2" height="4.9" fill="#372e1b"/>
<rect x="267.2" y="194.1" width="2" height="4.9" fill="#231220"/>
<rect x="269.2" y="194.1" width="2" height="4.9" fill="#341634"/>
<rect x="271.2" y="194.1" width="2" height="4.9" fill="#221817"/>
<rect x="273.1" y="194.1" width="2" height="4.9" fill="#e7e23a"/>
<rect x="275.1" y="194.1" width="2" height="4.9" fill="#aaa430"/>
<rect x="277.1" y="194.1" width="2" height="4.9" fill="#f0ec3c"/>
<rect x="279.1" y="194.1" width="2" height="4.9" fill="#4f461f"/>
<rect x="281" y="194.1" width="2" height="4.9" fill="#9d972d"/>
<rect x="283" y="194.1" width="2" height="4.9" fill="#231220"/>
<rect x="285" y="194.1" width="2" height="4.9" fill="#2a1429"/>
<rect x="287" y="194.1" width="2" height="4.9" fill="#311531"/>
<rect x="288.9" y="194.1" width="2" height="4.9" fill="#6c2376"/>
<rect x="290.9" y="194.1" width="2" height="4.9" fill="#66226f"/>
<rect x="292.9" y="194.1" width="2" height="4.9" fill="#932ca4"/>
<rect x="294.8" y="194.1" width="2" height="4.9" fill="#672271"/>
<rect x="296.8" y="194.1" width="2" height="4.9" fill="#64216d"/>
<rect x="298.8" y="194.1" width="2" height="4.9" fill="#66226f"/>
<rect x="300.8" y="194.1" width="2" height="4.9" fill="#882a97"/>
<rect x="302.7" y="194.1" width="2" height="4.9" fill="#70247b"/>
<rect x="304.7" y="194.1" width="2" height="4.9" fill="#6e2478"/>
<rect x="306.7" y="194.1" width="2" height="4.9" fill="#892a98"/>
<rect x="308.7" y="194.1" width="2" height="4.9" fill="#862995"/>
<rect x="310.6" y="194.1" width="2" height="4.9" fill="#4f1c54"/>
<rect x="312.6" y="194.1" width="2" height="4.9" fill="#7e288c"/>
<rect x="314.6" y="194.1" width="2" height="4.9" fill="#7b2788"/>
<rect x="316.6" y="194.1" width="2" height="4.9" fill="#942ca4"/>
<rect x="318.5" y="194.1" width="2" height="4.9" fill="#7d278b"/>
<rect x="320.5" y="194.1" width="2" height="4.9" fill="#5d2064"/>
<rect x="322.5" y="194.1" width="2" height="4.9" fill="#6d2377"/>
<rect x="324.5" y="194.1" width="2" height="4.9" fill="#81288f"/>
<rect x="326.4" y="194.1" width="2" height="4.9" fill="#73257e"/>
<rect x="328.4" y="194.1" width="2" height="4.9" fill="#6d2377"/>
<rect x="330.4" y="194.1" width="2" height="4.9" fill="#692373"/>
<rect x="332.4" y="194.1" width="2" height="4.9" fill="#842992"/>
<rect x="334.3" y="194.1" width="2" height="4.9" fill="#6d2377"/>
<rect x="245.5" y="198.9" width="2" height="4.9" fill="#1d1316"/>
<rect x="247.5" y="198.9" width="2" height="4.9" fill="#2d2319"/>
<rect x="249.4" y="198.9" width="2" height="4.9" fill="#231221"/>
<rect x="251.4" y="198.9" width="2" height="4.9" fill="#20111d"/>
<rect x="253.4" y="198.9" width="2" height="4.9" fill="#8b852a"/>
<rect x="255.4" y="198.9" width="2" height="4.9" fill="#341634"/>
<rect x="257.3" y="198.9" width="2" height="4.9" fill="#6f6825"/>
<rect x="259.3" y="198.9" width="2" height="4.9" fill="#f0ec3c"/>
<rect x="261.3" y="198.9" width="2" height="4.9" fill="#251323"/>
<rect x="263.3" y="198.9" width="2" height="4.9" fill="#41381d"/>
<rect x="265.2" y="198.9" width="2" height="4.9" fill="#564d21"/>
<rect x="267.2" y="198.9" width="2" height="4.9" fill="#f0ec3c"/>
<rect x="269.2" y="198.9" width="2" height="4.9" fill="#341634"/>
<rect x="271.2" y="198.9" width="2" height="4.9" fill="#938c2b"/>
<rect x="273.1" y="198.9" width="2" height="4.9" fill="#534b20"/>
<rect x="275.1" y="198.9" width="2" height="4.9" fill="#f0ec3c"/>
<rect x="277.1" y="198.9" width="2" height="4.9" fill="#49401e"/>
<rect x="279.1" y="198.9" width="2" height="4.9" fill="#f0ec3c"/>
<rect x="281" y="198.9" width="2" height="4.9" fill="#2a1428"/>
<rect x="283" y="198.9" width="2" height="4.9" fill="#7f7828"/>
<rect x="285" y="198.9" width="2" height="4.9" fill="#321632"/>
<rect x="287" y="198.9" width="2" height="4.9" fill="#231a18"/>
<rect x="288.9" y="198.9" width="2" height="4.9" fill="#7b2788"/>
<rect x="290.9" y="198.9" width="2" height="4.9" fill="#6d2377"/>
<rect x="292.9" y="198.9" width="2" height="4.9" fill="#4d1c51"/>
<rect x="294.8" y="198.9" width="2" height="4.9" fill="#6f247a"/>
<rect x="296.8" y="198.9" width="2" height="4.9" fill="#3d1840"/>
<rect x="298.8" y="198.9" width="2" height="4.9" fill="#4c1c50"/>
<rect x="300.8" y="198.9" width="2" height="4.9" fill="#61216a"/>
<rect x="302.7" y="198.9" width="2" height="4.9" fill="#66226f"/>
<rect x="304.7" y="198.9" width="2" height="4.9" fill="#612169"/>
<rect x="306.7" y="198.9" width="2" height="4.9" fill="#73257e"/>
<rect x="308.7" y="198.9" width="2" height="4.9" fill="#5d2064"/>
<rect x="310.6" y="198.9" width="2" height="4.9" fill="#65226e"/>
<rect x="312.6" y="198.9" width="2" height="4.9" fill="#872a96"/>
<rect x="314.6" y="198.9" width="2" height="4.9" fill="#66226f"/>
<rect x="316.6" y="198.9" width="2" height="4.9" fill="#5d2064"/>
<rect x="318.5" y="198.9" width="2" height="4.9" fill="#66226f"/>
<rect x="320.5" y="198.9" width="2" height="4.9" fill="#61216a"/>
<rect x="322.5" y="198.9" width="2" height="4.9" fill="#66226f"/>
<rect x="324.5" y="198.9" width="2" height="4.9" fill="#6e2479"/>
<rect x="326.4" y="198.9" width="2" height="4.9" fill="#551e5b"/>
<rect x="328.4" y="198.9" width="2" height="4.9" fill="#4f1c54"/>
<rect x="330.4" y="198.9" width="2" height="4.9" fill="#6c2376"/>
<rect x="332.4" y="198.9" width="2" height="4.9" fill="#591f60"/>
<rect x="334.3" y="198.9" width="2" height="4.9" fill="#782685"/>
<rect x="245.5" y="203.8" width="2" height="4.9" fill="#c9c435"/>
<rect x="247.5" y="203.8" width="2" height="4.9" fill="#281326"/>
<rect x="249.4" y="203.8" width="2" height="4.9" fill="#554d21"/>
<rect x="251.4" y="203.8" width="2" height="4.9" fill="#aca630"/>
<rect x="253.4" y="203.8" width="2" height="4.9" fill="#211817"/>
<rect x="255.4" y="203.8" width="2" height="4.9" fill="#554d21"/>
<rect x="257.3" y="203.8" width="2" height="4.9" fill="#b2ac31"/>
<rect x="259.3" y="203.8" width="2" height="4.9" fill="#1d1316"/>
<rect x="261.3" y="203.8" width="2" height="4.9" fill="#726a26"/>
<rect x="263.3" y="203.8" width="2" height="4.9" fill="#bab532"/>
<rect x="265.2" y="203.8" width="2" height="4.9" fill="#6a6224"/>
<rect x="267.2" y="203.8" width="2" height="4.9" fill="#251323"/>
<rect x="269.2" y="203.8" width="2" height="4.9" fill="#2c2219"/>
<rect x="271.2" y="203.8" width="2" height="4.9" fill="#39301c"/>
<rect x="273.1" y="203.8" width="2" height="4.9" fill="#534a20"/>
<rect x="275.1" y="203.8" width="2" height="4.9" fill="#8d872a"/>
<rect x="277.1" y="203.8" width="2" height="4.9" fill="#341634"/>
<rect x="279.1" y="203.8" width="2" height="4.9" fill="#4a421f"/>
<rect x="281" y="203.8" width="2" height="4.9" fill="#645c23"/>
<rect x="283" y="203.8" width="2" height="4.9" fill="#e1dd39"/>
<rect x="285" y="203.8" width="2" height="4.9" fill="#341634"/>
<rect x="287" y="203.8" width="2" height="4.9" fill="#2b142a"/>
<rect x="288.9" y="203.8" width="2" height="4.9" fill="#6b2375"/>
<rect x="290.9" y="203.8" width="2" height="4.9" fill="#7a2787"/>
<rect x="292.9" y="203.8" width="2" height="4.9" fill="#682271"/>
<rect x="294.8" y="203.8" width="2" height="4.9" fill="#7a2787"/>
<rect x="296.8" y="203.8" width="2" height="4.9" fill="#842993"/>
<rect x="298.8" y="203.8" width="2" height="4.9" fill="#7b2787"/>
<rect x="300.8" y="203.8" width="2" height="4.9" fill="#65226e"/>
<rect x="302.7" y="203.8" width="2" height="4.9" fill="#6e2478"/>
<rect x="304.7" y="203.8" width="2" height="4.9" fill="#762682"/>
<rect x="306.7" y="203.8" width="2" height="4.9" fill="#772683"/>
<rect x="308.7" y="203.8" width="2" height="4.9" fill="#682271"/>
<rect x="310.6" y="203.8" width="2" height="4.9" fill="#70247a"/>
<rect x="312.6" y="203.8" width="2" height="4.9" fill="#762581"/>
<rect x="314.6" y="203.8" width="2" height="4.9" fill="#6e2478"/>
<rect x="316.6" y="203.8" width="2" height="4.9" fill="#782684"/>
<rect x="318.5" y="203.8" width="2" height="4.9" fill="#8c2b9c"/>
<rect x="320.5" y="203.8" width="2" height="4.9" fill="#6b2375"/>
<rect x="322.5" y="203.8" width="2" height="4.9" fill="#66226f"/>
<rect x="324.5" y="203.8" width="2" height="4.9" fill="#63216b"/>
<rect x="326.4" y="203.8" width="2" height="4.9" fill="#7b2787"/>
<rect x="328.4" y="203.8" width="2" height="4.9" fill="#8d2b9d"/>
<rect x="330.4" y="203.8" width="2" height="4.9" fill="#73257e"/>
<rect x="332.4" y="203.8" width="2" height="4.9" fill="#832991"/>
<rect x="334.3" y="203.8" width="2" height="4.9" fill="#982eaa"/>
<rect x="245.5" y="208.7" width="2" height="4.9" fill="#aba530"/>
<rect x="247.5" y="208.7" width="2" height="4.9" fill="#534b20"/>
<rect x="249.4" y="208.7" width="2" height="4.9" fill="#a39d2e"/>
<rect x="251.4" y="208.7" width="2" height="4.9" fill="#6e6725"/>
<rect x="253.4" y="208.7" width="2" height="4.9" fill="#eae63b"/>
<rect x="255.4" y="208.7" width="2" height="4.9" fill="#ede93b"/>
<rect x="257.3" y="208.7" width="2" height="4.9" fill="#ccc736"/>
<rect x="259.3" y="208.7" width="2" height="4.9" fill="#f0ec3c"/>
<rect x="261.3" y="208.7" width="2" height="4.9" fill="#6a6224"/>
<rect x="263.3" y="208.7" width="2" height="4.9" fill="#f0ec3c"/>
<rect x="265.2" y="208.7" width="2" height="4.9" fill="#2e152d"/>
<rect x="267.2" y="208.7" width="2" height="4.9" fill="#e2de3a"/>
<rect x="269.2" y="208.7" width="2" height="4.9" fill="#f0ec3c"/>
<rect x="271.2" y="208.7" width="2" height="4.9" fill="#766f26"/>
<rect x="273.1" y="208.7" width="2" height="4.9" fill="#a7a12f"/>
<rect x="275.1" y="208.7" width="2" height="4.9" fill="#2b2219"/>
<rect x="277.1" y="208.7" width="2" height="4.9" fill="#726b26"/>
<rect x="279.1" y="208.7" width="2" height="4.9" fill="#b8b232"/>
<rect x="281" y="208.7" width="2" height="4.9" fill="#241b18"/>
<rect x="283" y="208.7" width="2" height="4.9" fill="#341634"/>
<rect x="285" y="208.7" width="2" height="4.9" fill="#7a7327"/>
<rect x="287" y="208.7" width="2" height="4.9" fill="#4d441f"/>
<rect x="288.9" y="208.7" width="2" height="4.9" fill="#561e5d"/>
<rect x="290.9" y="208.7" width="2" height="4.9" fill="#491b4d"/>
<rect x="292.9" y="208.7" width="2" height="4.9" fill="#5d2065"/>
<rect x="294.8" y="208.7" width="2" height="4.9" fill="#351635"/>
<rect x="296.8" y="208.7" width="2" height="4.9" fill="#341634"/>
<rect x="298.8" y="208.7" width="2" height="4.9" fill="#461a4a"/>
<rect x="300.8" y="208.7" width="2" height="4.9" fill="#501d55"/>
<rect x="302.7" y="208.7" width="2" height="4.9" fill="#481b4b"/>
<rect x="304.7" y="208.7" width="2" height="4.9" fill="#481b4c"/>
<rect x="306.7" y="208.7" width="2" height="4.9" fill="#531d59"/>
<rect x="308.7" y="208.7" width="2" height="4.9" fill="#511d57"/>
<rect x="310.6" y="208.7" width="2" height="4.9" fill="#401942"/>
<rect x="312.6" y="208.7" width="2" height="4.9" fill="#551e5b"/>
<rect x="314.6" y="208.7" width="2" height="4.9" fill="#511d56"/>
<rect x="316.6" y="208.7" width="2" height="4.9" fill="#4e1c53"/>
<rect x="318.5" y="208.7" width="2" height="4.9" fill="#571e5d"/>
<rect x="320.5" y="208.7" width="2" height="4.9" fill="#421945"/>
<rect x="322.5" y="208.7" width="2" height="4.9" fill="#5b1f63"/>
<rect x="324.5" y="208.7" width="2" height="4.9" fill="#371739"/>
<rect x="326.4" y="208.7" width="2" height="4.9" fill="#3b183d"/>
<rect x="328.4" y="208.7" width="2" height="4.9" fill="#471b4b"/>
<rect x="330.4" y="208.7" width="2" height="4.9" fill="#39173a"/>
<rect x="332.4" y="208.7" width="2" height="4.9" fill="#351635"/>
<rect x="334.3" y="208.7" width="2" height="4.9" fill="#4d1c52"/>
<rect x="245.5" y="213.5" width="2" height="4.9" fill="#362d1b"/>
<rect x="247.5" y="213.5" width="2" height="4.9" fill="#281327"/>
<rect x="249.4" y="213.5" width="2" height="4.9" fill="#1b1017"/>
<rect x="251.4" y="213.5" width="2" height="4.9" fill="#1c1018"/>
<rect x="253.4" y="213.5" width="2" height="4.9" fill="#433a1d"/>
<rect x="255.4" y="213.5" width="2" height="4.9" fill="#6c6424"/>
<rect x="257.3" y="213.5" width="2" height="4.9" fill="#f0ec3c"/>
<rect x="259.3" y="213.5" width="2" height="4.9" fill="#5b5321"/>
<rect x="261.3" y="213.5" width="2" height="4.9" fill="#948d2c"/>
<rect x="263.3" y="213.5" width="2" height="4.9" fill="#261c18"/>
<rect x="265.2" y="213.5" width="2" height="4.9" fill="#d6d237"/>
<rect x="267.2" y="213.5" width="2" height="4.9" fill="#473e1e"/>
<rect x="269.2" y="213.5" width="2" height="4.9" fill="#2b2119"/>
<rect x="271.2" y="213.5" width="2" height="4.9" fill="#211717"/>
<rect x="273.1" y="213.5" width="2" height="4.9" fill="#3e351c"/>
<rect x="275.1" y="213.5" width="2" height="4.9" fill="#1c1119"/>
<rect x="277.1" y="213.5" width="2" height="4.9" fill="#4c431f"/>
<rect x="279.1" y="213.5" width="2" height="4.9" fill="#e0dc39"/>
<rect x="281" y="213.5" width="2" height="4.9" fill="#42391d"/>
<rect x="283" y="213.5" width="2" height="4.9" fill="#311531"/>
<rect x="285" y="213.5" width="2" height="4.9" fill="#341634"/>
<rect x="287" y="213.5" width="2" height="4.9" fill="#31281a"/>
<rect x="288.9" y="213.5" width="2" height="4.9" fill="#772683"/>
<rect x="290.9" y="213.5" width="2" height="4.9" fill="#73257e"/>
<rect x="292.9" y="213.5" width="2" height="4.9" fill="#64216d"/>
<rect x="294.8" y="213.5" width="2" height="4.9" fill="#612169"/>
<rect x="296.8" y="213.5" width="2" height="4.9" fill="#5f2067"/>
<rect x="298.8" y="213.5" width="2" height="4.9" fill="#541e5a"/>
<rect x="300.8" y="213.5" width="2" height="4.9" fill="#762682"/>
<rect x="302.7" y="213.5" width="2" height="4.9" fill="#71247c"/>
<rect x="304.7" y="213.5" width="2" height="4.9" fill="#752580"/>
<rect x="306.7" y="213.5" width="2" height="4.9" fill="#772683"/>
<rect x="308.7" y="213.5" width="2" height="4.9" fill="#71247c"/>
<rect x="310.6" y="213.5" width="2" height="4.9" fill="#742580"/>
<rect x="312.6" y="213.5" width="2" height="4.9" fill="#5c1f63"/>
<rect x="314.6" y="213.5" width="2" height="4.9" fill="#782684"/>
<rect x="316.6" y="213.5" width="2" height="4.9" fill="#431a46"/>
<rect x="318.5" y="213.5" width="2" height="4.9" fill="#882a97"/>
<rect x="320.5" y="213.5" width="2" height="4.9" fill="#591f60"/>
<rect x="322.5" y="213.5" width="2" height="4.9" fill="#80288e"/>
<rect x="324.5" y="213.5" width="2" height="4.9" fill="#6f2479"/>
<rect x="326.4" y="213.5" width="2" height="4.9" fill="#7a2787"/>
<rect x="328.4" y="213.5" width="2" height="4.9" fill="#672270"/>
<rect x="330.4" y="213.5" width="2" height="4.9" fill="#5f2067"/>
<rect x="332.4" y="213.5" width="2" height="4.9" fill="#6d2478"/>
<rect x="334.3" y="213.5" width="2" height="4.9" fill="#71247c"/>
<rect x="245.5" y="218.4" width="2" height="4.9" fill="#772683"/>
<rect x="247.5" y="218.4" width="2" height="4.9" fill="#742580"/>
<rect x="249.4" y="218.4" width="2" height="4.9" fill="#752580"/>
<rect x="251.4" y="218.4" width="2" height="4.9" fill="#72257d"/>
<rect x="253.4" y="218.4" width="2" height="4.9" fill="#66226f"/>
<rect x="255.4" y="218.4" width="2" height="4.9" fill="#591f5f"/>
<rect x="257.3" y="218.4" width="2" height="4.9" fill="#72257d"/>
<rect x="259.3" y="218.4" width="2" height="4.9" fill="#882a96"/>
<rect x="261.3" y="218.4" width="2" height="4.9" fill="#6d2377"/>
<rect x="263.3" y="218.4" width="2" height="4.9" fill="#5a1f61"/>
<rect x="265.2" y="218.4" width="2" height="4.9" fill="#772684"/>
<rect x="267.2" y="218.4" width="2" height="4.9" fill="#612169"/>
<rect x="269.2" y="218.4" width="2" height="4.9" fill="#7a2686"/>
<rect x="271.2" y="218.4" width="2" height="4.9" fill="#7b2788"/>
<rect x="273.1" y="218.4" width="2" height="4.9" fill="#63216c"/>
<rect x="275.1" y="218.4" width="2" height="4.9" fill="#852993"/>
<rect x="277.1" y="218.4" width="2" height="4.9" fill="#6e2478"/>
<rect x="279.1" y="218.4" width="2" height="4.9" fill="#932ca3"/>
<rect x="281" y="218.4" width="2" height="4.9" fill="#782684"/>
<rect x="283" y="218.4" width="2" height="4.9" fill="#612169"/>
<rect x="285" y="218.4" width="2" height="4.9" fill="#6f247a"/>
<rect x="287" y="218.4" width="2" height="4.9" fill="#73257e"/>
<rect x="288.9" y="218.4" width="2" height="4.9" fill="#7f7828"/>
<rect x="290.9" y="218.4" width="2" height="4.9" fill="#2f152e"/>
<rect x="292.9" y="218.4" width="2" height="4.9" fill="#341634"/>
<rect x="294.8" y="218.4" width="2" height="4.9" fill="#271d18"/>
<rect x="296.8" y="218.4" width="2" height="4.9" fill="#463e1e"/>
<rect x="298.8" y="218.4" width="2" height="4.9" fill="#5a5221"/>
<rect x="300.8" y="218.4" width="2" height="4.9" fill="#3c331c"/>
<rect x="302.7" y="218.4" width="2" height="4.9" fill="#bbb633"/>
<rect x="304.7" y="218.4" width="2" height="4.9" fill="#817a28"/>
<rect x="306.7" y="218.4" width="2" height="4.9" fill="#40371d"/>
<rect x="308.7" y="218.4" width="2" height="4.9" fill="#f0ec3c"/>
<rect x="310.6" y="218.4" width="2" height="4.9" fill="#341634"/>
<rect x="312.6" y="218.4" width="2" height="4.9" fill="#635b23"/>
<rect x="314.6" y="218.4" width="2" height="4.9" fill="#271325"/>
<rect x="316.6" y="218.4" width="2" height="4.9" fill="#f0ec3c"/>
<rect x="318.5" y="218.4" width="2" height="4.9" fill="#676024"/>
<rect x="320.5" y="218.4" width="2" height="4.9" fill="#99932d"/>
<rect x="322.5" y="218.4" width="2" height="4.9" fill="#716a25"/>
<rect x="324.5" y="218.4" width="2" height="4.9" fill="#d5d037"/>
<rect x="326.4" y="218.4" width="2" height="4.9" fill="#1a1016"/>
<rect x="328.4" y="218.4" width="2" height="4.9" fill="#a19b2e"/>
<rect x="330.4" y="218.4" width="2" height="4.9" fill="#341634"/>
<rect x="332.4" y="218.4" width="2" height="4.9" fill="#817a28"/>
<rect x="334.3" y="218.4" width="2" height="4.9" fill="#b6b132"/>
<rect x="245.5" y="223.3" width="2" height="4.9" fill="#591f60"/>
<rect x="247.5" y="223.3" width="2" height="4.9" fill="#5e2065"/>
<rect x="249.4" y="223.3" width="2" height="4.9" fill="#852994"/>
<rect x="251.4" y="223.3" width="2" height="4.9" fill="#66226f"/>
<rect x="253.4" y="223.3" width="2" height="4.9" fill="#6d2377"/>
<rect x="255.4" y="223.3" width="2" height="4.9" fill="#4f1c54"/>
<rect x="257.3" y="223.3" width="2" height="4.9" fill="#5f2067"/>
<rect x="259.3" y="223.3" width="2" height="4.9" fill="#5d2064"/>
<rect x="261.3" y="223.3" width="2" height="4.9" fill="#521d58"/>
<rect x="263.3" y="223.3" width="2" height="4.9" fill="#5f2067"/>
<rect x="265.2" y="223.3" width="2" height="4.9" fill="#7d278a"/>
<rect x="267.2" y="223.3" width="2" height="4.9" fill="#742580"/>
<rect x="269.2" y="223.3" width="2" height="4.9" fill="#892a98"/>
<rect x="271.2" y="223.3" width="2" height="4.9" fill="#541e5a"/>
<rect x="273.1" y="223.3" width="2" height="4.9" fill="#6b2374"/>
<rect x="275.1" y="223.3" width="2" height="4.9" fill="#7c2789"/>
<rect x="277.1" y="223.3" width="2" height="4.9" fill="#5f2067"/>
<rect x="279.1" y="223.3" width="2" height="4.9" fill="#6e2479"/>
<rect x="281" y="223.3" width="2" height="4.9" fill="#6c2376"/>
<rect x="283" y="223.3" width="2" height="4.9" fill="#521d58"/>
<rect x="285" y="223.3" width="2" height="4.9" fill="#882a97"/>
<rect x="287" y="223.3" width="2" height="4.9" fill="#7f288c"/>
<rect x="288.9" y="223.3" width="2" height="4.9" fill="#433a1d"/>
<rect x="290.9" y="223.3" width="2" height="4.9" fill="#352b1b"/>
<rect x="292.9" y="223.3" width="2" height="4.9" fill="#b5af32"/>
<rect x="294.8" y="223.3" width="2" height="4.9" fill="#2a2119"/>
<rect x="296.8" y="223.3" width="2" height="4.9" fill="#7c7527"/>
<rect x="298.8" y="223.3" width="2" height="4.9" fill="#ece83b"/>
<rect x="300.8" y="223.3" width="2" height="4.9" fill="#341634"/>
<rect x="302.7" y="223.3" width="2" height="4.9" fill="#341634"/>
<rect x="304.7" y="223.3" width="2" height="4.9" fill="#241222"/>
<rect x="306.7" y="223.3" width="2" height="4.9" fill="#382f1b"/>
<rect x="308.7" y="223.3" width="2" height="4.9" fill="#341634"/>
<rect x="310.6" y="223.3" width="2" height="4.9" fill="#635b23"/>
<rect x="312.6" y="223.3" width="2" height="4.9" fill="#271326"/>
<rect x="314.6" y="223.3" width="2" height="4.9" fill="#b5b032"/>
<rect x="316.6" y="223.3" width="2" height="4.9" fill="#7b7427"/>
<rect x="318.5" y="223.3" width="2" height="4.9" fill="#8b842a"/>
<rect x="320.5" y="223.3" width="2" height="4.9" fill="#605822"/>
<rect x="322.5" y="223.3" width="2" height="4.9" fill="#5f5722"/>
<rect x="324.5" y="223.3" width="2" height="4.9" fill="#341634"/>
<rect x="326.4" y="223.3" width="2" height="4.9" fill="#372d1b"/>
<rect x="328.4" y="223.3" width="2" height="4.9" fill="#341634"/>
<rect x="330.4" y="223.3" width="2" height="4.9" fill="#c7c235"/>
<rect x="332.4" y="223.3" width="2" height="4.9" fill="#341634"/>
<rect x="334.3" y="223.3" width="2" height="4.9" fill="#2f152f"/>
<rect x="245.5" y="228.2" width="2" height="4.9" fill="#6f2479"/>
<rect x="247.5" y="228.2" width="2" height="4.9" fill="#441a47"/>
<rect x="249.4" y="228.2" width="2" height="4.9" fill="#792686"/>
<rect x="251.4" y="228.2" width="2" height="4.9" fill="#4d1c51"/>
<rect x="253.4" y="228.2" width="2" height="4.9" fill="#65226e"/>
<rect x="255.4" y="228.2" width="2" height="4.9" fill="#3e1840"/>
<rect x="257.3" y="228.2" width="2" height="4.9" fill="#6b2375"/>
<rect x="259.3" y="228.2" width="2" height="4.9" fill="#70247b"/>
<rect x="261.3" y="228.2" width="2" height="4.9" fill="#682271"/>
<rect x="263.3" y="228.2" width="2" height="4.9" fill="#70247b"/>
<rect x="265.2" y="228.2" width="2" height="4.9" fill="#73257e"/>
<rect x="267.2" y="228.2" width="2" height="4.9" fill="#5c1f63"/>
<rect x="269.2" y="228.2" width="2" height="4.9" fill="#6f2479"/>
<rect x="271.2" y="228.2" width="2" height="4.9" fill="#591f60"/>
<rect x="273.1" y="228.2" width="2" height="4.9" fill="#5e2066"/>
<rect x="275.1" y="228.2" width="2" height="4.9" fill="#591f5f"/>
<rect x="277.1" y="228.2" width="2" height="4.9" fill="#4e1c53"/>
<rect x="279.1" y="228.2" width="2" height="4.9" fill="#561e5d"/>
<rect x="281" y="228.2" width="2" height="4.9" fill="#772683"/>
<rect x="283" y="228.2" width="2" height="4.9" fill="#521d58"/>
<rect x="285" y="228.2" width="2" height="4.9" fill="#8f2ca0"/>
<rect x="287" y="228.2" width="2" height="4.9" fill="#531d59"/>
<rect x="288.9" y="228.2" width="2" height="4.9" fill="#c8c335"/>
<rect x="290.9" y="228.2" width="2" height="4.9" fill="#311531"/>
<rect x="292.9" y="228.2" width="2" height="4.9" fill="#cdc836"/>
<rect x="294.8" y="228.2" width="2" height="4.9" fill="#341634"/>
<rect x="296.8" y="228.2" width="2" height="4.9" fill="#b4af31"/>
<rect x="298.8" y="228.2" width="2" height="4.9" fill="#30271a"/>
<rect x="300.8" y="228.2" width="2" height="4.9" fill="#3c331c"/>
<rect x="302.7" y="228.2" width="2" height="4.9" fill="#463d1e"/>
<rect x="304.7" y="228.2" width="2" height="4.9" fill="#221817"/>
<rect x="306.7" y="228.2" width="2" height="4.9" fill="#9b942d"/>
<rect x="308.7" y="228.2" width="2" height="4.9" fill="#524920"/>
<rect x="310.6" y="228.2" width="2" height="4.9" fill="#524a20"/>
<rect x="312.6" y="228.2" width="2" height="4.9" fill="#5b5322"/>
<rect x="314.6" y="228.2" width="2" height="4.9" fill="#342b1b"/>
<rect x="316.6" y="228.2" width="2" height="4.9" fill="#2e152e"/>
<rect x="318.5" y="228.2" width="2" height="4.9" fill="#8e872b"/>
<rect x="320.5" y="228.2" width="2" height="4.9" fill="#a59e2f"/>
<rect x="322.5" y="228.2" width="2" height="4.9" fill="#341634"/>
<rect x="324.5" y="228.2" width="2" height="4.9" fill="#b0aa31"/>
<rect x="326.4" y="228.2" width="2" height="4.9" fill="#ccc736"/>
<rect x="328.4" y="228.2" width="2" height="4.9" fill="#675f24"/>
<rect x="330.4" y="228.2" width="2" height="4.9" fill="#dfdb39"/>
<rect x="332.4" y="228.2" width="2" height="4.9" fill="#341634"/>
<rect x="334.3" y="228.2" width="2" height="4.9" fill="#d7d238"/>
<rect x="245.5" y="233" width="2" height="4.9" fill="#6d2377"/>
<rect x="247.5" y="233" width="2" height="4.9" fill="#5c2064"/>
<rect x="249.4" y="233" width="2" height="4.9" fill="#70247b"/>
<rect x="251.4" y="233" width="2" height="4.9" fill="#3a173b"/>
<rect x="253.4" y="233" width="2" height="4.9" fill="#682271"/>
<rect x="255.4" y="233" width="2" height="4.9" fill="#561e5d"/>
<rect x="257.3" y="233" width="2" height="4.9" fill="#792685"/>
<rect x="259.3" y="233" width="2" height="4.9" fill="#66226f"/>
<rect x="261.3" y="233" width="2" height="4.9" fill="#5a1f61"/>
<rect x="263.3" y="233" width="2" height="4.9" fill="#63216b"/>
<rect x="265.2" y="233" width="2" height="4.9" fill="#6d2377"/>
<rect x="267.2" y="233" width="2" height="4.9" fill="#491b4d"/>
<rect x="269.2" y="233" width="2" height="4.9" fill="#7a2686"/>
<rect x="271.2" y="233" width="2" height="4.9" fill="#602068"/>
<rect x="273.1" y="233" width="2" height="4.9" fill="#64216c"/>
<rect x="275.1" y="233" width="2" height="4.9" fill="#672270"/>
<rect x="277.1" y="233" width="2" height="4.9" fill="#571e5d"/>
<rect x="279.1" y="233" width="2" height="4.9" fill="#5d2065"/>
<rect x="281" y="233" width="2" height="4.9" fill="#64216d"/>
<rect x="283" y="233" width="2" height="4.9" fill="#561e5d"/>
<rect x="285" y="233" width="2" height="4.9" fill="#62216b"/>
<rect x="287" y="233" width="2" height="4.9" fill="#581f5f"/>
<rect x="288.9" y="233" width="2" height="4.9" fill="#a39d2e"/>
<rect x="290.9" y="233" width="2" height="4.9" fill="#433a1d"/>
<rect x="292.9" y="233" width="2" height="4.9" fill="#32291a"/>
<rect x="294.8" y="233" width="2" height="4.9" fill="#2f152f"/>
<rect x="296.8" y="233" width="2" height="4.9" fill="#b0ab31"/>
<rect x="298.8" y="233" width="2" height="4.9" fill="#867f29"/>
<rect x="300.8" y="233" width="2" height="4.9" fill="#5e5622"/>
<rect x="302.7" y="233" width="2" height="4.9" fill="#49401e"/>
<rect x="304.7" y="233" width="2" height="4.9" fill="#341634"/>
<rect x="306.7" y="233" width="2" height="4.9" fill="#342b1b"/>
<rect x="308.7" y="233" width="2" height="4.9" fill="#48401e"/>
<rect x="310.6" y="233" width="2" height="4.9" fill="#341634"/>
<rect x="312.6" y="233" width="2" height="4.9" fill="#341634"/>
<rect x="314.6" y="233" width="2" height="4.9" fill="#221817"/>
<rect x="316.6" y="233" width="2" height="4.9" fill="#dfdb39"/>
<rect x="318.5" y="233" width="2" height="4.9" fill="#4e461f"/>
<rect x="320.5" y="233" width="2" height="4.9" fill="#341634"/>
<rect x="322.5" y="233" width="2" height="4.9" fill="#a39d2e"/>
<rect x="324.5" y="233" width="2" height="4.9" fill="#807928"/>
<rect x="326.4" y="233" width="2" height="4.9" fill="#6f6725"/>
<rect x="328.4" y="233" width="2" height="4.9" fill="#2e152d"/>
<rect x="330.4" y="233" width="2" height="4.9" fill="#221817"/>
<rect x="332.4" y="233" width="2" height="4.9" fill="#f0ec3c"/>
<rect x="334.3" y="233" width="2" height="4.9" fill="#958e2c"/>
<rect x="245.5" y="237.9" width="2" height="4.9" fill="#2a2019"/>
<rect x="247.5" y="237.9" width="2" height="4.9" fill="#782684"/>
<rect x="249.4" y="237.9" width="2" height="4.9" fill="#74257f"/>
<rect x="251.4" y="237.9" width="2" height="4.9" fill="#61216a"/>
<rect x="253.4" y="237.9" width="2" height="4.9" fill="#692373"/>
<rect x="255.4" y="237.9" width="2" height="4.9" fill="#65226e"/>
<rect x="257.3" y="237.9" width="2" height="4.9" fill="#4f1c54"/>
<rect x="259.3" y="237.9" width="2" height="4.9" fill="#451a48"/>
<rect x="261.3" y="237.9" width="2" height="4.9" fill="#71257d"/>
<rect x="263.3" y="237.9" width="2" height="4.9" fill="#511d57"/>
<rect x="265.2" y="237.9" width="2" height="4.9" fill="#4d1c51"/>
<rect x="267.2" y="237.9" width="2" height="4.9" fill="#561e5d"/>
<rect x="269.2" y="237.9" width="2" height="4.9" fill="#451a48"/>
<rect x="271.2" y="237.9" width="2" height="4.9" fill="#481b4b"/>
<rect x="273.1" y="237.9" width="2" height="4.9" fill="#682271"/>
<rect x="275.1" y="237.9" width="2" height="4.9" fill="#581f5f"/>
<rect x="277.1" y="237.9" width="2" height="4.9" fill="#561e5c"/>
<rect x="279.1" y="237.9" width="2" height="4.9" fill="#6e2478"/>
<rect x="281" y="237.9" width="2" height="4.9" fill="#5e2066"/>
<rect x="283" y="237.9" width="2" height="4.9" fill="#4a1b4e"/>
<rect x="285" y="237.9" width="2" height="4.9" fill="#541e5a"/>
<rect x="287" y="237.9" width="2" height="4.9" fill="#5a1f61"/>
<rect x="288.9" y="237.9" width="2" height="4.9" fill="#f0ec3c"/>
<rect x="290.9" y="237.9" width="2" height="4.9" fill="#726b26"/>
<rect x="292.9" y="237.9" width="2" height="4.9" fill="#918b2b"/>
<rect x="294.8" y="237.9" width="2" height="4.9" fill="#341634"/>
<rect x="296.8" y="237.9" width="2" height="4.9" fill="#aaa430"/>
<rect x="298.8" y="237.9" width="2" height="4.9" fill="#21121e"/>
<rect x="300.8" y="237.9" width="2" height="4.9" fill="#271e18"/>
<rect x="302.7" y="237.9" width="2" height="4.9" fill="#1f111c"/>
<rect x="304.7" y="237.9" width="2" height="4.9" fill="#341634"/>
<rect x="306.7" y="237.9" width="2" height="4.9" fill="#6e6625"/>
<rect x="308.7" y="237.9" width="2" height="4.9" fill="#341634"/>
<rect x="310.6" y="237.9" width="2" height="4.9" fill="#867f29"/>
<rect x="312.6" y="237.9" width="2" height="4.9" fill="#341634"/>
<rect x="314.6" y="237.9" width="2" height="4.9" fill="#afa930"/>
<rect x="316.6" y="237.9" width="2" height="4.9" fill="#574f21"/>
<rect x="318.5" y="237.9" width="2" height="4.9" fill="#a6a02f"/>
<rect x="320.5" y="237.9" width="2" height="4.9" fill="#341634"/>
<rect x="322.5" y="237.9" width="2" height="4.9" fill="#6e6625"/>
<rect x="324.5" y="237.9" width="2" height="4.9" fill="#7e7628"/>
<rect x="326.4" y="237.9" width="2" height="4.9" fill="#524a20"/>
<rect x="328.4" y="237.9" width="2" height="4.9" fill="#2e2419"/>
<rect x="330.4" y="237.9" width="2" height="4.9" fill="#291327"/>
<rect x="332.4" y="237.9" width="2" height="4.9" fill="#341634"/>
<rect x="334.3" y="237.9" width="2" height="4.9" fill="#686024"/>
<rect x="245.5" y="242.8" width="2" height="4.9" fill="#7c2788"/>
<rect x="247.5" y="242.8" width="2" height="4.9" fill="#782684"/>
<rect x="249.4" y="242.8" width="2" height="4.9" fill="#612169"/>
<rect x="251.4" y="242.8" width="2" height="4.9" fill="#922ca3"/>
<rect x="253.4" y="242.8" width="2" height="4.9" fill="#74257f"/>
<rect x="255.4" y="242.8" width="2" height="4.9" fill="#5c1f63"/>
<rect x="257.3" y="242.8" width="2" height="4.9" fill="#672270"/>
<rect x="259.3" y="242.8" width="2" height="4.9" fill="#6b2374"/>
<rect x="261.3" y="242.8" width="2" height="4.9" fill="#74257f"/>
<rect x="263.3" y="242.8" width="2" height="4.9" fill="#64216d"/>
<rect x="265.2" y="242.8" width="2" height="4.9" fill="#80288e"/>
<rect x="267.2" y="242.8" width="2" height="4.9" fill="#70247b"/>
<rect x="269.2" y="242.8" width="2" height="4.9" fill="#5a1f61"/>
<rect x="271.2" y="242.8" width="2" height="4.9" fill="#762682"/>
<rect x="273.1" y="242.8" width="2" height="4.9" fill="#692373"/>
<rect x="275.1" y="242.8" width="2" height="4.9" fill="#6d2377"/>
<rect x="277.1" y="242.8" width="2" height="4.9" fill="#7b2788"/>
<rect x="279.1" y="242.8" width="2" height="4.9" fill="#872a96"/>
<rect x="281" y="242.8" width="2" height="4.9" fill="#752581"/>
<rect x="283" y="242.8" width="2" height="4.9" fill="#74257f"/>
<rect x="285" y="242.8" width="2" height="4.9" fill="#782684"/>
<rect x="287" y="242.8" width="2" height="4.9" fill="#682271"/>
<rect x="288.9" y="242.8" width="2" height="4.9" fill="#807928"/>
<rect x="290.9" y="242.8" width="2" height="4.9" fill="#9f982e"/>
<rect x="292.9" y="242.8" width="2" height="4.9" fill="#857e29"/>
<rect x="294.8" y="242.8" width="2" height="4.9" fill="#301530"/>
<rect x="296.8" y="242.8" width="2" height="4.9" fill="#e6e23a"/>
<rect x="298.8" y="242.8" width="2" height="4.9" fill="#857e29"/>
<rect x="300.8" y="242.8" width="2" height="4.9" fill="#a9a32f"/>
<rect x="302.7" y="242.8" width="2" height="4.9" fill="#341634"/>
<rect x="304.7" y="242.8" width="2" height="4.9" fill="#cac435"/>
<rect x="306.7" y="242.8" width="2" height="4.9" fill="#f0ec3c"/>
<rect x="308.7" y="242.8" width="2" height="4.9" fill="#948e2c"/>
<rect x="310.6" y="242.8" width="2" height="4.9" fill="#cdc836"/>
<rect x="312.6" y="242.8" width="2" height="4.9" fill="#2d2319"/>
<rect x="314.6" y="242.8" width="2" height="4.9" fill="#736c26"/>
<rect x="316.6" y="242.8" width="2" height="4.9" fill="#5e5622"/>
<rect x="318.5" y="242.8" width="2" height="4.9" fill="#a29c2e"/>
<rect x="320.5" y="242.8" width="2" height="4.9" fill="#736b26"/>
<rect x="322.5" y="242.8" width="2" height="4.9" fill="#7d7628"/>
<rect x="324.5" y="242.8" width="2" height="4.9" fill="#21121f"/>
<rect x="326.4" y="242.8" width="2" height="4.9" fill="#311531"/>
<rect x="328.4" y="242.8" width="2" height="4.9" fill="#625b23"/>
<rect x="330.4" y="242.8" width="2" height="4.9" fill="#f0ec3c"/>
<rect x="332.4" y="242.8" width="2" height="4.9" fill="#261324"/>
<rect x="334.3" y="242.8" width="2" height="4.9" fill="#96902c"/>
<rect x="245.5" y="247.6" width="2" height="4.9" fill="#511d57"/>
<rect x="247.5" y="247.6" width="2" height="4.9" fill="#71247c"/>
<rect x="249.4" y="247.6" width="2" height="4.9" fill="#822890"/>
<rect x="251.4" y="247.6" width="2" height="4.9" fill="#612169"/>
<rect x="253.4" y="247.6" width="2" height="4.9" fill="#682271"/>
<rect x="255.4" y="247.6" width="2" height="4.9" fill="#752581"/>
<rect x="257.3" y="247.6" width="2" height="4.9" fill="#4e1c53"/>
<rect x="259.3" y="247.6" width="2" height="4.9" fill="#5b1f63"/>
<rect x="261.3" y="247.6" width="2" height="4.9" fill="#672270"/>
<rect x="263.3" y="247.6" width="2" height="4.9" fill="#7d278a"/>
<rect x="265.2" y="247.6" width="2" height="4.9" fill="#521d58"/>
<rect x="267.2" y="247.6" width="2" height="4.9" fill="#541e5a"/>
<rect x="269.2" y="247.6" width="2" height="4.9" fill="#591f60"/>
<rect x="271.2" y="247.6" width="2" height="4.9" fill="#4c1c51"/>
<rect x="273.1" y="247.6" width="2" height="4.9" fill="#782684"/>
<rect x="275.1" y="247.6" width="2" height="4.9" fill="#772683"/>
<rect x="277.1" y="247.6" width="2" height="4.9" fill="#591f5f"/>
<rect x="279.1" y="247.6" width="2" height="4.9" fill="#602068"/>
<rect x="281" y="247.6" width="2" height="4.9" fill="#682271"/>
<rect x="283" y="247.6" width="2" height="4.9" fill="#6f2479"/>
<rect x="285" y="247.6" width="2" height="4.9" fill="#561e5c"/>
<rect x="287" y="247.6" width="2" height="4.9" fill="#63216b"/>
<rect x="288.9" y="247.6" width="2" height="4.9" fill="#aca630"/>
<rect x="290.9" y="247.6" width="2" height="4.9" fill="#341634"/>
<rect x="292.9" y="247.6" width="2" height="4.9" fill="#5f5722"/>
<rect x="294.8" y="247.6" width="2" height="4.9" fill="#827b28"/>
<rect x="296.8" y="247.6" width="2" height="4.9" fill="#bab532"/>
<rect x="298.8" y="247.6" width="2" height="4.9" fill="#341634"/>
<rect x="300.8" y="247.6" width="2" height="4.9" fill="#463e1e"/>
<rect x="302.7" y="247.6" width="2" height="4.9" fill="#1c1216"/>
<rect x="304.7" y="247.6" width="2" height="4.9" fill="#5a5221"/>
<rect x="306.7" y="247.6" width="2" height="4.9" fill="#4d441f"/>
<rect x="308.7" y="247.6" width="2" height="4.9" fill="#827b28"/>
<rect x="310.6" y="247.6" width="2" height="4.9" fill="#a59f2f"/>
<rect x="312.6" y="247.6" width="2" height="4.9" fill="#736c26"/>
<rect x="314.6" y="247.6" width="2" height="4.9" fill="#534b20"/>
<rect x="316.6" y="247.6" width="2" height="4.9" fill="#ada830"/>
<rect x="318.5" y="247.6" width="2" height="4.9" fill="#dfda39"/>
<rect x="320.5" y="247.6" width="2" height="4.9" fill="#605822"/>
<rect x="322.5" y="247.6" width="2" height="4.9" fill="#21121e"/>
<rect x="324.5" y="247.6" width="2" height="4.9" fill="#f0ec3c"/>
<rect x="326.4" y="247.6" width="2" height="4.9" fill="#b1ac31"/>
<rect x="328.4" y="247.6" width="2" height="4.9" fill="#f0ec3c"/>
<rect x="330.4" y="247.6" width="2" height="4.9" fill="#332a1a"/>
<rect x="332.4" y="247.6" width="2" height="4.9" fill="#352c1b"/>
<rect x="334.3" y="247.6" width="2" height="4.9" fill="#4a411e"/>
<text x="0" y="0" font-size="4.8" fill="#3a3a3a" transform="translate(339 193.4) scale(1.08 1)" font-style="italic">PDGFRA</text>
<text x="0" y="0" font-size="4.8" fill="#3a3a3a" transform="translate(339 198.3) scale(1.08 1)" font-style="italic">OLIG2</text>
<text x="0" y="0" font-size="4.8" fill="#3a3a3a" transform="translate(339 203.2) scale(1.08 1)" font-style="italic">SOX10</text>
<text x="0" y="0" font-size="4.8" fill="#3a3a3a" transform="translate(339 208) scale(1.08 1)" font-style="italic">ASCL1</text>
<text x="0" y="0" font-size="4.8" fill="#3a3a3a" transform="translate(339 212.9) scale(1.08 1)" font-style="italic">DLL3</text>
<text x="0" y="0" font-size="4.8" fill="#3a3a3a" transform="translate(339 217.8) scale(1.08 1)" font-style="italic">BCAN</text>
<text x="0" y="0" font-size="4.8" fill="#3a3a3a" transform="translate(339 222.7) scale(1.08 1)" font-style="italic">PTGDS</text>
<text x="0" y="0" font-size="4.8" fill="#3a3a3a" transform="translate(339 227.5) scale(1.08 1)" font-style="italic">CD99</text>
<text x="0" y="0" font-size="4.8" fill="#3a3a3a" transform="translate(339 232.4) scale(1.08 1)" font-style="italic">FN1</text>
<text x="0" y="0" font-size="4.8" fill="#3a3a3a" transform="translate(339 237.3) scale(1.08 1)" font-style="italic">EGFR</text>
<text x="0" y="0" font-size="4.8" fill="#3a3a3a" transform="translate(339 242.1) scale(1.08 1)" font-style="italic">VIM</text>
<text x="0" y="0" font-size="4.8" fill="#3a3a3a" transform="translate(339 247) scale(1.08 1)" font-style="italic">CHI3L1</text>
<text x="0" y="0" font-size="4.8" fill="#3a3a3a" transform="translate(339 251.9) scale(1.08 1)" font-style="italic">CD44</text>
<rect x="258.8" y="257.2" width="71.1" height="66.8" fill="#3a2a30"/>
<rect x="258.8" y="257.2" width="5.5" height="2" fill="#b5af31"/>
<rect x="264.3" y="257.2" width="5.5" height="2" fill="#5e5622"/>
<rect x="269.7" y="257.2" width="5.5" height="2" fill="#f0ec3c"/>
<rect x="275.2" y="257.2" width="5.5" height="2" fill="#5c5422"/>
<rect x="280.7" y="257.2" width="5.5" height="2" fill="#231221"/>
<rect x="286.1" y="257.2" width="5.5" height="2" fill="#b7b232"/>
<rect x="291.6" y="257.2" width="5.5" height="2" fill="#491b4d"/>
<rect x="297.1" y="257.2" width="5.5" height="2" fill="#1f111b"/>
<rect x="302.6" y="257.2" width="5.5" height="2" fill="#782684"/>
<rect x="308" y="257.2" width="5.5" height="2" fill="#7e288c"/>
<rect x="313.5" y="257.2" width="5.5" height="2" fill="#942da6"/>
<rect x="319" y="257.2" width="5.5" height="2" fill="#7b2788"/>
<rect x="324.4" y="257.2" width="5.5" height="2" fill="#5d2064"/>
<rect x="258.8" y="259.2" width="5.5" height="2" fill="#f0ec3c"/>
<rect x="264.3" y="259.2" width="5.5" height="2" fill="#e5e13a"/>
<rect x="269.7" y="259.2" width="5.5" height="2" fill="#928b2b"/>
<rect x="275.2" y="259.2" width="5.5" height="2" fill="#f0ec3c"/>
<rect x="280.7" y="259.2" width="5.5" height="2" fill="#cac535"/>
<rect x="286.1" y="259.2" width="5.5" height="2" fill="#443b1d"/>
<rect x="291.6" y="259.2" width="5.5" height="2" fill="#5e2066"/>
<rect x="297.1" y="259.2" width="5.5" height="2" fill="#571e5d"/>
<rect x="302.6" y="259.2" width="5.5" height="2" fill="#66226f"/>
<rect x="308" y="259.2" width="5.5" height="2" fill="#521d58"/>
<rect x="313.5" y="259.2" width="5.5" height="2" fill="#672270"/>
<rect x="319" y="259.2" width="5.5" height="2" fill="#65226e"/>
<rect x="324.4" y="259.2" width="5.5" height="2" fill="#71247c"/>
<rect x="258.8" y="261.1" width="5.5" height="2" fill="#c5c034"/>
<rect x="264.3" y="261.1" width="5.5" height="2" fill="#ede93b"/>
<rect x="269.7" y="261.1" width="5.5" height="2" fill="#766f26"/>
<rect x="275.2" y="261.1" width="5.5" height="2" fill="#f0ec3c"/>
<rect x="280.7" y="261.1" width="5.5" height="2" fill="#857e29"/>
<rect x="286.1" y="261.1" width="5.5" height="2" fill="#a8a22f"/>
<rect x="291.6" y="261.1" width="5.5" height="2" fill="#5d5522"/>
<rect x="297.1" y="261.1" width="5.5" height="2" fill="#251b18"/>
<rect x="302.6" y="261.1" width="5.5" height="2" fill="#521d58"/>
<rect x="308" y="261.1" width="5.5" height="2" fill="#902ca1"/>
<rect x="313.5" y="261.1" width="5.5" height="2" fill="#511d56"/>
<rect x="319" y="261.1" width="5.5" height="2" fill="#5f2067"/>
<rect x="324.4" y="261.1" width="5.5" height="2" fill="#5b1f62"/>
<rect x="258.8" y="263.1" width="5.5" height="2" fill="#f0ec3c"/>
<rect x="264.3" y="263.1" width="5.5" height="2" fill="#98912c"/>
<rect x="269.7" y="263.1" width="5.5" height="2" fill="#f0ec3c"/>
<rect x="275.2" y="263.1" width="5.5" height="2" fill="#beb833"/>
<rect x="280.7" y="263.1" width="5.5" height="2" fill="#c5c034"/>
<rect x="286.1" y="263.1" width="5.5" height="2" fill="#a7a12f"/>
<rect x="291.6" y="263.1" width="5.5" height="2" fill="#241221"/>
<rect x="297.1" y="263.1" width="5.5" height="2" fill="#4c441f"/>
<rect x="302.6" y="263.1" width="5.5" height="2" fill="#4c1c50"/>
<rect x="308" y="263.1" width="5.5" height="2" fill="#73257f"/>
<rect x="313.5" y="263.1" width="5.5" height="2" fill="#6c2376"/>
<rect x="319" y="263.1" width="5.5" height="2" fill="#2f152e"/>
<rect x="324.4" y="263.1" width="5.5" height="2" fill="#421945"/>
<rect x="258.8" y="265.1" width="5.5" height="2" fill="#847d29"/>
<rect x="264.3" y="265.1" width="5.5" height="2" fill="#b3ad31"/>
<rect x="269.7" y="265.1" width="5.5" height="2" fill="#c1bb34"/>
<rect x="275.2" y="265.1" width="5.5" height="2" fill="#dfdb39"/>
<rect x="280.7" y="265.1" width="5.5" height="2" fill="#7d7628"/>
<rect x="286.1" y="265.1" width="5.5" height="2" fill="#c1bc34"/>
<rect x="291.6" y="265.1" width="5.5" height="2" fill="#501d55"/>
<rect x="297.1" y="265.1" width="5.5" height="2" fill="#3f1942"/>
<rect x="302.6" y="265.1" width="5.5" height="2" fill="#5b1f62"/>
<rect x="308" y="265.1" width="5.5" height="2" fill="#281327"/>
<rect x="313.5" y="265.1" width="5.5" height="2" fill="#561e5d"/>
<rect x="319" y="265.1" width="5.5" height="2" fill="#1f111c"/>
<rect x="324.4" y="265.1" width="5.5" height="2" fill="#471b4b"/>
<rect x="258.8" y="267" width="5.5" height="2" fill="#f0ec3c"/>
<rect x="264.3" y="267" width="5.5" height="2" fill="#b1ab31"/>
<rect x="269.7" y="267" width="5.5" height="2" fill="#483f1e"/>
<rect x="275.2" y="267" width="5.5" height="2" fill="#30261a"/>
<rect x="280.7" y="267" width="5.5" height="2" fill="#9f992e"/>
<rect x="286.1" y="267" width="5.5" height="2" fill="#f0ec3c"/>
<rect x="291.6" y="267" width="5.5" height="2" fill="#2c142b"/>
<rect x="297.1" y="267" width="5.5" height="2" fill="#371738"/>
<rect x="302.6" y="267" width="5.5" height="2" fill="#401943"/>
<rect x="308" y="267" width="5.5" height="2" fill="#5f2067"/>
<rect x="313.5" y="267" width="5.5" height="2" fill="#602068"/>
<rect x="319" y="267" width="5.5" height="2" fill="#4d1c52"/>
<rect x="324.4" y="267" width="5.5" height="2" fill="#471b4b"/>
<rect x="258.8" y="269" width="5.5" height="2" fill="#958f2c"/>
<rect x="264.3" y="269" width="5.5" height="2" fill="#878029"/>
<rect x="269.7" y="269" width="5.5" height="2" fill="#f0ec3c"/>
<rect x="275.2" y="269" width="5.5" height="2" fill="#837c29"/>
<rect x="280.7" y="269" width="5.5" height="2" fill="#817a28"/>
<rect x="286.1" y="269" width="5.5" height="2" fill="#afa930"/>
<rect x="291.6" y="269" width="5.5" height="2" fill="#2b142a"/>
<rect x="297.1" y="269" width="5.5" height="2" fill="#1d111a"/>
<rect x="302.6" y="269" width="5.5" height="2" fill="#22121f"/>
<rect x="308" y="269" width="5.5" height="2" fill="#2a1429"/>
<rect x="313.5" y="269" width="5.5" height="2" fill="#551e5b"/>
<rect x="319" y="269" width="5.5" height="2" fill="#501d55"/>
<rect x="324.4" y="269" width="5.5" height="2" fill="#351635"/>
<rect x="258.8" y="271" width="5.5" height="2" fill="#b3ad31"/>
<rect x="264.3" y="271" width="5.5" height="2" fill="#c5c034"/>
<rect x="269.7" y="271" width="5.5" height="2" fill="#756d26"/>
<rect x="275.2" y="271" width="5.5" height="2" fill="#d4cf37"/>
<rect x="280.7" y="271" width="5.5" height="2" fill="#b5b032"/>
<rect x="286.1" y="271" width="5.5" height="2" fill="#5f5722"/>
<rect x="291.6" y="271" width="5.5" height="2" fill="#1f111c"/>
<rect x="297.1" y="271" width="5.5" height="2" fill="#7b7327"/>
<rect x="302.6" y="271" width="5.5" height="2" fill="#491b4d"/>
<rect x="308" y="271" width="5.5" height="2" fill="#6d2377"/>
<rect x="313.5" y="271" width="5.5" height="2" fill="#2b142a"/>
<rect x="319" y="271" width="5.5" height="2" fill="#481b4c"/>
<rect x="324.4" y="271" width="5.5" height="2" fill="#4d1c52"/>
<rect x="258.8" y="272.9" width="5.5" height="2" fill="#f0ec3c"/>
<rect x="264.3" y="272.9" width="5.5" height="2" fill="#f0ec3c"/>
<rect x="269.7" y="272.9" width="5.5" height="2" fill="#f0ec3c"/>
<rect x="275.2" y="272.9" width="5.5" height="2" fill="#888129"/>
<rect x="280.7" y="272.9" width="5.5" height="2" fill="#9f992e"/>
<rect x="286.1" y="272.9" width="5.5" height="2" fill="#b5af32"/>
<rect x="291.6" y="272.9" width="5.5" height="2" fill="#20111d"/>
<rect x="297.1" y="272.9" width="5.5" height="2" fill="#4c1c51"/>
<rect x="302.6" y="272.9" width="5.5" height="2" fill="#4a1b4f"/>
<rect x="308" y="272.9" width="5.5" height="2" fill="#80288e"/>
<rect x="313.5" y="272.9" width="5.5" height="2" fill="#66226e"/>
<rect x="319" y="272.9" width="5.5" height="2" fill="#5c1f63"/>
<rect x="324.4" y="272.9" width="5.5" height="2" fill="#4b1c50"/>
<rect x="258.8" y="274.9" width="5.5" height="2" fill="#cfca36"/>
<rect x="264.3" y="274.9" width="5.5" height="2" fill="#8a832a"/>
<rect x="269.7" y="274.9" width="5.5" height="2" fill="#d0cc36"/>
<rect x="275.2" y="274.9" width="5.5" height="2" fill="#cec936"/>
<rect x="280.7" y="274.9" width="5.5" height="2" fill="#b5af31"/>
<rect x="286.1" y="274.9" width="5.5" height="2" fill="#bcb733"/>
<rect x="291.6" y="274.9" width="5.5" height="2" fill="#371738"/>
<rect x="297.1" y="274.9" width="5.5" height="2" fill="#655d23"/>
<rect x="302.6" y="274.9" width="5.5" height="2" fill="#281326"/>
<rect x="308" y="274.9" width="5.5" height="2" fill="#4b1c50"/>
<rect x="313.5" y="274.9" width="5.5" height="2" fill="#291428"/>
<rect x="319" y="274.9" width="5.5" height="2" fill="#6f247a"/>
<rect x="324.4" y="274.9" width="5.5" height="2" fill="#64216d"/>
<rect x="258.8" y="276.8" width="5.5" height="2" fill="#a6a02f"/>
<rect x="264.3" y="276.8" width="5.5" height="2" fill="#d7d238"/>
<rect x="269.7" y="276.8" width="5.5" height="2" fill="#a6a02f"/>
<rect x="275.2" y="276.8" width="5.5" height="2" fill="#807928"/>
<rect x="280.7" y="276.8" width="5.5" height="2" fill="#5b5322"/>
<rect x="286.1" y="276.8" width="5.5" height="2" fill="#746d26"/>
<rect x="291.6" y="276.8" width="5.5" height="2" fill="#362d1b"/>
<rect x="297.1" y="276.8" width="5.5" height="2" fill="#1e1417"/>
<rect x="302.6" y="276.8" width="5.5" height="2" fill="#80288e"/>
<rect x="308" y="276.8" width="5.5" height="2" fill="#1d1316"/>
<rect x="313.5" y="276.8" width="5.5" height="2" fill="#63216b"/>
<rect x="319" y="276.8" width="5.5" height="2" fill="#62216b"/>
<rect x="324.4" y="276.8" width="5.5" height="2" fill="#591f60"/>
<rect x="258.8" y="278.8" width="5.5" height="2" fill="#bdb833"/>
<rect x="264.3" y="278.8" width="5.5" height="2" fill="#a29c2e"/>
<rect x="269.7" y="278.8" width="5.5" height="2" fill="#b8b332"/>
<rect x="275.2" y="278.8" width="5.5" height="2" fill="#ece83b"/>
<rect x="280.7" y="278.8" width="5.5" height="2" fill="#f0ec3c"/>
<rect x="286.1" y="278.8" width="5.5" height="2" fill="#8f892b"/>
<rect x="291.6" y="278.8" width="5.5" height="2" fill="#2c142b"/>
<rect x="297.1" y="278.8" width="5.5" height="2" fill="#3f1941"/>
<rect x="302.6" y="278.8" width="5.5" height="2" fill="#61216a"/>
<rect x="308" y="278.8" width="5.5" height="2" fill="#571e5d"/>
<rect x="313.5" y="278.8" width="5.5" height="2" fill="#5e2065"/>
<rect x="319" y="278.8" width="5.5" height="2" fill="#411943"/>
<rect x="324.4" y="278.8" width="5.5" height="2" fill="#71247c"/>
<rect x="258.8" y="280.8" width="5.5" height="2" fill="#d3ce37"/>
<rect x="264.3" y="280.8" width="5.5" height="2" fill="#eae53b"/>
<rect x="269.7" y="280.8" width="5.5" height="2" fill="#a7a12f"/>
<rect x="275.2" y="280.8" width="5.5" height="2" fill="#a6a02f"/>
<rect x="280.7" y="280.8" width="5.5" height="2" fill="#e1dd39"/>
<rect x="286.1" y="280.8" width="5.5" height="2" fill="#a39d2e"/>
<rect x="291.6" y="280.8" width="5.5" height="2" fill="#311531"/>
<rect x="297.1" y="280.8" width="5.5" height="2" fill="#20111d"/>
<rect x="302.6" y="280.8" width="5.5" height="2" fill="#9a2eac"/>
<rect x="308" y="280.8" width="5.5" height="2" fill="#3d1840"/>
<rect x="313.5" y="280.8" width="5.5" height="2" fill="#4c1c50"/>
<rect x="319" y="280.8" width="5.5" height="2" fill="#411944"/>
<rect x="324.4" y="280.8" width="5.5" height="2" fill="#7f288d"/>
<rect x="258.8" y="282.7" width="5.5" height="2" fill="#a09a2e"/>
<rect x="264.3" y="282.7" width="5.5" height="2" fill="#d7d237"/>
<rect x="269.7" y="282.7" width="5.5" height="2" fill="#ded939"/>
<rect x="275.2" y="282.7" width="5.5" height="2" fill="#958e2c"/>
<rect x="280.7" y="282.7" width="5.5" height="2" fill="#9e972d"/>
<rect x="286.1" y="282.7" width="5.5" height="2" fill="#f0ec3c"/>
<rect x="291.6" y="282.7" width="5.5" height="2" fill="#1e111b"/>
<rect x="297.1" y="282.7" width="5.5" height="2" fill="#463e1e"/>
<rect x="302.6" y="282.7" width="5.5" height="2" fill="#7e278b"/>
<rect x="308" y="282.7" width="5.5" height="2" fill="#461a4a"/>
<rect x="313.5" y="282.7" width="5.5" height="2" fill="#65226e"/>
<rect x="319" y="282.7" width="5.5" height="2" fill="#64216c"/>
<rect x="324.4" y="282.7" width="5.5" height="2" fill="#2b142a"/>
<rect x="258.8" y="284.7" width="5.5" height="2" fill="#777027"/>
<rect x="264.3" y="284.7" width="5.5" height="2" fill="#7f7728"/>
<rect x="269.7" y="284.7" width="5.5" height="2" fill="#8e872b"/>
<rect x="275.2" y="284.7" width="5.5" height="2" fill="#aba530"/>
<rect x="280.7" y="284.7" width="5.5" height="2" fill="#bcb733"/>
<rect x="286.1" y="284.7" width="5.5" height="2" fill="#d5d137"/>
<rect x="291.6" y="284.7" width="5.5" height="2" fill="#473e1e"/>
<rect x="297.1" y="284.7" width="5.5" height="2" fill="#1e1417"/>
<rect x="302.6" y="284.7" width="5.5" height="2" fill="#1c1018"/>
<rect x="308" y="284.7" width="5.5" height="2" fill="#321632"/>
<rect x="313.5" y="284.7" width="5.5" height="2" fill="#421945"/>
<rect x="319" y="284.7" width="5.5" height="2" fill="#581f5f"/>
<rect x="324.4" y="284.7" width="5.5" height="2" fill="#281326"/>
<rect x="258.8" y="286.7" width="5.5" height="2" fill="#a7a12f"/>
<rect x="264.3" y="286.7" width="5.5" height="2" fill="#f0ec3c"/>
<rect x="269.7" y="286.7" width="5.5" height="2" fill="#bdb733"/>
<rect x="275.2" y="286.7" width="5.5" height="2" fill="#97912c"/>
<rect x="280.7" y="286.7" width="5.5" height="2" fill="#e5e03a"/>
<rect x="286.1" y="286.7" width="5.5" height="2" fill="#e6e23a"/>
<rect x="291.6" y="286.7" width="5.5" height="2" fill="#1d111a"/>
<rect x="297.1" y="286.7" width="5.5" height="2" fill="#3f361d"/>
<rect x="302.6" y="286.7" width="5.5" height="2" fill="#501d55"/>
<rect x="308" y="286.7" width="5.5" height="2" fill="#6b2375"/>
<rect x="313.5" y="286.7" width="5.5" height="2" fill="#511d56"/>
<rect x="319" y="286.7" width="5.5" height="2" fill="#1d1316"/>
<rect x="324.4" y="286.7" width="5.5" height="2" fill="#72257d"/>
<rect x="258.8" y="288.6" width="5.5" height="2" fill="#473e1e"/>
<rect x="264.3" y="288.6" width="5.5" height="2" fill="#bbb533"/>
<rect x="269.7" y="288.6" width="5.5" height="2" fill="#7a7227"/>
<rect x="275.2" y="288.6" width="5.5" height="2" fill="#f0ec3c"/>
<rect x="280.7" y="288.6" width="5.5" height="2" fill="#c5c034"/>
<rect x="286.1" y="288.6" width="5.5" height="2" fill="#807828"/>
<rect x="291.6" y="288.6" width="5.5" height="2" fill="#291327"/>
<rect x="297.1" y="288.6" width="5.5" height="2" fill="#451a48"/>
<rect x="302.6" y="288.6" width="5.5" height="2" fill="#441a47"/>
<rect x="308" y="288.6" width="5.5" height="2" fill="#361737"/>
<rect x="313.5" y="288.6" width="5.5" height="2" fill="#2d142c"/>
<rect x="319" y="288.6" width="5.5" height="2" fill="#321632"/>
<rect x="324.4" y="288.6" width="5.5" height="2" fill="#541e5a"/>
<rect x="258.8" y="290.6" width="5.5" height="2" fill="#271325"/>
<rect x="264.3" y="290.6" width="5.5" height="2" fill="#301530"/>
<rect x="269.7" y="290.6" width="5.5" height="2" fill="#461a4a"/>
<rect x="275.2" y="290.6" width="5.5" height="2" fill="#251323"/>
<rect x="280.7" y="290.6" width="5.5" height="2" fill="#411944"/>
<rect x="286.1" y="290.6" width="5.5" height="2" fill="#3e1840"/>
<rect x="291.6" y="290.6" width="5.5" height="2" fill="#2c142b"/>
<rect x="297.1" y="290.6" width="5.5" height="2" fill="#32291a"/>
<rect x="302.6" y="290.6" width="5.5" height="2" fill="#441a48"/>
<rect x="308" y="290.6" width="5.5" height="2" fill="#1d111a"/>
<rect x="313.5" y="290.6" width="5.5" height="2" fill="#32291a"/>
<rect x="319" y="290.6" width="5.5" height="2" fill="#1b1018"/>
<rect x="324.4" y="290.6" width="5.5" height="2" fill="#534b20"/>
<rect x="258.8" y="292.6" width="5.5" height="2" fill="#2c142b"/>
<rect x="264.3" y="292.6" width="5.5" height="2" fill="#3a183c"/>
<rect x="269.7" y="292.6" width="5.5" height="2" fill="#311530"/>
<rect x="275.2" y="292.6" width="5.5" height="2" fill="#281327"/>
<rect x="280.7" y="292.6" width="5.5" height="2" fill="#3e1840"/>
<rect x="286.1" y="292.6" width="5.5" height="2" fill="#231221"/>
<rect x="291.6" y="292.6" width="5.5" height="2" fill="#6c6525"/>
<rect x="297.1" y="292.6" width="5.5" height="2" fill="#6c6425"/>
<rect x="302.6" y="292.6" width="5.5" height="2" fill="#8a832a"/>
<rect x="308" y="292.6" width="5.5" height="2" fill="#d4cf37"/>
<rect x="313.5" y="292.6" width="5.5" height="2" fill="#1d1119"/>
<rect x="319" y="292.6" width="5.5" height="2" fill="#b4af31"/>
<rect x="324.4" y="292.6" width="5.5" height="2" fill="#4c431f"/>
<rect x="258.8" y="294.5" width="5.5" height="2" fill="#351636"/>
<rect x="264.3" y="294.5" width="5.5" height="2" fill="#431a46"/>
<rect x="269.7" y="294.5" width="5.5" height="2" fill="#561e5d"/>
<rect x="275.2" y="294.5" width="5.5" height="2" fill="#271326"/>
<rect x="280.7" y="294.5" width="5.5" height="2" fill="#2c142c"/>
<rect x="286.1" y="294.5" width="5.5" height="2" fill="#431a47"/>
<rect x="291.6" y="294.5" width="5.5" height="2" fill="#2c2319"/>
<rect x="297.1" y="294.5" width="5.5" height="2" fill="#1c1018"/>
<rect x="302.6" y="294.5" width="5.5" height="2" fill="#6d6525"/>
<rect x="308" y="294.5" width="5.5" height="2" fill="#f0ec3c"/>
<rect x="313.5" y="294.5" width="5.5" height="2" fill="#655e23"/>
<rect x="319" y="294.5" width="5.5" height="2" fill="#321632"/>
<rect x="324.4" y="294.5" width="5.5" height="2" fill="#a6a02f"/>
<rect x="258.8" y="296.5" width="5.5" height="2" fill="#421944"/>
<rect x="264.3" y="296.5" width="5.5" height="2" fill="#4a1b4f"/>
<rect x="269.7" y="296.5" width="5.5" height="2" fill="#311531"/>
<rect x="275.2" y="296.5" width="5.5" height="2" fill="#361737"/>
<rect x="280.7" y="296.5" width="5.5" height="2" fill="#341634"/>
<rect x="286.1" y="296.5" width="5.5" height="2" fill="#2d142c"/>
<rect x="291.6" y="296.5" width="5.5" height="2" fill="#b7b132"/>
<rect x="297.1" y="296.5" width="5.5" height="2" fill="#431a46"/>
<rect x="302.6" y="296.5" width="5.5" height="2" fill="#7c7527"/>
<rect x="308" y="296.5" width="5.5" height="2" fill="#c5c034"/>
<rect x="313.5" y="296.5" width="5.5" height="2" fill="#ccc736"/>
<rect x="319" y="296.5" width="5.5" height="2" fill="#231918"/>
<rect x="324.4" y="296.5" width="5.5" height="2" fill="#381739"/>
<rect x="258.8" y="298.5" width="5.5" height="2" fill="#441a47"/>
<rect x="264.3" y="298.5" width="5.5" height="2" fill="#311531"/>
<rect x="269.7" y="298.5" width="5.5" height="2" fill="#39173a"/>
<rect x="275.2" y="298.5" width="5.5" height="2" fill="#2c142b"/>
<rect x="280.7" y="298.5" width="5.5" height="2" fill="#38173a"/>
<rect x="286.1" y="298.5" width="5.5" height="2" fill="#461a4a"/>
<rect x="291.6" y="298.5" width="5.5" height="2" fill="#1d1317"/>
<rect x="297.1" y="298.5" width="5.5" height="2" fill="#5e5622"/>
<rect x="302.6" y="298.5" width="5.5" height="2" fill="#ada730"/>
<rect x="308" y="298.5" width="5.5" height="2" fill="#ddd939"/>
<rect x="313.5" y="298.5" width="5.5" height="2" fill="#251c18"/>
<rect x="319" y="298.5" width="5.5" height="2" fill="#908a2b"/>
<rect x="324.4" y="298.5" width="5.5" height="2" fill="#6b6324"/>
<rect x="258.8" y="300.4" width="5.5" height="2" fill="#451a48"/>
<rect x="264.3" y="300.4" width="5.5" height="2" fill="#451a49"/>
<rect x="269.7" y="300.4" width="5.5" height="2" fill="#221220"/>
<rect x="275.2" y="300.4" width="5.5" height="2" fill="#3c183e"/>
<rect x="280.7" y="300.4" width="5.5" height="2" fill="#371738"/>
<rect x="286.1" y="300.4" width="5.5" height="2" fill="#301530"/>
<rect x="291.6" y="300.4" width="5.5" height="2" fill="#8b842a"/>
<rect x="297.1" y="300.4" width="5.5" height="2" fill="#a39d2e"/>
<rect x="302.6" y="300.4" width="5.5" height="2" fill="#342b1b"/>
<rect x="308" y="300.4" width="5.5" height="2" fill="#534b20"/>
<rect x="313.5" y="300.4" width="5.5" height="2" fill="#837c29"/>
<rect x="319" y="300.4" width="5.5" height="2" fill="#89822a"/>
<rect x="324.4" y="300.4" width="5.5" height="2" fill="#39301c"/>
<rect x="258.8" y="302.4" width="5.5" height="2" fill="#4c1c50"/>
<rect x="264.3" y="302.4" width="5.5" height="2" fill="#2b142a"/>
<rect x="269.7" y="302.4" width="5.5" height="2" fill="#2b142a"/>
<rect x="275.2" y="302.4" width="5.5" height="2" fill="#2a1429"/>
<rect x="280.7" y="302.4" width="5.5" height="2" fill="#381739"/>
<rect x="286.1" y="302.4" width="5.5" height="2" fill="#4d1c52"/>
<rect x="291.6" y="302.4" width="5.5" height="2" fill="#524a20"/>
<rect x="297.1" y="302.4" width="5.5" height="2" fill="#f0ec3c"/>
<rect x="302.6" y="302.4" width="5.5" height="2" fill="#867f29"/>
<rect x="308" y="302.4" width="5.5" height="2" fill="#827b29"/>
<rect x="313.5" y="302.4" width="5.5" height="2" fill="#2f152f"/>
<rect x="319" y="302.4" width="5.5" height="2" fill="#40371d"/>
<rect x="324.4" y="302.4" width="5.5" height="2" fill="#b8b332"/>
<rect x="258.8" y="304.4" width="5.5" height="2" fill="#321632"/>
<rect x="264.3" y="304.4" width="5.5" height="2" fill="#381739"/>
<rect x="269.7" y="304.4" width="5.5" height="2" fill="#261324"/>
<rect x="275.2" y="304.4" width="5.5" height="2" fill="#2d142c"/>
<rect x="280.7" y="304.4" width="5.5" height="2" fill="#2f152f"/>
<rect x="286.1" y="304.4" width="5.5" height="2" fill="#38173a"/>
<rect x="291.6" y="304.4" width="5.5" height="2" fill="#8f882b"/>
<rect x="297.1" y="304.4" width="5.5" height="2" fill="#bdb733"/>
<rect x="302.6" y="304.4" width="5.5" height="2" fill="#878029"/>
<rect x="308" y="304.4" width="5.5" height="2" fill="#1f111c"/>
<rect x="313.5" y="304.4" width="5.5" height="2" fill="#625b23"/>
<rect x="319" y="304.4" width="5.5" height="2" fill="#5b5322"/>
<rect x="324.4" y="304.4" width="5.5" height="2" fill="#8f882b"/>
<rect x="258.8" y="306.3" width="5.5" height="2" fill="#261324"/>
<rect x="264.3" y="306.3" width="5.5" height="2" fill="#371738"/>
<rect x="269.7" y="306.3" width="5.5" height="2" fill="#3c183d"/>
<rect x="275.2" y="306.3" width="5.5" height="2" fill="#2d142c"/>
<rect x="280.7" y="306.3" width="5.5" height="2" fill="#301530"/>
<rect x="286.1" y="306.3" width="5.5" height="2" fill="#401943"/>
<rect x="291.6" y="306.3" width="5.5" height="2" fill="#928b2b"/>
<rect x="297.1" y="306.3" width="5.5" height="2" fill="#7e7728"/>
<rect x="302.6" y="306.3" width="5.5" height="2" fill="#89822a"/>
<rect x="308" y="306.3" width="5.5" height="2" fill="#2b142a"/>
<rect x="313.5" y="306.3" width="5.5" height="2" fill="#3f1941"/>
<rect x="319" y="306.3" width="5.5" height="2" fill="#2a1428"/>
<rect x="324.4" y="306.3" width="5.5" height="2" fill="#321632"/>
<rect x="258.8" y="308.3" width="5.5" height="2" fill="#2a1429"/>
<rect x="264.3" y="308.3" width="5.5" height="2" fill="#291428"/>
<rect x="269.7" y="308.3" width="5.5" height="2" fill="#471a4a"/>
<rect x="275.2" y="308.3" width="5.5" height="2" fill="#241221"/>
<rect x="280.7" y="308.3" width="5.5" height="2" fill="#451a48"/>
<rect x="286.1" y="308.3" width="5.5" height="2" fill="#401943"/>
<rect x="291.6" y="308.3" width="5.5" height="2" fill="#f0ec3c"/>
<rect x="297.1" y="308.3" width="5.5" height="2" fill="#20111d"/>
<rect x="302.6" y="308.3" width="5.5" height="2" fill="#a49e2e"/>
<rect x="308" y="308.3" width="5.5" height="2" fill="#ada730"/>
<rect x="313.5" y="308.3" width="5.5" height="2" fill="#c2bd34"/>
<rect x="319" y="308.3" width="5.5" height="2" fill="#a19a2e"/>
<rect x="324.4" y="308.3" width="5.5" height="2" fill="#827b29"/>
<rect x="258.8" y="310.2" width="5.5" height="2" fill="#231220"/>
<rect x="264.3" y="310.2" width="5.5" height="2" fill="#371738"/>
<rect x="269.7" y="310.2" width="5.5" height="2" fill="#351636"/>
<rect x="275.2" y="310.2" width="5.5" height="2" fill="#311531"/>
<rect x="280.7" y="310.2" width="5.5" height="2" fill="#3a183c"/>
<rect x="286.1" y="310.2" width="5.5" height="2" fill="#381739"/>
<rect x="291.6" y="310.2" width="5.5" height="2" fill="#cac535"/>
<rect x="297.1" y="310.2" width="5.5" height="2" fill="#e8e43b"/>
<rect x="302.6" y="310.2" width="5.5" height="2" fill="#9d962d"/>
<rect x="308" y="310.2" width="5.5" height="2" fill="#686024"/>
<rect x="313.5" y="310.2" width="5.5" height="2" fill="#4b421f"/>
<rect x="319" y="310.2" width="5.5" height="2" fill="#534b20"/>
<rect x="324.4" y="310.2" width="5.5" height="2" fill="#554c20"/>
<rect x="258.8" y="312.2" width="5.5" height="2" fill="#3c183e"/>
<rect x="264.3" y="312.2" width="5.5" height="2" fill="#371738"/>
<rect x="269.7" y="312.2" width="5.5" height="2" fill="#39173a"/>
<rect x="275.2" y="312.2" width="5.5" height="2" fill="#281327"/>
<rect x="280.7" y="312.2" width="5.5" height="2" fill="#481b4c"/>
<rect x="286.1" y="312.2" width="5.5" height="2" fill="#3b183d"/>
<rect x="291.6" y="312.2" width="5.5" height="2" fill="#aca630"/>
<rect x="297.1" y="312.2" width="5.5" height="2" fill="#524920"/>
<rect x="302.6" y="312.2" width="5.5" height="2" fill="#514920"/>
<rect x="308" y="312.2" width="5.5" height="2" fill="#99932d"/>
<rect x="313.5" y="312.2" width="5.5" height="2" fill="#6a6224"/>
<rect x="319" y="312.2" width="5.5" height="2" fill="#281f19"/>
<rect x="324.4" y="312.2" width="5.5" height="2" fill="#7b7427"/>
<rect x="258.8" y="314.2" width="5.5" height="2" fill="#2e152d"/>
<rect x="264.3" y="314.2" width="5.5" height="2" fill="#4c1c50"/>
<rect x="269.7" y="314.2" width="5.5" height="2" fill="#2b1429"/>
<rect x="275.2" y="314.2" width="5.5" height="2" fill="#4c1c50"/>
<rect x="280.7" y="314.2" width="5.5" height="2" fill="#2d152d"/>
<rect x="286.1" y="314.2" width="5.5" height="2" fill="#471a4a"/>
<rect x="291.6" y="314.2" width="5.5" height="2" fill="#817a28"/>
<rect x="297.1" y="314.2" width="5.5" height="2" fill="#6d6525"/>
<rect x="302.6" y="314.2" width="5.5" height="2" fill="#bcb733"/>
<rect x="308" y="314.2" width="5.5" height="2" fill="#6b6324"/>
<rect x="313.5" y="314.2" width="5.5" height="2" fill="#514820"/>
<rect x="319" y="314.2" width="5.5" height="2" fill="#39301b"/>
<rect x="324.4" y="314.2" width="5.5" height="2" fill="#807928"/>
<rect x="258.8" y="316.1" width="5.5" height="2" fill="#39173a"/>
<rect x="264.3" y="316.1" width="5.5" height="2" fill="#2b142a"/>
<rect x="269.7" y="316.1" width="5.5" height="2" fill="#311531"/>
<rect x="275.2" y="316.1" width="5.5" height="2" fill="#261324"/>
<rect x="280.7" y="316.1" width="5.5" height="2" fill="#2d142c"/>
<rect x="286.1" y="316.1" width="5.5" height="2" fill="#341634"/>
<rect x="291.6" y="316.1" width="5.5" height="2" fill="#6c6424"/>
<rect x="297.1" y="316.1" width="5.5" height="2" fill="#9f982e"/>
<rect x="302.6" y="316.1" width="5.5" height="2" fill="#a9a32f"/>
<rect x="308" y="316.1" width="5.5" height="2" fill="#22121f"/>
<rect x="313.5" y="316.1" width="5.5" height="2" fill="#8e872b"/>
<rect x="319" y="316.1" width="5.5" height="2" fill="#564d21"/>
<rect x="324.4" y="316.1" width="5.5" height="2" fill="#88812a"/>
<rect x="258.8" y="318.1" width="5.5" height="2" fill="#2c142b"/>
<rect x="264.3" y="318.1" width="5.5" height="2" fill="#4e1c53"/>
<rect x="269.7" y="318.1" width="5.5" height="2" fill="#371739"/>
<rect x="275.2" y="318.1" width="5.5" height="2" fill="#291428"/>
<rect x="280.7" y="318.1" width="5.5" height="2" fill="#4c1c51"/>
<rect x="286.1" y="318.1" width="5.5" height="2" fill="#331633"/>
<rect x="291.6" y="318.1" width="5.5" height="2" fill="#726a26"/>
<rect x="297.1" y="318.1" width="5.5" height="2" fill="#473e1e"/>
<rect x="302.6" y="318.1" width="5.5" height="2" fill="#b3ae31"/>
<rect x="308" y="318.1" width="5.5" height="2" fill="#b5af32"/>
<rect x="313.5" y="318.1" width="5.5" height="2" fill="#726b26"/>
<rect x="319" y="318.1" width="5.5" height="2" fill="#d9d538"/>
<rect x="324.4" y="318.1" width="5.5" height="2" fill="#ddd939"/>
<rect x="258.8" y="320.1" width="5.5" height="2" fill="#331634"/>
<rect x="264.3" y="320.1" width="5.5" height="2" fill="#2b142a"/>
<rect x="269.7" y="320.1" width="5.5" height="2" fill="#2b142a"/>
<rect x="275.2" y="320.1" width="5.5" height="2" fill="#20111d"/>
<rect x="280.7" y="320.1" width="5.5" height="2" fill="#2c142b"/>
<rect x="286.1" y="320.1" width="5.5" height="2" fill="#2d152d"/>
<rect x="291.6" y="320.1" width="5.5" height="2" fill="#7a7327"/>
<rect x="297.1" y="320.1" width="5.5" height="2" fill="#a7a12f"/>
<rect x="302.6" y="320.1" width="5.5" height="2" fill="#e6e23a"/>
<rect x="308" y="320.1" width="5.5" height="2" fill="#6c6424"/>
<rect x="313.5" y="320.1" width="5.5" height="2" fill="#6a6224"/>
<rect x="319" y="320.1" width="5.5" height="2" fill="#2a2019"/>
<rect x="324.4" y="320.1" width="5.5" height="2" fill="#f0ec3c"/>
<rect x="258.8" y="322" width="5.5" height="2" fill="#3b183c"/>
<rect x="264.3" y="322" width="5.5" height="2" fill="#3c183e"/>
<rect x="269.7" y="322" width="5.5" height="2" fill="#3d183f"/>
<rect x="275.2" y="322" width="5.5" height="2" fill="#271325"/>
<rect x="280.7" y="322" width="5.5" height="2" fill="#311531"/>
<rect x="286.1" y="322" width="5.5" height="2" fill="#501d55"/>
<rect x="291.6" y="322" width="5.5" height="2" fill="#7c7527"/>
<rect x="297.1" y="322" width="5.5" height="2" fill="#f0ec3c"/>
<rect x="302.6" y="322" width="5.5" height="2" fill="#6e6725"/>
<rect x="308" y="322" width="5.5" height="2" fill="#7a7327"/>
<rect x="313.5" y="322" width="5.5" height="2" fill="#f0ec3c"/>
<rect x="319" y="322" width="5.5" height="2" fill="#605822"/>
<rect x="324.4" y="322" width="5.5" height="2" fill="#625a23"/>
<line x1="252.5" y1="324" x2="252.5" y2="261" stroke="#222" stroke-width="1.1"/>
<path d="M252.5 256.4 L249.7 262.6 L255.3 262.6 Z" fill="#222"/>
<text x="248.5" y="289.5" font-size="8.5" text-anchor="middle" transform="rotate(-90 248.5 289.5)" stroke="#2a2a2a" stroke-width="0.22">PC2 score</text>
<text x="0" y="0" font-size="4.7" fill="#2e2e2e" transform="translate(262.2 325.8) rotate(-90) scale(1.26 1)" text-anchor="end" font-style="italic">MKI67</text>
<text x="0" y="0" font-size="4.7" fill="#2e2e2e" transform="translate(267.7 325.8) rotate(-90) scale(1.26 1)" text-anchor="end" font-style="italic">TOP2A</text>
<text x="0" y="0" font-size="4.7" fill="#2e2e2e" transform="translate(273.2 325.8) rotate(-90) scale(1.26 1)" text-anchor="end" font-style="italic">CENPF</text>
<text x="0" y="0" font-size="4.7" fill="#2e2e2e" transform="translate(278.6 325.8) rotate(-90) scale(1.26 1)" text-anchor="end" font-style="italic">PRC1</text>
<text x="0" y="0" font-size="4.7" fill="#2e2e2e" transform="translate(284.1 325.8) rotate(-90) scale(1.26 1)" text-anchor="end" font-style="italic">UBE2T</text>
<text x="0" y="0" font-size="4.7" fill="#2e2e2e" transform="translate(289.6 325.8) rotate(-90) scale(1.26 1)" text-anchor="end" font-style="italic">TPX2</text>
<text x="0" y="0" font-size="4.7" fill="#2e2e2e" transform="translate(295.1 325.8) rotate(-90) scale(1.26 1)" text-anchor="end" font-style="italic">CHL1</text>
<text x="0" y="0" font-size="4.7" fill="#2e2e2e" transform="translate(300.5 325.8) rotate(-90) scale(1.26 1)" text-anchor="end" font-style="italic">APOD</text>
<text x="0" y="0" font-size="4.7" fill="#2e2e2e" transform="translate(306 325.8) rotate(-90) scale(1.26 1)" text-anchor="end" font-style="italic">TNR</text>
<text x="0" y="0" font-size="4.7" fill="#2e2e2e" transform="translate(311.5 325.8) rotate(-90) scale(1.26 1)" text-anchor="end" font-style="italic">NTRK2</text>
<text x="0" y="0" font-size="4.7" fill="#2e2e2e" transform="translate(316.9 325.8) rotate(-90) scale(1.26 1)" text-anchor="end" font-style="italic">ALDOC</text>
<text x="0" y="0" font-size="4.7" fill="#2e2e2e" transform="translate(322.4 325.8) rotate(-90) scale(1.26 1)" text-anchor="end" font-style="italic">NEAT1</text>
<text x="0" y="0" font-size="4.7" fill="#2e2e2e" transform="translate(327.9 325.8) rotate(-90) scale(1.26 1)" text-anchor="end" font-style="italic">NTM</text>
<defs><linearGradient id="zg" x1="0" y1="0" x2="0" y2="1"><stop offset="0" stop-color="#dcd640"/><stop offset="0.2" stop-color="#c8c23a"/><stop offset="0.55" stop-color="#120e12"/><stop offset="0.8" stop-color="#6a2470"/><stop offset="1" stop-color="#bc48bc"/></linearGradient></defs>
<rect x="343.1" y="275.5" width="6" height="32.2" fill="url(#zg)"/>
<text x="349.2" y="273.3" font-size="6.5" transform="rotate(-90 349.2 273.3)">2</text>
<text x="349.2" y="314.5" font-size="6.5" transform="rotate(-90 349.2 314.5)">−2</text>
<text x="340.4" y="292" font-size="7" text-anchor="middle" transform="rotate(-90 340.4 292)" stroke="#2a2a2a" stroke-width="0.22"><tspan font-style="italic">Z</tspan>-score</text>
<text x="380" y="177.6" font-size="11" font-weight="bold" fill="#111" stroke="#111" stroke-width="0.22">C</text>
<circle cx="443.7" cy="221.2" r="1.4" fill="#e5191b"/>
<circle cx="439.4" cy="206" r="1.4" fill="#e5191b"/>
<circle cx="442.6" cy="224.1" r="1.4" fill="#e5191b"/>
<circle cx="442.7" cy="204.2" r="1.4" fill="#e5191b"/>
<circle cx="439.4" cy="211.8" r="1.4" fill="#e5191b"/>
<circle cx="444.2" cy="212.1" r="1.4" fill="#e5191b"/>
<circle cx="440.6" cy="210.6" r="1.4" fill="#e5191b"/>
<circle cx="442.1" cy="207.1" r="1.4" fill="#e5191b"/>
<circle cx="441.6" cy="214" r="1.4" fill="#e5191b"/>
<circle cx="446.1" cy="211.8" r="1.4" fill="#e5191b"/>
<circle cx="444.2" cy="205.2" r="1.4" fill="#e5191b"/>
<circle cx="443.9" cy="213.3" r="1.4" fill="#e5191b"/>
<circle cx="440.1" cy="212.1" r="1.4" fill="#e5191b"/>
<circle cx="444.1" cy="210" r="1.4" fill="#e5191b"/>
<circle cx="444.4" cy="222.7" r="1.4" fill="#e5191b"/>
<circle cx="446" cy="223.3" r="1.4" fill="#e5191b"/>
<circle cx="438.1" cy="214.6" r="1.4" fill="#e5191b"/>
<circle cx="439.7" cy="218.7" r="1.4" fill="#e5191b"/>
<circle cx="441.8" cy="213.8" r="1.4" fill="#e5191b"/>
<circle cx="442.9" cy="208.2" r="1.4" fill="#e5191b"/>
<circle cx="441.9" cy="207.3" r="1.4" fill="#e5191b"/>
<circle cx="447.3" cy="209.1" r="1.4" fill="#e5191b"/>
<circle cx="441.6" cy="200.1" r="1.4" fill="#e5191b"/>
<circle cx="437.5" cy="206.5" r="1.4" fill="#e5191b"/>
<circle cx="443.8" cy="217.5" r="1.4" fill="#e5191b"/>
<circle cx="442.4" cy="207.8" r="1.4" fill="#e5191b"/>
<circle cx="446.7" cy="205.2" r="1.4" fill="#e5191b"/>
<circle cx="439.2" cy="215.6" r="1.4" fill="#e5191b"/>
<circle cx="438.9" cy="214.1" r="1.4" fill="#e5191b"/>
<circle cx="444.3" cy="211.8" r="1.4" fill="#e5191b"/>
<circle cx="442.7" cy="212.5" r="1.4" fill="#e5191b"/>
<circle cx="439.7" cy="190.4" r="1.4" fill="#e5191b"/>
<circle cx="438.2" cy="212.2" r="1.4" fill="#e5191b"/>
<circle cx="437.1" cy="208.4" r="1.4" fill="#e5191b"/>
<circle cx="442.2" cy="221.4" r="1.4" fill="#e5191b"/>
<circle cx="437.8" cy="208.6" r="1.4" fill="#e5191b"/>
<circle cx="442.2" cy="215.9" r="1.4" fill="#e5191b"/>
<circle cx="437.8" cy="225.1" r="1.4" fill="#e5191b"/>
<circle cx="439.3" cy="219.8" r="1.4" fill="#e5191b"/>
<circle cx="441" cy="215.1" r="1.4" fill="#e5191b"/>
<circle cx="446.2" cy="217.1" r="1.4" fill="#e5191b"/>
<circle cx="442" cy="205.3" r="1.4" fill="#e5191b"/>
<circle cx="429.9" cy="192.7" r="1.4" fill="#e5191b"/>
<circle cx="443.1" cy="191.5" r="1.4" fill="#e5191b"/>
<circle cx="420.5" cy="219.9" r="1.4" fill="#e5191b"/>
<circle cx="439.5" cy="202.1" r="1.4" fill="#e5191b"/>
<circle cx="437.3" cy="198" r="1.4" fill="#e5191b"/>
<circle cx="430.3" cy="209.8" r="1.4" fill="#e5191b"/>
<circle cx="435.1" cy="201.2" r="1.4" fill="#e5191b"/>
<circle cx="441.2" cy="211.9" r="1.4" fill="#e5191b"/>
<circle cx="433.9" cy="194.8" r="1.4" fill="#e5191b"/>
<circle cx="433.9" cy="202.5" r="1.4" fill="#e5191b"/>
<circle cx="432.8" cy="212.4" r="1.4" fill="#e5191b"/>
<circle cx="430.3" cy="207.7" r="1.4" fill="#e5191b"/>
<circle cx="479.3" cy="219.1" r="1.4" fill="#e5191b"/>
<circle cx="482.6" cy="202.4" r="1.4" fill="#e5191b"/>
<circle cx="477.4" cy="206.9" r="1.4" fill="#e5191b"/>
<circle cx="477.4" cy="236.2" r="1.4" fill="#e5191b"/>
<circle cx="474" cy="213.9" r="1.4" fill="#e5191b"/>
<circle cx="479" cy="217" r="1.4" fill="#e5191b"/>
<circle cx="479.6" cy="203.9" r="1.4" fill="#e5191b"/>
<circle cx="479.7" cy="208.6" r="1.4" fill="#e5191b"/>
<circle cx="474.9" cy="220.7" r="1.4" fill="#e5191b"/>
<circle cx="478.6" cy="210.4" r="1.4" fill="#e5191b"/>
<circle cx="475.8" cy="214.6" r="1.4" fill="#e5191b"/>
<circle cx="477.5" cy="214.9" r="1.4" fill="#e5191b"/>
<circle cx="475.3" cy="197.8" r="1.4" fill="#e5191b"/>
<circle cx="480.4" cy="217.6" r="1.4" fill="#e5191b"/>
<circle cx="474.8" cy="203.7" r="1.4" fill="#e5191b"/>
<circle cx="476" cy="212.9" r="1.4" fill="#e5191b"/>
<circle cx="472.9" cy="227.3" r="1.4" fill="#e5191b"/>
<circle cx="478.5" cy="213.6" r="1.4" fill="#e5191b"/>
<circle cx="478.3" cy="218" r="1.4" fill="#e5191b"/>
<circle cx="479.9" cy="217.4" r="1.4" fill="#e5191b"/>
<circle cx="480.3" cy="228.4" r="1.4" fill="#e5191b"/>
<circle cx="476.9" cy="212.6" r="1.4" fill="#e5191b"/>
<circle cx="475.6" cy="214.3" r="1.4" fill="#e5191b"/>
<circle cx="476" cy="216.2" r="1.4" fill="#e5191b"/>
<circle cx="478.2" cy="220.4" r="1.4" fill="#e5191b"/>
<circle cx="475" cy="224.7" r="1.4" fill="#e5191b"/>
<circle cx="476.9" cy="215.2" r="1.4" fill="#e5191b"/>
<circle cx="476.4" cy="200.2" r="1.4" fill="#e5191b"/>
<circle cx="478.1" cy="202" r="1.4" fill="#e5191b"/>
<circle cx="480" cy="216.4" r="1.4" fill="#e5191b"/>
<circle cx="480.9" cy="221.3" r="1.4" fill="#e5191b"/>
<circle cx="479.1" cy="227.2" r="1.4" fill="#e5191b"/>
<circle cx="477.4" cy="228.4" r="1.4" fill="#e5191b"/>
<circle cx="477.2" cy="218.2" r="1.4" fill="#e5191b"/>
<circle cx="476" cy="220.4" r="1.4" fill="#e5191b"/>
<circle cx="479" cy="212.1" r="1.4" fill="#e5191b"/>
<circle cx="474.7" cy="215.8" r="1.4" fill="#e5191b"/>
<circle cx="478.4" cy="214.8" r="1.4" fill="#e5191b"/>
<circle cx="481.2" cy="193.6" r="1.4" fill="#e5191b"/>
<circle cx="484.7" cy="176.6" r="1.4" fill="#e5191b"/>
<circle cx="483.1" cy="213" r="1.4" fill="#e5191b"/>
<circle cx="479.7" cy="198.1" r="1.4" fill="#e5191b"/>
<circle cx="494.5" cy="206.4" r="1.4" fill="#e5191b"/>
<circle cx="490.6" cy="198.8" r="1.4" fill="#e5191b"/>
<circle cx="479.4" cy="225.9" r="1.4" fill="#e5191b"/>
<circle cx="487.6" cy="202.2" r="1.4" fill="#e5191b"/>
<circle cx="494.2" cy="207.3" r="1.4" fill="#e5191b"/>
<circle cx="486.3" cy="190.2" r="1.4" fill="#e5191b"/>
<path d="M444.3 207.5 L444.8 216 L446.2 224 L448.3 232 L451.6 237.8 L457 243 L460.7 244.6 L466.9 241.7 L471 236.3 L473 228 L473.8 218.6 L474.6 208.8 L473 209.5 L469.4 218.6 L464 224.7 L460 225.6 L456 222.7 L450.6 216 L446.6 208.5 Z" fill="#0d0d0d"/>
<path d="M444.3 207.5 L444.8 216 L446.2 224 L448.3 232 L451.6 237.8 L457 243 L460.7 244.6 L466.9 241.7 L471 236.3 L473 228 L473.8 218.6 L474.6 208.8 L473 209.5 L469.4 218.6 L464 224.7 L460 225.6 L456 222.7 L450.6 216 L446.6 208.5 Z" fill="url(#spk)"/>
<circle cx="444.4" cy="212.3" r="1" fill="#0d0d0d"/>
<circle cx="453.4" cy="220.5" r="1" fill="#0d0d0d"/>
<circle cx="446.4" cy="221.5" r="1" fill="#0d0d0d"/>
<circle cx="444.6" cy="206.7" r="1" fill="#0d0d0d"/>
<circle cx="468.2" cy="240.1" r="1" fill="#0d0d0d"/>
<circle cx="446.7" cy="225.1" r="1" fill="#0d0d0d"/>
<circle cx="464.5" cy="241.3" r="1" fill="#0d0d0d"/>
<circle cx="472.3" cy="233.8" r="1" fill="#0d0d0d"/>
<circle cx="472.7" cy="216.4" r="1" fill="#0d0d0d"/>
<circle cx="444.9" cy="210.6" r="1" fill="#0d0d0d"/>
<circle cx="452.6" cy="239.2" r="1" fill="#0d0d0d"/>
<circle cx="469.9" cy="216.4" r="1" fill="#0d0d0d"/>
<circle cx="459.8" cy="244.9" r="1" fill="#0d0d0d"/>
<circle cx="444.9" cy="210" r="1" fill="#0d0d0d"/>
<circle cx="476.4" cy="212.8" r="1" fill="#0d0d0d"/>
<circle cx="454.3" cy="220.9" r="1" fill="#0d0d0d"/>
<circle cx="471.7" cy="211.5" r="1" fill="#0d0d0d"/>
<circle cx="461.4" cy="225.8" r="1" fill="#0d0d0d"/>
<circle cx="472.8" cy="216.6" r="1" fill="#0d0d0d"/>
<circle cx="461.7" cy="242.5" r="1" fill="#0d0d0d"/>
<circle cx="474.3" cy="208.8" r="1" fill="#0d0d0d"/>
<circle cx="461.2" cy="225.4" r="1" fill="#0d0d0d"/>
<circle cx="450.6" cy="214.8" r="1" fill="#0d0d0d"/>
<circle cx="472.8" cy="209.8" r="1" fill="#0d0d0d"/>
<circle cx="467.1" cy="222" r="1" fill="#0d0d0d"/>
<circle cx="469.9" cy="218.7" r="1" fill="#0d0d0d"/>
<circle cx="444.6" cy="207.5" r="1" fill="#0d0d0d"/>
<circle cx="444.9" cy="209.1" r="1" fill="#0d0d0d"/>
<circle cx="460.5" cy="244.2" r="1" fill="#0d0d0d"/>
<circle cx="446.5" cy="211.6" r="1" fill="#0d0d0d"/>
<circle cx="474.3" cy="217.7" r="1" fill="#0d0d0d"/>
<circle cx="445" cy="215.2" r="1" fill="#0d0d0d"/>
<circle cx="455.9" cy="221.3" r="1" fill="#0d0d0d"/>
<circle cx="475.5" cy="209.1" r="1" fill="#0d0d0d"/>
<circle cx="474.1" cy="212.2" r="1" fill="#0d0d0d"/>
<circle cx="449.8" cy="214.7" r="1" fill="#0d0d0d"/>
<circle cx="453.4" cy="220.4" r="1" fill="#0d0d0d"/>
<circle cx="455.1" cy="223.3" r="1" fill="#0d0d0d"/>
<circle cx="456.4" cy="243.8" r="1" fill="#0d0d0d"/>
<circle cx="461.9" cy="224.7" r="1" fill="#0d0d0d"/>
<circle cx="464.2" cy="241.6" r="1" fill="#0d0d0d"/>
<circle cx="449.8" cy="239" r="1" fill="#0d0d0d"/>
<circle cx="473.8" cy="209.8" r="1" fill="#0d0d0d"/>
<circle cx="444.4" cy="213.5" r="1" fill="#0d0d0d"/>
<circle cx="448" cy="212.6" r="1" fill="#0d0d0d"/>
<circle cx="453.2" cy="217.5" r="1" fill="#0d0d0d"/>
<circle cx="473.2" cy="210.7" r="1" fill="#0d0d0d"/>
<circle cx="474.1" cy="208.4" r="1" fill="#0d0d0d"/>
<circle cx="458.9" cy="241.8" r="1" fill="#0d0d0d"/>
<circle cx="444.7" cy="214.4" r="1" fill="#0d0d0d"/>
<circle cx="464.6" cy="241.6" r="1" fill="#0d0d0d"/>
<circle cx="455.1" cy="221.8" r="1" fill="#0d0d0d"/>
<circle cx="460.9" cy="224.1" r="1" fill="#0d0d0d"/>
<circle cx="471.7" cy="234.2" r="1" fill="#0d0d0d"/>
<circle cx="458" cy="224.6" r="1" fill="#0d0d0d"/>
<circle cx="445.4" cy="223.1" r="1" fill="#0d0d0d"/>
<circle cx="473.2" cy="218.2" r="1" fill="#0d0d0d"/>
<circle cx="474" cy="211.1" r="1" fill="#0d0d0d"/>
<circle cx="446.4" cy="207.3" r="1" fill="#0d0d0d"/>
<circle cx="458.9" cy="223.3" r="1" fill="#0d0d0d"/>
<circle cx="446" cy="214" r="1.1" fill="#e5191b"/>
<circle cx="447" cy="226" r="1.1" fill="#e5191b"/>
<circle cx="449" cy="230" r="1.1" fill="#e5191b"/>
<circle cx="472" cy="222" r="1.1" fill="#e5191b"/>
<circle cx="473" cy="230" r="1.1" fill="#e5191b"/>
<circle cx="471" cy="236" r="1.1" fill="#e5191b"/>
<circle cx="446" cy="220" r="1.1" fill="#e5191b"/>
<line x1="418.8" y1="184" x2="418.8" y2="246.5" stroke="#6e6e6e" stroke-width="0.9"/>
<line x1="418.8" y1="246.5" x2="509" y2="246.5" stroke="#6e6e6e" stroke-width="0.9"/>
<line x1="416.8" y1="243.7" x2="418.8" y2="243.7" stroke="#6e6e6e" stroke-width="0.9"/>
<text x="413.6" y="246.6" font-size="8.5" text-anchor="end" stroke="#2a2a2a" stroke-width="0.22">0</text>
<line x1="416.8" y1="225.3" x2="418.8" y2="225.3" stroke="#6e6e6e" stroke-width="0.9"/>
<text x="413.6" y="228.2" font-size="8.5" text-anchor="end" stroke="#2a2a2a" stroke-width="0.22">100</text>
<line x1="416.8" y1="206.9" x2="418.8" y2="206.9" stroke="#6e6e6e" stroke-width="0.9"/>
<text x="413.6" y="209.8" font-size="8.5" text-anchor="end" stroke="#2a2a2a" stroke-width="0.22">200</text>
<line x1="416.8" y1="188.5" x2="418.8" y2="188.5" stroke="#6e6e6e" stroke-width="0.9"/>
<text x="413.6" y="191.4" font-size="8.5" text-anchor="end" stroke="#2a2a2a" stroke-width="0.22">300</text>
<line x1="430.6" y1="246.5" x2="430.6" y2="248.5" stroke="#6e6e6e" stroke-width="0.9"/>
<text x="430.6" y="258.8" font-size="8.5" text-anchor="middle" stroke="#2a2a2a" stroke-width="0.22">−2</text>
<line x1="445.5" y1="246.5" x2="445.5" y2="248.5" stroke="#6e6e6e" stroke-width="0.9"/>
<text x="445.5" y="258.8" font-size="8.5" text-anchor="middle" stroke="#2a2a2a" stroke-width="0.22">−1</text>
<line x1="460.4" y1="246.5" x2="460.4" y2="248.5" stroke="#6e6e6e" stroke-width="0.9"/>
<text x="460.4" y="258.8" font-size="8.5" text-anchor="middle" stroke="#2a2a2a" stroke-width="0.22">0</text>
<line x1="475.3" y1="246.5" x2="475.3" y2="248.5" stroke="#6e6e6e" stroke-width="0.9"/>
<text x="475.3" y="258.8" font-size="8.5" text-anchor="middle" stroke="#2a2a2a" stroke-width="0.22">1</text>
<line x1="490.2" y1="246.5" x2="490.2" y2="248.5" stroke="#6e6e6e" stroke-width="0.9"/>
<text x="490.2" y="258.8" font-size="8.5" text-anchor="middle" stroke="#2a2a2a" stroke-width="0.22">2</text>
<line x1="505.1" y1="246.5" x2="505.1" y2="248.5" stroke="#6e6e6e" stroke-width="0.9"/>
<text x="505.1" y="258.8" font-size="8.5" text-anchor="middle" stroke="#2a2a2a" stroke-width="0.22">3</text>
<text x="448.5" y="271.6" font-size="8.6" stroke="#2a2a2a" stroke-width="0.22">Log<tspan font-size="6" dy="2">2</tspan><tspan dy="-2"> FC</tspan></text>
<text x="390.2" y="214" font-size="8.6" text-anchor="middle" transform="rotate(-90 390.2 214)" stroke="#2a2a2a" stroke-width="0.22">−Log<tspan font-size="6" dy="2">10</tspan><tspan dy="-2">(</tspan><tspan font-style="italic">P</tspan>)</text>
<text x="426.5" y="181.5" font-size="7.3" font-style="italic" fill="#333">PDGFRA</text>
<text x="435.5" y="191" font-size="7.3" font-style="italic" fill="#333">OLIG2</text>
<text x="491.5" y="176" font-size="7.3" font-style="italic" fill="#333">GFAP</text>
<text x="489.5" y="196.5" font-size="7.3" font-style="italic" fill="#333">CHI3L1</text>
<text x="486.8" y="218.5" font-size="7.3" font-style="italic" fill="#333">SOD2</text>
<text x="420.5" y="225.3" font-size="7.3" font-style="italic" fill="#333">MKI67</text>
<text x="420.5" y="233" font-size="7.3" font-style="italic" fill="#333">CDK1</text>
<text x="485.5" y="231" font-size="7.3" font-style="italic" fill="#333">CD44</text>
<line x1="434" y1="185" x2="424" y2="190" stroke="#777" stroke-width="0.5" stroke-dasharray="0.8 0.8"/>
<line x1="436" y1="189" x2="431" y2="196" stroke="#777" stroke-width="0.5" stroke-dasharray="0.8 0.8"/>
<line x1="502" y1="178" x2="504" y2="181" stroke="#777" stroke-width="0.5" stroke-dasharray="0.8 0.8"/>
<line x1="500" y1="198" x2="496" y2="205" stroke="#777" stroke-width="0.5" stroke-dasharray="0.8 0.8"/>
<line x1="487" y1="216" x2="482" y2="214" stroke="#777" stroke-width="0.5" stroke-dasharray="0.8 0.8"/>
<line x1="441" y1="224" x2="444" y2="222" stroke="#777" stroke-width="0.5" stroke-dasharray="0.8 0.8"/>
<line x1="440" y1="230" x2="444" y2="230" stroke="#777" stroke-width="0.5" stroke-dasharray="0.8 0.8"/>
<line x1="485" y1="229" x2="480" y2="228" stroke="#777" stroke-width="0.5" stroke-dasharray="0.8 0.8"/>
<text x="380.3" y="288.7" font-size="11" font-weight="bold" fill="#111" stroke="#111" stroke-width="0.22">D</text>
<text x="468" y="289.5" font-size="8.5" text-anchor="middle" stroke="#2a2a2a" stroke-width="0.22">% cycling</text>
<line x1="448.6" y1="303" x2="488.7" y2="303" stroke="#6e6e6e" stroke-width="0.9"/>
<line x1="448.6" y1="301.2" x2="448.6" y2="303" stroke="#6e6e6e" stroke-width="0.9"/>
<text x="448.6" y="300" font-size="7.4" text-anchor="middle" stroke="#2a2a2a" stroke-width="0.22">0</text>
<line x1="458.6" y1="301.2" x2="458.6" y2="303" stroke="#6e6e6e" stroke-width="0.9"/>
<text x="458.6" y="300" font-size="7.4" text-anchor="middle" stroke="#2a2a2a" stroke-width="0.22">5</text>
<line x1="468.6" y1="301.2" x2="468.6" y2="303" stroke="#6e6e6e" stroke-width="0.9"/>
<text x="468.6" y="300" font-size="7.4" text-anchor="middle" stroke="#2a2a2a" stroke-width="0.22">10</text>
<line x1="478.6" y1="301.2" x2="478.6" y2="303" stroke="#6e6e6e" stroke-width="0.9"/>
<text x="478.6" y="300" font-size="7.4" text-anchor="middle" stroke="#2a2a2a" stroke-width="0.22">15</text>
<line x1="488.6" y1="301.2" x2="488.6" y2="303" stroke="#6e6e6e" stroke-width="0.9"/>
<text x="488.6" y="300" font-size="7.4" text-anchor="middle" stroke="#2a2a2a" stroke-width="0.22">20</text>
<rect x="448.6" y="306.5" width="40.4" height="12.5" fill="#bdbdbd"/>
<rect x="448.6" y="322.5" width="0.8" height="11" fill="#bdbdbd"/>
<line x1="448.5" y1="302.5" x2="448.5" y2="337.5" stroke="#6e6e6e" stroke-width="0.9"/>
<text x="446" y="315.6" font-size="8.5" text-anchor="end" stroke="#2a2a2a" stroke-width="0.22">Proneural</text>
<text x="446" y="330.6" font-size="8.5" text-anchor="end" stroke="#2a2a2a" stroke-width="0.22">Mesenchymal</text>
<path d="M490.6 309.6 H495 V329 H490.6" fill="none" stroke="#777" stroke-width="0.8"/>
<circle cx="498.2" cy="316.3" r="0.8" fill="#333"/>
<circle cx="498.2" cy="319.4" r="0.8" fill="#333"/>
<circle cx="498.2" cy="322.5" r="0.8" fill="#333"/>
<text x="1.3" y="359.7" font-size="11" font-weight="bold" fill="#111" stroke="#111" stroke-width="0.22">E</text>
<text x="40" y="365" font-size="8.6" stroke="#2a2a2a" stroke-width="0.22">10× snRNA-seq</text>
<circle cx="181.6" cy="384.2" r="1.8" fill="#b9b9bb"/>
<circle cx="191.6" cy="383.8" r="1.8" fill="#b9b9bb"/>
<circle cx="198.3" cy="383.8" r="1.8" fill="#b9b9bb"/>
<circle cx="206.5" cy="386.9" r="1.8" fill="#b9b9bb"/>
<circle cx="223.4" cy="387" r="1.8" fill="#b9b9bb"/>
<circle cx="181.6" cy="389.6" r="1.8" fill="#b9b9bb"/>
<circle cx="198.4" cy="389.6" r="1.8" fill="#b9b9bb"/>
<circle cx="211.4" cy="390" r="1.8" fill="#b9b9bb"/>
<circle cx="218.5" cy="389.8" r="1.8" fill="#b9b9bb"/>
<circle cx="180.5" cy="392.9" r="1.8" fill="#b9b9bb"/>
<circle cx="184.9" cy="395.5" r="1.8" fill="#b9b9bb"/>
<circle cx="201.7" cy="395.3" r="1.8" fill="#b9b9bb"/>
<circle cx="214.7" cy="395.6" r="1.8" fill="#b9b9bb"/>
<circle cx="162.1" cy="401.1" r="1.8" fill="#b9b9bb"/>
<circle cx="178.5" cy="400.9" r="1.8" fill="#b9b9bb"/>
<circle cx="182.1" cy="401.2" r="1.8" fill="#b9b9bb"/>
<circle cx="185.2" cy="401" r="1.8" fill="#b9b9bb"/>
<circle cx="208.2" cy="401.3" r="1.8" fill="#b9b9bb"/>
<circle cx="176.7" cy="404" r="1.8" fill="#b9b9bb"/>
<circle cx="190" cy="404.2" r="1.8" fill="#b9b9bb"/>
<circle cx="203.3" cy="404.2" r="1.8" fill="#b9b9bb"/>
<circle cx="223.1" cy="404.3" r="1.8" fill="#b9b9bb"/>
<circle cx="181.9" cy="406.9" r="1.8" fill="#b9b9bb"/>
<circle cx="215.1" cy="406.8" r="1.8" fill="#b9b9bb"/>
<circle cx="218" cy="406.8" r="1.8" fill="#b9b9bb"/>
<circle cx="150.8" cy="410" r="1.8" fill="#b9b9bb"/>
<circle cx="193.5" cy="409.9" r="1.8" fill="#b9b9bb"/>
<circle cx="142.5" cy="412.5" r="1.8" fill="#b9b9bb"/>
<circle cx="145.8" cy="412.4" r="1.8" fill="#b9b9bb"/>
<circle cx="152.2" cy="412.6" r="1.8" fill="#b9b9bb"/>
<circle cx="192.1" cy="412.3" r="1.8" fill="#b9b9bb"/>
<circle cx="140.7" cy="415.5" r="1.8" fill="#b9b9bb"/>
<circle cx="164" cy="415.5" r="1.8" fill="#b9b9bb"/>
<circle cx="177.1" cy="415.4" r="1.8" fill="#b9b9bb"/>
<circle cx="190" cy="415.5" r="1.8" fill="#b9b9bb"/>
<circle cx="223.2" cy="415.4" r="1.8" fill="#b9b9bb"/>
<circle cx="132.3" cy="418.5" r="1.8" fill="#b9b9bb"/>
<circle cx="162.2" cy="418.1" r="1.8" fill="#b9b9bb"/>
<circle cx="165.1" cy="418.2" r="1.8" fill="#b9b9bb"/>
<circle cx="127.4" cy="421.2" r="1.8" fill="#b9b9bb"/>
<circle cx="131" cy="421.3" r="1.8" fill="#b9b9bb"/>
<circle cx="160.5" cy="421" r="1.8" fill="#b9b9bb"/>
<circle cx="167.2" cy="421.1" r="1.8" fill="#b9b9bb"/>
<circle cx="193.2" cy="421.1" r="1.8" fill="#b9b9bb"/>
<circle cx="99.2" cy="424" r="1.8" fill="#b9b9bb"/>
<circle cx="122.2" cy="424" r="1.8" fill="#b9b9bb"/>
<circle cx="132.2" cy="423.9" r="1.8" fill="#b9b9bb"/>
<circle cx="139" cy="424.2" r="1.8" fill="#b9b9bb"/>
<circle cx="155.7" cy="424.1" r="1.8" fill="#b9b9bb"/>
<circle cx="165.6" cy="423.8" r="1.8" fill="#b9b9bb"/>
<circle cx="208.1" cy="423.8" r="1.8" fill="#b9b9bb"/>
<circle cx="78.2" cy="426.6" r="1.8" fill="#b9b9bb"/>
<circle cx="104.3" cy="426.9" r="1.8" fill="#b9b9bb"/>
<circle cx="127.6" cy="426.6" r="1.8" fill="#b9b9bb"/>
<circle cx="130.5" cy="426.8" r="1.8" fill="#b9b9bb"/>
<circle cx="164" cy="426.6" r="1.8" fill="#b9b9bb"/>
<circle cx="170.1" cy="427.1" r="1.8" fill="#b9b9bb"/>
<circle cx="183.6" cy="427.1" r="1.8" fill="#b9b9bb"/>
<circle cx="189.9" cy="427.1" r="1.8" fill="#b9b9bb"/>
<circle cx="223.2" cy="426.9" r="1.8" fill="#b9b9bb"/>
<circle cx="89.5" cy="429.7" r="1.8" fill="#b9b9bb"/>
<circle cx="93.1" cy="429.6" r="1.8" fill="#b9b9bb"/>
<circle cx="99.3" cy="429.7" r="1.8" fill="#b9b9bb"/>
<circle cx="102.7" cy="430" r="1.8" fill="#b9b9bb"/>
<circle cx="119.1" cy="429.9" r="1.8" fill="#b9b9bb"/>
<circle cx="125.9" cy="429.9" r="1.8" fill="#b9b9bb"/>
<circle cx="145.8" cy="429.7" r="1.8" fill="#b9b9bb"/>
<circle cx="188.5" cy="429.9" r="1.8" fill="#b9b9bb"/>
<circle cx="191.7" cy="429.8" r="1.8" fill="#b9b9bb"/>
<circle cx="214.8" cy="429.7" r="1.8" fill="#b9b9bb"/>
<circle cx="61.4" cy="432.7" r="1.8" fill="#b9b9bb"/>
<circle cx="64.6" cy="432.4" r="1.8" fill="#b9b9bb"/>
<circle cx="71.3" cy="432.4" r="1.8" fill="#b9b9bb"/>
<circle cx="74.8" cy="432.8" r="1.8" fill="#b9b9bb"/>
<circle cx="78.2" cy="432.5" r="1.8" fill="#b9b9bb"/>
<circle cx="81.2" cy="432.4" r="1.8" fill="#b9b9bb"/>
<circle cx="84.4" cy="432.7" r="1.8" fill="#b9b9bb"/>
<circle cx="88" cy="432.7" r="1.8" fill="#b9b9bb"/>
<circle cx="91.1" cy="432.7" r="1.8" fill="#b9b9bb"/>
<circle cx="94.5" cy="432.3" r="1.8" fill="#b9b9bb"/>
<circle cx="97.5" cy="432.3" r="1.8" fill="#b9b9bb"/>
<circle cx="101" cy="432.4" r="1.8" fill="#b9b9bb"/>
<circle cx="104.3" cy="432.7" r="1.8" fill="#b9b9bb"/>
<circle cx="107.7" cy="432.6" r="1.8" fill="#b9b9bb"/>
<circle cx="110.9" cy="432.4" r="1.8" fill="#b9b9bb"/>
<circle cx="114" cy="432.3" r="1.8" fill="#b9b9bb"/>
<circle cx="117.6" cy="432.5" r="1.8" fill="#b9b9bb"/>
<circle cx="120.6" cy="432.5" r="1.8" fill="#b9b9bb"/>
<circle cx="160.5" cy="432.8" r="1.8" fill="#b9b9bb"/>
<circle cx="180.5" cy="432.6" r="1.8" fill="#b9b9bb"/>
<circle cx="186.7" cy="432.7" r="1.8" fill="#b9b9bb"/>
<circle cx="193.6" cy="432.8" r="1.8" fill="#b9b9bb"/>
<circle cx="196.8" cy="432.5" r="1.8" fill="#b9b9bb"/>
<circle cx="210.2" cy="432.4" r="1.8" fill="#b9b9bb"/>
<circle cx="216.5" cy="432.4" r="1.8" fill="#b9b9bb"/>
<circle cx="49.9" cy="435.2" r="1.8" fill="#b9b9bb"/>
<circle cx="53" cy="435.3" r="1.8" fill="#b9b9bb"/>
<circle cx="59.9" cy="435.6" r="1.8" fill="#b9b9bb"/>
<circle cx="63.2" cy="435.1" r="1.8" fill="#b9b9bb"/>
<circle cx="66.6" cy="435.4" r="1.8" fill="#b9b9bb"/>
<circle cx="70" cy="435.6" r="1.8" fill="#b9b9bb"/>
<circle cx="72.8" cy="435.4" r="1.8" fill="#b9b9bb"/>
<circle cx="76.2" cy="435.7" r="1.8" fill="#b9b9bb"/>
<circle cx="79.8" cy="435.5" r="1.8" fill="#b9b9bb"/>
<circle cx="86.2" cy="435.4" r="1.8" fill="#b9b9bb"/>
<circle cx="89.6" cy="435.5" r="1.8" fill="#b9b9bb"/>
<circle cx="93" cy="435.5" r="1.8" fill="#b9b9bb"/>
<circle cx="99.2" cy="435.2" r="1.8" fill="#b9b9bb"/>
<circle cx="102.7" cy="435.3" r="1.8" fill="#b9b9bb"/>
<circle cx="105.8" cy="435.7" r="1.8" fill="#b9b9bb"/>
<circle cx="109.1" cy="435.2" r="1.8" fill="#b9b9bb"/>
<circle cx="112.8" cy="435.6" r="1.8" fill="#b9b9bb"/>
<circle cx="116.1" cy="435.6" r="1.8" fill="#b9b9bb"/>
<circle cx="119.4" cy="435.6" r="1.8" fill="#b9b9bb"/>
<circle cx="122.5" cy="435.1" r="1.8" fill="#b9b9bb"/>
<circle cx="125.5" cy="435.6" r="1.8" fill="#b9b9bb"/>
<circle cx="129.2" cy="435.7" r="1.8" fill="#b9b9bb"/>
<circle cx="132.2" cy="435.3" r="1.8" fill="#b9b9bb"/>
<circle cx="138.7" cy="435.2" r="1.8" fill="#b9b9bb"/>
<circle cx="142.5" cy="435.3" r="1.8" fill="#b9b9bb"/>
<circle cx="178.5" cy="435.6" r="1.8" fill="#b9b9bb"/>
<circle cx="205.2" cy="435.6" r="1.8" fill="#b9b9bb"/>
<circle cx="224.9" cy="435.2" r="1.8" fill="#b9b9bb"/>
<circle cx="58" cy="438.5" r="1.8" fill="#b9b9bb"/>
<circle cx="61.2" cy="438.1" r="1.8" fill="#b9b9bb"/>
<circle cx="65" cy="438.5" r="1.8" fill="#b9b9bb"/>
<circle cx="67.9" cy="438.3" r="1.8" fill="#b9b9bb"/>
<circle cx="71.2" cy="438.5" r="1.8" fill="#b9b9bb"/>
<circle cx="77.8" cy="438.4" r="1.8" fill="#b9b9bb"/>
<circle cx="81.3" cy="438.3" r="1.8" fill="#b9b9bb"/>
<circle cx="84.7" cy="438.2" r="1.8" fill="#b9b9bb"/>
<circle cx="87.8" cy="438.3" r="1.8" fill="#b9b9bb"/>
<circle cx="94.2" cy="438.3" r="1.8" fill="#b9b9bb"/>
<circle cx="104.6" cy="438.5" r="1.8" fill="#b9b9bb"/>
<circle cx="107.5" cy="438.1" r="1.8" fill="#b9b9bb"/>
<circle cx="111" cy="438.1" r="1.8" fill="#b9b9bb"/>
<circle cx="114.3" cy="438.1" r="1.8" fill="#b9b9bb"/>
<circle cx="117.3" cy="438.3" r="1.8" fill="#b9b9bb"/>
<circle cx="120.6" cy="438.3" r="1.8" fill="#b9b9bb"/>
<circle cx="124.2" cy="438.1" r="1.8" fill="#b9b9bb"/>
<circle cx="127.7" cy="438.3" r="1.8" fill="#b9b9bb"/>
<circle cx="130.7" cy="438.1" r="1.8" fill="#b9b9bb"/>
<circle cx="133.8" cy="438.5" r="1.8" fill="#b9b9bb"/>
<circle cx="137.3" cy="438.6" r="1.8" fill="#b9b9bb"/>
<circle cx="140.6" cy="438.4" r="1.8" fill="#b9b9bb"/>
<circle cx="144.1" cy="438.5" r="1.8" fill="#b9b9bb"/>
<circle cx="147.4" cy="438.1" r="1.8" fill="#b9b9bb"/>
<circle cx="150.7" cy="438" r="1.8" fill="#b9b9bb"/>
<circle cx="153.8" cy="438.1" r="1.8" fill="#b9b9bb"/>
<circle cx="157" cy="438.5" r="1.8" fill="#b9b9bb"/>
<circle cx="160.5" cy="438.2" r="1.8" fill="#b9b9bb"/>
<circle cx="163.6" cy="438" r="1.8" fill="#b9b9bb"/>
<circle cx="167.1" cy="438.5" r="1.8" fill="#b9b9bb"/>
<circle cx="193.2" cy="438.1" r="1.8" fill="#b9b9bb"/>
<circle cx="203.4" cy="438.4" r="1.8" fill="#b9b9bb"/>
<circle cx="49.9" cy="441.2" r="1.8" fill="#b9b9bb"/>
<circle cx="53.5" cy="441.3" r="1.8" fill="#b9b9bb"/>
<circle cx="56.7" cy="441.3" r="1.8" fill="#b9b9bb"/>
<circle cx="60" cy="441.4" r="1.8" fill="#b9b9bb"/>
<circle cx="63" cy="441.3" r="1.8" fill="#b9b9bb"/>
<circle cx="66.6" cy="441.1" r="1.8" fill="#b9b9bb"/>
<circle cx="69.6" cy="441.1" r="1.8" fill="#b9b9bb"/>
<circle cx="73" cy="441.1" r="1.8" fill="#b9b9bb"/>
<circle cx="76.2" cy="441.1" r="1.8" fill="#b9b9bb"/>
<circle cx="79.6" cy="440.9" r="1.8" fill="#b9b9bb"/>
<circle cx="83" cy="441.1" r="1.8" fill="#b9b9bb"/>
<circle cx="86.1" cy="441.1" r="1.8" fill="#b9b9bb"/>
<circle cx="89.4" cy="441.2" r="1.8" fill="#b9b9bb"/>
<circle cx="93.1" cy="440.9" r="1.8" fill="#b9b9bb"/>
<circle cx="96.2" cy="441.2" r="1.8" fill="#b9b9bb"/>
<circle cx="99.3" cy="441.1" r="1.8" fill="#b9b9bb"/>
<circle cx="102.9" cy="441.4" r="1.8" fill="#b9b9bb"/>
<circle cx="109.1" cy="441.4" r="1.8" fill="#b9b9bb"/>
<circle cx="112.5" cy="441.3" r="1.8" fill="#b9b9bb"/>
<circle cx="116" cy="441.4" r="1.8" fill="#b9b9bb"/>
<circle cx="119.1" cy="441.3" r="1.8" fill="#b9b9bb"/>
<circle cx="125.9" cy="441.2" r="1.8" fill="#b9b9bb"/>
<circle cx="129.3" cy="441.2" r="1.8" fill="#b9b9bb"/>
<circle cx="132.2" cy="441.1" r="1.8" fill="#b9b9bb"/>
<circle cx="135.9" cy="441.3" r="1.8" fill="#b9b9bb"/>
<circle cx="142.2" cy="441" r="1.8" fill="#b9b9bb"/>
<circle cx="145.6" cy="441" r="1.8" fill="#b9b9bb"/>
<circle cx="152" cy="441" r="1.8" fill="#b9b9bb"/>
<circle cx="155.6" cy="441" r="1.8" fill="#b9b9bb"/>
<circle cx="158.9" cy="441.4" r="1.8" fill="#b9b9bb"/>
<circle cx="162.3" cy="441.2" r="1.8" fill="#b9b9bb"/>
<circle cx="165.3" cy="441" r="1.8" fill="#b9b9bb"/>
<circle cx="169" cy="441.3" r="1.8" fill="#b9b9bb"/>
<circle cx="172.2" cy="441.4" r="1.8" fill="#b9b9bb"/>
<circle cx="175.1" cy="440.9" r="1.8" fill="#b9b9bb"/>
<circle cx="178.4" cy="441.3" r="1.8" fill="#b9b9bb"/>
<circle cx="181.7" cy="441.4" r="1.8" fill="#b9b9bb"/>
<circle cx="185.2" cy="441.4" r="1.8" fill="#b9b9bb"/>
<circle cx="188.3" cy="441" r="1.8" fill="#b9b9bb"/>
<circle cx="192" cy="441.1" r="1.8" fill="#b9b9bb"/>
<circle cx="195.3" cy="441" r="1.8" fill="#b9b9bb"/>
<circle cx="44.8" cy="444.1" r="1.8" fill="#b9b9bb"/>
<circle cx="48.3" cy="444" r="1.8" fill="#b9b9bb"/>
<circle cx="51.6" cy="443.7" r="1.8" fill="#b9b9bb"/>
<circle cx="55" cy="444" r="1.8" fill="#b9b9bb"/>
<circle cx="58" cy="443.8" r="1.8" fill="#b9b9bb"/>
<circle cx="61.2" cy="444" r="1.8" fill="#b9b9bb"/>
<circle cx="64.7" cy="443.9" r="1.8" fill="#b9b9bb"/>
<circle cx="68.1" cy="443.8" r="1.8" fill="#b9b9bb"/>
<circle cx="71.5" cy="444.1" r="1.8" fill="#b9b9bb"/>
<circle cx="74.7" cy="444" r="1.8" fill="#b9b9bb"/>
<circle cx="77.7" cy="444.2" r="1.8" fill="#b9b9bb"/>
<circle cx="81.1" cy="444" r="1.8" fill="#b9b9bb"/>
<circle cx="84.3" cy="443.9" r="1.8" fill="#b9b9bb"/>
<circle cx="87.8" cy="443.8" r="1.8" fill="#b9b9bb"/>
<circle cx="91.1" cy="443.7" r="1.8" fill="#b9b9bb"/>
<circle cx="94.2" cy="444.1" r="1.8" fill="#b9b9bb"/>
<circle cx="97.8" cy="443.9" r="1.8" fill="#b9b9bb"/>
<circle cx="100.9" cy="443.8" r="1.8" fill="#b9b9bb"/>
<circle cx="104.5" cy="443.9" r="1.8" fill="#b9b9bb"/>
<circle cx="107.8" cy="443.8" r="1.8" fill="#b9b9bb"/>
<circle cx="110.9" cy="444" r="1.8" fill="#b9b9bb"/>
<circle cx="114.4" cy="444.1" r="1.8" fill="#b9b9bb"/>
<circle cx="117.5" cy="444.2" r="1.8" fill="#b9b9bb"/>
<circle cx="120.7" cy="443.7" r="1.8" fill="#b9b9bb"/>
<circle cx="124.4" cy="444.2" r="1.8" fill="#b9b9bb"/>
<circle cx="131" cy="444.1" r="1.8" fill="#b9b9bb"/>
<circle cx="134" cy="443.9" r="1.8" fill="#b9b9bb"/>
<circle cx="137.2" cy="443.9" r="1.8" fill="#b9b9bb"/>
<circle cx="143.9" cy="444.2" r="1.8" fill="#b9b9bb"/>
<circle cx="147" cy="444.2" r="1.8" fill="#b9b9bb"/>
<circle cx="150.6" cy="444.1" r="1.8" fill="#b9b9bb"/>
<circle cx="154.1" cy="444.2" r="1.8" fill="#b9b9bb"/>
<circle cx="157" cy="443.9" r="1.8" fill="#b9b9bb"/>
<circle cx="160.3" cy="443.8" r="1.8" fill="#b9b9bb"/>
<circle cx="167.3" cy="444.3" r="1.8" fill="#b9b9bb"/>
<circle cx="170.5" cy="443.9" r="1.8" fill="#b9b9bb"/>
<circle cx="173.6" cy="444.2" r="1.8" fill="#b9b9bb"/>
<circle cx="177" cy="444.2" r="1.8" fill="#b9b9bb"/>
<circle cx="180.3" cy="443.7" r="1.8" fill="#b9b9bb"/>
<circle cx="183.7" cy="444.1" r="1.8" fill="#b9b9bb"/>
<circle cx="190.4" cy="444.2" r="1.8" fill="#b9b9bb"/>
<circle cx="193.7" cy="443.7" r="1.8" fill="#b9b9bb"/>
<circle cx="196.7" cy="443.9" r="1.8" fill="#b9b9bb"/>
<circle cx="200.2" cy="444.3" r="1.8" fill="#b9b9bb"/>
<circle cx="203.6" cy="443.9" r="1.8" fill="#b9b9bb"/>
<circle cx="43.1" cy="447.1" r="1.8" fill="#b9b9bb"/>
<circle cx="46.6" cy="446.6" r="1.8" fill="#b9b9bb"/>
<circle cx="49.8" cy="446.9" r="1.8" fill="#b9b9bb"/>
<circle cx="53.4" cy="446.9" r="1.8" fill="#b9b9bb"/>
<circle cx="56.6" cy="446.7" r="1.8" fill="#b9b9bb"/>
<circle cx="59.7" cy="446.9" r="1.8" fill="#b9b9bb"/>
<circle cx="63" cy="446.6" r="1.8" fill="#b9b9bb"/>
<circle cx="66.1" cy="447.1" r="1.8" fill="#b9b9bb"/>
<circle cx="69.4" cy="446.9" r="1.8" fill="#b9b9bb"/>
<circle cx="73.1" cy="446.8" r="1.8" fill="#b9b9bb"/>
<circle cx="76" cy="447.2" r="1.8" fill="#b9b9bb"/>
<circle cx="79.5" cy="446.7" r="1.8" fill="#b9b9bb"/>
<circle cx="83.1" cy="446.9" r="1.8" fill="#b9b9bb"/>
<circle cx="86.1" cy="447.1" r="1.8" fill="#b9b9bb"/>
<circle cx="89.6" cy="446.6" r="1.8" fill="#b9b9bb"/>
<circle cx="93" cy="447.1" r="1.8" fill="#b9b9bb"/>
<circle cx="96" cy="446.8" r="1.8" fill="#b9b9bb"/>
<circle cx="99.3" cy="446.9" r="1.8" fill="#b9b9bb"/>
<circle cx="103" cy="447.2" r="1.8" fill="#b9b9bb"/>
<circle cx="106.1" cy="447.1" r="1.8" fill="#b9b9bb"/>
<circle cx="112.5" cy="446.6" r="1.8" fill="#b9b9bb"/>
<circle cx="115.9" cy="446.7" r="1.8" fill="#b9b9bb"/>
<circle cx="119.4" cy="446.8" r="1.8" fill="#b9b9bb"/>
<circle cx="122.8" cy="446.8" r="1.8" fill="#b9b9bb"/>
<circle cx="126.1" cy="446.8" r="1.8" fill="#b9b9bb"/>
<circle cx="129.3" cy="446.9" r="1.8" fill="#b9b9bb"/>
<circle cx="132.3" cy="447" r="1.8" fill="#b9b9bb"/>
<circle cx="135.8" cy="446.7" r="1.8" fill="#b9b9bb"/>
<circle cx="138.9" cy="447.1" r="1.8" fill="#b9b9bb"/>
<circle cx="142.1" cy="446.6" r="1.8" fill="#b9b9bb"/>
<circle cx="145.8" cy="446.7" r="1.8" fill="#b9b9bb"/>
<circle cx="152.2" cy="446.8" r="1.8" fill="#b9b9bb"/>
<circle cx="155.6" cy="447" r="1.8" fill="#b9b9bb"/>
<circle cx="158.8" cy="447.1" r="1.8" fill="#b9b9bb"/>
<circle cx="162" cy="446.7" r="1.8" fill="#b9b9bb"/>
<circle cx="165.3" cy="446.7" r="1.8" fill="#b9b9bb"/>
<circle cx="168.7" cy="446.8" r="1.8" fill="#b9b9bb"/>
<circle cx="171.9" cy="447.1" r="1.8" fill="#b9b9bb"/>
<circle cx="175.3" cy="446.6" r="1.8" fill="#b9b9bb"/>
<circle cx="178.5" cy="446.8" r="1.8" fill="#b9b9bb"/>
<circle cx="181.8" cy="447" r="1.8" fill="#b9b9bb"/>
<circle cx="185.1" cy="446.6" r="1.8" fill="#b9b9bb"/>
<circle cx="188.3" cy="447" r="1.8" fill="#b9b9bb"/>
<circle cx="191.6" cy="447" r="1.8" fill="#b9b9bb"/>
<circle cx="198.4" cy="446.9" r="1.8" fill="#b9b9bb"/>
<circle cx="202" cy="446.9" r="1.8" fill="#b9b9bb"/>
<circle cx="205.1" cy="446.9" r="1.8" fill="#b9b9bb"/>
<circle cx="208.4" cy="447.1" r="1.8" fill="#b9b9bb"/>
<circle cx="211.5" cy="446.6" r="1.8" fill="#b9b9bb"/>
<circle cx="221.8" cy="446.9" r="1.8" fill="#b9b9bb"/>
<circle cx="45" cy="449.6" r="1.8" fill="#b9b9bb"/>
<circle cx="48.4" cy="450" r="1.8" fill="#b9b9bb"/>
<circle cx="51.6" cy="449.5" r="1.8" fill="#b9b9bb"/>
<circle cx="55" cy="450" r="1.8" fill="#b9b9bb"/>
<circle cx="58" cy="449.6" r="1.8" fill="#b9b9bb"/>
<circle cx="61.7" cy="449.6" r="1.8" fill="#b9b9bb"/>
<circle cx="64.6" cy="449.6" r="1.8" fill="#b9b9bb"/>
<circle cx="67.8" cy="449.6" r="1.8" fill="#b9b9bb"/>
<circle cx="71.5" cy="449.9" r="1.8" fill="#b9b9bb"/>
<circle cx="74.7" cy="449.7" r="1.8" fill="#b9b9bb"/>
<circle cx="77.8" cy="449.4" r="1.8" fill="#b9b9bb"/>
<circle cx="81.2" cy="449.7" r="1.8" fill="#b9b9bb"/>
<circle cx="87.6" cy="449.9" r="1.8" fill="#b9b9bb"/>
<circle cx="91.2" cy="449.8" r="1.8" fill="#b9b9bb"/>
<circle cx="94.7" cy="449.9" r="1.8" fill="#b9b9bb"/>
<circle cx="97.8" cy="449.5" r="1.8" fill="#b9b9bb"/>
<circle cx="101.1" cy="449.9" r="1.8" fill="#b9b9bb"/>
<circle cx="104.6" cy="450" r="1.8" fill="#b9b9bb"/>
<circle cx="107.9" cy="450" r="1.8" fill="#b9b9bb"/>
<circle cx="110.8" cy="449.7" r="1.8" fill="#b9b9bb"/>
<circle cx="114.4" cy="449.5" r="1.8" fill="#b9b9bb"/>
<circle cx="117.7" cy="449.5" r="1.8" fill="#b9b9bb"/>
<circle cx="120.7" cy="449.5" r="1.8" fill="#b9b9bb"/>
<circle cx="124.3" cy="450" r="1.8" fill="#b9b9bb"/>
<circle cx="127.3" cy="449.6" r="1.8" fill="#b9b9bb"/>
<circle cx="130.9" cy="450" r="1.8" fill="#b9b9bb"/>
<circle cx="134.3" cy="449.9" r="1.8" fill="#b9b9bb"/>
<circle cx="137.5" cy="449.7" r="1.8" fill="#b9b9bb"/>
<circle cx="140.4" cy="449.6" r="1.8" fill="#b9b9bb"/>
<circle cx="144.1" cy="449.4" r="1.8" fill="#b9b9bb"/>
<circle cx="147.5" cy="449.8" r="1.8" fill="#b9b9bb"/>
<circle cx="150.4" cy="449.7" r="1.8" fill="#b9b9bb"/>
<circle cx="153.8" cy="449.5" r="1.8" fill="#b9b9bb"/>
<circle cx="157.2" cy="449.9" r="1.8" fill="#b9b9bb"/>
<circle cx="160.6" cy="449.7" r="1.8" fill="#b9b9bb"/>
<circle cx="163.9" cy="450" r="1.8" fill="#b9b9bb"/>
<circle cx="167.3" cy="449.9" r="1.8" fill="#b9b9bb"/>
<circle cx="170.5" cy="449.5" r="1.8" fill="#b9b9bb"/>
<circle cx="173.6" cy="450" r="1.8" fill="#b9b9bb"/>
<circle cx="177.1" cy="449.7" r="1.8" fill="#b9b9bb"/>
<circle cx="180.4" cy="449.8" r="1.8" fill="#b9b9bb"/>
<circle cx="183.8" cy="449.5" r="1.8" fill="#b9b9bb"/>
<circle cx="186.9" cy="449.8" r="1.8" fill="#b9b9bb"/>
<circle cx="190" cy="449.6" r="1.8" fill="#b9b9bb"/>
<circle cx="193.7" cy="450" r="1.8" fill="#b9b9bb"/>
<circle cx="196.8" cy="449.5" r="1.8" fill="#b9b9bb"/>
<circle cx="199.8" cy="449.8" r="1.8" fill="#b9b9bb"/>
<circle cx="203.1" cy="449.7" r="1.8" fill="#b9b9bb"/>
<circle cx="206.4" cy="450" r="1.8" fill="#b9b9bb"/>
<circle cx="210" cy="450" r="1.8" fill="#b9b9bb"/>
<circle cx="213.1" cy="449.9" r="1.8" fill="#b9b9bb"/>
<circle cx="216.6" cy="449.9" r="1.8" fill="#b9b9bb"/>
<circle cx="46.7" cy="452.3" r="1.8" fill="#b9b9bb"/>
<circle cx="50.2" cy="452.7" r="1.8" fill="#b9b9bb"/>
<circle cx="53.4" cy="452.7" r="1.8" fill="#b9b9bb"/>
<circle cx="56.7" cy="452.4" r="1.8" fill="#b9b9bb"/>
<circle cx="59.8" cy="452.3" r="1.8" fill="#b9b9bb"/>
<circle cx="63.2" cy="452.5" r="1.8" fill="#b9b9bb"/>
<circle cx="66.3" cy="452.8" r="1.8" fill="#b9b9bb"/>
<circle cx="69.9" cy="452.8" r="1.8" fill="#b9b9bb"/>
<circle cx="73" cy="452.6" r="1.8" fill="#b9b9bb"/>
<circle cx="76.4" cy="452.7" r="1.8" fill="#b9b9bb"/>
<circle cx="79.7" cy="452.4" r="1.8" fill="#b9b9bb"/>
<circle cx="82.6" cy="452.9" r="1.8" fill="#b9b9bb"/>
<circle cx="86" cy="452.3" r="1.8" fill="#b9b9bb"/>
<circle cx="89.2" cy="452.9" r="1.8" fill="#b9b9bb"/>
<circle cx="92.8" cy="452.9" r="1.8" fill="#b9b9bb"/>
<circle cx="96.2" cy="452.5" r="1.8" fill="#b9b9bb"/>
<circle cx="99.4" cy="452.8" r="1.8" fill="#b9b9bb"/>
<circle cx="103" cy="452.5" r="1.8" fill="#b9b9bb"/>
<circle cx="109" cy="452.9" r="1.8" fill="#b9b9bb"/>
<circle cx="112.5" cy="452.5" r="1.8" fill="#b9b9bb"/>
<circle cx="115.9" cy="452.5" r="1.8" fill="#b9b9bb"/>
<circle cx="119.1" cy="452.5" r="1.8" fill="#b9b9bb"/>
<circle cx="122.7" cy="452.4" r="1.8" fill="#b9b9bb"/>
<circle cx="125.6" cy="452.8" r="1.8" fill="#b9b9bb"/>
<circle cx="129.1" cy="452.7" r="1.8" fill="#b9b9bb"/>
<circle cx="132.2" cy="452.5" r="1.8" fill="#b9b9bb"/>
<circle cx="135.6" cy="452.8" r="1.8" fill="#b9b9bb"/>
<circle cx="139.3" cy="452.7" r="1.8" fill="#b9b9bb"/>
<circle cx="142.4" cy="452.6" r="1.8" fill="#b9b9bb"/>
<circle cx="149.2" cy="452.6" r="1.8" fill="#b9b9bb"/>
<circle cx="152.4" cy="452.3" r="1.8" fill="#b9b9bb"/>
<circle cx="155.3" cy="452.5" r="1.8" fill="#b9b9bb"/>
<circle cx="158.6" cy="452.4" r="1.8" fill="#b9b9bb"/>
<circle cx="162.2" cy="452.5" r="1.8" fill="#b9b9bb"/>
<circle cx="165.3" cy="452.7" r="1.8" fill="#b9b9bb"/>
<circle cx="168.6" cy="452.6" r="1.8" fill="#b9b9bb"/>
<circle cx="172.2" cy="452.5" r="1.8" fill="#b9b9bb"/>
<circle cx="175.1" cy="452.6" r="1.8" fill="#b9b9bb"/>
<circle cx="178.6" cy="452.5" r="1.8" fill="#b9b9bb"/>
<circle cx="181.7" cy="452.4" r="1.8" fill="#b9b9bb"/>
<circle cx="185.4" cy="452.3" r="1.8" fill="#b9b9bb"/>
<circle cx="188.4" cy="452.3" r="1.8" fill="#b9b9bb"/>
<circle cx="191.5" cy="452.8" r="1.8" fill="#b9b9bb"/>
<circle cx="194.9" cy="452.4" r="1.8" fill="#b9b9bb"/>
<circle cx="198.4" cy="452.6" r="1.8" fill="#b9b9bb"/>
<circle cx="201.9" cy="452.3" r="1.8" fill="#b9b9bb"/>
<circle cx="205" cy="452.5" r="1.8" fill="#b9b9bb"/>
<circle cx="208.2" cy="452.4" r="1.8" fill="#b9b9bb"/>
<circle cx="214.8" cy="452.5" r="1.8" fill="#b9b9bb"/>
<circle cx="51.4" cy="455.2" r="1.8" fill="#b9b9bb"/>
<circle cx="55" cy="455.5" r="1.8" fill="#b9b9bb"/>
<circle cx="58.1" cy="455.7" r="1.8" fill="#b9b9bb"/>
<circle cx="61.6" cy="455.5" r="1.8" fill="#b9b9bb"/>
<circle cx="68.1" cy="455.4" r="1.8" fill="#b9b9bb"/>
<circle cx="71.4" cy="455.3" r="1.8" fill="#b9b9bb"/>
<circle cx="74.8" cy="455.4" r="1.8" fill="#b9b9bb"/>
<circle cx="77.8" cy="455.6" r="1.8" fill="#b9b9bb"/>
<circle cx="81.1" cy="455.6" r="1.8" fill="#b9b9bb"/>
<circle cx="84.5" cy="455.2" r="1.8" fill="#b9b9bb"/>
<circle cx="87.7" cy="455.3" r="1.8" fill="#b9b9bb"/>
<circle cx="97.6" cy="455.5" r="1.8" fill="#b9b9bb"/>
<circle cx="101.1" cy="455.6" r="1.8" fill="#b9b9bb"/>
<circle cx="104.1" cy="455.2" r="1.8" fill="#b9b9bb"/>
<circle cx="107.7" cy="455.2" r="1.8" fill="#b9b9bb"/>
<circle cx="110.9" cy="455.7" r="1.8" fill="#b9b9bb"/>
<circle cx="114" cy="455.4" r="1.8" fill="#b9b9bb"/>
<circle cx="117.8" cy="455.2" r="1.8" fill="#b9b9bb"/>
<circle cx="120.9" cy="455.4" r="1.8" fill="#b9b9bb"/>
<circle cx="124.3" cy="455.5" r="1.8" fill="#b9b9bb"/>
<circle cx="127.5" cy="455.6" r="1.8" fill="#b9b9bb"/>
<circle cx="131" cy="455.2" r="1.8" fill="#b9b9bb"/>
<circle cx="134" cy="455.7" r="1.8" fill="#b9b9bb"/>
<circle cx="137.6" cy="455.3" r="1.8" fill="#b9b9bb"/>
<circle cx="140.5" cy="455.4" r="1.8" fill="#b9b9bb"/>
<circle cx="144.2" cy="455.5" r="1.8" fill="#b9b9bb"/>
<circle cx="147.2" cy="455.7" r="1.8" fill="#b9b9bb"/>
<circle cx="150.7" cy="455.4" r="1.8" fill="#b9b9bb"/>
<circle cx="154" cy="455.2" r="1.8" fill="#b9b9bb"/>
<circle cx="157.3" cy="455.2" r="1.8" fill="#b9b9bb"/>
<circle cx="160.5" cy="455.4" r="1.8" fill="#b9b9bb"/>
<circle cx="166.9" cy="455.7" r="1.8" fill="#b9b9bb"/>
<circle cx="170.3" cy="455.5" r="1.8" fill="#b9b9bb"/>
<circle cx="173.9" cy="455.4" r="1.8" fill="#b9b9bb"/>
<circle cx="177.2" cy="455.5" r="1.8" fill="#b9b9bb"/>
<circle cx="180.3" cy="455.2" r="1.8" fill="#b9b9bb"/>
<circle cx="183.5" cy="455.3" r="1.8" fill="#b9b9bb"/>
<circle cx="186.7" cy="455.6" r="1.8" fill="#b9b9bb"/>
<circle cx="190.3" cy="455.5" r="1.8" fill="#b9b9bb"/>
<circle cx="193.6" cy="455.6" r="1.8" fill="#b9b9bb"/>
<circle cx="196.6" cy="455.6" r="1.8" fill="#b9b9bb"/>
<circle cx="200.2" cy="455.5" r="1.8" fill="#b9b9bb"/>
<circle cx="203.4" cy="455.3" r="1.8" fill="#b9b9bb"/>
<circle cx="210" cy="455.7" r="1.8" fill="#b9b9bb"/>
<circle cx="213" cy="455.5" r="1.8" fill="#b9b9bb"/>
<circle cx="216.4" cy="455.5" r="1.8" fill="#b9b9bb"/>
<circle cx="53.3" cy="458.3" r="1.8" fill="#b9b9bb"/>
<circle cx="56.8" cy="458.4" r="1.8" fill="#b9b9bb"/>
<circle cx="60" cy="458.2" r="1.8" fill="#b9b9bb"/>
<circle cx="63.1" cy="458.3" r="1.8" fill="#b9b9bb"/>
<circle cx="66.3" cy="458.5" r="1.8" fill="#b9b9bb"/>
<circle cx="69.5" cy="458.1" r="1.8" fill="#b9b9bb"/>
<circle cx="72.8" cy="458.2" r="1.8" fill="#b9b9bb"/>
<circle cx="76.2" cy="458.4" r="1.8" fill="#b9b9bb"/>
<circle cx="79.6" cy="458.5" r="1.8" fill="#b9b9bb"/>
<circle cx="83" cy="458.2" r="1.8" fill="#b9b9bb"/>
<circle cx="86.2" cy="458.1" r="1.8" fill="#b9b9bb"/>
<circle cx="89.6" cy="458.5" r="1.8" fill="#b9b9bb"/>
<circle cx="92.6" cy="458.2" r="1.8" fill="#b9b9bb"/>
<circle cx="102.9" cy="458.4" r="1.8" fill="#b9b9bb"/>
<circle cx="109.1" cy="458.2" r="1.8" fill="#b9b9bb"/>
<circle cx="112.6" cy="458.3" r="1.8" fill="#b9b9bb"/>
<circle cx="115.7" cy="458.2" r="1.8" fill="#b9b9bb"/>
<circle cx="119.4" cy="458.1" r="1.8" fill="#b9b9bb"/>
<circle cx="126" cy="458.3" r="1.8" fill="#b9b9bb"/>
<circle cx="132.1" cy="458.3" r="1.8" fill="#b9b9bb"/>
<circle cx="135.9" cy="458.5" r="1.8" fill="#b9b9bb"/>
<circle cx="139.1" cy="458.2" r="1.8" fill="#b9b9bb"/>
<circle cx="142.6" cy="458.6" r="1.8" fill="#b9b9bb"/>
<circle cx="145.7" cy="458.1" r="1.8" fill="#b9b9bb"/>
<circle cx="149.1" cy="458.5" r="1.8" fill="#b9b9bb"/>
<circle cx="152.4" cy="458.2" r="1.8" fill="#b9b9bb"/>
<circle cx="158.5" cy="458.5" r="1.8" fill="#b9b9bb"/>
<circle cx="162.1" cy="458.5" r="1.8" fill="#b9b9bb"/>
<circle cx="165.5" cy="458.2" r="1.8" fill="#b9b9bb"/>
<circle cx="168.4" cy="458.5" r="1.8" fill="#b9b9bb"/>
<circle cx="171.7" cy="458" r="1.8" fill="#b9b9bb"/>
<circle cx="175.5" cy="458.3" r="1.8" fill="#b9b9bb"/>
<circle cx="178.7" cy="458.1" r="1.8" fill="#b9b9bb"/>
<circle cx="181.6" cy="458.5" r="1.8" fill="#b9b9bb"/>
<circle cx="185.1" cy="458.2" r="1.8" fill="#b9b9bb"/>
<circle cx="188.6" cy="458.2" r="1.8" fill="#b9b9bb"/>
<circle cx="192.1" cy="458.6" r="1.8" fill="#b9b9bb"/>
<circle cx="194.9" cy="458.2" r="1.8" fill="#b9b9bb"/>
<circle cx="198.4" cy="458.6" r="1.8" fill="#b9b9bb"/>
<circle cx="201.7" cy="458.6" r="1.8" fill="#b9b9bb"/>
<circle cx="205.2" cy="458.5" r="1.8" fill="#b9b9bb"/>
<circle cx="208.5" cy="458" r="1.8" fill="#b9b9bb"/>
<circle cx="211.6" cy="458" r="1.8" fill="#b9b9bb"/>
<circle cx="214.9" cy="458.4" r="1.8" fill="#b9b9bb"/>
<circle cx="44.9" cy="461.4" r="1.8" fill="#b9b9bb"/>
<circle cx="64.5" cy="461.1" r="1.8" fill="#b9b9bb"/>
<circle cx="68.3" cy="460.9" r="1.8" fill="#b9b9bb"/>
<circle cx="71.5" cy="461.2" r="1.8" fill="#b9b9bb"/>
<circle cx="74.9" cy="461.4" r="1.8" fill="#b9b9bb"/>
<circle cx="77.9" cy="461" r="1.8" fill="#b9b9bb"/>
<circle cx="81.4" cy="461" r="1.8" fill="#b9b9bb"/>
<circle cx="84.8" cy="461" r="1.8" fill="#b9b9bb"/>
<circle cx="87.9" cy="461" r="1.8" fill="#b9b9bb"/>
<circle cx="91" cy="460.9" r="1.8" fill="#b9b9bb"/>
<circle cx="94.3" cy="461.3" r="1.8" fill="#b9b9bb"/>
<circle cx="98" cy="461.1" r="1.8" fill="#b9b9bb"/>
<circle cx="100.8" cy="461.3" r="1.8" fill="#b9b9bb"/>
<circle cx="104.5" cy="461.1" r="1.8" fill="#b9b9bb"/>
<circle cx="107.7" cy="461.2" r="1.8" fill="#b9b9bb"/>
<circle cx="111.2" cy="460.9" r="1.8" fill="#b9b9bb"/>
<circle cx="114.1" cy="461.2" r="1.8" fill="#b9b9bb"/>
<circle cx="117.4" cy="460.9" r="1.8" fill="#b9b9bb"/>
<circle cx="120.7" cy="461" r="1.8" fill="#b9b9bb"/>
<circle cx="123.9" cy="461.3" r="1.8" fill="#b9b9bb"/>
<circle cx="127.4" cy="461.3" r="1.8" fill="#b9b9bb"/>
<circle cx="130.6" cy="461.1" r="1.8" fill="#b9b9bb"/>
<circle cx="133.9" cy="461.4" r="1.8" fill="#b9b9bb"/>
<circle cx="137.3" cy="461" r="1.8" fill="#b9b9bb"/>
<circle cx="140.6" cy="461" r="1.8" fill="#b9b9bb"/>
<circle cx="143.9" cy="461.4" r="1.8" fill="#b9b9bb"/>
<circle cx="147.2" cy="461" r="1.8" fill="#b9b9bb"/>
<circle cx="150.5" cy="460.9" r="1.8" fill="#b9b9bb"/>
<circle cx="154.1" cy="461" r="1.8" fill="#b9b9bb"/>
<circle cx="157.1" cy="461.1" r="1.8" fill="#b9b9bb"/>
<circle cx="160.4" cy="461.2" r="1.8" fill="#b9b9bb"/>
<circle cx="163.7" cy="461.1" r="1.8" fill="#b9b9bb"/>
<circle cx="167.2" cy="460.9" r="1.8" fill="#b9b9bb"/>
<circle cx="170.1" cy="461.1" r="1.8" fill="#b9b9bb"/>
<circle cx="173.7" cy="460.9" r="1.8" fill="#b9b9bb"/>
<circle cx="176.7" cy="461" r="1.8" fill="#b9b9bb"/>
<circle cx="180.3" cy="461" r="1.8" fill="#b9b9bb"/>
<circle cx="183.6" cy="461.2" r="1.8" fill="#b9b9bb"/>
<circle cx="187" cy="461.3" r="1.8" fill="#b9b9bb"/>
<circle cx="190" cy="461" r="1.8" fill="#b9b9bb"/>
<circle cx="193.4" cy="461.3" r="1.8" fill="#b9b9bb"/>
<circle cx="197" cy="461.4" r="1.8" fill="#b9b9bb"/>
<circle cx="200.3" cy="461.1" r="1.8" fill="#b9b9bb"/>
<circle cx="203.3" cy="461" r="1.8" fill="#b9b9bb"/>
<circle cx="206.6" cy="461.4" r="1.8" fill="#b9b9bb"/>
<circle cx="210.1" cy="461.3" r="1.8" fill="#b9b9bb"/>
<circle cx="63.2" cy="464.3" r="1.8" fill="#b9b9bb"/>
<circle cx="76.6" cy="464.2" r="1.8" fill="#b9b9bb"/>
<circle cx="79.3" cy="464.2" r="1.8" fill="#b9b9bb"/>
<circle cx="82.7" cy="464" r="1.8" fill="#b9b9bb"/>
<circle cx="86.5" cy="463.9" r="1.8" fill="#b9b9bb"/>
<circle cx="89.6" cy="463.9" r="1.8" fill="#b9b9bb"/>
<circle cx="93" cy="464.1" r="1.8" fill="#b9b9bb"/>
<circle cx="96.3" cy="463.8" r="1.8" fill="#b9b9bb"/>
<circle cx="99.3" cy="464.1" r="1.8" fill="#b9b9bb"/>
<circle cx="103" cy="464.1" r="1.8" fill="#b9b9bb"/>
<circle cx="105.8" cy="463.9" r="1.8" fill="#b9b9bb"/>
<circle cx="109.6" cy="464" r="1.8" fill="#b9b9bb"/>
<circle cx="115.6" cy="463.8" r="1.8" fill="#b9b9bb"/>
<circle cx="119.2" cy="464.2" r="1.8" fill="#b9b9bb"/>
<circle cx="126.1" cy="464.3" r="1.8" fill="#b9b9bb"/>
<circle cx="129.2" cy="463.9" r="1.8" fill="#b9b9bb"/>
<circle cx="132.2" cy="463.9" r="1.8" fill="#b9b9bb"/>
<circle cx="135.4" cy="464" r="1.8" fill="#b9b9bb"/>
<circle cx="138.8" cy="464.1" r="1.8" fill="#b9b9bb"/>
<circle cx="142.2" cy="464.1" r="1.8" fill="#b9b9bb"/>
<circle cx="145.9" cy="464.1" r="1.8" fill="#b9b9bb"/>
<circle cx="149" cy="463.7" r="1.8" fill="#b9b9bb"/>
<circle cx="152.4" cy="463.8" r="1.8" fill="#b9b9bb"/>
<circle cx="155.2" cy="464.2" r="1.8" fill="#b9b9bb"/>
<circle cx="162.2" cy="464.2" r="1.8" fill="#b9b9bb"/>
<circle cx="165.3" cy="463.9" r="1.8" fill="#b9b9bb"/>
<circle cx="168.8" cy="463.9" r="1.8" fill="#b9b9bb"/>
<circle cx="172" cy="464.1" r="1.8" fill="#b9b9bb"/>
<circle cx="175.4" cy="463.7" r="1.8" fill="#b9b9bb"/>
<circle cx="185" cy="464.2" r="1.8" fill="#b9b9bb"/>
<circle cx="188.4" cy="464.1" r="1.8" fill="#b9b9bb"/>
<circle cx="191.8" cy="464.1" r="1.8" fill="#b9b9bb"/>
<circle cx="195.2" cy="464.2" r="1.8" fill="#b9b9bb"/>
<circle cx="48.2" cy="466.9" r="1.8" fill="#b9b9bb"/>
<circle cx="77.7" cy="466.7" r="1.8" fill="#b9b9bb"/>
<circle cx="81.3" cy="467.1" r="1.8" fill="#b9b9bb"/>
<circle cx="84.7" cy="467" r="1.8" fill="#b9b9bb"/>
<circle cx="88.1" cy="466.8" r="1.8" fill="#b9b9bb"/>
<circle cx="91" cy="466.8" r="1.8" fill="#b9b9bb"/>
<circle cx="94.3" cy="467.1" r="1.8" fill="#b9b9bb"/>
<circle cx="97.6" cy="466.8" r="1.8" fill="#b9b9bb"/>
<circle cx="101.3" cy="466.6" r="1.8" fill="#b9b9bb"/>
<circle cx="104.3" cy="466.8" r="1.8" fill="#b9b9bb"/>
<circle cx="107.9" cy="467.1" r="1.8" fill="#b9b9bb"/>
<circle cx="110.9" cy="466.9" r="1.8" fill="#b9b9bb"/>
<circle cx="114" cy="466.7" r="1.8" fill="#b9b9bb"/>
<circle cx="117.6" cy="466.9" r="1.8" fill="#b9b9bb"/>
<circle cx="120.7" cy="466.7" r="1.8" fill="#b9b9bb"/>
<circle cx="124.3" cy="466.9" r="1.8" fill="#b9b9bb"/>
<circle cx="127.6" cy="466.9" r="1.8" fill="#b9b9bb"/>
<circle cx="130.7" cy="466.8" r="1.8" fill="#b9b9bb"/>
<circle cx="134.1" cy="466.6" r="1.8" fill="#b9b9bb"/>
<circle cx="137.5" cy="466.8" r="1.8" fill="#b9b9bb"/>
<circle cx="140.5" cy="466.9" r="1.8" fill="#b9b9bb"/>
<circle cx="144.1" cy="466.6" r="1.8" fill="#b9b9bb"/>
<circle cx="147.1" cy="466.6" r="1.8" fill="#b9b9bb"/>
<circle cx="150.8" cy="466.6" r="1.8" fill="#b9b9bb"/>
<circle cx="153.6" cy="467" r="1.8" fill="#b9b9bb"/>
<circle cx="157.3" cy="466.7" r="1.8" fill="#b9b9bb"/>
<circle cx="160.3" cy="467" r="1.8" fill="#b9b9bb"/>
<circle cx="167.1" cy="467.1" r="1.8" fill="#b9b9bb"/>
<circle cx="170.5" cy="467.1" r="1.8" fill="#b9b9bb"/>
<circle cx="177.2" cy="466.6" r="1.8" fill="#b9b9bb"/>
<circle cx="180.3" cy="467.1" r="1.8" fill="#b9b9bb"/>
<circle cx="186.9" cy="467" r="1.8" fill="#b9b9bb"/>
<circle cx="193.7" cy="466.8" r="1.8" fill="#b9b9bb"/>
<circle cx="206.8" cy="467" r="1.8" fill="#b9b9bb"/>
<circle cx="216.6" cy="467.1" r="1.8" fill="#b9b9bb"/>
<circle cx="79.3" cy="469.5" r="1.8" fill="#b9b9bb"/>
<circle cx="86.5" cy="469.6" r="1.8" fill="#b9b9bb"/>
<circle cx="89.3" cy="469.7" r="1.8" fill="#b9b9bb"/>
<circle cx="96.3" cy="469.6" r="1.8" fill="#b9b9bb"/>
<circle cx="99.4" cy="469.8" r="1.8" fill="#b9b9bb"/>
<circle cx="102.4" cy="469.6" r="1.8" fill="#b9b9bb"/>
<circle cx="106.1" cy="469.6" r="1.8" fill="#b9b9bb"/>
<circle cx="109.1" cy="469.9" r="1.8" fill="#b9b9bb"/>
<circle cx="112.5" cy="469.7" r="1.8" fill="#b9b9bb"/>
<circle cx="119.1" cy="469.6" r="1.8" fill="#b9b9bb"/>
<circle cx="122.8" cy="469.6" r="1.8" fill="#b9b9bb"/>
<circle cx="126.1" cy="470" r="1.8" fill="#b9b9bb"/>
<circle cx="129" cy="469.8" r="1.8" fill="#b9b9bb"/>
<circle cx="132.2" cy="469.6" r="1.8" fill="#b9b9bb"/>
<circle cx="136" cy="469.5" r="1.8" fill="#b9b9bb"/>
<circle cx="142.2" cy="469.5" r="1.8" fill="#b9b9bb"/>
<circle cx="145.4" cy="469.6" r="1.8" fill="#b9b9bb"/>
<circle cx="148.6" cy="469.6" r="1.8" fill="#b9b9bb"/>
<circle cx="152.1" cy="470" r="1.8" fill="#b9b9bb"/>
<circle cx="155.4" cy="469.5" r="1.8" fill="#b9b9bb"/>
<circle cx="158.7" cy="469.7" r="1.8" fill="#b9b9bb"/>
<circle cx="162.2" cy="470" r="1.8" fill="#b9b9bb"/>
<circle cx="165.7" cy="469.4" r="1.8" fill="#b9b9bb"/>
<circle cx="168.6" cy="469.5" r="1.8" fill="#b9b9bb"/>
<circle cx="172.1" cy="469.9" r="1.8" fill="#b9b9bb"/>
<circle cx="178.9" cy="469.8" r="1.8" fill="#b9b9bb"/>
<circle cx="55.1" cy="472.5" r="1.8" fill="#b9b9bb"/>
<circle cx="91.2" cy="472.6" r="1.8" fill="#b9b9bb"/>
<circle cx="94.7" cy="472.8" r="1.8" fill="#b9b9bb"/>
<circle cx="97.6" cy="472.7" r="1.8" fill="#b9b9bb"/>
<circle cx="100.9" cy="472.6" r="1.8" fill="#b9b9bb"/>
<circle cx="104.2" cy="472.9" r="1.8" fill="#b9b9bb"/>
<circle cx="107.6" cy="472.6" r="1.8" fill="#b9b9bb"/>
<circle cx="111" cy="472.8" r="1.8" fill="#b9b9bb"/>
<circle cx="114.5" cy="472.4" r="1.8" fill="#b9b9bb"/>
<circle cx="117.8" cy="472.6" r="1.8" fill="#b9b9bb"/>
<circle cx="120.7" cy="472.4" r="1.8" fill="#b9b9bb"/>
<circle cx="124.2" cy="472.5" r="1.8" fill="#b9b9bb"/>
<circle cx="127.5" cy="472.6" r="1.8" fill="#b9b9bb"/>
<circle cx="130.5" cy="472.5" r="1.8" fill="#b9b9bb"/>
<circle cx="137.6" cy="472.7" r="1.8" fill="#b9b9bb"/>
<circle cx="140.7" cy="472.4" r="1.8" fill="#b9b9bb"/>
<circle cx="144.1" cy="472.8" r="1.8" fill="#b9b9bb"/>
<circle cx="147.1" cy="472.8" r="1.8" fill="#b9b9bb"/>
<circle cx="150.6" cy="472.9" r="1.8" fill="#b9b9bb"/>
<circle cx="153.7" cy="472.4" r="1.8" fill="#b9b9bb"/>
<circle cx="156.9" cy="472.6" r="1.8" fill="#b9b9bb"/>
<circle cx="170.4" cy="472.4" r="1.8" fill="#b9b9bb"/>
<circle cx="103" cy="475.2" r="1.8" fill="#b9b9bb"/>
<circle cx="105.8" cy="475.6" r="1.8" fill="#b9b9bb"/>
<circle cx="109.3" cy="475.6" r="1.8" fill="#b9b9bb"/>
<circle cx="112.7" cy="475.5" r="1.8" fill="#b9b9bb"/>
<circle cx="116" cy="475.4" r="1.8" fill="#b9b9bb"/>
<circle cx="119" cy="475.7" r="1.8" fill="#b9b9bb"/>
<circle cx="122.3" cy="475.6" r="1.8" fill="#b9b9bb"/>
<circle cx="126" cy="475.4" r="1.8" fill="#b9b9bb"/>
<circle cx="128.9" cy="475.2" r="1.8" fill="#b9b9bb"/>
<circle cx="132.3" cy="475.7" r="1.8" fill="#b9b9bb"/>
<circle cx="135.8" cy="475.7" r="1.8" fill="#b9b9bb"/>
<circle cx="138.9" cy="475.2" r="1.8" fill="#b9b9bb"/>
<circle cx="142.3" cy="475.6" r="1.8" fill="#b9b9bb"/>
<circle cx="145.8" cy="475.2" r="1.8" fill="#b9b9bb"/>
<circle cx="152.4" cy="475.2" r="1.8" fill="#b9b9bb"/>
<circle cx="94.5" cy="478.4" r="1.8" fill="#b9b9bb"/>
<circle cx="97.9" cy="478.1" r="1.8" fill="#b9b9bb"/>
<circle cx="104.5" cy="478.4" r="1.8" fill="#b9b9bb"/>
<circle cx="117.4" cy="478.3" r="1.8" fill="#b9b9bb"/>
<circle cx="121.1" cy="478.2" r="1.8" fill="#b9b9bb"/>
<circle cx="124.3" cy="478" r="1.8" fill="#b9b9bb"/>
<circle cx="127.4" cy="478.1" r="1.8" fill="#b9b9bb"/>
<circle cx="131" cy="478.2" r="1.8" fill="#b9b9bb"/>
<circle cx="134.3" cy="478.5" r="1.8" fill="#b9b9bb"/>
<circle cx="143.7" cy="478.2" r="1.8" fill="#b9b9bb"/>
<circle cx="150.5" cy="478.5" r="1.8" fill="#b9b9bb"/>
<circle cx="106.1" cy="481.3" r="1.8" fill="#b9b9bb"/>
<circle cx="142.4" cy="480.9" r="1.8" fill="#b9b9bb"/>
<path d="M48 449 C47.8 445.8 53 440.7 56 438 C59 435.3 61.3 434.2 66 433 C70.7 431.8 78.7 431.5 84 431 C89.3 430.5 92.8 429.5 98 430 C103.2 430.5 109.7 432.7 115 434 C120.3 435.3 124.2 437 130 438 C135.8 439 142.5 439.3 150 440 C157.5 440.7 167 441.2 175 442 C183 442.8 191.8 443.5 198 445 C204.2 446.5 210.3 448.7 212 451 C213.7 453.3 211.3 456.8 208 459 C204.7 461.2 198.3 462.3 192 464 C185.7 465.7 177 467.3 170 469 C163 470.7 156.3 472.7 150 474 C143.7 475.3 138.2 476.7 132 477 C125.8 477.3 119.3 476.8 113 476 C106.7 475.2 100.2 473.8 94 472 C87.8 470.2 82.2 467.5 76 465 C69.8 462.5 61.7 459.7 57 457 C52.3 454.3 48.2 452.2 48 449Z" fill="#b2b7c8" fill-opacity="0.75" filter="url(#bl1)"/>
<g filter="url(#bl1)">
<ellipse cx="82" cy="441" rx="20" ry="6.5" fill="#a2aac8"/>
<ellipse cx="82" cy="441" rx="14" ry="4.2" fill="#8088b8"/>
<ellipse cx="148" cy="450" rx="28" ry="8" fill="#8e98c4"/>
<ellipse cx="150" cy="450" rx="21" ry="5.8" fill="#3a3c9c"/>
<ellipse cx="155" cy="449.5" rx="12" ry="3.8" fill="#26267e"/>
<ellipse cx="115" cy="458" rx="19" ry="7.5" fill="#5a62aa"/>
<ellipse cx="115" cy="458" rx="16" ry="5.8" fill="#2a2878"/>
<ellipse cx="115.5" cy="458" rx="13" ry="4.3" fill="#b8283a"/>
<ellipse cx="116.5" cy="458.3" rx="10.5" ry="3.3" fill="#f39a30"/>
<ellipse cx="117" cy="458.5" rx="7.5" ry="2.3" fill="#fff060"/>
</g>
<path d="M44 503 L45.9 503 L47.7 503 L49.6 503 L51.5 503 L53.3 503 L55.2 503 L57.1 503 L58.9 503 L60.8 503 L62.7 503 L64.5 503 L66.4 503 L68.3 503 L70.1 503 L72 503 L73.9 503 L75.7 503 L77.6 503 L79.5 503 L81.3 503 L83.2 503 L85.1 503 L86.9 503 L88.8 503 L90.7 503 L92.5 503 L94.4 503 L96.3 503 L98.1 503 L100 503 L101.9 503 L103.7 503 L105.6 503 L107.5 503 L109.3 503 L111.2 502.9 L113.1 502.9 L114.9 502.8 L116.8 502.7 L118.7 502.6 L120.5 502.3 L122.4 502 L124.3 501.5 L126.1 500.9 L128 500 L129.9 498.8 L131.7 497.4 L133.6 495.6 L135.5 493.4 L137.3 490.9 L139.2 488.1 L141.1 485.1 L142.9 482 L144.8 478.8 L146.7 475.9 L148.5 473.3 L150.4 471.1 L152.3 469.6 L154.1 468.8 L156 468.8 L157.9 469.6 L159.7 471 L161.6 473.2 L163.5 475.8 L165.3 478.7 L167.2 481.9 L169.1 485 L170.9 488 L172.8 490.8 L174.7 493.3 L176.5 495.5 L178.4 497.3 L180.3 498.8 L182.1 499.9 L184 500.8 L185.9 501.5 L187.7 502 L189.6 502.3 L191.5 502.6 L193.3 502.7 L195.2 502.8 L197.1 502.9 L198.9 502.9 L200.8 503 L202.7 503 L204.5 503 L206.4 503 L208.3 503 L210.1 503 L212 503" fill="none" stroke="#559c68" stroke-width="1.3"/>
<path d="M44 502 L45.9 501.7 L47.7 501.4 L49.6 501 L51.5 500.6 L53.3 500 L55.2 499.4 L57.1 498.6 L58.9 497.7 L60.8 496.7 L62.7 495.5 L64.5 494.1 L66.4 492.6 L68.3 490.9 L70.1 488.9 L72 486.8 L73.9 484.5 L75.7 481.9 L77.6 479.2 L79.5 476.3 L81.3 473.3 L83.2 470.1 L85.1 466.8 L86.9 463.4 L88.8 459.9 L90.7 456.5 L92.5 453.1 L94.4 449.8 L96.3 446.7 L98.1 443.8 L100 441.1 L101.9 438.7 L103.7 436.6 L105.6 434.9 L107.5 433.6 L109.3 432.8 L111.2 432.3 L113.1 432.4 L114.9 433 L116.8 434.2 L118.7 435.9 L120.5 438.2 L122.4 440.8 L124.3 443.9 L126.1 447.3 L128 450.9 L129.9 454.6 L131.7 458.5 L133.6 462.4 L135.5 466.3 L137.3 470.1 L139.2 473.7 L141.1 477.1 L142.9 480.4 L144.8 483.3 L146.7 486.1 L148.5 488.6 L150.4 490.8 L152.3 492.7 L154.1 494.4 L156 495.9 L157.9 497.2 L159.7 498.3 L161.6 499.2 L163.5 500 L165.3 500.6 L167.2 501.1 L169.1 501.5 L170.9 501.9 L172.8 502.1 L174.7 502.3 L176.5 502.5 L178.4 502.6 L180.3 502.7 L182.1 502.8 L184 502.9 L185.9 502.9 L187.7 502.9 L189.6 502.9 L191.5 503 L193.3 503 L195.2 503 L197.1 503 L198.9 503 L200.8 503 L202.7 503 L204.5 503 L206.4 503 L208.3 503 L210.1 503 L212 503" fill="none" stroke="#c42a3c" stroke-width="1.3"/>
<line x1="36.3" y1="368.8" x2="36.3" y2="505.3" stroke="#6e6e6e" stroke-width="0.9"/>
<line x1="36.3" y1="505.3" x2="230" y2="505.3" stroke="#6e6e6e" stroke-width="0.9"/>
<line x1="34" y1="393" x2="36.3" y2="393" stroke="#6e6e6e" stroke-width="0.9"/>
<text x="31" y="395.9" font-size="8.5" text-anchor="end" stroke="#2a2a2a" stroke-width="0.22">20</text>
<line x1="34" y1="423" x2="36.3" y2="423" stroke="#6e6e6e" stroke-width="0.9"/>
<text x="31" y="425.9" font-size="8.5" text-anchor="end" stroke="#2a2a2a" stroke-width="0.22">10</text>
<line x1="34" y1="453" x2="36.3" y2="453" stroke="#6e6e6e" stroke-width="0.9"/>
<text x="31" y="455.9" font-size="8.5" text-anchor="end" stroke="#2a2a2a" stroke-width="0.22">0</text>
<line x1="34" y1="483" x2="36.3" y2="483" stroke="#6e6e6e" stroke-width="0.9"/>
<text x="31" y="485.9" font-size="8.5" text-anchor="end" stroke="#2a2a2a" stroke-width="0.22">−10</text>
<line x1="63.2" y1="505.3" x2="63.2" y2="507.5" stroke="#6e6e6e" stroke-width="0.9"/>
<text x="63.2" y="516.5" font-size="8.5" text-anchor="middle" stroke="#2a2a2a" stroke-width="0.22">−10</text>
<line x1="94.7" y1="505.3" x2="94.7" y2="507.5" stroke="#6e6e6e" stroke-width="0.9"/>
<text x="94.7" y="516.5" font-size="8.5" text-anchor="middle" stroke="#2a2a2a" stroke-width="0.22">−5</text>
<line x1="126.2" y1="505.3" x2="126.2" y2="507.5" stroke="#6e6e6e" stroke-width="0.9"/>
<text x="126.2" y="516.5" font-size="8.5" text-anchor="middle" stroke="#2a2a2a" stroke-width="0.22">0</text>
<line x1="157.7" y1="505.3" x2="157.7" y2="507.5" stroke="#6e6e6e" stroke-width="0.9"/>
<text x="157.7" y="516.5" font-size="8.5" text-anchor="middle" stroke="#2a2a2a" stroke-width="0.22">5</text>
<line x1="189.2" y1="505.3" x2="189.2" y2="507.5" stroke="#6e6e6e" stroke-width="0.9"/>
<text x="189.2" y="516.5" font-size="8.5" text-anchor="middle" stroke="#2a2a2a" stroke-width="0.22">10</text>
<line x1="220.7" y1="505.3" x2="220.7" y2="507.5" stroke="#6e6e6e" stroke-width="0.9"/>
<text x="220.7" y="516.5" font-size="8.5" text-anchor="middle" stroke="#2a2a2a" stroke-width="0.22">15</text>
<text x="12.3" y="437.5" font-size="8.6" text-anchor="middle" transform="rotate(-90 12.3 437.5)" stroke="#2a2a2a" stroke-width="0.22">PC2</text>
<rect x="50" y="381.3" width="53.3" height="30" fill="#fff"/>
<circle cx="75.7" cy="396.1" r="0.8" fill="#c2c4cc"/>
<circle cx="96.3" cy="385.1" r="0.8" fill="#c2c4cc"/>
<circle cx="87" cy="392.6" r="0.8" fill="#c2c4cc"/>
<circle cx="91" cy="390.3" r="0.8" fill="#c2c4cc"/>
<circle cx="91.6" cy="386.2" r="0.8" fill="#c2c4cc"/>
<circle cx="85.7" cy="396.9" r="0.8" fill="#c2c4cc"/>
<circle cx="87.9" cy="394.8" r="0.8" fill="#c2c4cc"/>
<circle cx="82.4" cy="394.4" r="0.8" fill="#c2c4cc"/>
<circle cx="90.2" cy="394.2" r="0.8" fill="#c2c4cc"/>
<circle cx="79.6" cy="395.3" r="0.8" fill="#c2c4cc"/>
<circle cx="77.4" cy="396.4" r="0.8" fill="#c2c4cc"/>
<circle cx="95.7" cy="384.8" r="0.8" fill="#c2c4cc"/>
<circle cx="96.5" cy="385.6" r="0.8" fill="#c2c4cc"/>
<circle cx="87.6" cy="396.5" r="0.8" fill="#c2c4cc"/>
<circle cx="85.4" cy="396.9" r="0.8" fill="#c2c4cc"/>
<circle cx="88.4" cy="397.4" r="0.8" fill="#c2c4cc"/>
<circle cx="79.2" cy="397.9" r="0.8" fill="#c2c4cc"/>
<circle cx="98.9" cy="385.7" r="0.8" fill="#c2c4cc"/>
<circle cx="91" cy="397.3" r="0.8" fill="#c2c4cc"/>
<circle cx="90.2" cy="392.3" r="0.8" fill="#c2c4cc"/>
<circle cx="81.4" cy="396.1" r="0.8" fill="#c2c4cc"/>
<circle cx="87.8" cy="390.3" r="0.8" fill="#c2c4cc"/>
<circle cx="82.9" cy="397.8" r="0.8" fill="#c2c4cc"/>
<circle cx="93.6" cy="388.6" r="0.8" fill="#c2c4cc"/>
<circle cx="93.8" cy="391" r="0.8" fill="#c2c4cc"/>
<circle cx="91.2" cy="387.5" r="0.8" fill="#c2c4cc"/>
<circle cx="91.9" cy="390" r="0.8" fill="#c2c4cc"/>
<circle cx="78.2" cy="397.5" r="0.8" fill="#c2c4cc"/>
<circle cx="95.2" cy="389.2" r="0.8" fill="#c2c4cc"/>
<circle cx="94.8" cy="387.6" r="0.8" fill="#c2c4cc"/>
<circle cx="73.4" cy="397.7" r="0.8" fill="#c2c4cc"/>
<circle cx="76.7" cy="397.3" r="0.8" fill="#c2c4cc"/>
<circle cx="98.6" cy="392.5" r="0.8" fill="#c2c4cc"/>
<circle cx="88.5" cy="397.5" r="0.8" fill="#c2c4cc"/>
<circle cx="84.2" cy="393.9" r="0.8" fill="#c2c4cc"/>
<g filter="url(#bl05)">
<ellipse cx="76" cy="401.5" rx="25" ry="4.2" fill="#b8bdd0"/>
<ellipse cx="60" cy="400" rx="6" ry="2" fill="#8088b8"/>
<ellipse cx="79" cy="401.5" rx="14" ry="2.4" fill="#5656a6"/>
<ellipse cx="80" cy="401.3" rx="8" ry="1.6" fill="#1e1e5a"/>
<ellipse cx="71" cy="401.5" rx="2.2" ry="1.1" fill="#f8f0c0"/>
</g>
<rect x="50" y="381.3" width="53.3" height="30" fill="none" stroke="#a56868" stroke-width="0.9"/>
<line x1="66.3" y1="381.3" x2="66.3" y2="411.3" stroke="#d06a6a" stroke-width="0.8"/>
<line x1="88.8" y1="381.3" x2="88.8" y2="411.3" stroke="#d06a6a" stroke-width="0.8"/>
<line x1="50" y1="398.3" x2="103.3" y2="398.3" stroke="#d06a6a" stroke-width="0.8"/>
<text x="78" y="379.3" font-size="7" text-anchor="middle" stroke="#2a2a2a" stroke-width="0.22">Cycling</text>
<text x="76.5" y="419.5" font-size="7" text-anchor="middle" stroke="#2a2a2a" stroke-width="0.22">Noncycling</text>
<text x="47.5" y="396.3" font-size="6.7" text-anchor="middle" transform="rotate(-90 47.5 396.3)">pGSC</text>
<text x="111" y="396.3" font-size="6.7" text-anchor="middle" transform="rotate(-90 111 396.3)">mGSC</text>
<text x="288" y="362" font-size="8.5" text-anchor="middle" stroke="#2a2a2a" stroke-width="0.22">PC1 score</text>
<line x1="246.7" y1="366.3" x2="322.5" y2="366.3" stroke="#222" stroke-width="1.1"/>
<path d="M327.5 366.3 L321.5 363.5 L321.5 369.1 Z" fill="#222"/>
<rect x="244" y="372" width="87.4" height="78.7" fill="#3a2040"/>
<rect x="244" y="372" width="1.9" height="6.6" fill="#f0ec3c"/>
<rect x="245.8" y="372" width="1.9" height="6.6" fill="#bfb933"/>
<rect x="247.6" y="372" width="1.9" height="6.6" fill="#5a5221"/>
<rect x="249.5" y="372" width="1.9" height="6.6" fill="#b7b132"/>
<rect x="251.3" y="372" width="1.9" height="6.6" fill="#8c852a"/>
<rect x="253.1" y="372" width="1.9" height="6.6" fill="#483f1e"/>
<rect x="254.9" y="372" width="1.9" height="6.6" fill="#f0ec3c"/>
<rect x="256.7" y="372" width="1.9" height="6.6" fill="#696124"/>
<rect x="258.6" y="372" width="1.9" height="6.6" fill="#878029"/>
<rect x="260.4" y="372" width="1.9" height="6.6" fill="#b8b232"/>
<rect x="262.2" y="372" width="1.9" height="6.6" fill="#30152f"/>
<rect x="264" y="372" width="1.9" height="6.6" fill="#f0ec3c"/>
<rect x="265.9" y="372" width="1.9" height="6.6" fill="#bdb833"/>
<rect x="267.7" y="372" width="1.9" height="6.6" fill="#605822"/>
<rect x="269.5" y="372" width="1.9" height="6.6" fill="#b3ad31"/>
<rect x="271.3" y="372" width="1.9" height="6.6" fill="#a39d2e"/>
<rect x="273.1" y="372" width="1.9" height="6.6" fill="#deda39"/>
<rect x="275" y="372" width="1.9" height="6.6" fill="#352b1b"/>
<rect x="276.8" y="372" width="1.9" height="6.6" fill="#f0ec3c"/>
<rect x="278.6" y="372" width="1.9" height="6.6" fill="#6e6625"/>
<rect x="280.4" y="372" width="1.9" height="6.6" fill="#655d23"/>
<rect x="282.2" y="372" width="1.9" height="6.6" fill="#6f6725"/>
<rect x="284.1" y="372" width="1.9" height="6.6" fill="#5b5221"/>
<rect x="285.9" y="372" width="1.9" height="6.6" fill="#bcb733"/>
<rect x="287.7" y="372" width="1.9" height="6.6" fill="#411943"/>
<rect x="289.5" y="372" width="1.9" height="6.6" fill="#3c183e"/>
<rect x="291.3" y="372" width="1.9" height="6.6" fill="#471a4a"/>
<rect x="293.2" y="372" width="1.9" height="6.6" fill="#491b4d"/>
<rect x="295" y="372" width="1.9" height="6.6" fill="#5f2067"/>
<rect x="296.8" y="372" width="1.9" height="6.6" fill="#5e2066"/>
<rect x="298.6" y="372" width="1.9" height="6.6" fill="#3e1840"/>
<rect x="300.4" y="372" width="1.9" height="6.6" fill="#5d2064"/>
<rect x="302.3" y="372" width="1.9" height="6.6" fill="#481b4c"/>
<rect x="304.1" y="372" width="1.9" height="6.6" fill="#441a47"/>
<rect x="305.9" y="372" width="1.9" height="6.6" fill="#401943"/>
<rect x="307.7" y="372" width="1.9" height="6.6" fill="#441a47"/>
<rect x="309.5" y="372" width="1.9" height="6.6" fill="#70247b"/>
<rect x="311.4" y="372" width="1.9" height="6.6" fill="#692272"/>
<rect x="313.2" y="372" width="1.9" height="6.6" fill="#30152f"/>
<rect x="315" y="372" width="1.9" height="6.6" fill="#752580"/>
<rect x="316.8" y="372" width="1.9" height="6.6" fill="#3e1840"/>
<rect x="318.7" y="372" width="1.9" height="6.6" fill="#612169"/>
<rect x="320.5" y="372" width="1.9" height="6.6" fill="#591f60"/>
<rect x="322.3" y="372" width="1.9" height="6.6" fill="#6f2479"/>
<rect x="324.1" y="372" width="1.9" height="6.6" fill="#591f60"/>
<rect x="325.9" y="372" width="1.9" height="6.6" fill="#64216c"/>
<rect x="327.8" y="372" width="1.9" height="6.6" fill="#521d58"/>
<rect x="329.6" y="372" width="1.9" height="6.6" fill="#591f60"/>
<rect x="244" y="378.6" width="1.9" height="6.6" fill="#341634"/>
<rect x="245.8" y="378.6" width="1.9" height="6.6" fill="#4a411f"/>
<rect x="247.6" y="378.6" width="1.9" height="6.6" fill="#d9d538"/>
<rect x="249.5" y="378.6" width="1.9" height="6.6" fill="#341634"/>
<rect x="251.3" y="378.6" width="1.9" height="6.6" fill="#f0ec3c"/>
<rect x="253.1" y="378.6" width="1.9" height="6.6" fill="#f0ec3c"/>
<rect x="254.9" y="378.6" width="1.9" height="6.6" fill="#a7a12f"/>
<rect x="256.7" y="378.6" width="1.9" height="6.6" fill="#a9a32f"/>
<rect x="258.6" y="378.6" width="1.9" height="6.6" fill="#6f6725"/>
<rect x="260.4" y="378.6" width="1.9" height="6.6" fill="#504720"/>
<rect x="262.2" y="378.6" width="1.9" height="6.6" fill="#473e1e"/>
<rect x="264" y="378.6" width="1.9" height="6.6" fill="#32291a"/>
<rect x="265.9" y="378.6" width="1.9" height="6.6" fill="#b6b132"/>
<rect x="267.7" y="378.6" width="1.9" height="6.6" fill="#f0ec3c"/>
<rect x="269.5" y="378.6" width="1.9" height="6.6" fill="#878029"/>
<rect x="271.3" y="378.6" width="1.9" height="6.6" fill="#1d111a"/>
<rect x="273.1" y="378.6" width="1.9" height="6.6" fill="#665e24"/>
<rect x="275" y="378.6" width="1.9" height="6.6" fill="#e9e53b"/>
<rect x="276.8" y="378.6" width="1.9" height="6.6" fill="#2a2019"/>
<rect x="278.6" y="378.6" width="1.9" height="6.6" fill="#827b29"/>
<rect x="280.4" y="378.6" width="1.9" height="6.6" fill="#7a7327"/>
<rect x="282.2" y="378.6" width="1.9" height="6.6" fill="#1f1617"/>
<rect x="284.1" y="378.6" width="1.9" height="6.6" fill="#382f1b"/>
<rect x="285.9" y="378.6" width="1.9" height="6.6" fill="#41381d"/>
<rect x="287.7" y="378.6" width="1.9" height="6.6" fill="#541e5a"/>
<rect x="289.5" y="378.6" width="1.9" height="6.6" fill="#22121f"/>
<rect x="291.3" y="378.6" width="1.9" height="6.6" fill="#2a2019"/>
<rect x="293.2" y="378.6" width="1.9" height="6.6" fill="#2b142a"/>
<rect x="295" y="378.6" width="1.9" height="6.6" fill="#3e1840"/>
<rect x="296.8" y="378.6" width="1.9" height="6.6" fill="#471b4b"/>
<rect x="298.6" y="378.6" width="1.9" height="6.6" fill="#471a4a"/>
<rect x="300.4" y="378.6" width="1.9" height="6.6" fill="#3a183c"/>
<rect x="302.3" y="378.6" width="1.9" height="6.6" fill="#2e152e"/>
<rect x="304.1" y="378.6" width="1.9" height="6.6" fill="#521d58"/>
<rect x="305.9" y="378.6" width="1.9" height="6.6" fill="#3d183e"/>
<rect x="307.7" y="378.6" width="1.9" height="6.6" fill="#3a173b"/>
<rect x="309.5" y="378.6" width="1.9" height="6.6" fill="#311531"/>
<rect x="311.4" y="378.6" width="1.9" height="6.6" fill="#501d55"/>
<rect x="313.2" y="378.6" width="1.9" height="6.6" fill="#311531"/>
<rect x="315" y="378.6" width="1.9" height="6.6" fill="#431a47"/>
<rect x="316.8" y="378.6" width="1.9" height="6.6" fill="#421945"/>
<rect x="318.7" y="378.6" width="1.9" height="6.6" fill="#4e1c53"/>
<rect x="320.5" y="378.6" width="1.9" height="6.6" fill="#531d59"/>
<rect x="322.3" y="378.6" width="1.9" height="6.6" fill="#3b183d"/>
<rect x="324.1" y="378.6" width="1.9" height="6.6" fill="#62216a"/>
<rect x="325.9" y="378.6" width="1.9" height="6.6" fill="#1f111c"/>
<rect x="327.8" y="378.6" width="1.9" height="6.6" fill="#4a1b4e"/>
<rect x="329.6" y="378.6" width="1.9" height="6.6" fill="#3a183c"/>
<rect x="244" y="385.1" width="1.9" height="6.6" fill="#2e251a"/>
<rect x="245.8" y="385.1" width="1.9" height="6.6" fill="#40371d"/>
<rect x="247.6" y="385.1" width="1.9" height="6.6" fill="#341634"/>
<rect x="249.5" y="385.1" width="1.9" height="6.6" fill="#341634"/>
<rect x="251.3" y="385.1" width="1.9" height="6.6" fill="#341634"/>
<rect x="253.1" y="385.1" width="1.9" height="6.6" fill="#362c1b"/>
<rect x="254.9" y="385.1" width="1.9" height="6.6" fill="#2b142a"/>
<rect x="256.7" y="385.1" width="1.9" height="6.6" fill="#585021"/>
<rect x="258.6" y="385.1" width="1.9" height="6.6" fill="#797227"/>
<rect x="260.4" y="385.1" width="1.9" height="6.6" fill="#341634"/>
<rect x="262.2" y="385.1" width="1.9" height="6.6" fill="#341634"/>
<rect x="264" y="385.1" width="1.9" height="6.6" fill="#41381d"/>
<rect x="265.9" y="385.1" width="1.9" height="6.6" fill="#453c1e"/>
<rect x="267.7" y="385.1" width="1.9" height="6.6" fill="#291428"/>
<rect x="269.5" y="385.1" width="1.9" height="6.6" fill="#341634"/>
<rect x="271.3" y="385.1" width="1.9" height="6.6" fill="#554c20"/>
<rect x="273.1" y="385.1" width="1.9" height="6.6" fill="#1b1017"/>
<rect x="275" y="385.1" width="1.9" height="6.6" fill="#cbc635"/>
<rect x="276.8" y="385.1" width="1.9" height="6.6" fill="#756d26"/>
<rect x="278.6" y="385.1" width="1.9" height="6.6" fill="#463e1e"/>
<rect x="280.4" y="385.1" width="1.9" height="6.6" fill="#341634"/>
<rect x="282.2" y="385.1" width="1.9" height="6.6" fill="#564e21"/>
<rect x="284.1" y="385.1" width="1.9" height="6.6" fill="#281e18"/>
<rect x="285.9" y="385.1" width="1.9" height="6.6" fill="#4b421f"/>
<rect x="287.7" y="385.1" width="1.9" height="6.6" fill="#882a97"/>
<rect x="289.5" y="385.1" width="1.9" height="6.6" fill="#6e2478"/>
<rect x="291.3" y="385.1" width="1.9" height="6.6" fill="#72257e"/>
<rect x="293.2" y="385.1" width="1.9" height="6.6" fill="#7b2788"/>
<rect x="295" y="385.1" width="1.9" height="6.6" fill="#922ca2"/>
<rect x="296.8" y="385.1" width="1.9" height="6.6" fill="#6f247a"/>
<rect x="298.6" y="385.1" width="1.9" height="6.6" fill="#902ca0"/>
<rect x="300.4" y="385.1" width="1.9" height="6.6" fill="#9a2eac"/>
<rect x="302.3" y="385.1" width="1.9" height="6.6" fill="#70247b"/>
<rect x="304.1" y="385.1" width="1.9" height="6.6" fill="#7e278b"/>
<rect x="305.9" y="385.1" width="1.9" height="6.6" fill="#792686"/>
<rect x="307.7" y="385.1" width="1.9" height="6.6" fill="#8b2b9b"/>
<rect x="309.5" y="385.1" width="1.9" height="6.6" fill="#8a2a99"/>
<rect x="311.4" y="385.1" width="1.9" height="6.6" fill="#9a2eac"/>
<rect x="313.2" y="385.1" width="1.9" height="6.6" fill="#6e2478"/>
<rect x="315" y="385.1" width="1.9" height="6.6" fill="#9a2eac"/>
<rect x="316.8" y="385.1" width="1.9" height="6.6" fill="#792685"/>
<rect x="318.7" y="385.1" width="1.9" height="6.6" fill="#7a2787"/>
<rect x="320.5" y="385.1" width="1.9" height="6.6" fill="#912ca1"/>
<rect x="322.3" y="385.1" width="1.9" height="6.6" fill="#952da6"/>
<rect x="324.1" y="385.1" width="1.9" height="6.6" fill="#62216b"/>
<rect x="325.9" y="385.1" width="1.9" height="6.6" fill="#9a2eac"/>
<rect x="327.8" y="385.1" width="1.9" height="6.6" fill="#9a2eac"/>
<rect x="329.6" y="385.1" width="1.9" height="6.6" fill="#962da8"/>
<rect x="244" y="391.7" width="1.9" height="6.6" fill="#221817"/>
<rect x="245.8" y="391.7" width="1.9" height="6.6" fill="#f0ec3c"/>
<rect x="247.6" y="391.7" width="1.9" height="6.6" fill="#c4bf34"/>
<rect x="249.5" y="391.7" width="1.9" height="6.6" fill="#9c952d"/>
<rect x="251.3" y="391.7" width="1.9" height="6.6" fill="#372e1b"/>
<rect x="253.1" y="391.7" width="1.9" height="6.6" fill="#2c142b"/>
<rect x="254.9" y="391.7" width="1.9" height="6.6" fill="#c3be34"/>
<rect x="256.7" y="391.7" width="1.9" height="6.6" fill="#a8a12f"/>
<rect x="258.6" y="391.7" width="1.9" height="6.6" fill="#231221"/>
<rect x="260.4" y="391.7" width="1.9" height="6.6" fill="#433a1d"/>
<rect x="262.2" y="391.7" width="1.9" height="6.6" fill="#847d29"/>
<rect x="264" y="391.7" width="1.9" height="6.6" fill="#f0ec3c"/>
<rect x="265.9" y="391.7" width="1.9" height="6.6" fill="#251c18"/>
<rect x="267.7" y="391.7" width="1.9" height="6.6" fill="#787027"/>
<rect x="269.5" y="391.7" width="1.9" height="6.6" fill="#b8b232"/>
<rect x="271.3" y="391.7" width="1.9" height="6.6" fill="#1b1216"/>
<rect x="273.1" y="391.7" width="1.9" height="6.6" fill="#cac535"/>
<rect x="275" y="391.7" width="1.9" height="6.6" fill="#b4ae31"/>
<rect x="276.8" y="391.7" width="1.9" height="6.6" fill="#2c2219"/>
<rect x="278.6" y="391.7" width="1.9" height="6.6" fill="#554d20"/>
<rect x="280.4" y="391.7" width="1.9" height="6.6" fill="#968f2c"/>
<rect x="282.2" y="391.7" width="1.9" height="6.6" fill="#3a311c"/>
<rect x="284.1" y="391.7" width="1.9" height="6.6" fill="#341634"/>
<rect x="285.9" y="391.7" width="1.9" height="6.6" fill="#585021"/>
<rect x="287.7" y="391.7" width="1.9" height="6.6" fill="#2f152f"/>
<rect x="289.5" y="391.7" width="1.9" height="6.6" fill="#401943"/>
<rect x="291.3" y="391.7" width="1.9" height="6.6" fill="#4a1b4f"/>
<rect x="293.2" y="391.7" width="1.9" height="6.6" fill="#331633"/>
<rect x="295" y="391.7" width="1.9" height="6.6" fill="#481b4c"/>
<rect x="296.8" y="391.7" width="1.9" height="6.6" fill="#401943"/>
<rect x="298.6" y="391.7" width="1.9" height="6.6" fill="#3c183e"/>
<rect x="300.4" y="391.7" width="1.9" height="6.6" fill="#3c183e"/>
<rect x="302.3" y="391.7" width="1.9" height="6.6" fill="#4d1c52"/>
<rect x="304.1" y="391.7" width="1.9" height="6.6" fill="#481b4c"/>
<rect x="305.9" y="391.7" width="1.9" height="6.6" fill="#351636"/>
<rect x="307.7" y="391.7" width="1.9" height="6.6" fill="#491b4d"/>
<rect x="309.5" y="391.7" width="1.9" height="6.6" fill="#5a1f61"/>
<rect x="311.4" y="391.7" width="1.9" height="6.6" fill="#511d57"/>
<rect x="313.2" y="391.7" width="1.9" height="6.6" fill="#762581"/>
<rect x="315" y="391.7" width="1.9" height="6.6" fill="#5d2064"/>
<rect x="316.8" y="391.7" width="1.9" height="6.6" fill="#421945"/>
<rect x="318.7" y="391.7" width="1.9" height="6.6" fill="#4f1d55"/>
<rect x="320.5" y="391.7" width="1.9" height="6.6" fill="#371738"/>
<rect x="322.3" y="391.7" width="1.9" height="6.6" fill="#4e1c53"/>
<rect x="324.1" y="391.7" width="1.9" height="6.6" fill="#4d1c52"/>
<rect x="325.9" y="391.7" width="1.9" height="6.6" fill="#251323"/>
<rect x="327.8" y="391.7" width="1.9" height="6.6" fill="#3e1941"/>
<rect x="329.6" y="391.7" width="1.9" height="6.6" fill="#4c1c50"/>
<rect x="244" y="398.2" width="1.9" height="6.6" fill="#c0ba33"/>
<rect x="245.8" y="398.2" width="1.9" height="6.6" fill="#3e351c"/>
<rect x="247.6" y="398.2" width="1.9" height="6.6" fill="#7e7728"/>
<rect x="249.5" y="398.2" width="1.9" height="6.6" fill="#6b6324"/>
<rect x="251.3" y="398.2" width="1.9" height="6.6" fill="#f0ec3c"/>
<rect x="253.1" y="398.2" width="1.9" height="6.6" fill="#f0ec3c"/>
<rect x="254.9" y="398.2" width="1.9" height="6.6" fill="#817a28"/>
<rect x="256.7" y="398.2" width="1.9" height="6.6" fill="#5c5322"/>
<rect x="258.6" y="398.2" width="1.9" height="6.6" fill="#f0ec3c"/>
<rect x="260.4" y="398.2" width="1.9" height="6.6" fill="#f0ec3c"/>
<rect x="262.2" y="398.2" width="1.9" height="6.6" fill="#f0ec3c"/>
<rect x="264" y="398.2" width="1.9" height="6.6" fill="#30271a"/>
<rect x="265.9" y="398.2" width="1.9" height="6.6" fill="#6b6424"/>
<rect x="267.7" y="398.2" width="1.9" height="6.6" fill="#c3bd34"/>
<rect x="269.5" y="398.2" width="1.9" height="6.6" fill="#b1ab31"/>
<rect x="271.3" y="398.2" width="1.9" height="6.6" fill="#342b1b"/>
<rect x="273.1" y="398.2" width="1.9" height="6.6" fill="#948e2c"/>
<rect x="275" y="398.2" width="1.9" height="6.6" fill="#6f6725"/>
<rect x="276.8" y="398.2" width="1.9" height="6.6" fill="#30271a"/>
<rect x="278.6" y="398.2" width="1.9" height="6.6" fill="#cac535"/>
<rect x="280.4" y="398.2" width="1.9" height="6.6" fill="#eae63b"/>
<rect x="282.2" y="398.2" width="1.9" height="6.6" fill="#d0cb36"/>
<rect x="284.1" y="398.2" width="1.9" height="6.6" fill="#372e1b"/>
<rect x="285.9" y="398.2" width="1.9" height="6.6" fill="#6c6425"/>
<rect x="287.7" y="398.2" width="1.9" height="6.6" fill="#581f5f"/>
<rect x="289.5" y="398.2" width="1.9" height="6.6" fill="#612169"/>
<rect x="291.3" y="398.2" width="1.9" height="6.6" fill="#501d55"/>
<rect x="293.2" y="398.2" width="1.9" height="6.6" fill="#3b183c"/>
<rect x="295" y="398.2" width="1.9" height="6.6" fill="#541e5a"/>
<rect x="296.8" y="398.2" width="1.9" height="6.6" fill="#6b2375"/>
<rect x="298.6" y="398.2" width="1.9" height="6.6" fill="#481b4c"/>
<rect x="300.4" y="398.2" width="1.9" height="6.6" fill="#381739"/>
<rect x="302.3" y="398.2" width="1.9" height="6.6" fill="#762682"/>
<rect x="304.1" y="398.2" width="1.9" height="6.6" fill="#581f5f"/>
<rect x="305.9" y="398.2" width="1.9" height="6.6" fill="#72257d"/>
<rect x="307.7" y="398.2" width="1.9" height="6.6" fill="#5f2067"/>
<rect x="309.5" y="398.2" width="1.9" height="6.6" fill="#6b2375"/>
<rect x="311.4" y="398.2" width="1.9" height="6.6" fill="#72257d"/>
<rect x="313.2" y="398.2" width="1.9" height="6.6" fill="#782684"/>
<rect x="315" y="398.2" width="1.9" height="6.6" fill="#7a2787"/>
<rect x="316.8" y="398.2" width="1.9" height="6.6" fill="#5e2065"/>
<rect x="318.7" y="398.2" width="1.9" height="6.6" fill="#6a2374"/>
<rect x="320.5" y="398.2" width="1.9" height="6.6" fill="#501d55"/>
<rect x="322.3" y="398.2" width="1.9" height="6.6" fill="#4c1c50"/>
<rect x="324.1" y="398.2" width="1.9" height="6.6" fill="#61216a"/>
<rect x="325.9" y="398.2" width="1.9" height="6.6" fill="#5b1f63"/>
<rect x="327.8" y="398.2" width="1.9" height="6.6" fill="#742580"/>
<rect x="329.6" y="398.2" width="1.9" height="6.6" fill="#39173a"/>
<rect x="244" y="404.8" width="1.9" height="6.6" fill="#928b2b"/>
<rect x="245.8" y="404.8" width="1.9" height="6.6" fill="#938c2b"/>
<rect x="247.6" y="404.8" width="1.9" height="6.6" fill="#c6c135"/>
<rect x="249.5" y="404.8" width="1.9" height="6.6" fill="#f0ec3c"/>
<rect x="251.3" y="404.8" width="1.9" height="6.6" fill="#f0ec3c"/>
<rect x="253.1" y="404.8" width="1.9" height="6.6" fill="#bcb633"/>
<rect x="254.9" y="404.8" width="1.9" height="6.6" fill="#4b431f"/>
<rect x="256.7" y="404.8" width="1.9" height="6.6" fill="#221817"/>
<rect x="258.6" y="404.8" width="1.9" height="6.6" fill="#f0ec3c"/>
<rect x="260.4" y="404.8" width="1.9" height="6.6" fill="#382f1b"/>
<rect x="262.2" y="404.8" width="1.9" height="6.6" fill="#766e26"/>
<rect x="264" y="404.8" width="1.9" height="6.6" fill="#524a20"/>
<rect x="265.9" y="404.8" width="1.9" height="6.6" fill="#675f24"/>
<rect x="267.7" y="404.8" width="1.9" height="6.6" fill="#f0ec3c"/>
<rect x="269.5" y="404.8" width="1.9" height="6.6" fill="#f0ec3c"/>
<rect x="271.3" y="404.8" width="1.9" height="6.6" fill="#d1cc37"/>
<rect x="273.1" y="404.8" width="1.9" height="6.6" fill="#524a20"/>
<rect x="275" y="404.8" width="1.9" height="6.6" fill="#f0ec3c"/>
<rect x="276.8" y="404.8" width="1.9" height="6.6" fill="#1c1216"/>
<rect x="278.6" y="404.8" width="1.9" height="6.6" fill="#676024"/>
<rect x="280.4" y="404.8" width="1.9" height="6.6" fill="#635b23"/>
<rect x="282.2" y="404.8" width="1.9" height="6.6" fill="#5f5722"/>
<rect x="284.1" y="404.8" width="1.9" height="6.6" fill="#888129"/>
<rect x="285.9" y="404.8" width="1.9" height="6.6" fill="#b7b132"/>
<rect x="287.7" y="404.8" width="1.9" height="6.6" fill="#9a2eac"/>
<rect x="289.5" y="404.8" width="1.9" height="6.6" fill="#71257d"/>
<rect x="291.3" y="404.8" width="1.9" height="6.6" fill="#7e278b"/>
<rect x="293.2" y="404.8" width="1.9" height="6.6" fill="#70247b"/>
<rect x="295" y="404.8" width="1.9" height="6.6" fill="#7e278b"/>
<rect x="296.8" y="404.8" width="1.9" height="6.6" fill="#872995"/>
<rect x="298.6" y="404.8" width="1.9" height="6.6" fill="#7b2788"/>
<rect x="300.4" y="404.8" width="1.9" height="6.6" fill="#9a2eac"/>
<rect x="302.3" y="404.8" width="1.9" height="6.6" fill="#672270"/>
<rect x="304.1" y="404.8" width="1.9" height="6.6" fill="#762682"/>
<rect x="305.9" y="404.8" width="1.9" height="6.6" fill="#5d2065"/>
<rect x="307.7" y="404.8" width="1.9" height="6.6" fill="#7e278b"/>
<rect x="309.5" y="404.8" width="1.9" height="6.6" fill="#5b1f63"/>
<rect x="311.4" y="404.8" width="1.9" height="6.6" fill="#65216d"/>
<rect x="313.2" y="404.8" width="1.9" height="6.6" fill="#7f288c"/>
<rect x="315" y="404.8" width="1.9" height="6.6" fill="#9a2eac"/>
<rect x="316.8" y="404.8" width="1.9" height="6.6" fill="#9a2eac"/>
<rect x="318.7" y="404.8" width="1.9" height="6.6" fill="#852993"/>
<rect x="320.5" y="404.8" width="1.9" height="6.6" fill="#8c2b9b"/>
<rect x="322.3" y="404.8" width="1.9" height="6.6" fill="#922ca3"/>
<rect x="324.1" y="404.8" width="1.9" height="6.6" fill="#922ca2"/>
<rect x="325.9" y="404.8" width="1.9" height="6.6" fill="#8e2b9e"/>
<rect x="327.8" y="404.8" width="1.9" height="6.6" fill="#7d278a"/>
<rect x="329.6" y="404.8" width="1.9" height="6.6" fill="#7a2787"/>
<rect x="244" y="411.4" width="1.9" height="6.6" fill="#261c18"/>
<rect x="245.8" y="411.4" width="1.9" height="6.6" fill="#311531"/>
<rect x="247.6" y="411.4" width="1.9" height="6.6" fill="#3d183f"/>
<rect x="249.5" y="411.4" width="1.9" height="6.6" fill="#2f152f"/>
<rect x="251.3" y="411.4" width="1.9" height="6.6" fill="#4a1b4e"/>
<rect x="253.1" y="411.4" width="1.9" height="6.6" fill="#4b1c50"/>
<rect x="254.9" y="411.4" width="1.9" height="6.6" fill="#221220"/>
<rect x="256.7" y="411.4" width="1.9" height="6.6" fill="#311531"/>
<rect x="258.6" y="411.4" width="1.9" height="6.6" fill="#361636"/>
<rect x="260.4" y="411.4" width="1.9" height="6.6" fill="#20121e"/>
<rect x="262.2" y="411.4" width="1.9" height="6.6" fill="#261324"/>
<rect x="264" y="411.4" width="1.9" height="6.6" fill="#20111d"/>
<rect x="265.9" y="411.4" width="1.9" height="6.6" fill="#321633"/>
<rect x="267.7" y="411.4" width="1.9" height="6.6" fill="#3f1941"/>
<rect x="269.5" y="411.4" width="1.9" height="6.6" fill="#521d58"/>
<rect x="271.3" y="411.4" width="1.9" height="6.6" fill="#301530"/>
<rect x="273.1" y="411.4" width="1.9" height="6.6" fill="#1e111b"/>
<rect x="275" y="411.4" width="1.9" height="6.6" fill="#461a49"/>
<rect x="276.8" y="411.4" width="1.9" height="6.6" fill="#3d183f"/>
<rect x="278.6" y="411.4" width="1.9" height="6.6" fill="#39301c"/>
<rect x="280.4" y="411.4" width="1.9" height="6.6" fill="#331634"/>
<rect x="282.2" y="411.4" width="1.9" height="6.6" fill="#1c1119"/>
<rect x="284.1" y="411.4" width="1.9" height="6.6" fill="#241221"/>
<rect x="285.9" y="411.4" width="1.9" height="6.6" fill="#451a48"/>
<rect x="287.7" y="411.4" width="1.9" height="6.6" fill="#6a6324"/>
<rect x="289.5" y="411.4" width="1.9" height="6.6" fill="#ddd839"/>
<rect x="291.3" y="411.4" width="1.9" height="6.6" fill="#2b2219"/>
<rect x="293.2" y="411.4" width="1.9" height="6.6" fill="#ada830"/>
<rect x="295" y="411.4" width="1.9" height="6.6" fill="#534a20"/>
<rect x="296.8" y="411.4" width="1.9" height="6.6" fill="#a49e2f"/>
<rect x="298.6" y="411.4" width="1.9" height="6.6" fill="#a8a22f"/>
<rect x="300.4" y="411.4" width="1.9" height="6.6" fill="#341634"/>
<rect x="302.3" y="411.4" width="1.9" height="6.6" fill="#f0ec3c"/>
<rect x="304.1" y="411.4" width="1.9" height="6.6" fill="#41381d"/>
<rect x="305.9" y="411.4" width="1.9" height="6.6" fill="#341634"/>
<rect x="307.7" y="411.4" width="1.9" height="6.6" fill="#938d2c"/>
<rect x="309.5" y="411.4" width="1.9" height="6.6" fill="#746d26"/>
<rect x="311.4" y="411.4" width="1.9" height="6.6" fill="#514820"/>
<rect x="313.2" y="411.4" width="1.9" height="6.6" fill="#aaa430"/>
<rect x="315" y="411.4" width="1.9" height="6.6" fill="#7c7527"/>
<rect x="316.8" y="411.4" width="1.9" height="6.6" fill="#98922c"/>
<rect x="318.7" y="411.4" width="1.9" height="6.6" fill="#bbb533"/>
<rect x="320.5" y="411.4" width="1.9" height="6.6" fill="#9c962d"/>
<rect x="322.3" y="411.4" width="1.9" height="6.6" fill="#433a1d"/>
<rect x="324.1" y="411.4" width="1.9" height="6.6" fill="#21121e"/>
<rect x="325.9" y="411.4" width="1.9" height="6.6" fill="#706825"/>
<rect x="327.8" y="411.4" width="1.9" height="6.6" fill="#776f26"/>
<rect x="329.6" y="411.4" width="1.9" height="6.6" fill="#281f19"/>
<rect x="244" y="417.9" width="1.9" height="6.6" fill="#2b2119"/>
<rect x="245.8" y="417.9" width="1.9" height="6.6" fill="#2f152f"/>
<rect x="247.6" y="417.9" width="1.9" height="6.6" fill="#2e251a"/>
<rect x="249.5" y="417.9" width="1.9" height="6.6" fill="#331634"/>
<rect x="251.3" y="417.9" width="1.9" height="6.6" fill="#3c183e"/>
<rect x="253.1" y="417.9" width="1.9" height="6.6" fill="#2a2019"/>
<rect x="254.9" y="417.9" width="1.9" height="6.6" fill="#221817"/>
<rect x="256.7" y="417.9" width="1.9" height="6.6" fill="#411943"/>
<rect x="258.6" y="417.9" width="1.9" height="6.6" fill="#1c1216"/>
<rect x="260.4" y="417.9" width="1.9" height="6.6" fill="#21121f"/>
<rect x="262.2" y="417.9" width="1.9" height="6.6" fill="#331633"/>
<rect x="264" y="417.9" width="1.9" height="6.6" fill="#1c1018"/>
<rect x="265.9" y="417.9" width="1.9" height="6.6" fill="#211817"/>
<rect x="267.7" y="417.9" width="1.9" height="6.6" fill="#1f1517"/>
<rect x="269.5" y="417.9" width="1.9" height="6.6" fill="#4e1c53"/>
<rect x="271.3" y="417.9" width="1.9" height="6.6" fill="#231918"/>
<rect x="273.1" y="417.9" width="1.9" height="6.6" fill="#1e111b"/>
<rect x="275" y="417.9" width="1.9" height="6.6" fill="#3c183e"/>
<rect x="276.8" y="417.9" width="1.9" height="6.6" fill="#261324"/>
<rect x="278.6" y="417.9" width="1.9" height="6.6" fill="#411944"/>
<rect x="280.4" y="417.9" width="1.9" height="6.6" fill="#382e1b"/>
<rect x="282.2" y="417.9" width="1.9" height="6.6" fill="#1b1017"/>
<rect x="284.1" y="417.9" width="1.9" height="6.6" fill="#351636"/>
<rect x="285.9" y="417.9" width="1.9" height="6.6" fill="#301530"/>
<rect x="287.7" y="417.9" width="1.9" height="6.6" fill="#595021"/>
<rect x="289.5" y="417.9" width="1.9" height="6.6" fill="#ebe63b"/>
<rect x="291.3" y="417.9" width="1.9" height="6.6" fill="#341634"/>
<rect x="293.2" y="417.9" width="1.9" height="6.6" fill="#463e1e"/>
<rect x="295" y="417.9" width="1.9" height="6.6" fill="#bcb633"/>
<rect x="296.8" y="417.9" width="1.9" height="6.6" fill="#21121e"/>
<rect x="298.6" y="417.9" width="1.9" height="6.6" fill="#f0ec3c"/>
<rect x="300.4" y="417.9" width="1.9" height="6.6" fill="#473e1e"/>
<rect x="302.3" y="417.9" width="1.9" height="6.6" fill="#8e872b"/>
<rect x="304.1" y="417.9" width="1.9" height="6.6" fill="#b4ae31"/>
<rect x="305.9" y="417.9" width="1.9" height="6.6" fill="#341634"/>
<rect x="307.7" y="417.9" width="1.9" height="6.6" fill="#201617"/>
<rect x="309.5" y="417.9" width="1.9" height="6.6" fill="#3f361d"/>
<rect x="311.4" y="417.9" width="1.9" height="6.6" fill="#8b842a"/>
<rect x="313.2" y="417.9" width="1.9" height="6.6" fill="#1f1517"/>
<rect x="315" y="417.9" width="1.9" height="6.6" fill="#7f7728"/>
<rect x="316.8" y="417.9" width="1.9" height="6.6" fill="#2a1428"/>
<rect x="318.7" y="417.9" width="1.9" height="6.6" fill="#4f471f"/>
<rect x="320.5" y="417.9" width="1.9" height="6.6" fill="#b1ab31"/>
<rect x="322.3" y="417.9" width="1.9" height="6.6" fill="#433a1d"/>
<rect x="324.1" y="417.9" width="1.9" height="6.6" fill="#30271a"/>
<rect x="325.9" y="417.9" width="1.9" height="6.6" fill="#7c7527"/>
<rect x="327.8" y="417.9" width="1.9" height="6.6" fill="#a39d2e"/>
<rect x="329.6" y="417.9" width="1.9" height="6.6" fill="#31281a"/>
<rect x="244" y="424.5" width="1.9" height="6.6" fill="#471b4b"/>
<rect x="245.8" y="424.5" width="1.9" height="6.6" fill="#441a47"/>
<rect x="247.6" y="424.5" width="1.9" height="6.6" fill="#2f152f"/>
<rect x="249.5" y="424.5" width="1.9" height="6.6" fill="#3d183f"/>
<rect x="251.3" y="424.5" width="1.9" height="6.6" fill="#4c1c50"/>
<rect x="253.1" y="424.5" width="1.9" height="6.6" fill="#2f152e"/>
<rect x="254.9" y="424.5" width="1.9" height="6.6" fill="#271325"/>
<rect x="256.7" y="424.5" width="1.9" height="6.6" fill="#4d1c52"/>
<rect x="258.6" y="424.5" width="1.9" height="6.6" fill="#3b183d"/>
<rect x="260.4" y="424.5" width="1.9" height="6.6" fill="#581e5e"/>
<rect x="262.2" y="424.5" width="1.9" height="6.6" fill="#3c183e"/>
<rect x="264" y="424.5" width="1.9" height="6.6" fill="#71247c"/>
<rect x="265.9" y="424.5" width="1.9" height="6.6" fill="#511d56"/>
<rect x="267.7" y="424.5" width="1.9" height="6.6" fill="#451a49"/>
<rect x="269.5" y="424.5" width="1.9" height="6.6" fill="#4e1c52"/>
<rect x="271.3" y="424.5" width="1.9" height="6.6" fill="#3f1942"/>
<rect x="273.1" y="424.5" width="1.9" height="6.6" fill="#1d111a"/>
<rect x="275" y="424.5" width="1.9" height="6.6" fill="#4c1c50"/>
<rect x="276.8" y="424.5" width="1.9" height="6.6" fill="#521d57"/>
<rect x="278.6" y="424.5" width="1.9" height="6.6" fill="#4b1b4f"/>
<rect x="280.4" y="424.5" width="1.9" height="6.6" fill="#291327"/>
<rect x="282.2" y="424.5" width="1.9" height="6.6" fill="#4a1b4f"/>
<rect x="284.1" y="424.5" width="1.9" height="6.6" fill="#3b183c"/>
<rect x="285.9" y="424.5" width="1.9" height="6.6" fill="#431a47"/>
<rect x="287.7" y="424.5" width="1.9" height="6.6" fill="#251323"/>
<rect x="289.5" y="424.5" width="1.9" height="6.6" fill="#b8b232"/>
<rect x="291.3" y="424.5" width="1.9" height="6.6" fill="#3b321c"/>
<rect x="293.2" y="424.5" width="1.9" height="6.6" fill="#a29c2e"/>
<rect x="295" y="424.5" width="1.9" height="6.6" fill="#706825"/>
<rect x="296.8" y="424.5" width="1.9" height="6.6" fill="#cfca36"/>
<rect x="298.6" y="424.5" width="1.9" height="6.6" fill="#2e251a"/>
<rect x="300.4" y="424.5" width="1.9" height="6.6" fill="#605822"/>
<rect x="302.3" y="424.5" width="1.9" height="6.6" fill="#bdb733"/>
<rect x="304.1" y="424.5" width="1.9" height="6.6" fill="#251323"/>
<rect x="305.9" y="424.5" width="1.9" height="6.6" fill="#958e2c"/>
<rect x="307.7" y="424.5" width="1.9" height="6.6" fill="#716925"/>
<rect x="309.5" y="424.5" width="1.9" height="6.6" fill="#8e872b"/>
<rect x="311.4" y="424.5" width="1.9" height="6.6" fill="#5a5121"/>
<rect x="313.2" y="424.5" width="1.9" height="6.6" fill="#4e461f"/>
<rect x="315" y="424.5" width="1.9" height="6.6" fill="#1f111c"/>
<rect x="316.8" y="424.5" width="1.9" height="6.6" fill="#4c441f"/>
<rect x="318.7" y="424.5" width="1.9" height="6.6" fill="#dfdb39"/>
<rect x="320.5" y="424.5" width="1.9" height="6.6" fill="#a09a2e"/>
<rect x="322.3" y="424.5" width="1.9" height="6.6" fill="#f0ec3c"/>
<rect x="324.1" y="424.5" width="1.9" height="6.6" fill="#bfb933"/>
<rect x="325.9" y="424.5" width="1.9" height="6.6" fill="#dad538"/>
<rect x="327.8" y="424.5" width="1.9" height="6.6" fill="#756e26"/>
<rect x="329.6" y="424.5" width="1.9" height="6.6" fill="#341634"/>
<rect x="244" y="431" width="1.9" height="6.6" fill="#433a1d"/>
<rect x="245.8" y="431" width="1.9" height="6.6" fill="#1f111c"/>
<rect x="247.6" y="431" width="1.9" height="6.6" fill="#341635"/>
<rect x="249.5" y="431" width="1.9" height="6.6" fill="#352c1b"/>
<rect x="251.3" y="431" width="1.9" height="6.6" fill="#3b183c"/>
<rect x="253.1" y="431" width="1.9" height="6.6" fill="#351636"/>
<rect x="254.9" y="431" width="1.9" height="6.6" fill="#1d1119"/>
<rect x="256.7" y="431" width="1.9" height="6.6" fill="#39173b"/>
<rect x="258.6" y="431" width="1.9" height="6.6" fill="#1f111b"/>
<rect x="260.4" y="431" width="1.9" height="6.6" fill="#453c1e"/>
<rect x="262.2" y="431" width="1.9" height="6.6" fill="#1e111b"/>
<rect x="264" y="431" width="1.9" height="6.6" fill="#261324"/>
<rect x="265.9" y="431" width="1.9" height="6.6" fill="#2f152e"/>
<rect x="267.7" y="431" width="1.9" height="6.6" fill="#281327"/>
<rect x="269.5" y="431" width="1.9" height="6.6" fill="#453c1e"/>
<rect x="271.3" y="431" width="1.9" height="6.6" fill="#1c1216"/>
<rect x="273.1" y="431" width="1.9" height="6.6" fill="#291f19"/>
<rect x="275" y="431" width="1.9" height="6.6" fill="#461a4a"/>
<rect x="276.8" y="431" width="1.9" height="6.6" fill="#271325"/>
<rect x="278.6" y="431" width="1.9" height="6.6" fill="#3a183c"/>
<rect x="280.4" y="431" width="1.9" height="6.6" fill="#1f111b"/>
<rect x="282.2" y="431" width="1.9" height="6.6" fill="#3d183f"/>
<rect x="284.1" y="431" width="1.9" height="6.6" fill="#291428"/>
<rect x="285.9" y="431" width="1.9" height="6.6" fill="#1b1017"/>
<rect x="287.7" y="431" width="1.9" height="6.6" fill="#341634"/>
<rect x="289.5" y="431" width="1.9" height="6.6" fill="#d1cc37"/>
<rect x="291.3" y="431" width="1.9" height="6.6" fill="#1b1018"/>
<rect x="293.2" y="431" width="1.9" height="6.6" fill="#352b1b"/>
<rect x="295" y="431" width="1.9" height="6.6" fill="#f0ec3c"/>
<rect x="296.8" y="431" width="1.9" height="6.6" fill="#271d18"/>
<rect x="298.6" y="431" width="1.9" height="6.6" fill="#c0ba33"/>
<rect x="300.4" y="431" width="1.9" height="6.6" fill="#341634"/>
<rect x="302.3" y="431" width="1.9" height="6.6" fill="#341634"/>
<rect x="304.1" y="431" width="1.9" height="6.6" fill="#2d142c"/>
<rect x="305.9" y="431" width="1.9" height="6.6" fill="#341634"/>
<rect x="307.7" y="431" width="1.9" height="6.6" fill="#8b852a"/>
<rect x="309.5" y="431" width="1.9" height="6.6" fill="#341634"/>
<rect x="311.4" y="431" width="1.9" height="6.6" fill="#341634"/>
<rect x="313.2" y="431" width="1.9" height="6.6" fill="#5d5522"/>
<rect x="315" y="431" width="1.9" height="6.6" fill="#463d1e"/>
<rect x="316.8" y="431" width="1.9" height="6.6" fill="#847d29"/>
<rect x="318.7" y="431" width="1.9" height="6.6" fill="#847d29"/>
<rect x="320.5" y="431" width="1.9" height="6.6" fill="#b1ab31"/>
<rect x="322.3" y="431" width="1.9" height="6.6" fill="#f0ec3c"/>
<rect x="324.1" y="431" width="1.9" height="6.6" fill="#5e5622"/>
<rect x="325.9" y="431" width="1.9" height="6.6" fill="#1c1216"/>
<rect x="327.8" y="431" width="1.9" height="6.6" fill="#e6e23a"/>
<rect x="329.6" y="431" width="1.9" height="6.6" fill="#716925"/>
<rect x="244" y="437.6" width="1.9" height="6.6" fill="#351636"/>
<rect x="245.8" y="437.6" width="1.9" height="6.6" fill="#2f152e"/>
<rect x="247.6" y="437.6" width="1.9" height="6.6" fill="#431a46"/>
<rect x="249.5" y="437.6" width="1.9" height="6.6" fill="#421945"/>
<rect x="251.3" y="437.6" width="1.9" height="6.6" fill="#551e5b"/>
<rect x="253.1" y="437.6" width="1.9" height="6.6" fill="#4c1c51"/>
<rect x="254.9" y="437.6" width="1.9" height="6.6" fill="#4a1b4e"/>
<rect x="256.7" y="437.6" width="1.9" height="6.6" fill="#22121f"/>
<rect x="258.6" y="437.6" width="1.9" height="6.6" fill="#5a1f61"/>
<rect x="260.4" y="437.6" width="1.9" height="6.6" fill="#511d56"/>
<rect x="262.2" y="437.6" width="1.9" height="6.6" fill="#491b4e"/>
<rect x="264" y="437.6" width="1.9" height="6.6" fill="#481b4b"/>
<rect x="265.9" y="437.6" width="1.9" height="6.6" fill="#331634"/>
<rect x="267.7" y="437.6" width="1.9" height="6.6" fill="#5e2066"/>
<rect x="269.5" y="437.6" width="1.9" height="6.6" fill="#38173a"/>
<rect x="271.3" y="437.6" width="1.9" height="6.6" fill="#421945"/>
<rect x="273.1" y="437.6" width="1.9" height="6.6" fill="#571e5d"/>
<rect x="275" y="437.6" width="1.9" height="6.6" fill="#4b1c50"/>
<rect x="276.8" y="437.6" width="1.9" height="6.6" fill="#2f152f"/>
<rect x="278.6" y="437.6" width="1.9" height="6.6" fill="#541e5a"/>
<rect x="280.4" y="437.6" width="1.9" height="6.6" fill="#4d1c52"/>
<rect x="282.2" y="437.6" width="1.9" height="6.6" fill="#2f152e"/>
<rect x="284.1" y="437.6" width="1.9" height="6.6" fill="#481b4b"/>
<rect x="285.9" y="437.6" width="1.9" height="6.6" fill="#3f1941"/>
<rect x="287.7" y="437.6" width="1.9" height="6.6" fill="#524a20"/>
<rect x="289.5" y="437.6" width="1.9" height="6.6" fill="#30271a"/>
<rect x="291.3" y="437.6" width="1.9" height="6.6" fill="#49401e"/>
<rect x="293.2" y="437.6" width="1.9" height="6.6" fill="#8b842a"/>
<rect x="295" y="437.6" width="1.9" height="6.6" fill="#938d2c"/>
<rect x="296.8" y="437.6" width="1.9" height="6.6" fill="#b1ab31"/>
<rect x="298.6" y="437.6" width="1.9" height="6.6" fill="#b7b232"/>
<rect x="300.4" y="437.6" width="1.9" height="6.6" fill="#878029"/>
<rect x="302.3" y="437.6" width="1.9" height="6.6" fill="#97902c"/>
<rect x="304.1" y="437.6" width="1.9" height="6.6" fill="#f0ec3c"/>
<rect x="305.9" y="437.6" width="1.9" height="6.6" fill="#5e5622"/>
<rect x="307.7" y="437.6" width="1.9" height="6.6" fill="#807928"/>
<rect x="309.5" y="437.6" width="1.9" height="6.6" fill="#49411e"/>
<rect x="311.4" y="437.6" width="1.9" height="6.6" fill="#292019"/>
<rect x="313.2" y="437.6" width="1.9" height="6.6" fill="#49401e"/>
<rect x="315" y="437.6" width="1.9" height="6.6" fill="#504820"/>
<rect x="316.8" y="437.6" width="1.9" height="6.6" fill="#8b842a"/>
<rect x="318.7" y="437.6" width="1.9" height="6.6" fill="#9e972d"/>
<rect x="320.5" y="437.6" width="1.9" height="6.6" fill="#4d441f"/>
<rect x="322.3" y="437.6" width="1.9" height="6.6" fill="#aea830"/>
<rect x="324.1" y="437.6" width="1.9" height="6.6" fill="#362d1b"/>
<rect x="325.9" y="437.6" width="1.9" height="6.6" fill="#f0ec3c"/>
<rect x="327.8" y="437.6" width="1.9" height="6.6" fill="#7b7327"/>
<rect x="329.6" y="437.6" width="1.9" height="6.6" fill="#98912c"/>
<rect x="244" y="444.1" width="1.9" height="6.6" fill="#672270"/>
<rect x="245.8" y="444.1" width="1.9" height="6.6" fill="#612169"/>
<rect x="247.6" y="444.1" width="1.9" height="6.6" fill="#4d1c52"/>
<rect x="249.5" y="444.1" width="1.9" height="6.6" fill="#5a1f61"/>
<rect x="251.3" y="444.1" width="1.9" height="6.6" fill="#70247b"/>
<rect x="253.1" y="444.1" width="1.9" height="6.6" fill="#521d57"/>
<rect x="254.9" y="444.1" width="1.9" height="6.6" fill="#3d183f"/>
<rect x="256.7" y="444.1" width="1.9" height="6.6" fill="#682271"/>
<rect x="258.6" y="444.1" width="1.9" height="6.6" fill="#63216b"/>
<rect x="260.4" y="444.1" width="1.9" height="6.6" fill="#65216d"/>
<rect x="262.2" y="444.1" width="1.9" height="6.6" fill="#2e152d"/>
<rect x="264" y="444.1" width="1.9" height="6.6" fill="#511d57"/>
<rect x="265.9" y="444.1" width="1.9" height="6.6" fill="#421945"/>
<rect x="267.7" y="444.1" width="1.9" height="6.6" fill="#561e5d"/>
<rect x="269.5" y="444.1" width="1.9" height="6.6" fill="#2a1428"/>
<rect x="271.3" y="444.1" width="1.9" height="6.6" fill="#762682"/>
<rect x="273.1" y="444.1" width="1.9" height="6.6" fill="#612169"/>
<rect x="275" y="444.1" width="1.9" height="6.6" fill="#4b1b4f"/>
<rect x="276.8" y="444.1" width="1.9" height="6.6" fill="#551e5c"/>
<rect x="278.6" y="444.1" width="1.9" height="6.6" fill="#672270"/>
<rect x="280.4" y="444.1" width="1.9" height="6.6" fill="#511d56"/>
<rect x="282.2" y="444.1" width="1.9" height="6.6" fill="#561e5c"/>
<rect x="284.1" y="444.1" width="1.9" height="6.6" fill="#5a1f61"/>
<rect x="285.9" y="444.1" width="1.9" height="6.6" fill="#361737"/>
<rect x="287.7" y="444.1" width="1.9" height="6.6" fill="#221817"/>
<rect x="289.5" y="444.1" width="1.9" height="6.6" fill="#89832a"/>
<rect x="291.3" y="444.1" width="1.9" height="6.6" fill="#341634"/>
<rect x="293.2" y="444.1" width="1.9" height="6.6" fill="#787127"/>
<rect x="295" y="444.1" width="1.9" height="6.6" fill="#e6e13a"/>
<rect x="296.8" y="444.1" width="1.9" height="6.6" fill="#938d2c"/>
<rect x="298.6" y="444.1" width="1.9" height="6.6" fill="#574f21"/>
<rect x="300.4" y="444.1" width="1.9" height="6.6" fill="#443b1d"/>
<rect x="302.3" y="444.1" width="1.9" height="6.6" fill="#1b1018"/>
<rect x="304.1" y="444.1" width="1.9" height="6.6" fill="#4c431f"/>
<rect x="305.9" y="444.1" width="1.9" height="6.6" fill="#9c962d"/>
<rect x="307.7" y="444.1" width="1.9" height="6.6" fill="#746c26"/>
<rect x="309.5" y="444.1" width="1.9" height="6.6" fill="#c3be34"/>
<rect x="311.4" y="444.1" width="1.9" height="6.6" fill="#341634"/>
<rect x="313.2" y="444.1" width="1.9" height="6.6" fill="#1a1017"/>
<rect x="315" y="444.1" width="1.9" height="6.6" fill="#bfba33"/>
<rect x="316.8" y="444.1" width="1.9" height="6.6" fill="#574f21"/>
<rect x="318.7" y="444.1" width="1.9" height="6.6" fill="#341634"/>
<rect x="320.5" y="444.1" width="1.9" height="6.6" fill="#f0ec3c"/>
<rect x="322.3" y="444.1" width="1.9" height="6.6" fill="#4b421f"/>
<rect x="324.1" y="444.1" width="1.9" height="6.6" fill="#f0ec3c"/>
<rect x="325.9" y="444.1" width="1.9" height="6.6" fill="#271325"/>
<rect x="327.8" y="444.1" width="1.9" height="6.6" fill="#585021"/>
<rect x="329.6" y="444.1" width="1.9" height="6.6" fill="#5d5522"/>
<text x="0" y="0" font-size="5.3" fill="#3a3a3a" transform="translate(333.2 377.3) scale(1.16 1)" font-style="italic">OLIG2</text>
<text x="0" y="0" font-size="5.3" fill="#3a3a3a" transform="translate(333.2 383.8) scale(1.16 1)" font-style="italic">HES6</text>
<text x="0" y="0" font-size="5.3" fill="#3a3a3a" transform="translate(333.2 390.4) scale(1.16 1)" font-style="italic">BCAN</text>
<text x="0" y="0" font-size="5.3" fill="#3a3a3a" transform="translate(333.2 397) scale(1.16 1)" font-style="italic">DLL3</text>
<text x="0" y="0" font-size="5.3" fill="#3a3a3a" transform="translate(333.2 403.5) scale(1.16 1)" font-style="italic">OLIG1</text>
<text x="0" y="0" font-size="5.3" fill="#3a3a3a" transform="translate(333.2 410.1) scale(1.16 1)" font-style="italic">SOX10</text>
<text x="0" y="0" font-size="5.3" fill="#3a3a3a" transform="translate(333.2 416.6) scale(1.16 1)" font-style="italic">TNC</text>
<text x="0" y="0" font-size="5.3" fill="#3a3a3a" transform="translate(333.2 423.2) scale(1.16 1)" font-style="italic">CHI3L1</text>
<text x="0" y="0" font-size="5.3" fill="#3a3a3a" transform="translate(333.2 429.7) scale(1.16 1)" font-style="italic">CD44</text>
<text x="0" y="0" font-size="5.3" fill="#3a3a3a" transform="translate(333.2 436.3) scale(1.16 1)" font-style="italic">CHL1</text>
<text x="0" y="0" font-size="5.3" fill="#3a3a3a" transform="translate(333.2 442.9) scale(1.16 1)" font-style="italic">MEG3</text>
<text x="0" y="0" font-size="5.3" fill="#3a3a3a" transform="translate(333.2 449.4) scale(1.16 1)" font-style="italic">GFAP</text>
<rect x="259.8" y="454.8" width="69.3" height="65.7" fill="#3a2a30"/>
<rect x="259.8" y="454.8" width="5.8" height="2" fill="#292019"/>
<rect x="265.6" y="454.8" width="5.8" height="2" fill="#f0ec3c"/>
<rect x="271.4" y="454.8" width="5.8" height="2" fill="#dfdb39"/>
<rect x="277.1" y="454.8" width="5.8" height="2" fill="#b5af31"/>
<rect x="282.9" y="454.8" width="5.8" height="2" fill="#bfba33"/>
<rect x="288.7" y="454.8" width="5.8" height="2" fill="#401943"/>
<rect x="294.5" y="454.8" width="5.8" height="2" fill="#4e1c53"/>
<rect x="300.2" y="454.8" width="5.8" height="2" fill="#331633"/>
<rect x="306" y="454.8" width="5.8" height="2" fill="#331633"/>
<rect x="311.8" y="454.8" width="5.8" height="2" fill="#3e1941"/>
<rect x="317.6" y="454.8" width="5.8" height="2" fill="#4d1c52"/>
<rect x="323.3" y="454.8" width="5.8" height="2" fill="#511d57"/>
<rect x="259.8" y="456.7" width="5.8" height="2" fill="#281326"/>
<rect x="265.6" y="456.7" width="5.8" height="2" fill="#e6e13a"/>
<rect x="271.4" y="456.7" width="5.8" height="2" fill="#f0ec3c"/>
<rect x="277.1" y="456.7" width="5.8" height="2" fill="#e1dd39"/>
<rect x="282.9" y="456.7" width="5.8" height="2" fill="#b7b232"/>
<rect x="288.7" y="456.7" width="5.8" height="2" fill="#342b1b"/>
<rect x="294.5" y="456.7" width="5.8" height="2" fill="#561e5d"/>
<rect x="300.2" y="456.7" width="5.8" height="2" fill="#672270"/>
<rect x="306" y="456.7" width="5.8" height="2" fill="#321632"/>
<rect x="311.8" y="456.7" width="5.8" height="2" fill="#551e5b"/>
<rect x="317.6" y="456.7" width="5.8" height="2" fill="#2b142a"/>
<rect x="323.3" y="456.7" width="5.8" height="2" fill="#4a1b4f"/>
<rect x="259.8" y="458.7" width="5.8" height="2" fill="#473f1e"/>
<rect x="265.6" y="458.7" width="5.8" height="2" fill="#f0ec3c"/>
<rect x="271.4" y="458.7" width="5.8" height="2" fill="#8c852a"/>
<rect x="277.1" y="458.7" width="5.8" height="2" fill="#c6c135"/>
<rect x="282.9" y="458.7" width="5.8" height="2" fill="#b0aa31"/>
<rect x="288.7" y="458.7" width="5.8" height="2" fill="#66226f"/>
<rect x="294.5" y="458.7" width="5.8" height="2" fill="#451a48"/>
<rect x="300.2" y="458.7" width="5.8" height="2" fill="#3e1840"/>
<rect x="306" y="458.7" width="5.8" height="2" fill="#3f1942"/>
<rect x="311.8" y="458.7" width="5.8" height="2" fill="#491b4d"/>
<rect x="317.6" y="458.7" width="5.8" height="2" fill="#401942"/>
<rect x="323.3" y="458.7" width="5.8" height="2" fill="#431a46"/>
<rect x="259.8" y="460.6" width="5.8" height="2" fill="#4d441f"/>
<rect x="265.6" y="460.6" width="5.8" height="2" fill="#f0ec3c"/>
<rect x="271.4" y="460.6" width="5.8" height="2" fill="#bdb733"/>
<rect x="277.1" y="460.6" width="5.8" height="2" fill="#b8b332"/>
<rect x="282.9" y="460.6" width="5.8" height="2" fill="#817a28"/>
<rect x="288.7" y="460.6" width="5.8" height="2" fill="#271326"/>
<rect x="294.5" y="460.6" width="5.8" height="2" fill="#4a1b4e"/>
<rect x="300.2" y="460.6" width="5.8" height="2" fill="#3f1941"/>
<rect x="306" y="460.6" width="5.8" height="2" fill="#421945"/>
<rect x="311.8" y="460.6" width="5.8" height="2" fill="#421944"/>
<rect x="317.6" y="460.6" width="5.8" height="2" fill="#421945"/>
<rect x="323.3" y="460.6" width="5.8" height="2" fill="#361636"/>
<rect x="259.8" y="462.5" width="5.8" height="2" fill="#251323"/>
<rect x="265.6" y="462.5" width="5.8" height="2" fill="#e9e43b"/>
<rect x="271.4" y="462.5" width="5.8" height="2" fill="#c6c034"/>
<rect x="277.1" y="462.5" width="5.8" height="2" fill="#a49e2f"/>
<rect x="282.9" y="462.5" width="5.8" height="2" fill="#8e872b"/>
<rect x="288.7" y="462.5" width="5.8" height="2" fill="#1b1018"/>
<rect x="294.5" y="462.5" width="5.8" height="2" fill="#451a49"/>
<rect x="300.2" y="462.5" width="5.8" height="2" fill="#521d58"/>
<rect x="306" y="462.5" width="5.8" height="2" fill="#451a48"/>
<rect x="311.8" y="462.5" width="5.8" height="2" fill="#411944"/>
<rect x="317.6" y="462.5" width="5.8" height="2" fill="#5b1f62"/>
<rect x="323.3" y="462.5" width="5.8" height="2" fill="#682271"/>
<rect x="259.8" y="464.5" width="5.8" height="2" fill="#635b23"/>
<rect x="265.6" y="464.5" width="5.8" height="2" fill="#4a421f"/>
<rect x="271.4" y="464.5" width="5.8" height="2" fill="#bbb633"/>
<rect x="277.1" y="464.5" width="5.8" height="2" fill="#f0ec3c"/>
<rect x="282.9" y="464.5" width="5.8" height="2" fill="#ece83b"/>
<rect x="288.7" y="464.5" width="5.8" height="2" fill="#2a2119"/>
<rect x="294.5" y="464.5" width="5.8" height="2" fill="#6a2373"/>
<rect x="300.2" y="464.5" width="5.8" height="2" fill="#491b4d"/>
<rect x="306" y="464.5" width="5.8" height="2" fill="#501d56"/>
<rect x="311.8" y="464.5" width="5.8" height="2" fill="#351635"/>
<rect x="317.6" y="464.5" width="5.8" height="2" fill="#301530"/>
<rect x="323.3" y="464.5" width="5.8" height="2" fill="#3c183e"/>
<rect x="259.8" y="466.4" width="5.8" height="2" fill="#49401e"/>
<rect x="265.6" y="466.4" width="5.8" height="2" fill="#7d7628"/>
<rect x="271.4" y="466.4" width="5.8" height="2" fill="#49401e"/>
<rect x="277.1" y="466.4" width="5.8" height="2" fill="#645c23"/>
<rect x="282.9" y="466.4" width="5.8" height="2" fill="#cbc635"/>
<rect x="288.7" y="466.4" width="5.8" height="2" fill="#3a183c"/>
<rect x="294.5" y="466.4" width="5.8" height="2" fill="#561e5c"/>
<rect x="300.2" y="466.4" width="5.8" height="2" fill="#4f1c54"/>
<rect x="306" y="466.4" width="5.8" height="2" fill="#4d1c51"/>
<rect x="311.8" y="466.4" width="5.8" height="2" fill="#351635"/>
<rect x="317.6" y="466.4" width="5.8" height="2" fill="#531d59"/>
<rect x="323.3" y="466.4" width="5.8" height="2" fill="#3d183f"/>
<rect x="259.8" y="468.3" width="5.8" height="2" fill="#3e351c"/>
<rect x="265.6" y="468.3" width="5.8" height="2" fill="#e7e23a"/>
<rect x="271.4" y="468.3" width="5.8" height="2" fill="#1f111c"/>
<rect x="277.1" y="468.3" width="5.8" height="2" fill="#4e451f"/>
<rect x="282.9" y="468.3" width="5.8" height="2" fill="#595121"/>
<rect x="288.7" y="468.3" width="5.8" height="2" fill="#2c142b"/>
<rect x="294.5" y="468.3" width="5.8" height="2" fill="#1f1517"/>
<rect x="300.2" y="468.3" width="5.8" height="2" fill="#3c183d"/>
<rect x="306" y="468.3" width="5.8" height="2" fill="#591f60"/>
<rect x="311.8" y="468.3" width="5.8" height="2" fill="#501d55"/>
<rect x="317.6" y="468.3" width="5.8" height="2" fill="#371738"/>
<rect x="323.3" y="468.3" width="5.8" height="2" fill="#2e152e"/>
<rect x="259.8" y="470.3" width="5.8" height="2" fill="#1b1116"/>
<rect x="265.6" y="470.3" width="5.8" height="2" fill="#443b1d"/>
<rect x="271.4" y="470.3" width="5.8" height="2" fill="#1d1119"/>
<rect x="277.1" y="470.3" width="5.8" height="2" fill="#a29c2e"/>
<rect x="282.9" y="470.3" width="5.8" height="2" fill="#6f6825"/>
<rect x="288.7" y="470.3" width="5.8" height="2" fill="#1a1016"/>
<rect x="294.5" y="470.3" width="5.8" height="2" fill="#361737"/>
<rect x="300.2" y="470.3" width="5.8" height="2" fill="#1a1016"/>
<rect x="306" y="470.3" width="5.8" height="2" fill="#351635"/>
<rect x="311.8" y="470.3" width="5.8" height="2" fill="#311531"/>
<rect x="317.6" y="470.3" width="5.8" height="2" fill="#461a49"/>
<rect x="323.3" y="470.3" width="5.8" height="2" fill="#221220"/>
<rect x="259.8" y="472.2" width="5.8" height="2" fill="#231221"/>
<rect x="265.6" y="472.2" width="5.8" height="2" fill="#241222"/>
<rect x="271.4" y="472.2" width="5.8" height="2" fill="#534b20"/>
<rect x="277.1" y="472.2" width="5.8" height="2" fill="#625a23"/>
<rect x="282.9" y="472.2" width="5.8" height="2" fill="#9b952d"/>
<rect x="288.7" y="472.2" width="5.8" height="2" fill="#1b1116"/>
<rect x="294.5" y="472.2" width="5.8" height="2" fill="#6f2479"/>
<rect x="300.2" y="472.2" width="5.8" height="2" fill="#401942"/>
<rect x="306" y="472.2" width="5.8" height="2" fill="#491b4d"/>
<rect x="311.8" y="472.2" width="5.8" height="2" fill="#2a1428"/>
<rect x="317.6" y="472.2" width="5.8" height="2" fill="#4e1c52"/>
<rect x="323.3" y="472.2" width="5.8" height="2" fill="#321632"/>
<rect x="259.8" y="474.1" width="5.8" height="2" fill="#2d2319"/>
<rect x="265.6" y="474.1" width="5.8" height="2" fill="#aca630"/>
<rect x="271.4" y="474.1" width="5.8" height="2" fill="#4e451f"/>
<rect x="277.1" y="474.1" width="5.8" height="2" fill="#928b2b"/>
<rect x="282.9" y="474.1" width="5.8" height="2" fill="#1a1016"/>
<rect x="288.7" y="474.1" width="5.8" height="2" fill="#251323"/>
<rect x="294.5" y="474.1" width="5.8" height="2" fill="#461a4a"/>
<rect x="300.2" y="474.1" width="5.8" height="2" fill="#371738"/>
<rect x="306" y="474.1" width="5.8" height="2" fill="#2b142a"/>
<rect x="311.8" y="474.1" width="5.8" height="2" fill="#511d56"/>
<rect x="317.6" y="474.1" width="5.8" height="2" fill="#2a1429"/>
<rect x="323.3" y="474.1" width="5.8" height="2" fill="#371738"/>
<rect x="259.8" y="476.1" width="5.8" height="2" fill="#21121f"/>
<rect x="265.6" y="476.1" width="5.8" height="2" fill="#807828"/>
<rect x="271.4" y="476.1" width="5.8" height="2" fill="#1e111b"/>
<rect x="277.1" y="476.1" width="5.8" height="2" fill="#4b431f"/>
<rect x="282.9" y="476.1" width="5.8" height="2" fill="#7a7227"/>
<rect x="288.7" y="476.1" width="5.8" height="2" fill="#221817"/>
<rect x="294.5" y="476.1" width="5.8" height="2" fill="#401942"/>
<rect x="300.2" y="476.1" width="5.8" height="2" fill="#39173a"/>
<rect x="306" y="476.1" width="5.8" height="2" fill="#4f1c54"/>
<rect x="311.8" y="476.1" width="5.8" height="2" fill="#421945"/>
<rect x="317.6" y="476.1" width="5.8" height="2" fill="#4e1c53"/>
<rect x="323.3" y="476.1" width="5.8" height="2" fill="#521d57"/>
<rect x="259.8" y="478" width="5.8" height="2" fill="#40371d"/>
<rect x="265.6" y="478" width="5.8" height="2" fill="#511d56"/>
<rect x="271.4" y="478" width="5.8" height="2" fill="#311530"/>
<rect x="277.1" y="478" width="5.8" height="2" fill="#241221"/>
<rect x="282.9" y="478" width="5.8" height="2" fill="#2c2219"/>
<rect x="288.7" y="478" width="5.8" height="2" fill="#1f1617"/>
<rect x="294.5" y="478" width="5.8" height="2" fill="#5b1f62"/>
<rect x="300.2" y="478" width="5.8" height="2" fill="#4b1b4f"/>
<rect x="306" y="478" width="5.8" height="2" fill="#471b4b"/>
<rect x="311.8" y="478" width="5.8" height="2" fill="#3c183d"/>
<rect x="317.6" y="478" width="5.8" height="2" fill="#321633"/>
<rect x="323.3" y="478" width="5.8" height="2" fill="#351636"/>
<rect x="259.8" y="479.9" width="5.8" height="2" fill="#382f1b"/>
<rect x="265.6" y="479.9" width="5.8" height="2" fill="#21121e"/>
<rect x="271.4" y="479.9" width="5.8" height="2" fill="#32281a"/>
<rect x="277.1" y="479.9" width="5.8" height="2" fill="#342a1b"/>
<rect x="282.9" y="479.9" width="5.8" height="2" fill="#4e451f"/>
<rect x="288.7" y="479.9" width="5.8" height="2" fill="#461a49"/>
<rect x="294.5" y="479.9" width="5.8" height="2" fill="#481b4c"/>
<rect x="300.2" y="479.9" width="5.8" height="2" fill="#511d57"/>
<rect x="306" y="479.9" width="5.8" height="2" fill="#3f1941"/>
<rect x="311.8" y="479.9" width="5.8" height="2" fill="#571e5e"/>
<rect x="317.6" y="479.9" width="5.8" height="2" fill="#351635"/>
<rect x="323.3" y="479.9" width="5.8" height="2" fill="#331634"/>
<rect x="259.8" y="481.9" width="5.8" height="2" fill="#1d111a"/>
<rect x="265.6" y="481.9" width="5.8" height="2" fill="#241221"/>
<rect x="271.4" y="481.9" width="5.8" height="2" fill="#2c142b"/>
<rect x="277.1" y="481.9" width="5.8" height="2" fill="#4f1c54"/>
<rect x="282.9" y="481.9" width="5.8" height="2" fill="#342b1b"/>
<rect x="288.7" y="481.9" width="5.8" height="2" fill="#291f19"/>
<rect x="294.5" y="481.9" width="5.8" height="2" fill="#411944"/>
<rect x="300.2" y="481.9" width="5.8" height="2" fill="#4a1b4e"/>
<rect x="306" y="481.9" width="5.8" height="2" fill="#331634"/>
<rect x="311.8" y="481.9" width="5.8" height="2" fill="#321632"/>
<rect x="317.6" y="481.9" width="5.8" height="2" fill="#1e1417"/>
<rect x="323.3" y="481.9" width="5.8" height="2" fill="#291428"/>
<rect x="259.8" y="483.8" width="5.8" height="2" fill="#22121f"/>
<rect x="265.6" y="483.8" width="5.8" height="2" fill="#c5c034"/>
<rect x="271.4" y="483.8" width="5.8" height="2" fill="#561e5c"/>
<rect x="277.1" y="483.8" width="5.8" height="2" fill="#311531"/>
<rect x="282.9" y="483.8" width="5.8" height="2" fill="#39301b"/>
<rect x="288.7" y="483.8" width="5.8" height="2" fill="#1f111c"/>
<rect x="294.5" y="483.8" width="5.8" height="2" fill="#301530"/>
<rect x="300.2" y="483.8" width="5.8" height="2" fill="#291428"/>
<rect x="306" y="483.8" width="5.8" height="2" fill="#39173a"/>
<rect x="311.8" y="483.8" width="5.8" height="2" fill="#3d183f"/>
<rect x="317.6" y="483.8" width="5.8" height="2" fill="#431a46"/>
<rect x="323.3" y="483.8" width="5.8" height="2" fill="#371738"/>
<rect x="259.8" y="485.7" width="5.8" height="2" fill="#8b2a9a"/>
<rect x="265.6" y="485.7" width="5.8" height="2" fill="#201617"/>
<rect x="271.4" y="485.7" width="5.8" height="2" fill="#401943"/>
<rect x="277.1" y="485.7" width="5.8" height="2" fill="#221220"/>
<rect x="282.9" y="485.7" width="5.8" height="2" fill="#3a311c"/>
<rect x="288.7" y="485.7" width="5.8" height="2" fill="#4c1c51"/>
<rect x="294.5" y="485.7" width="5.8" height="2" fill="#f0ec3c"/>
<rect x="300.2" y="485.7" width="5.8" height="2" fill="#b1ab31"/>
<rect x="306" y="485.7" width="5.8" height="2" fill="#726a26"/>
<rect x="311.8" y="485.7" width="5.8" height="2" fill="#d4cf37"/>
<rect x="317.6" y="485.7" width="5.8" height="2" fill="#c0bb33"/>
<rect x="323.3" y="485.7" width="5.8" height="2" fill="#ddd839"/>
<rect x="259.8" y="487.6" width="5.8" height="2" fill="#7b2787"/>
<rect x="265.6" y="487.6" width="5.8" height="2" fill="#321632"/>
<rect x="271.4" y="487.6" width="5.8" height="2" fill="#30271a"/>
<rect x="277.1" y="487.6" width="5.8" height="2" fill="#20111c"/>
<rect x="282.9" y="487.6" width="5.8" height="2" fill="#321632"/>
<rect x="288.7" y="487.6" width="5.8" height="2" fill="#551e5b"/>
<rect x="294.5" y="487.6" width="5.8" height="2" fill="#e9e53b"/>
<rect x="300.2" y="487.6" width="5.8" height="2" fill="#e6e23a"/>
<rect x="306" y="487.6" width="5.8" height="2" fill="#c9c435"/>
<rect x="311.8" y="487.6" width="5.8" height="2" fill="#958e2c"/>
<rect x="317.6" y="487.6" width="5.8" height="2" fill="#c0bb33"/>
<rect x="323.3" y="487.6" width="5.8" height="2" fill="#deda39"/>
<rect x="259.8" y="489.6" width="5.8" height="2" fill="#73257e"/>
<rect x="265.6" y="489.6" width="5.8" height="2" fill="#2a1429"/>
<rect x="271.4" y="489.6" width="5.8" height="2" fill="#1c1018"/>
<rect x="277.1" y="489.6" width="5.8" height="2" fill="#21121e"/>
<rect x="282.9" y="489.6" width="5.8" height="2" fill="#352b1b"/>
<rect x="288.7" y="489.6" width="5.8" height="2" fill="#571e5e"/>
<rect x="294.5" y="489.6" width="5.8" height="2" fill="#3d341c"/>
<rect x="300.2" y="489.6" width="5.8" height="2" fill="#8e872b"/>
<rect x="306" y="489.6" width="5.8" height="2" fill="#d3ce37"/>
<rect x="311.8" y="489.6" width="5.8" height="2" fill="#3b321c"/>
<rect x="317.6" y="489.6" width="5.8" height="2" fill="#bcb733"/>
<rect x="323.3" y="489.6" width="5.8" height="2" fill="#b2ad31"/>
<rect x="259.8" y="491.5" width="5.8" height="2" fill="#8e2b9d"/>
<rect x="265.6" y="491.5" width="5.8" height="2" fill="#231221"/>
<rect x="271.4" y="491.5" width="5.8" height="2" fill="#1f111c"/>
<rect x="277.1" y="491.5" width="5.8" height="2" fill="#2d142c"/>
<rect x="282.9" y="491.5" width="5.8" height="2" fill="#301530"/>
<rect x="288.7" y="491.5" width="5.8" height="2" fill="#521d58"/>
<rect x="294.5" y="491.5" width="5.8" height="2" fill="#c3bd34"/>
<rect x="300.2" y="491.5" width="5.8" height="2" fill="#bfb933"/>
<rect x="306" y="491.5" width="5.8" height="2" fill="#837c29"/>
<rect x="311.8" y="491.5" width="5.8" height="2" fill="#7c7527"/>
<rect x="317.6" y="491.5" width="5.8" height="2" fill="#958e2c"/>
<rect x="323.3" y="491.5" width="5.8" height="2" fill="#a59f2f"/>
<rect x="259.8" y="493.4" width="5.8" height="2" fill="#73257f"/>
<rect x="265.6" y="493.4" width="5.8" height="2" fill="#1c1119"/>
<rect x="271.4" y="493.4" width="5.8" height="2" fill="#1c1119"/>
<rect x="277.1" y="493.4" width="5.8" height="2" fill="#1c1216"/>
<rect x="282.9" y="493.4" width="5.8" height="2" fill="#241222"/>
<rect x="288.7" y="493.4" width="5.8" height="2" fill="#501d55"/>
<rect x="294.5" y="493.4" width="5.8" height="2" fill="#f0ec3c"/>
<rect x="300.2" y="493.4" width="5.8" height="2" fill="#cac535"/>
<rect x="306" y="493.4" width="5.8" height="2" fill="#aca630"/>
<rect x="311.8" y="493.4" width="5.8" height="2" fill="#a69f2f"/>
<rect x="317.6" y="493.4" width="5.8" height="2" fill="#e1dd39"/>
<rect x="323.3" y="493.4" width="5.8" height="2" fill="#d8d438"/>
<rect x="259.8" y="495.4" width="5.8" height="2" fill="#872a96"/>
<rect x="265.6" y="495.4" width="5.8" height="2" fill="#2c142b"/>
<rect x="271.4" y="495.4" width="5.8" height="2" fill="#371738"/>
<rect x="277.1" y="495.4" width="5.8" height="2" fill="#3c183d"/>
<rect x="282.9" y="495.4" width="5.8" height="2" fill="#251b18"/>
<rect x="288.7" y="495.4" width="5.8" height="2" fill="#541e5a"/>
<rect x="294.5" y="495.4" width="5.8" height="2" fill="#6f6725"/>
<rect x="300.2" y="495.4" width="5.8" height="2" fill="#b8b332"/>
<rect x="306" y="495.4" width="5.8" height="2" fill="#e3de3a"/>
<rect x="311.8" y="495.4" width="5.8" height="2" fill="#b1ac31"/>
<rect x="317.6" y="495.4" width="5.8" height="2" fill="#a9a32f"/>
<rect x="323.3" y="495.4" width="5.8" height="2" fill="#d5d037"/>
<rect x="259.8" y="497.3" width="5.8" height="2" fill="#692373"/>
<rect x="265.6" y="497.3" width="5.8" height="2" fill="#241a18"/>
<rect x="271.4" y="497.3" width="5.8" height="2" fill="#463d1e"/>
<rect x="277.1" y="497.3" width="5.8" height="2" fill="#2f152e"/>
<rect x="282.9" y="497.3" width="5.8" height="2" fill="#21121f"/>
<rect x="288.7" y="497.3" width="5.8" height="2" fill="#411944"/>
<rect x="294.5" y="497.3" width="5.8" height="2" fill="#9d972d"/>
<rect x="300.2" y="497.3" width="5.8" height="2" fill="#918b2b"/>
<rect x="306" y="497.3" width="5.8" height="2" fill="#f0ec3c"/>
<rect x="311.8" y="497.3" width="5.8" height="2" fill="#aba530"/>
<rect x="317.6" y="497.3" width="5.8" height="2" fill="#dad538"/>
<rect x="323.3" y="497.3" width="5.8" height="2" fill="#c6c034"/>
<rect x="259.8" y="499.2" width="5.8" height="2" fill="#82288f"/>
<rect x="265.6" y="499.2" width="5.8" height="2" fill="#261324"/>
<rect x="271.4" y="499.2" width="5.8" height="2" fill="#291428"/>
<rect x="277.1" y="499.2" width="5.8" height="2" fill="#2f152e"/>
<rect x="282.9" y="499.2" width="5.8" height="2" fill="#261324"/>
<rect x="288.7" y="499.2" width="5.8" height="2" fill="#571e5d"/>
<rect x="294.5" y="499.2" width="5.8" height="2" fill="#c5c034"/>
<rect x="300.2" y="499.2" width="5.8" height="2" fill="#d6d237"/>
<rect x="306" y="499.2" width="5.8" height="2" fill="#f0ec3c"/>
<rect x="311.8" y="499.2" width="5.8" height="2" fill="#aba530"/>
<rect x="317.6" y="499.2" width="5.8" height="2" fill="#564d21"/>
<rect x="323.3" y="499.2" width="5.8" height="2" fill="#d3ce37"/>
<rect x="259.8" y="501.2" width="5.8" height="2" fill="#81288f"/>
<rect x="265.6" y="501.2" width="5.8" height="2" fill="#441a47"/>
<rect x="271.4" y="501.2" width="5.8" height="2" fill="#1e111b"/>
<rect x="277.1" y="501.2" width="5.8" height="2" fill="#211817"/>
<rect x="282.9" y="501.2" width="5.8" height="2" fill="#281327"/>
<rect x="288.7" y="501.2" width="5.8" height="2" fill="#401942"/>
<rect x="294.5" y="501.2" width="5.8" height="2" fill="#aaa430"/>
<rect x="300.2" y="501.2" width="5.8" height="2" fill="#8c852a"/>
<rect x="306" y="501.2" width="5.8" height="2" fill="#bbb533"/>
<rect x="311.8" y="501.2" width="5.8" height="2" fill="#9d972d"/>
<rect x="317.6" y="501.2" width="5.8" height="2" fill="#c7c235"/>
<rect x="323.3" y="501.2" width="5.8" height="2" fill="#746c26"/>
<rect x="259.8" y="503.1" width="5.8" height="2" fill="#80288d"/>
<rect x="265.6" y="503.1" width="5.8" height="2" fill="#221917"/>
<rect x="271.4" y="503.1" width="5.8" height="2" fill="#231221"/>
<rect x="277.1" y="503.1" width="5.8" height="2" fill="#2e152d"/>
<rect x="282.9" y="503.1" width="5.8" height="2" fill="#1d1316"/>
<rect x="288.7" y="503.1" width="5.8" height="2" fill="#5e2066"/>
<rect x="294.5" y="503.1" width="5.8" height="2" fill="#90892b"/>
<rect x="300.2" y="503.1" width="5.8" height="2" fill="#b3ad31"/>
<rect x="306" y="503.1" width="5.8" height="2" fill="#bbb533"/>
<rect x="311.8" y="503.1" width="5.8" height="2" fill="#afa931"/>
<rect x="317.6" y="503.1" width="5.8" height="2" fill="#5b5322"/>
<rect x="323.3" y="503.1" width="5.8" height="2" fill="#f0ec3c"/>
<rect x="259.8" y="505" width="5.8" height="2" fill="#872a96"/>
<rect x="265.6" y="505" width="5.8" height="2" fill="#201617"/>
<rect x="271.4" y="505" width="5.8" height="2" fill="#22121f"/>
<rect x="277.1" y="505" width="5.8" height="2" fill="#271325"/>
<rect x="282.9" y="505" width="5.8" height="2" fill="#241222"/>
<rect x="288.7" y="505" width="5.8" height="2" fill="#6e2478"/>
<rect x="294.5" y="505" width="5.8" height="2" fill="#f0ec3c"/>
<rect x="300.2" y="505" width="5.8" height="2" fill="#f0ec3c"/>
<rect x="306" y="505" width="5.8" height="2" fill="#e8e43b"/>
<rect x="311.8" y="505" width="5.8" height="2" fill="#8b842a"/>
<rect x="317.6" y="505" width="5.8" height="2" fill="#797227"/>
<rect x="323.3" y="505" width="5.8" height="2" fill="#ece83b"/>
<rect x="259.8" y="507" width="5.8" height="2" fill="#7f288c"/>
<rect x="265.6" y="507" width="5.8" height="2" fill="#281326"/>
<rect x="271.4" y="507" width="5.8" height="2" fill="#382e1b"/>
<rect x="277.1" y="507" width="5.8" height="2" fill="#1d1417"/>
<rect x="282.9" y="507" width="5.8" height="2" fill="#441a48"/>
<rect x="288.7" y="507" width="5.8" height="2" fill="#501d55"/>
<rect x="294.5" y="507" width="5.8" height="2" fill="#b5b032"/>
<rect x="300.2" y="507" width="5.8" height="2" fill="#e3de3a"/>
<rect x="306" y="507" width="5.8" height="2" fill="#f0ec3c"/>
<rect x="311.8" y="507" width="5.8" height="2" fill="#e2de3a"/>
<rect x="317.6" y="507" width="5.8" height="2" fill="#5b5322"/>
<rect x="323.3" y="507" width="5.8" height="2" fill="#b8b232"/>
<rect x="259.8" y="508.9" width="5.8" height="2" fill="#72257d"/>
<rect x="265.6" y="508.9" width="5.8" height="2" fill="#20111d"/>
<rect x="271.4" y="508.9" width="5.8" height="2" fill="#21121e"/>
<rect x="277.1" y="508.9" width="5.8" height="2" fill="#231220"/>
<rect x="282.9" y="508.9" width="5.8" height="2" fill="#1e111a"/>
<rect x="288.7" y="508.9" width="5.8" height="2" fill="#4d1c52"/>
<rect x="294.5" y="508.9" width="5.8" height="2" fill="#f0ec3c"/>
<rect x="300.2" y="508.9" width="5.8" height="2" fill="#7c7527"/>
<rect x="306" y="508.9" width="5.8" height="2" fill="#b4ae31"/>
<rect x="311.8" y="508.9" width="5.8" height="2" fill="#aea830"/>
<rect x="317.6" y="508.9" width="5.8" height="2" fill="#a7a12f"/>
<rect x="323.3" y="508.9" width="5.8" height="2" fill="#958f2c"/>
<rect x="259.8" y="510.8" width="5.8" height="2" fill="#62216a"/>
<rect x="265.6" y="510.8" width="5.8" height="2" fill="#1b1018"/>
<rect x="271.4" y="510.8" width="5.8" height="2" fill="#2e2419"/>
<rect x="277.1" y="510.8" width="5.8" height="2" fill="#2d152d"/>
<rect x="282.9" y="510.8" width="5.8" height="2" fill="#261c18"/>
<rect x="288.7" y="510.8" width="5.8" height="2" fill="#511d57"/>
<rect x="294.5" y="510.8" width="5.8" height="2" fill="#d8d338"/>
<rect x="300.2" y="510.8" width="5.8" height="2" fill="#a59f2f"/>
<rect x="306" y="510.8" width="5.8" height="2" fill="#f0ec3c"/>
<rect x="311.8" y="510.8" width="5.8" height="2" fill="#888129"/>
<rect x="317.6" y="510.8" width="5.8" height="2" fill="#c1bc34"/>
<rect x="323.3" y="510.8" width="5.8" height="2" fill="#dfdb39"/>
<rect x="259.8" y="512.8" width="5.8" height="2" fill="#7f288c"/>
<rect x="265.6" y="512.8" width="5.8" height="2" fill="#38173a"/>
<rect x="271.4" y="512.8" width="5.8" height="2" fill="#1e111b"/>
<rect x="277.1" y="512.8" width="5.8" height="2" fill="#321632"/>
<rect x="282.9" y="512.8" width="5.8" height="2" fill="#241222"/>
<rect x="288.7" y="512.8" width="5.8" height="2" fill="#411944"/>
<rect x="294.5" y="512.8" width="5.8" height="2" fill="#aca630"/>
<rect x="300.2" y="512.8" width="5.8" height="2" fill="#f0ec3c"/>
<rect x="306" y="512.8" width="5.8" height="2" fill="#c0bb33"/>
<rect x="311.8" y="512.8" width="5.8" height="2" fill="#eeea3c"/>
<rect x="317.6" y="512.8" width="5.8" height="2" fill="#918a2b"/>
<rect x="323.3" y="512.8" width="5.8" height="2" fill="#f0ec3c"/>
<rect x="259.8" y="514.7" width="5.8" height="2" fill="#5b1f62"/>
<rect x="265.6" y="514.7" width="5.8" height="2" fill="#372e1b"/>
<rect x="271.4" y="514.7" width="5.8" height="2" fill="#311531"/>
<rect x="277.1" y="514.7" width="5.8" height="2" fill="#3f361d"/>
<rect x="282.9" y="514.7" width="5.8" height="2" fill="#221817"/>
<rect x="288.7" y="514.7" width="5.8" height="2" fill="#3c183d"/>
<rect x="294.5" y="514.7" width="5.8" height="2" fill="#b2ac31"/>
<rect x="300.2" y="514.7" width="5.8" height="2" fill="#9b952d"/>
<rect x="306" y="514.7" width="5.8" height="2" fill="#a19b2e"/>
<rect x="311.8" y="514.7" width="5.8" height="2" fill="#8b842a"/>
<rect x="317.6" y="514.7" width="5.8" height="2" fill="#e1dd39"/>
<rect x="323.3" y="514.7" width="5.8" height="2" fill="#aca630"/>
<rect x="259.8" y="516.6" width="5.8" height="2" fill="#6c2376"/>
<rect x="265.6" y="516.6" width="5.8" height="2" fill="#341634"/>
<rect x="271.4" y="516.6" width="5.8" height="2" fill="#281326"/>
<rect x="277.1" y="516.6" width="5.8" height="2" fill="#1f111b"/>
<rect x="282.9" y="516.6" width="5.8" height="2" fill="#1f1517"/>
<rect x="288.7" y="516.6" width="5.8" height="2" fill="#6c2376"/>
<rect x="294.5" y="516.6" width="5.8" height="2" fill="#f0ec3c"/>
<rect x="300.2" y="516.6" width="5.8" height="2" fill="#88822a"/>
<rect x="306" y="516.6" width="5.8" height="2" fill="#e8e43b"/>
<rect x="311.8" y="516.6" width="5.8" height="2" fill="#f0ec3c"/>
<rect x="317.6" y="516.6" width="5.8" height="2" fill="#beb833"/>
<rect x="323.3" y="516.6" width="5.8" height="2" fill="#928b2b"/>
<rect x="259.8" y="518.6" width="5.8" height="2" fill="#782684"/>
<rect x="265.6" y="518.6" width="5.8" height="2" fill="#291428"/>
<rect x="271.4" y="518.6" width="5.8" height="2" fill="#2c142b"/>
<rect x="277.1" y="518.6" width="5.8" height="2" fill="#3b183d"/>
<rect x="282.9" y="518.6" width="5.8" height="2" fill="#1e1517"/>
<rect x="288.7" y="518.6" width="5.8" height="2" fill="#431a46"/>
<rect x="294.5" y="518.6" width="5.8" height="2" fill="#615823"/>
<rect x="300.2" y="518.6" width="5.8" height="2" fill="#564d21"/>
<rect x="306" y="518.6" width="5.8" height="2" fill="#7f7828"/>
<rect x="311.8" y="518.6" width="5.8" height="2" fill="#c5c034"/>
<rect x="317.6" y="518.6" width="5.8" height="2" fill="#d3ce37"/>
<rect x="323.3" y="518.6" width="5.8" height="2" fill="#b7b232"/>
<line x1="252.5" y1="515" x2="252.5" y2="459.5" stroke="#222" stroke-width="1.1"/>
<path d="M252.5 454.8 L249.7 461 L255.3 461 Z" fill="#222"/>
<text x="248.5" y="484.6" font-size="8.5" text-anchor="middle" transform="rotate(-90 248.5 484.6)" stroke="#2a2a2a" stroke-width="0.22">PC2 score</text>
<text x="0" y="0" font-size="4.9" fill="#2e2e2e" transform="translate(263.9 522.6) rotate(-90) scale(1.25 1)" text-anchor="end" font-style="italic">TOP2A</text>
<text x="0" y="0" font-size="4.9" fill="#2e2e2e" transform="translate(269.7 522.6) rotate(-90) scale(1.25 1)" text-anchor="end" font-style="italic">CENPK</text>
<text x="0" y="0" font-size="4.9" fill="#2e2e2e" transform="translate(275.4 522.6) rotate(-90) scale(1.25 1)" text-anchor="end" font-style="italic">MKI67</text>
<text x="0" y="0" font-size="4.9" fill="#2e2e2e" transform="translate(281.2 522.6) rotate(-90) scale(1.25 1)" text-anchor="end" font-style="italic">CENPF</text>
<text x="0" y="0" font-size="4.9" fill="#2e2e2e" transform="translate(287 522.6) rotate(-90) scale(1.25 1)" text-anchor="end" font-style="italic">CENPE</text>
<text x="0" y="0" font-size="4.9" fill="#2e2e2e" transform="translate(292.8 522.6) rotate(-90) scale(1.25 1)" text-anchor="end" font-style="italic">CIT</text>
<text x="0" y="0" font-size="4.9" fill="#2e2e2e" transform="translate(298.5 522.6) rotate(-90) scale(1.25 1)" text-anchor="end" font-style="italic">VEGFA</text>
<text x="0" y="0" font-size="4.9" fill="#2e2e2e" transform="translate(304.3 522.6) rotate(-90) scale(1.25 1)" text-anchor="end" font-style="italic">PLPPR1</text>
<text x="0" y="0" font-size="4.9" fill="#2e2e2e" transform="translate(310.1 522.6) rotate(-90) scale(1.25 1)" text-anchor="end" font-style="italic">MYT1</text>
<text x="0" y="0" font-size="4.9" fill="#2e2e2e" transform="translate(315.9 522.6) rotate(-90) scale(1.25 1)" text-anchor="end" font-style="italic">NRXN1</text>
<text x="0" y="0" font-size="4.9" fill="#2e2e2e" transform="translate(321.6 522.6) rotate(-90) scale(1.25 1)" text-anchor="end" font-style="italic">NRN1</text>
<text x="0" y="0" font-size="4.9" fill="#2e2e2e" transform="translate(327.4 522.6) rotate(-90) scale(1.25 1)" text-anchor="end" font-style="italic">NDRG1</text>
<defs><linearGradient id="zg2" x1="0" y1="0" x2="0" y2="1"><stop offset="0" stop-color="#dcd640"/><stop offset="0.2" stop-color="#c8c23a"/><stop offset="0.55" stop-color="#120e12"/><stop offset="0.8" stop-color="#6a2470"/><stop offset="1" stop-color="#bc48bc"/></linearGradient></defs>
<rect x="345.1" y="471.9" width="7.3" height="26.7" fill="url(#zg2)"/>
<text x="351.5" y="470.9" font-size="6.5" transform="rotate(-90 351.5 470.9)">2</text>
<text x="351.5" y="508" font-size="6.5" transform="rotate(-90 351.5 508)">−2</text>
<text x="343.4" y="485" font-size="7" text-anchor="middle" transform="rotate(-90 343.4 485)" stroke="#2a2a2a" stroke-width="0.22"><tspan font-style="italic">Z</tspan>-score</text>
<text x="380.3" y="359.6" font-size="11" font-weight="bold" fill="#111" stroke="#111" stroke-width="0.22">F</text>
<path d="M448 366.5 L449.2 383 L452.4 401 L457.8 416.4 L463.4 427 L467.3 425.5 L471.4 416.4 L475.3 400 L476.8 383 L476.5 366.5 L471.4 366.5 L469.2 383 L463.6 397.6 L460.3 383 L457 366.5 Z" fill="#0d0d0d"/>
<path d="M448 366.5 L449.2 383 L452.4 401 L457.8 416.4 L463.4 427 L467.3 425.5 L471.4 416.4 L475.3 400 L476.8 383 L476.5 366.5 L471.4 366.5 L469.2 383 L463.6 397.6 L460.3 383 L457 366.5 Z" fill="url(#spk)"/>
<circle cx="472.9" cy="368.9" r="1" fill="#0d0d0d"/>
<circle cx="449.7" cy="389.6" r="1" fill="#0d0d0d"/>
<circle cx="450.1" cy="365.5" r="1" fill="#0d0d0d"/>
<circle cx="466.1" cy="388" r="1" fill="#0d0d0d"/>
<circle cx="468.2" cy="422.6" r="1" fill="#0d0d0d"/>
<circle cx="461.2" cy="423.3" r="1" fill="#0d0d0d"/>
<circle cx="458.6" cy="417.7" r="1" fill="#0d0d0d"/>
<circle cx="469.2" cy="421" r="1" fill="#0d0d0d"/>
<circle cx="466.8" cy="393.3" r="1" fill="#0d0d0d"/>
<circle cx="476.5" cy="369.1" r="1" fill="#0d0d0d"/>
<circle cx="467.1" cy="424.2" r="1" fill="#0d0d0d"/>
<circle cx="460.1" cy="420.2" r="1" fill="#0d0d0d"/>
<circle cx="446.8" cy="373.1" r="1" fill="#0d0d0d"/>
<circle cx="461.8" cy="388.1" r="1" fill="#0d0d0d"/>
<circle cx="452.8" cy="396.8" r="1" fill="#0d0d0d"/>
<circle cx="470" cy="378.6" r="1" fill="#0d0d0d"/>
<circle cx="453.5" cy="366" r="1" fill="#0d0d0d"/>
<circle cx="455.3" cy="366.4" r="1" fill="#0d0d0d"/>
<circle cx="469.1" cy="385.2" r="1" fill="#0d0d0d"/>
<circle cx="472.1" cy="418.7" r="1" fill="#0d0d0d"/>
<circle cx="469" cy="384.5" r="1" fill="#0d0d0d"/>
<circle cx="450.8" cy="392.5" r="1" fill="#0d0d0d"/>
<circle cx="451.1" cy="366.7" r="1" fill="#0d0d0d"/>
<circle cx="456.2" cy="367.3" r="1" fill="#0d0d0d"/>
<circle cx="449.8" cy="371.8" r="1" fill="#0d0d0d"/>
<circle cx="474.2" cy="368" r="1" fill="#0d0d0d"/>
<circle cx="466.7" cy="391.2" r="1" fill="#0d0d0d"/>
<circle cx="455" cy="414.1" r="1" fill="#0d0d0d"/>
<circle cx="459.8" cy="382.3" r="1" fill="#0d0d0d"/>
<circle cx="461.9" cy="428.4" r="1" fill="#0d0d0d"/>
<circle cx="452.2" cy="387.9" r="1" fill="#0d0d0d"/>
<circle cx="462.6" cy="394.7" r="1" fill="#0d0d0d"/>
<circle cx="468.1" cy="422.9" r="1" fill="#0d0d0d"/>
<circle cx="468.3" cy="378" r="1" fill="#0d0d0d"/>
<circle cx="464.8" cy="424.6" r="1" fill="#0d0d0d"/>
<circle cx="461.1" cy="391.2" r="1" fill="#0d0d0d"/>
<circle cx="476" cy="367.1" r="1" fill="#0d0d0d"/>
<circle cx="463.8" cy="394.2" r="1" fill="#0d0d0d"/>
<circle cx="463.2" cy="425.2" r="1" fill="#0d0d0d"/>
<circle cx="471.3" cy="415.9" r="1" fill="#0d0d0d"/>
<circle cx="463.6" cy="395.4" r="1" fill="#0d0d0d"/>
<circle cx="471.2" cy="378.1" r="1" fill="#0d0d0d"/>
<circle cx="477" cy="382.2" r="1" fill="#0d0d0d"/>
<circle cx="452" cy="394" r="1" fill="#0d0d0d"/>
<circle cx="469.9" cy="419.7" r="1" fill="#0d0d0d"/>
<circle cx="458.3" cy="419.6" r="1" fill="#0d0d0d"/>
<circle cx="460.1" cy="418.4" r="1" fill="#0d0d0d"/>
<circle cx="451.1" cy="398.1" r="1" fill="#0d0d0d"/>
<circle cx="460.7" cy="386.5" r="1" fill="#0d0d0d"/>
<circle cx="473.5" cy="365.7" r="1" fill="#0d0d0d"/>
<circle cx="457.5" cy="370" r="1" fill="#0d0d0d"/>
<circle cx="449.7" cy="388.8" r="1" fill="#0d0d0d"/>
<circle cx="459.9" cy="419.6" r="1" fill="#0d0d0d"/>
<circle cx="462.9" cy="424.5" r="1" fill="#0d0d0d"/>
<circle cx="473.7" cy="366.6" r="1" fill="#0d0d0d"/>
<circle cx="477.3" cy="366.8" r="1" fill="#0d0d0d"/>
<circle cx="461.8" cy="424.5" r="1" fill="#0d0d0d"/>
<circle cx="472.3" cy="366.8" r="1" fill="#0d0d0d"/>
<circle cx="476.8" cy="396.1" r="1" fill="#0d0d0d"/>
<circle cx="449.1" cy="365.2" r="1" fill="#0d0d0d"/>
<circle cx="453.8" cy="407.5" r="1" fill="#0d0d0d"/>
<circle cx="458.7" cy="380.9" r="1" fill="#0d0d0d"/>
<circle cx="469" cy="380.8" r="1" fill="#0d0d0d"/>
<circle cx="467.8" cy="423.3" r="1" fill="#0d0d0d"/>
<circle cx="467.3" cy="387.9" r="1" fill="#0d0d0d"/>
<circle cx="453.9" cy="366.4" r="1" fill="#0d0d0d"/>
<circle cx="450.3" cy="366.8" r="1" fill="#0d0d0d"/>
<circle cx="452.6" cy="402" r="1" fill="#0d0d0d"/>
<circle cx="472.4" cy="408.6" r="1" fill="#0d0d0d"/>
<circle cx="469.5" cy="420.8" r="1" fill="#0d0d0d"/>
<circle cx="457" cy="371" r="1" fill="#0d0d0d"/>
<circle cx="457.3" cy="365.1" r="1" fill="#0d0d0d"/>
<circle cx="474.4" cy="393.8" r="1" fill="#0d0d0d"/>
<circle cx="452.6" cy="367.6" r="1" fill="#0d0d0d"/>
<circle cx="474.1" cy="366.7" r="1" fill="#0d0d0d"/>
<circle cx="464.1" cy="426.2" r="1" fill="#0d0d0d"/>
<circle cx="477.1" cy="381.1" r="1" fill="#0d0d0d"/>
<circle cx="469.9" cy="418" r="1" fill="#0d0d0d"/>
<circle cx="457.6" cy="412.3" r="1" fill="#0d0d0d"/>
<circle cx="461.6" cy="424.8" r="1" fill="#0d0d0d"/>
<circle cx="458.1" cy="378.8" r="1" fill="#0d0d0d"/>
<circle cx="471.6" cy="414.5" r="1" fill="#0d0d0d"/>
<circle cx="448.8" cy="376.8" r="1" fill="#0d0d0d"/>
<circle cx="449.1" cy="387.8" r="1" fill="#0d0d0d"/>
<circle cx="455.3" cy="368.4" r="1" fill="#0d0d0d"/>
<circle cx="448.2" cy="376.2" r="1" fill="#0d0d0d"/>
<circle cx="473.4" cy="406.9" r="1" fill="#0d0d0d"/>
<circle cx="476.7" cy="378.6" r="1" fill="#0d0d0d"/>
<circle cx="476" cy="395.7" r="1" fill="#0d0d0d"/>
<circle cx="452.3" cy="366.2" r="1" fill="#0d0d0d"/>
<circle cx="445.1" cy="390" r="1.1" fill="#e5191b"/>
<circle cx="445.7" cy="391.6" r="1.1" fill="#e5191b"/>
<circle cx="443.1" cy="380.4" r="1.1" fill="#e5191b"/>
<circle cx="446" cy="379.1" r="1.1" fill="#e5191b"/>
<circle cx="442.4" cy="383.1" r="1.1" fill="#e5191b"/>
<circle cx="443.4" cy="397.1" r="1.1" fill="#e5191b"/>
<circle cx="444.2" cy="390.3" r="1.1" fill="#e5191b"/>
<circle cx="444" cy="405" r="1.1" fill="#e5191b"/>
<circle cx="442.8" cy="386.5" r="1.1" fill="#e5191b"/>
<circle cx="447.4" cy="392.5" r="1.1" fill="#e5191b"/>
<circle cx="439.6" cy="381.3" r="1.1" fill="#e5191b"/>
<circle cx="444.2" cy="387.8" r="1.1" fill="#e5191b"/>
<circle cx="444.1" cy="398.8" r="1.1" fill="#e5191b"/>
<circle cx="446.1" cy="398" r="1.1" fill="#e5191b"/>
<circle cx="444.9" cy="386.4" r="1.1" fill="#e5191b"/>
<circle cx="442.3" cy="397.9" r="1.1" fill="#e5191b"/>
<circle cx="446.3" cy="366.5" r="1.1" fill="#e5191b"/>
<circle cx="443.1" cy="405.1" r="1.1" fill="#e5191b"/>
<circle cx="442.1" cy="389.8" r="1.1" fill="#e5191b"/>
<circle cx="446.6" cy="386.1" r="1.1" fill="#e5191b"/>
<circle cx="442.7" cy="376.7" r="1.1" fill="#e5191b"/>
<circle cx="447" cy="377.7" r="1.1" fill="#e5191b"/>
<circle cx="445.9" cy="390.3" r="1.1" fill="#e5191b"/>
<circle cx="452.2" cy="380.6" r="1.1" fill="#e5191b"/>
<circle cx="443.5" cy="382.8" r="1.1" fill="#e5191b"/>
<circle cx="443.8" cy="373.5" r="1.1" fill="#e5191b"/>
<circle cx="446.3" cy="386.6" r="1.1" fill="#e5191b"/>
<circle cx="444.7" cy="378" r="1.1" fill="#e5191b"/>
<circle cx="449.1" cy="395.7" r="1.1" fill="#e5191b"/>
<circle cx="447.4" cy="371.9" r="1.1" fill="#e5191b"/>
<circle cx="432.2" cy="414.9" r="1.1" fill="#e5191b"/>
<circle cx="432.4" cy="415.7" r="1.1" fill="#e5191b"/>
<circle cx="442.2" cy="400.1" r="1.1" fill="#e5191b"/>
<circle cx="430.2" cy="384.8" r="1.1" fill="#e5191b"/>
<circle cx="432.4" cy="374.5" r="1.1" fill="#e5191b"/>
<circle cx="444.7" cy="389.3" r="1.1" fill="#e5191b"/>
<circle cx="434.1" cy="408.7" r="1.1" fill="#e5191b"/>
<circle cx="432.8" cy="401.9" r="1.1" fill="#e5191b"/>
<circle cx="437.3" cy="380.3" r="1.1" fill="#e5191b"/>
<circle cx="431.3" cy="398.7" r="1.1" fill="#e5191b"/>
<circle cx="435.8" cy="374.5" r="1.1" fill="#e5191b"/>
<circle cx="433.9" cy="369.3" r="1.1" fill="#e5191b"/>
<circle cx="435.2" cy="404.9" r="1.1" fill="#e5191b"/>
<circle cx="434.5" cy="407.7" r="1.1" fill="#e5191b"/>
<circle cx="479" cy="392.2" r="1.1" fill="#e5191b"/>
<circle cx="478.9" cy="397.6" r="1.1" fill="#e5191b"/>
<circle cx="477.6" cy="373.3" r="1.1" fill="#e5191b"/>
<circle cx="479.6" cy="376.9" r="1.1" fill="#e5191b"/>
<circle cx="480.8" cy="391.6" r="1.1" fill="#e5191b"/>
<circle cx="478.9" cy="399.4" r="1.1" fill="#e5191b"/>
<circle cx="480" cy="382.5" r="1.1" fill="#e5191b"/>
<circle cx="476.3" cy="391.3" r="1.1" fill="#e5191b"/>
<circle cx="479.3" cy="385.2" r="1.1" fill="#e5191b"/>
<circle cx="477.2" cy="393.7" r="1.1" fill="#e5191b"/>
<circle cx="477.3" cy="378.5" r="1.1" fill="#e5191b"/>
<circle cx="476.7" cy="379.5" r="1.1" fill="#e5191b"/>
<circle cx="476.3" cy="401.9" r="1.1" fill="#e5191b"/>
<circle cx="476.8" cy="405" r="1.1" fill="#e5191b"/>
<circle cx="479.1" cy="393.6" r="1.1" fill="#e5191b"/>
<circle cx="478.5" cy="377.5" r="1.1" fill="#e5191b"/>
<circle cx="477.3" cy="387.8" r="1.1" fill="#e5191b"/>
<circle cx="477.5" cy="381.8" r="1.1" fill="#e5191b"/>
<circle cx="479.3" cy="385.5" r="1.1" fill="#e5191b"/>
<circle cx="476.4" cy="389.2" r="1.1" fill="#e5191b"/>
<circle cx="478.7" cy="396.8" r="1.1" fill="#e5191b"/>
<circle cx="477.9" cy="379.7" r="1.1" fill="#e5191b"/>
<circle cx="480.8" cy="393.2" r="1.1" fill="#e5191b"/>
<circle cx="473.8" cy="396.4" r="1.1" fill="#e5191b"/>
<circle cx="478.5" cy="408" r="1.1" fill="#e5191b"/>
<circle cx="478.4" cy="369.2" r="1.1" fill="#e5191b"/>
<circle cx="474.7" cy="389.4" r="1.1" fill="#e5191b"/>
<circle cx="478.5" cy="376.3" r="1.1" fill="#e5191b"/>
<circle cx="478" cy="392.7" r="1.1" fill="#e5191b"/>
<circle cx="478.7" cy="386.8" r="1.1" fill="#e5191b"/>
<circle cx="477" cy="395.4" r="1.1" fill="#e5191b"/>
<circle cx="478.3" cy="389.5" r="1.1" fill="#e5191b"/>
<circle cx="477.8" cy="384.3" r="1.1" fill="#e5191b"/>
<circle cx="478.4" cy="395.8" r="1.1" fill="#e5191b"/>
<circle cx="481" cy="389.6" r="1.1" fill="#e5191b"/>
<circle cx="478.2" cy="379.8" r="1.1" fill="#e5191b"/>
<circle cx="478.5" cy="399.9" r="1.1" fill="#e5191b"/>
<circle cx="479.1" cy="392.2" r="1.1" fill="#e5191b"/>
<circle cx="477" cy="376.9" r="1.1" fill="#e5191b"/>
<circle cx="476.4" cy="382.8" r="1.1" fill="#e5191b"/>
<circle cx="479.2" cy="387.8" r="1.1" fill="#e5191b"/>
<circle cx="476" cy="389.1" r="1.1" fill="#e5191b"/>
<circle cx="477.9" cy="383.8" r="1.1" fill="#e5191b"/>
<circle cx="478.2" cy="389.5" r="1.1" fill="#e5191b"/>
<circle cx="478.8" cy="386.9" r="1.1" fill="#e5191b"/>
<circle cx="478.7" cy="391.4" r="1.1" fill="#e5191b"/>
<circle cx="478.5" cy="380.6" r="1.1" fill="#e5191b"/>
<circle cx="478.1" cy="383" r="1.1" fill="#e5191b"/>
<circle cx="478" cy="395.9" r="1.1" fill="#e5191b"/>
<circle cx="479.7" cy="377" r="1.1" fill="#e5191b"/>
<circle cx="476.3" cy="393" r="1.1" fill="#e5191b"/>
<circle cx="476.5" cy="392.8" r="1.1" fill="#e5191b"/>
<circle cx="478.8" cy="389.7" r="1.1" fill="#e5191b"/>
<circle cx="476.5" cy="389.1" r="1.1" fill="#e5191b"/>
<circle cx="476.9" cy="368.5" r="1.1" fill="#e5191b"/>
<circle cx="478.7" cy="390.4" r="1.1" fill="#e5191b"/>
<circle cx="478.4" cy="390.4" r="1.1" fill="#e5191b"/>
<circle cx="479.6" cy="385.4" r="1.1" fill="#e5191b"/>
<circle cx="476.1" cy="389.5" r="1.1" fill="#e5191b"/>
<circle cx="479.8" cy="383.6" r="1.1" fill="#e5191b"/>
<circle cx="480.2" cy="375.2" r="1.1" fill="#e5191b"/>
<circle cx="478.8" cy="406.6" r="1.1" fill="#e5191b"/>
<circle cx="479" cy="399.9" r="1.1" fill="#e5191b"/>
<circle cx="480.6" cy="378.4" r="1.1" fill="#e5191b"/>
<circle cx="478" cy="382.4" r="1.1" fill="#e5191b"/>
<circle cx="478.8" cy="379.5" r="1.1" fill="#e5191b"/>
<circle cx="477.1" cy="382.9" r="1.1" fill="#e5191b"/>
<circle cx="478.5" cy="380.7" r="1.1" fill="#e5191b"/>
<circle cx="479.2" cy="395.8" r="1.1" fill="#e5191b"/>
<circle cx="476.7" cy="389" r="1.1" fill="#e5191b"/>
<circle cx="482.5" cy="377.3" r="1.1" fill="#e5191b"/>
<circle cx="482.4" cy="389" r="1.1" fill="#e5191b"/>
<circle cx="487.3" cy="380" r="1.1" fill="#e5191b"/>
<circle cx="478.9" cy="394" r="1.1" fill="#e5191b"/>
<circle cx="481.2" cy="401.3" r="1.1" fill="#e5191b"/>
<circle cx="479.4" cy="371.6" r="1.1" fill="#e5191b"/>
<circle cx="485.1" cy="393.4" r="1.1" fill="#e5191b"/>
<circle cx="481.2" cy="395.9" r="1.1" fill="#e5191b"/>
<circle cx="480.2" cy="402.4" r="1.1" fill="#e5191b"/>
<circle cx="479.7" cy="393.4" r="1.1" fill="#e5191b"/>
<circle cx="440" cy="408" r="1.1" fill="#e5191b"/>
<circle cx="445" cy="414" r="1.1" fill="#e5191b"/>
<circle cx="434" cy="412" r="1.1" fill="#e5191b"/>
<circle cx="486" cy="404" r="1.1" fill="#e5191b"/>
<circle cx="487" cy="410" r="1.1" fill="#e5191b"/>
<circle cx="482" cy="412" r="1.1" fill="#e5191b"/>
<circle cx="480" cy="418" r="1.1" fill="#e5191b"/>
<circle cx="433" cy="405" r="1.1" fill="#e5191b"/>
<circle cx="436" cy="417" r="1.1" fill="#e5191b"/>
<circle cx="484" cy="376" r="1.1" fill="#e5191b"/>
<circle cx="490" cy="372" r="1.1" fill="#e5191b"/>
<line x1="416" y1="366" x2="449" y2="366" stroke="#e5191b" stroke-width="1.4" stroke-dasharray="2 0.8"/>
<line x1="449" y1="366" x2="457" y2="366" stroke="#111" stroke-width="1.6"/>
<line x1="474" y1="366" x2="481" y2="366" stroke="#111" stroke-width="1.6"/>
<line x1="481" y1="366" x2="501" y2="366" stroke="#e5191b" stroke-width="1.4" stroke-dasharray="2 0.8"/>
<line x1="413.4" y1="368" x2="413.4" y2="427.3" stroke="#6e6e6e" stroke-width="0.9"/>
<line x1="413.4" y1="427.3" x2="504" y2="427.3" stroke="#6e6e6e" stroke-width="0.9"/>
<line x1="411.4" y1="424.6" x2="413.4" y2="424.6" stroke="#6e6e6e" stroke-width="0.9"/>
<text x="408.2" y="427.5" font-size="8.5" text-anchor="end" stroke="#2a2a2a" stroke-width="0.22">0</text>
<line x1="411.4" y1="407.3" x2="413.4" y2="407.3" stroke="#6e6e6e" stroke-width="0.9"/>
<text x="408.2" y="410.2" font-size="8.5" text-anchor="end" stroke="#2a2a2a" stroke-width="0.22">100</text>
<line x1="411.4" y1="390" x2="413.4" y2="390" stroke="#6e6e6e" stroke-width="0.9"/>
<text x="408.2" y="392.9" font-size="8.5" text-anchor="end" stroke="#2a2a2a" stroke-width="0.22">200</text>
<line x1="411.4" y1="372.7" x2="413.4" y2="372.7" stroke="#6e6e6e" stroke-width="0.9"/>
<text x="408.2" y="375.6" font-size="8.5" text-anchor="end" stroke="#2a2a2a" stroke-width="0.22">300</text>
<line x1="419.2" y1="427.3" x2="419.2" y2="429.3" stroke="#6e6e6e" stroke-width="0.9"/>
<text x="419.2" y="439.2" font-size="8.5" text-anchor="middle" stroke="#2a2a2a" stroke-width="0.22">−3</text>
<line x1="433.7" y1="427.3" x2="433.7" y2="429.3" stroke="#6e6e6e" stroke-width="0.9"/>
<text x="433.7" y="439.2" font-size="8.5" text-anchor="middle" stroke="#2a2a2a" stroke-width="0.22">−2</text>
<line x1="448.2" y1="427.3" x2="448.2" y2="429.3" stroke="#6e6e6e" stroke-width="0.9"/>
<text x="448.2" y="439.2" font-size="8.5" text-anchor="middle" stroke="#2a2a2a" stroke-width="0.22">−1</text>
<line x1="462.7" y1="427.3" x2="462.7" y2="429.3" stroke="#6e6e6e" stroke-width="0.9"/>
<text x="462.7" y="439.2" font-size="8.5" text-anchor="middle" stroke="#2a2a2a" stroke-width="0.22">0</text>
<line x1="477.2" y1="427.3" x2="477.2" y2="429.3" stroke="#6e6e6e" stroke-width="0.9"/>
<text x="477.2" y="439.2" font-size="8.5" text-anchor="middle" stroke="#2a2a2a" stroke-width="0.22">1</text>
<line x1="491.7" y1="427.3" x2="491.7" y2="429.3" stroke="#6e6e6e" stroke-width="0.9"/>
<text x="491.7" y="439.2" font-size="8.5" text-anchor="middle" stroke="#2a2a2a" stroke-width="0.22">2</text>
<text x="443" y="452.2" font-size="8.6" stroke="#2a2a2a" stroke-width="0.22">Log<tspan font-size="6" dy="2">2</tspan><tspan dy="-2"> FC</tspan></text>
<text x="387.3" y="396.5" font-size="8.6" text-anchor="middle" transform="rotate(-90 387.3 396.5)" stroke="#2a2a2a" stroke-width="0.22">−Log<tspan font-size="6" dy="2">10</tspan><tspan dy="-2">(</tspan><tspan font-style="italic">P</tspan>)</text>
<text x="406.5" y="362.8" font-size="7.3" font-style="italic" fill="#333">BCAN</text>
<text x="428.5" y="361.8" font-size="7.3" font-style="italic" fill="#333">DLL3</text>
<text x="416.8" y="378.8" font-size="7.3" font-style="italic" fill="#333">OLIG1</text>
<text x="416.8" y="385.2" font-size="7.3" font-style="italic" fill="#333">SOX10</text>
<text x="420.5" y="396.3" font-size="7.3" font-style="italic" fill="#333">OLIG2</text>
<text x="492.5" y="375.2" font-size="7.3" font-style="italic" fill="#333">TNC</text>
<text x="495.5" y="387.5" font-size="7.3" font-style="italic" fill="#333">CHI3L1</text>
<text x="495.5" y="394.8" font-size="7.3" font-style="italic" fill="#333">CD44</text>
<text x="495.5" y="402.6" font-size="7.3" font-style="italic" fill="#333">GFAP</text>
<line x1="491" y1="373" x2="485" y2="374" stroke="#777" stroke-width="0.5" stroke-dasharray="0.8 0.8"/>
<line x1="494.5" y1="385" x2="484" y2="388" stroke="#777" stroke-width="0.5" stroke-dasharray="0.8 0.8"/>
<line x1="494.5" y1="392" x2="483" y2="394" stroke="#777" stroke-width="0.5" stroke-dasharray="0.8 0.8"/>
<line x1="494.5" y1="400" x2="482" y2="400" stroke="#777" stroke-width="0.5" stroke-dasharray="0.8 0.8"/>
<line x1="426" y1="361" x2="434" y2="366" stroke="#777" stroke-width="0.5" stroke-dasharray="0.8 0.8"/>
<line x1="440" y1="359.5" x2="446" y2="366" stroke="#777" stroke-width="0.5" stroke-dasharray="0.8 0.8"/>
<line x1="438" y1="376.5" x2="444" y2="380" stroke="#777" stroke-width="0.5" stroke-dasharray="0.8 0.8"/>
<line x1="439.5" y1="383" x2="444" y2="385" stroke="#777" stroke-width="0.5" stroke-dasharray="0.8 0.8"/>
<line x1="440" y1="392.5" x2="446" y2="391" stroke="#777" stroke-width="0.5" stroke-dasharray="0.8 0.8"/>
<text x="380" y="479.6" font-size="11" font-weight="bold" fill="#111" stroke="#111" stroke-width="0.22">G</text>
<text x="468" y="473" font-size="8.5" text-anchor="middle" stroke="#2a2a2a" stroke-width="0.22">% cycling</text>
<line x1="452.5" y1="486.2" x2="484.5" y2="486.2" stroke="#6e6e6e" stroke-width="0.9"/>
<line x1="452.5" y1="484.6" x2="452.5" y2="486.2" stroke="#6e6e6e" stroke-width="0.9"/>
<text x="452.5" y="481.8" font-size="7.4" text-anchor="middle" stroke="#2a2a2a" stroke-width="0.22">0</text>
<line x1="462.5" y1="484.6" x2="462.5" y2="486.2" stroke="#6e6e6e" stroke-width="0.9"/>
<text x="462.8" y="481.8" font-size="7.4" text-anchor="middle" stroke="#2a2a2a" stroke-width="0.22">10</text>
<line x1="472.5" y1="484.6" x2="472.5" y2="486.2" stroke="#6e6e6e" stroke-width="0.9"/>
<text x="472.8" y="481.8" font-size="7.4" text-anchor="middle" stroke="#2a2a2a" stroke-width="0.22">20</text>
<line x1="482.5" y1="484.6" x2="482.5" y2="486.2" stroke="#6e6e6e" stroke-width="0.9"/>
<text x="482.8" y="481.8" font-size="7.4" text-anchor="middle" stroke="#2a2a2a" stroke-width="0.22">30</text>
<rect x="452.5" y="488.5" width="32.3" height="12.3" fill="#bdbdbd"/>
<rect x="452.5" y="505" width="10.4" height="12.6" fill="#bdbdbd"/>
<line x1="452.5" y1="485.2" x2="452.5" y2="520.8" stroke="#6e6e6e" stroke-width="0.9"/>
<text x="450.8" y="498" font-size="8.5" text-anchor="end" stroke="#2a2a2a" stroke-width="0.22">Proneural</text>
<text x="450.8" y="514.7" font-size="8.5" text-anchor="end" stroke="#2a2a2a" stroke-width="0.22">Mesenchymal</text>
<path d="M486.3 492.6 H491 V511.8 H486.3" fill="none" stroke="#777" stroke-width="0.8"/>
<circle cx="493.8" cy="499.5" r="0.8" fill="#333"/>
<circle cx="493.8" cy="502.6" r="0.8" fill="#333"/>
<circle cx="493.8" cy="505.7" r="0.8" fill="#333"/>
<text x="1.3" y="534.2" font-size="11" font-weight="bold" fill="#111" stroke="#111" stroke-width="0.22">H</text>
<text x="112" y="541.8" font-size="8.8" stroke="#2a2a2a" stroke-width="0.22">C1 PCA</text>
<circle cx="119.9" cy="646" r="1.1" fill="#f08c2a"/>
<circle cx="176.5" cy="628.4" r="1.1" fill="#f2c832"/>
<circle cx="115.2" cy="612" r="1.1" fill="#d32a2a"/>
<circle cx="121.2" cy="647.6" r="1.1" fill="#f08c2a"/>
<circle cx="64.3" cy="611.1" r="1.1" fill="#1d1f5c"/>
<circle cx="102.4" cy="629.1" r="1.1" fill="#d32a2a"/>
<circle cx="115.8" cy="650.9" r="1.1" fill="#f08c2a"/>
<circle cx="155.2" cy="633" r="1.1" fill="#f5a733"/>
<circle cx="179" cy="625.9" r="1.1" fill="#f2c832"/>
<circle cx="73.5" cy="641.1" r="1.1" fill="#d32a2a"/>
<circle cx="152.7" cy="629.6" r="1.1" fill="#f5a733"/>
<circle cx="51.2" cy="611.3" r="1.1" fill="#1d1f5c"/>
<circle cx="103.6" cy="636.9" r="1.1" fill="#d32a2a"/>
<circle cx="172.9" cy="593.3" r="1.1" fill="#1d1f5c"/>
<circle cx="157.1" cy="641" r="1.1" fill="#f2c832"/>
<circle cx="202.9" cy="601.4" r="1.1" fill="#f2c832"/>
<circle cx="112.7" cy="633.5" r="1.1" fill="#f6b830"/>
<circle cx="156.6" cy="638.3" r="1.1" fill="#f5a733"/>
<circle cx="102.5" cy="625.4" r="1.1" fill="#d32a2a"/>
<circle cx="108.3" cy="635.1" r="1.1" fill="#d32a2a"/>
<circle cx="160.8" cy="617" r="1.1" fill="#f2c832"/>
<circle cx="171.9" cy="625.3" r="1.1" fill="#f2c832"/>
<circle cx="157.7" cy="636.3" r="1.1" fill="#f2c832"/>
<circle cx="187.8" cy="616.1" r="1.1" fill="#f2c832"/>
<circle cx="74.6" cy="569.6" r="1.1" fill="#1d1f5c"/>
<circle cx="181.8" cy="602.5" r="1.1" fill="#d32a2a"/>
<circle cx="113.5" cy="626" r="1.1" fill="#d32a2a"/>
<circle cx="62.1" cy="585" r="1.1" fill="#1d1f5c"/>
<circle cx="125.7" cy="644.8" r="1.1" fill="#f6b830"/>
<circle cx="170.6" cy="618.3" r="1.1" fill="#f2c832"/>
<circle cx="159.2" cy="640.1" r="1.1" fill="#f2c832"/>
<circle cx="177.9" cy="627.5" r="1.1" fill="#f2c832"/>
<circle cx="104.9" cy="653.3" r="1.1" fill="#f08c2a"/>
<circle cx="181" cy="619.9" r="1.1" fill="#f2c832"/>
<circle cx="123.1" cy="651.5" r="1.1" fill="#f08c2a"/>
<circle cx="148.1" cy="641.3" r="1.1" fill="#f2c832"/>
<circle cx="95.5" cy="602" r="1.1" fill="#1d1f5c"/>
<circle cx="178.8" cy="627.4" r="1.1" fill="#f5a733"/>
<circle cx="209.2" cy="604.6" r="1.1" fill="#f2c832"/>
<circle cx="94" cy="609.7" r="1.1" fill="#d32a2a"/>
<circle cx="102.5" cy="617.3" r="1.1" fill="#d32a2a"/>
<circle cx="141" cy="548" r="1.1" fill="#b0b0b0"/>
<circle cx="122.6" cy="658.8" r="1.1" fill="#1d1f5c"/>
<circle cx="125.6" cy="605.6" r="1.1" fill="#d32a2a"/>
<circle cx="153.7" cy="639.4" r="1.1" fill="#f4a830"/>
<circle cx="108.3" cy="644.4" r="1.1" fill="#d32a2a"/>
<circle cx="105.1" cy="647.1" r="1.1" fill="#f6b830"/>
<circle cx="63.9" cy="591.5" r="1.1" fill="#1d1f5c"/>
<circle cx="181" cy="627.2" r="1.1" fill="#f2c832"/>
<circle cx="209.2" cy="598.8" r="1.1" fill="#f5a733"/>
<circle cx="86.7" cy="625.7" r="1.1" fill="#8a1e4a"/>
<circle cx="175" cy="631.2" r="1.1" fill="#f2c832"/>
<circle cx="112.2" cy="642.6" r="1.1" fill="#f08c2a"/>
<circle cx="116.7" cy="640.9" r="1.1" fill="#f08c2a"/>
<circle cx="68.6" cy="593.4" r="1.1" fill="#1d1f5c"/>
<circle cx="204.1" cy="608.1" r="1.1" fill="#1d1f5c"/>
<circle cx="122.9" cy="637.5" r="1.1" fill="#f6b830"/>
<circle cx="104.9" cy="627.3" r="1.1" fill="#8a1e4a"/>
<circle cx="79.3" cy="638.3" r="1.1" fill="#8a1e4a"/>
<circle cx="97.9" cy="658.6" r="1.1" fill="#d32a2a"/>
<circle cx="91.8" cy="624" r="1.1" fill="#1d1f5c"/>
<circle cx="184.9" cy="613.4" r="1.1" fill="#f2c832"/>
<circle cx="186.6" cy="600.4" r="1.1" fill="#d32a2a"/>
<circle cx="93.4" cy="636.4" r="1.1" fill="#8a1e4a"/>
<circle cx="143" cy="637.3" r="1.1" fill="#f5a733"/>
<circle cx="204.9" cy="591.6" r="1.1" fill="#f5a733"/>
<circle cx="172.8" cy="604.7" r="1.1" fill="#1d1f5c"/>
<circle cx="148.9" cy="629.5" r="1.1" fill="#f4a830"/>
<circle cx="125.9" cy="618.2" r="1.1" fill="#8a1e4a"/>
<circle cx="63.4" cy="591.8" r="1.1" fill="#1d1f5c"/>
<circle cx="121.8" cy="659.4" r="1.1" fill="#f08c2a"/>
<circle cx="208.4" cy="598" r="1.1" fill="#f2c832"/>
<circle cx="106.7" cy="601.3" r="1.1" fill="#d32a2a"/>
<circle cx="130.6" cy="628.2" r="1.1" fill="#d32a2a"/>
<circle cx="161.6" cy="621.8" r="1.1" fill="#f5a733"/>
<circle cx="133.5" cy="645.2" r="1.1" fill="#f6b830"/>
<circle cx="115.8" cy="640.6" r="1.1" fill="#f08c2a"/>
<circle cx="154" cy="637.3" r="1.1" fill="#f4a830"/>
<circle cx="115.2" cy="603.9" r="1.1" fill="#8a1e4a"/>
<circle cx="167.4" cy="633.4" r="1.1" fill="#f5a733"/>
<circle cx="87.3" cy="647.5" r="1.1" fill="#d32a2a"/>
<circle cx="133" cy="641.5" r="1.1" fill="#f08c2a"/>
<circle cx="101.3" cy="622.4" r="1.1" fill="#d32a2a"/>
<circle cx="113" cy="636" r="1.1" fill="#d32a2a"/>
<circle cx="107.6" cy="625.9" r="1.1" fill="#8a1e4a"/>
<circle cx="129" cy="627.6" r="1.1" fill="#d32a2a"/>
<circle cx="74.7" cy="634.9" r="1.1" fill="#d32a2a"/>
<circle cx="109.4" cy="620.8" r="1.1" fill="#d32a2a"/>
<circle cx="164" cy="586.6" r="1.1" fill="#1d1f5c"/>
<circle cx="213.3" cy="590.3" r="1.1" fill="#f2c832"/>
<circle cx="101" cy="570" r="1.1" fill="#b0b0b0"/>
<circle cx="158.4" cy="629.3" r="1.1" fill="#f4a830"/>
<circle cx="113.5" cy="630.1" r="1.1" fill="#f6b830"/>
<circle cx="62.9" cy="578.4" r="1.1" fill="#1d1f5c"/>
<circle cx="195.1" cy="599.2" r="1.1" fill="#d32a2a"/>
<circle cx="62.1" cy="567.7" r="1.1" fill="#1d1f5c"/>
<circle cx="203.2" cy="600.2" r="1.1" fill="#d32a2a"/>
<circle cx="134.8" cy="650.8" r="1.1" fill="#f08c2a"/>
<circle cx="85.6" cy="645" r="1.1" fill="#d32a2a"/>
<circle cx="122.3" cy="614.1" r="1.1" fill="#d32a2a"/>
<circle cx="177.8" cy="606" r="1.1" fill="#f2c832"/>
<circle cx="148.6" cy="643.7" r="1.1" fill="#f5a733"/>
<circle cx="74.5" cy="592.7" r="1.1" fill="#1d1f5c"/>
<circle cx="163.2" cy="651.7" r="1.1" fill="#f4a830"/>
<circle cx="121.2" cy="643.8" r="1.1" fill="#f08c2a"/>
<circle cx="145.3" cy="644" r="1.1" fill="#f5a733"/>
<circle cx="131.1" cy="647" r="1.1" fill="#1d1f5c"/>
<circle cx="133.5" cy="642.5" r="1.1" fill="#8a1e4a"/>
<circle cx="178.9" cy="613.6" r="1.1" fill="#1d1f5c"/>
<circle cx="129.2" cy="652.6" r="1.1" fill="#f08c2a"/>
<circle cx="186.8" cy="610.1" r="1.1" fill="#f2c832"/>
<circle cx="185" cy="599.2" r="1.1" fill="#f5a733"/>
<circle cx="103" cy="641.7" r="1.1" fill="#d32a2a"/>
<circle cx="94.7" cy="592.1" r="1.1" fill="#1d1f5c"/>
<circle cx="175.5" cy="623.8" r="1.1" fill="#f5a733"/>
<circle cx="180.7" cy="627.2" r="1.1" fill="#f2c832"/>
<circle cx="138.9" cy="634.3" r="1.1" fill="#f4a830"/>
<circle cx="133.6" cy="549" r="1.1" fill="#b0b0b0"/>
<circle cx="162.5" cy="628.8" r="1.1" fill="#f2c832"/>
<circle cx="126.4" cy="643.3" r="1.1" fill="#f6b830"/>
<circle cx="105.4" cy="648.9" r="1.1" fill="#f08c2a"/>
<circle cx="182.1" cy="627.8" r="1.1" fill="#f5a733"/>
<circle cx="159.3" cy="631.8" r="1.1" fill="#f4a830"/>
<circle cx="83.4" cy="622.1" r="1.1" fill="#d32a2a"/>
<circle cx="89.5" cy="644.3" r="1.1" fill="#d32a2a"/>
<circle cx="115" cy="556" r="1.1" fill="#b0b0b0"/>
<circle cx="102.4" cy="613.3" r="1.1" fill="#8a1e4a"/>
<circle cx="74.4" cy="627.8" r="1.1" fill="#d32a2a"/>
<circle cx="133.3" cy="634.8" r="1.1" fill="#f08c2a"/>
<circle cx="83.1" cy="632.4" r="1.1" fill="#d32a2a"/>
<circle cx="193" cy="601.3" r="1.1" fill="#f5a733"/>
<circle cx="79.4" cy="573.3" r="1.1" fill="#1d1f5c"/>
<circle cx="81.9" cy="631.6" r="1.1" fill="#1d1f5c"/>
<circle cx="145.6" cy="627.5" r="1.1" fill="#f4a830"/>
<circle cx="132.4" cy="650.5" r="1.1" fill="#f6b830"/>
<circle cx="72.7" cy="600" r="1.1" fill="#1d1f5c"/>
<circle cx="109" cy="598.5" r="1.1" fill="#d32a2a"/>
<circle cx="89.9" cy="649.3" r="1.1" fill="#8a1e4a"/>
<circle cx="63.6" cy="587" r="1.1" fill="#1d1f5c"/>
<circle cx="184.2" cy="611" r="1.1" fill="#f2c832"/>
<circle cx="146.3" cy="626.3" r="1.1" fill="#f4a830"/>
<circle cx="146" cy="575" r="1.1" fill="#b0b0b0"/>
<circle cx="142" cy="650.1" r="1.1" fill="#f5a733"/>
<circle cx="62.2" cy="585.4" r="1.1" fill="#1d1f5c"/>
<circle cx="76.7" cy="620" r="1.1" fill="#d32a2a"/>
<circle cx="150.2" cy="645.9" r="1.1" fill="#f5a733"/>
<circle cx="126" cy="645.8" r="1.1" fill="#f08c2a"/>
<circle cx="118.5" cy="634.8" r="1.1" fill="#d32a2a"/>
<circle cx="104.6" cy="652.3" r="1.1" fill="#f08c2a"/>
<circle cx="139.9" cy="653.4" r="1.1" fill="#f08c2a"/>
<circle cx="204.4" cy="604.5" r="1.1" fill="#f2c832"/>
<circle cx="75.4" cy="588.3" r="1.1" fill="#1d1f5c"/>
<circle cx="121.1" cy="643.2" r="1.1" fill="#f6b830"/>
<circle cx="189" cy="607.3" r="1.1" fill="#f5a733"/>
<circle cx="104.7" cy="612.8" r="1.1" fill="#d32a2a"/>
<circle cx="193.6" cy="612.2" r="1.1" fill="#f5a733"/>
<circle cx="210.7" cy="601.5" r="1.1" fill="#f5a733"/>
<circle cx="148.3" cy="637.6" r="1.1" fill="#f08c2a"/>
<circle cx="98.7" cy="613.9" r="1.1" fill="#1d1f5c"/>
<circle cx="94.1" cy="616.7" r="1.1" fill="#d32a2a"/>
<circle cx="184.1" cy="628.3" r="1.1" fill="#f5a733"/>
<circle cx="195.7" cy="605.7" r="1.1" fill="#f2c832"/>
<circle cx="162.2" cy="633" r="1.1" fill="#f4a830"/>
<circle cx="180.7" cy="620.1" r="1.1" fill="#f5a733"/>
<circle cx="119.8" cy="638.7" r="1.1" fill="#f6b830"/>
<circle cx="144.1" cy="638.2" r="1.1" fill="#f4a830"/>
<circle cx="170.2" cy="620.4" r="1.1" fill="#f2c832"/>
<circle cx="74.3" cy="624.8" r="1.1" fill="#d32a2a"/>
<circle cx="74.3" cy="598.3" r="1.1" fill="#1d1f5c"/>
<circle cx="181.6" cy="598.4" r="1.1" fill="#d32a2a"/>
<circle cx="201.9" cy="598.2" r="1.1" fill="#d32a2a"/>
<circle cx="115.7" cy="613.5" r="1.1" fill="#d32a2a"/>
<circle cx="124.7" cy="650.3" r="1.1" fill="#f6b830"/>
<circle cx="129.9" cy="643.8" r="1.1" fill="#1d1f5c"/>
<circle cx="178" cy="603.7" r="1.1" fill="#1d1f5c"/>
<circle cx="205.5" cy="602" r="1.1" fill="#f2c832"/>
<circle cx="92.1" cy="631.4" r="1.1" fill="#d32a2a"/>
<circle cx="139" cy="560" r="1.1" fill="#b0b0b0"/>
<circle cx="78.6" cy="604" r="1.1" fill="#1d1f5c"/>
<circle cx="94.2" cy="646" r="1.1" fill="#8a1e4a"/>
<circle cx="95.2" cy="601" r="1.1" fill="#1d1f5c"/>
<circle cx="116.4" cy="647.4" r="1.1" fill="#f6b830"/>
<circle cx="106" cy="607.6" r="1.1" fill="#d32a2a"/>
<circle cx="89" cy="646.1" r="1.1" fill="#d32a2a"/>
<circle cx="102.9" cy="628.9" r="1.1" fill="#d32a2a"/>
<circle cx="111.6" cy="614.7" r="1.1" fill="#d32a2a"/>
<circle cx="94.3" cy="619" r="1.1" fill="#d32a2a"/>
<circle cx="126.2" cy="640.6" r="1.1" fill="#f08c2a"/>
<circle cx="84.7" cy="624.4" r="1.1" fill="#1d1f5c"/>
<circle cx="163.8" cy="635.9" r="1.1" fill="#f2c832"/>
<circle cx="159" cy="645.5" r="1.1" fill="#f4a830"/>
<circle cx="101" cy="627.5" r="1.1" fill="#d32a2a"/>
<circle cx="207.7" cy="598.8" r="1.1" fill="#f5a733"/>
<circle cx="97.6" cy="629" r="1.1" fill="#d32a2a"/>
<circle cx="203.7" cy="605.4" r="1.1" fill="#f5a733"/>
<circle cx="88.1" cy="602.9" r="1.1" fill="#d32a2a"/>
<circle cx="179.5" cy="585.4" r="1.1" fill="#1d1f5c"/>
<circle cx="176.6" cy="625.4" r="1.1" fill="#f5a733"/>
<circle cx="164.3" cy="630.9" r="1.1" fill="#f2c832"/>
<circle cx="125.8" cy="636.7" r="1.1" fill="#f08c2a"/>
<circle cx="142.7" cy="640.8" r="1.1" fill="#f2c832"/>
<circle cx="109.9" cy="650.2" r="1.1" fill="#f6b830"/>
<circle cx="114.7" cy="652.8" r="1.1" fill="#f08c2a"/>
<circle cx="176.3" cy="628.7" r="1.1" fill="#f5a733"/>
<circle cx="78.9" cy="572.7" r="1.1" fill="#1d1f5c"/>
<circle cx="70.5" cy="586.5" r="1.1" fill="#1d1f5c"/>
<circle cx="182.8" cy="613.6" r="1.1" fill="#f2c832"/>
<circle cx="91.4" cy="623.4" r="1.1" fill="#d32a2a"/>
<circle cx="68.1" cy="594.4" r="1.1" fill="#1d1f5c"/>
<circle cx="154.9" cy="630.5" r="1.1" fill="#f4a830"/>
<circle cx="104.3" cy="650.4" r="1.1" fill="#f08c2a"/>
<circle cx="76.8" cy="620.8" r="1.1" fill="#1d1f5c"/>
<circle cx="170.2" cy="615.7" r="1.1" fill="#f2c832"/>
<circle cx="170.7" cy="622.6" r="1.1" fill="#f5a733"/>
<circle cx="116.5" cy="615.2" r="1.1" fill="#8a1e4a"/>
<circle cx="87.4" cy="617.8" r="1.1" fill="#d32a2a"/>
<circle cx="113.8" cy="640.8" r="1.1" fill="#f6b830"/>
<circle cx="186.5" cy="617.3" r="1.1" fill="#f2c832"/>
<circle cx="128.7" cy="632.5" r="1.1" fill="#f08c2a"/>
<circle cx="69.9" cy="605.4" r="1.1" fill="#1d1f5c"/>
<circle cx="110.3" cy="621.6" r="1.1" fill="#d32a2a"/>
<circle cx="150.2" cy="625.6" r="1.1" fill="#f4a830"/>
<circle cx="157.3" cy="636" r="1.1" fill="#f5a733"/>
<circle cx="155.6" cy="640.4" r="1.1" fill="#1d1f5c"/>
<circle cx="83" cy="589.6" r="1.1" fill="#1d1f5c"/>
<circle cx="94.6" cy="625.8" r="1.1" fill="#1d1f5c"/>
<circle cx="155.5" cy="638.8" r="1.1" fill="#f2c832"/>
<circle cx="133" cy="627" r="1.1" fill="#f4a830"/>
<circle cx="161.9" cy="632.8" r="1.1" fill="#f4a830"/>
<circle cx="72.2" cy="598.5" r="1.1" fill="#1d1f5c"/>
<circle cx="190.5" cy="610.8" r="1.1" fill="#f2c832"/>
<circle cx="144.5" cy="640.7" r="1.1" fill="#f2c832"/>
<circle cx="126" cy="646" r="1.1" fill="#f08c2a"/>
<circle cx="132" cy="651.1" r="1.1" fill="#1d1f5c"/>
<circle cx="181.6" cy="612.6" r="1.1" fill="#f2c832"/>
<circle cx="215.2" cy="600.7" r="1.1" fill="#f5a733"/>
<circle cx="206.6" cy="602.7" r="1.1" fill="#d32a2a"/>
<circle cx="146" cy="604.4" r="1.1" fill="#d32a2a"/>
<circle cx="108.5" cy="606.7" r="1.1" fill="#d32a2a"/>
<circle cx="219.4" cy="607.1" r="1.1" fill="#f2c832"/>
<circle cx="67.7" cy="591.6" r="1.1" fill="#1d1f5c"/>
<circle cx="136.3" cy="650.1" r="1.1" fill="#f08c2a"/>
<circle cx="206" cy="616" r="1.1" fill="#f2c832"/>
<circle cx="96.5" cy="634.3" r="1.1" fill="#d32a2a"/>
<circle cx="205.1" cy="616.5" r="1.1" fill="#f5a733"/>
<circle cx="60.7" cy="583.5" r="1.1" fill="#1d1f5c"/>
<circle cx="116.5" cy="656.7" r="1.1" fill="#f6b830"/>
<circle cx="51.6" cy="612.5" r="1.1" fill="#1d1f5c"/>
<circle cx="199.5" cy="617.1" r="1.1" fill="#1d1f5c"/>
<circle cx="102.2" cy="599.8" r="1.1" fill="#8a1e4a"/>
<circle cx="83.4" cy="593" r="1.1" fill="#1d1f5c"/>
<circle cx="135.1" cy="633.9" r="1.1" fill="#1d1f5c"/>
<circle cx="183.9" cy="617.4" r="1.1" fill="#f2c832"/>
<circle cx="119.7" cy="646.8" r="1.1" fill="#f08c2a"/>
<circle cx="139.6" cy="647.3" r="1.1" fill="#f08c2a"/>
<circle cx="163.4" cy="631.5" r="1.1" fill="#f4a830"/>
<circle cx="122.8" cy="622.3" r="1.1" fill="#8a1e4a"/>
<circle cx="82.8" cy="607" r="1.1" fill="#d32a2a"/>
<circle cx="107.1" cy="625.6" r="1.1" fill="#d32a2a"/>
<circle cx="92.6" cy="588.6" r="1.1" fill="#1d1f5c"/>
<circle cx="59.9" cy="579.7" r="1.1" fill="#1d1f5c"/>
<circle cx="118.9" cy="633.4" r="1.1" fill="#f08c2a"/>
<circle cx="73.5" cy="598.5" r="1.1" fill="#8a1e4a"/>
<circle cx="170.5" cy="630.2" r="1.1" fill="#f2c832"/>
<circle cx="127.1" cy="650.3" r="1.1" fill="#f6b830"/>
<circle cx="104.6" cy="654.4" r="1.1" fill="#f08c2a"/>
<circle cx="70.4" cy="596.5" r="1.1" fill="#1d1f5c"/>
<circle cx="200" cy="616.6" r="1.1" fill="#f5a733"/>
<circle cx="85.7" cy="637.3" r="1.1" fill="#d32a2a"/>
<circle cx="172.1" cy="619.8" r="1.1" fill="#f2c832"/>
<circle cx="116.8" cy="651.7" r="1.1" fill="#f08c2a"/>
<circle cx="123.4" cy="634.8" r="1.1" fill="#f08c2a"/>
<circle cx="132.4" cy="625.8" r="1.1" fill="#d32a2a"/>
<circle cx="114.7" cy="612" r="1.1" fill="#8a1e4a"/>
<circle cx="207.7" cy="599.9" r="1.1" fill="#f5a733"/>
<circle cx="131.8" cy="646.7" r="1.1" fill="#f08c2a"/>
<circle cx="114.1" cy="627.6" r="1.1" fill="#d32a2a"/>
<circle cx="117.7" cy="647" r="1.1" fill="#f08c2a"/>
<circle cx="114.4" cy="652.8" r="1.1" fill="#f08c2a"/>
<circle cx="106.6" cy="622.8" r="1.1" fill="#d32a2a"/>
<circle cx="112" cy="653.6" r="1.1" fill="#d32a2a"/>
<circle cx="124.6" cy="643.9" r="1.1" fill="#f08c2a"/>
<circle cx="54.4" cy="567.1" r="1.1" fill="#1d1f5c"/>
<circle cx="108.5" cy="640.8" r="1.1" fill="#d32a2a"/>
<circle cx="82.8" cy="623.1" r="1.1" fill="#8a1e4a"/>
<circle cx="98.6" cy="621.5" r="1.1" fill="#d32a2a"/>
<circle cx="203.8" cy="610.6" r="1.1" fill="#f5a733"/>
<circle cx="100.2" cy="637.8" r="1.1" fill="#d32a2a"/>
<circle cx="151.4" cy="650.1" r="1.1" fill="#f4a830"/>
<circle cx="116.8" cy="638.5" r="1.1" fill="#f08c2a"/>
<circle cx="97.8" cy="627.8" r="1.1" fill="#8a1e4a"/>
<circle cx="46" cy="555" r="1.1" fill="#b0b0b0"/>
<circle cx="93.6" cy="635" r="1.1" fill="#d32a2a"/>
<circle cx="197.5" cy="598.1" r="1.1" fill="#f2c832"/>
<circle cx="131.7" cy="652.2" r="1.1" fill="#f4a830"/>
<circle cx="185" cy="602.6" r="1.1" fill="#d32a2a"/>
<circle cx="123.6" cy="633.8" r="1.1" fill="#f6b830"/>
<circle cx="111.1" cy="636.1" r="1.1" fill="#f08c2a"/>
<circle cx="53" cy="558" r="1.1" fill="#b0b0b0"/>
<circle cx="51.2" cy="580.6" r="1.1" fill="#1d1f5c"/>
<circle cx="117.4" cy="636.8" r="1.1" fill="#f6b830"/>
<circle cx="215.6" cy="599.5" r="1.1" fill="#f2c832"/>
<circle cx="176" cy="607.3" r="1.1" fill="#1d1f5c"/>
<circle cx="179.8" cy="606.6" r="1.1" fill="#f2c832"/>
<circle cx="147.5" cy="651.8" r="1.1" fill="#f2c832"/>
<circle cx="207.7" cy="603.7" r="1.1" fill="#f2c832"/>
<circle cx="65" cy="618.2" r="1.1" fill="#1d1f5c"/>
<circle cx="158.9" cy="639.2" r="1.1" fill="#f2c832"/>
<circle cx="206.8" cy="602.7" r="1.1" fill="#f5a733"/>
<circle cx="115.3" cy="641.4" r="1.1" fill="#f6b830"/>
<circle cx="199.7" cy="612.7" r="1.1" fill="#f2c832"/>
<circle cx="153" cy="636" r="1.1" fill="#f2c832"/>
<circle cx="74.8" cy="611.2" r="1.1" fill="#1d1f5c"/>
<circle cx="208.4" cy="601.2" r="1.1" fill="#f5a733"/>
<circle cx="209.8" cy="606" r="1.1" fill="#f2c832"/>
<circle cx="162.5" cy="622.2" r="1.1" fill="#f5a733"/>
<circle cx="82.5" cy="603" r="1.1" fill="#d32a2a"/>
<circle cx="200.7" cy="602.8" r="1.1" fill="#d32a2a"/>
<circle cx="137" cy="552" r="1.1" fill="#b0b0b0"/>
<circle cx="123.2" cy="632.9" r="1.1" fill="#1d1f5c"/>
<circle cx="108.9" cy="628.5" r="1.1" fill="#f08c2a"/>
<circle cx="74.5" cy="583.3" r="1.1" fill="#1d1f5c"/>
<circle cx="167.3" cy="619.1" r="1.1" fill="#f2c832"/>
<circle cx="69.6" cy="591.2" r="1.1" fill="#1d1f5c"/>
<circle cx="202.1" cy="611.9" r="1.1" fill="#f5a733"/>
<circle cx="98.6" cy="649.6" r="1.1" fill="#f08c2a"/>
<circle cx="190.3" cy="616.9" r="1.1" fill="#f5a733"/>
<circle cx="136.1" cy="639.3" r="1.1" fill="#f5a733"/>
<circle cx="124.3" cy="652.6" r="1.1" fill="#8a1e4a"/>
<circle cx="115.3" cy="656.4" r="1.1" fill="#f08c2a"/>
<circle cx="133" cy="645.1" r="1.1" fill="#f2c832"/>
<circle cx="140.3" cy="655.8" r="1.1" fill="#f08c2a"/>
<circle cx="125.9" cy="651.9" r="1.1" fill="#f08c2a"/>
<circle cx="117" cy="647.3" r="1.1" fill="#f6b830"/>
<circle cx="122.6" cy="643.6" r="1.1" fill="#f6b830"/>
<circle cx="199.1" cy="600.9" r="1.1" fill="#f5a733"/>
<circle cx="77.8" cy="608.1" r="1.1" fill="#1d1f5c"/>
<circle cx="96.6" cy="632.8" r="1.1" fill="#d32a2a"/>
<circle cx="186.8" cy="613.2" r="1.1" fill="#f2c832"/>
<circle cx="147.5" cy="645" r="1.1" fill="#f5a733"/>
<circle cx="187.3" cy="615.2" r="1.1" fill="#f2c832"/>
<circle cx="152.4" cy="638.1" r="1.1" fill="#1d1f5c"/>
<circle cx="56.2" cy="599.9" r="1.1" fill="#1d1f5c"/>
<circle cx="87.1" cy="659.4" r="1.1" fill="#8a1e4a"/>
<circle cx="136" cy="641.4" r="1.1" fill="#f6b830"/>
<circle cx="120.3" cy="614.8" r="1.1" fill="#8a1e4a"/>
<circle cx="119.2" cy="641.6" r="1.1" fill="#f6b830"/>
<circle cx="140.3" cy="643.1" r="1.1" fill="#f5a733"/>
<circle cx="98.1" cy="625" r="1.1" fill="#d32a2a"/>
<circle cx="150.8" cy="623.5" r="1.1" fill="#f4a830"/>
<circle cx="161.7" cy="639.8" r="1.1" fill="#f2c832"/>
<circle cx="126.6" cy="644.3" r="1.1" fill="#f08c2a"/>
<circle cx="169" cy="620.8" r="1.1" fill="#f5a733"/>
<circle cx="105.8" cy="623.8" r="1.1" fill="#d32a2a"/>
<circle cx="195.9" cy="598" r="1.1" fill="#d32a2a"/>
<circle cx="205.1" cy="607.6" r="1.1" fill="#1d1f5c"/>
<circle cx="189.6" cy="617.1" r="1.1" fill="#f5a733"/>
<circle cx="118.1" cy="619" r="1.1" fill="#d32a2a"/>
<circle cx="61.8" cy="609.4" r="1.1" fill="#1d1f5c"/>
<circle cx="181.3" cy="608" r="1.1" fill="#d32a2a"/>
<circle cx="51.2" cy="599.5" r="1.1" fill="#1d1f5c"/>
<circle cx="146.7" cy="636.3" r="1.1" fill="#f2c832"/>
<circle cx="189.1" cy="593.6" r="1.1" fill="#d32a2a"/>
<circle cx="150.3" cy="630.9" r="1.1" fill="#f2c832"/>
<circle cx="77.3" cy="612.1" r="1.1" fill="#d32a2a"/>
<circle cx="130.1" cy="636.1" r="1.1" fill="#f08c2a"/>
<circle cx="160.2" cy="621.1" r="1.1" fill="#f2c832"/>
<circle cx="195.7" cy="601.2" r="1.1" fill="#d32a2a"/>
<circle cx="82.7" cy="620" r="1.1" fill="#8a1e4a"/>
<circle cx="55.9" cy="576" r="1.1" fill="#1d1f5c"/>
<circle cx="188.5" cy="624" r="1.1" fill="#f2c832"/>
<circle cx="179.9" cy="617.3" r="1.1" fill="#f2c832"/>
<circle cx="191.7" cy="617.1" r="1.1" fill="#f5a733"/>
<circle cx="116.5" cy="611.8" r="1.1" fill="#d32a2a"/>
<circle cx="121" cy="645.1" r="1.1" fill="#f6b830"/>
<circle cx="180.8" cy="602.3" r="1.1" fill="#d32a2a"/>
<circle cx="151.5" cy="637.2" r="1.1" fill="#f5a733"/>
<circle cx="129" cy="649.5" r="1.1" fill="#f6b830"/>
<circle cx="138.7" cy="642" r="1.1" fill="#f4a830"/>
<circle cx="197.2" cy="606.5" r="1.1" fill="#f2c832"/>
<circle cx="151.6" cy="642" r="1.1" fill="#f4a830"/>
<circle cx="97.9" cy="636.5" r="1.1" fill="#d32a2a"/>
<circle cx="88.2" cy="645.1" r="1.1" fill="#d32a2a"/>
<circle cx="179" cy="629.4" r="1.1" fill="#f5a733"/>
<circle cx="83.9" cy="609.6" r="1.1" fill="#d32a2a"/>
<path d="M38.5 656.1 L40.5 654.9 L42.5 653.6 L44.5 652 L46.5 650.4 L48.4 648.5 L50.4 646.4 L52.4 644.2 L54.4 641.7 L56.4 639 L58.4 636.1 L60.4 633 L62.4 629.8 L64.4 626.3 L66.3 622.7 L68.3 618.9 L70.3 615 L72.3 611 L74.3 607 L76.3 602.9 L78.3 598.8 L80.3 594.7 L82.3 590.8 L84.2 587 L86.2 583.3 L88.2 579.9 L90.2 576.7 L92.2 573.8 L94.2 571.3 L96.2 569.2 L98.2 567.4 L100.2 566.1 L102.1 565.2 L104.1 564.7 L106.1 564.8 L108.1 565.3 L110.1 566.2 L112.1 567.6 L114.1 569.4 L116.1 571.6 L118.1 574.2 L120 577.1 L122 580.3 L124 583.8 L126 587.4 L128 591.3 L130 595.2 L132 599.3 L134 603.4 L136 607.5 L137.9 611.5 L139.9 615.5 L141.9 619.4 L143.9 623.2 L145.9 626.8 L147.9 630.2 L149.9 633.5 L151.9 636.5 L153.9 639.4 L155.8 642 L157.8 644.5 L159.8 646.7 L161.8 648.7 L163.8 650.6 L165.8 652.3 L167.8 653.7 L169.8 655.1 L171.8 656.2 L173.7 657.3 L175.7 658.2 L177.7 659 L179.7 659.6 L181.7 660.2 L183.7 660.7 L185.7 661.1 L187.7 661.5 L189.7 661.8 L191.6 662.1 L193.6 662.3 L195.6 662.5 L197.6 662.6 L199.6 662.7 L201.6 662.8 L203.6 662.9 L205.6 663 L207.6 663 L209.5 663.1 L211.5 663.1 L213.5 663.1 L215.5 663.1 L217.5 663.1" fill="none" stroke="#c4263a" stroke-width="1.3"/>
<path d="M38.5 663.2 L40.5 663.2 L42.5 663.2 L44.5 663.2 L46.5 663.2 L48.4 663.2 L50.4 663.2 L52.4 663.2 L54.4 663.2 L56.4 663.2 L58.4 663.2 L60.4 663.2 L62.4 663.2 L64.4 663.2 L66.3 663.2 L68.3 663.2 L70.3 663.2 L72.3 663.2 L74.3 663.2 L76.3 663.2 L78.3 663.2 L80.3 663.2 L82.3 663.2 L84.2 663.2 L86.2 663.2 L88.2 663.2 L90.2 663.2 L92.2 663.2 L94.2 663.2 L96.2 663.2 L98.2 663.2 L100.2 663.2 L102.1 663.2 L104.1 663.2 L106.1 663.2 L108.1 663.2 L110.1 663.2 L112.1 663.2 L114.1 663.2 L116.1 663.1 L118.1 663.1 L120 663 L122 662.9 L124 662.8 L126 662.6 L128 662.4 L130 662 L132 661.5 L134 660.8 L136 659.8 L137.9 658.6 L139.9 657 L141.9 655 L143.9 652.4 L145.9 649.3 L147.9 645.6 L149.9 641.2 L151.9 636.1 L153.9 630.3 L155.8 623.8 L157.8 616.7 L159.8 609.1 L161.8 601.2 L163.8 593.1 L165.8 585.2 L167.8 577.6 L169.8 570.6 L171.8 564.5 L173.7 559.5 L175.7 555.8 L177.7 553.6 L179.7 553 L181.7 554 L183.7 556.5 L185.7 560.5 L187.7 565.7 L189.7 572 L191.6 579.1 L193.6 586.8 L195.6 594.8 L197.6 602.9 L199.6 610.7 L201.6 618.2 L203.6 625.2 L205.6 631.6 L207.6 637.2 L209.5 642.2 L211.5 646.5 L213.5 650 L215.5 653 L217.5 655.4" fill="none" stroke="#1f9c6e" stroke-width="1.3"/>
<line x1="35.8" y1="535" x2="35.8" y2="664" stroke="#6e6e6e" stroke-width="0.9"/>
<line x1="35.8" y1="664" x2="217.5" y2="664" stroke="#6e6e6e" stroke-width="0.9"/>
<line x1="33.5" y1="566.2" x2="35.8" y2="566.2" stroke="#6e6e6e" stroke-width="0.9"/>
<text x="30.5" y="569.1" font-size="8.5" text-anchor="end" stroke="#2a2a2a" stroke-width="0.22">100</text>
<line x1="33.5" y1="592.1" x2="35.8" y2="592.1" stroke="#6e6e6e" stroke-width="0.9"/>
<text x="30.5" y="595" font-size="8.5" text-anchor="end" stroke="#2a2a2a" stroke-width="0.22">50</text>
<line x1="33.5" y1="618" x2="35.8" y2="618" stroke="#6e6e6e" stroke-width="0.9"/>
<text x="30.5" y="620.9" font-size="8.5" text-anchor="end" stroke="#2a2a2a" stroke-width="0.22">0</text>
<line x1="33.5" y1="643.9" x2="35.8" y2="643.9" stroke="#6e6e6e" stroke-width="0.9"/>
<text x="30.5" y="646.8" font-size="8.5" text-anchor="end" stroke="#2a2a2a" stroke-width="0.22">−50</text>
<line x1="38.8" y1="664" x2="38.8" y2="666.2" stroke="#6e6e6e" stroke-width="0.9"/>
<text x="38.8" y="676.3" font-size="8.5" text-anchor="middle" stroke="#2a2a2a" stroke-width="0.22">−150</text>
<line x1="71.4" y1="664" x2="71.4" y2="666.2" stroke="#6e6e6e" stroke-width="0.9"/>
<text x="71.4" y="676.3" font-size="8.5" text-anchor="middle" stroke="#2a2a2a" stroke-width="0.22">−100</text>
<line x1="104.1" y1="664" x2="104.1" y2="666.2" stroke="#6e6e6e" stroke-width="0.9"/>
<text x="104.1" y="676.3" font-size="8.5" text-anchor="middle" stroke="#2a2a2a" stroke-width="0.22">−50</text>
<line x1="137.3" y1="664" x2="137.3" y2="666.2" stroke="#6e6e6e" stroke-width="0.9"/>
<text x="137.3" y="676.3" font-size="8.5" text-anchor="middle" stroke="#2a2a2a" stroke-width="0.22">0</text>
<line x1="170.3" y1="664" x2="170.3" y2="666.2" stroke="#6e6e6e" stroke-width="0.9"/>
<text x="170.3" y="676.3" font-size="8.5" text-anchor="middle" stroke="#2a2a2a" stroke-width="0.22">50</text>
<line x1="199.3" y1="664" x2="199.3" y2="666.2" stroke="#6e6e6e" stroke-width="0.9"/>
<text x="199.3" y="676.3" font-size="8.5" text-anchor="middle" stroke="#2a2a2a" stroke-width="0.22">100</text>
<text x="120.5" y="689" font-size="8.6" text-anchor="middle" stroke="#2a2a2a" stroke-width="0.22">PC1</text>
<text x="11.3" y="600" font-size="8.6" text-anchor="middle" transform="rotate(-90 11.3 600)" stroke="#2a2a2a" stroke-width="0.22">PC2</text>
<text x="280.6" y="565" font-size="11" font-weight="bold" fill="#111" stroke="#111" stroke-width="0.22">I</text>
<rect x="315.2" y="565.3" width="159" height="97.5" fill="none" stroke="#6e6e6e" stroke-width="0.9"/>
<line x1="313.2" y1="594.4" x2="315.2" y2="594.4" stroke="#6e6e6e" stroke-width="0.9"/>
<text x="311" y="597.3" font-size="8.5" text-anchor="end" stroke="#2a2a2a" stroke-width="0.22">0.4</text>
<line x1="313.2" y1="619.3" x2="315.2" y2="619.3" stroke="#6e6e6e" stroke-width="0.9"/>
<text x="311" y="622.2" font-size="8.5" text-anchor="end" stroke="#2a2a2a" stroke-width="0.22">0.0</text>
<line x1="313.2" y1="644.2" x2="315.2" y2="644.2" stroke="#6e6e6e" stroke-width="0.9"/>
<text x="311" y="647.1" font-size="8.5" text-anchor="end" stroke="#2a2a2a" stroke-width="0.22">−0.4</text>
<line x1="347.4" y1="662.8" x2="347.4" y2="664.8" stroke="#6e6e6e" stroke-width="0.9"/>
<text x="347.4" y="675.8" font-size="8.5" text-anchor="middle" stroke="#2a2a2a" stroke-width="0.22">−0.1</text>
<line x1="396.6" y1="662.8" x2="396.6" y2="664.8" stroke="#6e6e6e" stroke-width="0.9"/>
<text x="396.6" y="675.8" font-size="8.5" text-anchor="middle" stroke="#2a2a2a" stroke-width="0.22">0.0</text>
<line x1="445.8" y1="662.8" x2="445.8" y2="664.8" stroke="#6e6e6e" stroke-width="0.9"/>
<text x="445.8" y="675.8" font-size="8.5" text-anchor="middle" stroke="#2a2a2a" stroke-width="0.22">0.1</text>
<text x="394.6" y="687" font-size="8.5" text-anchor="middle" stroke="#2a2a2a" stroke-width="0.22">Loadings PC1 10×</text>
<text x="287" y="614" font-size="8.5" text-anchor="middle" transform="rotate(-90 287 614)" stroke="#2a2a2a" stroke-width="0.22">Loadings in PC1 C1</text>
<text x="318" y="572.9" font-size="6.7">PCC = 0.68</text>
<text x="318" y="580.9" font-size="6.7"><tspan font-style="italic">P</tspan> = 1.2e-09</text>
<circle cx="361.3" cy="648.6" r="1.4" fill="#0d0d0d"/>
<circle cx="358.7" cy="615.5" r="1.4" fill="#0d0d0d"/>
<circle cx="356" cy="634.6" r="1.4" fill="#0d0d0d"/>
<circle cx="354.4" cy="602.5" r="1.4" fill="#0d0d0d"/>
<circle cx="360.6" cy="600.6" r="1.4" fill="#0d0d0d"/>
<circle cx="356.1" cy="605.1" r="1.4" fill="#0d0d0d"/>
<circle cx="364" cy="601.1" r="1.4" fill="#0d0d0d"/>
<circle cx="354.8" cy="647.3" r="1.4" fill="#0d0d0d"/>
<circle cx="361.1" cy="607.1" r="1.4" fill="#0d0d0d"/>
<circle cx="363.5" cy="615.9" r="1.4" fill="#0d0d0d"/>
<circle cx="361.4" cy="643.1" r="1.4" fill="#0d0d0d"/>
<circle cx="354.3" cy="636.3" r="1.4" fill="#0d0d0d"/>
<circle cx="361.9" cy="640.2" r="1.4" fill="#0d0d0d"/>
<circle cx="358.8" cy="592.3" r="1.4" fill="#0d0d0d"/>
<circle cx="357.4" cy="598" r="1.4" fill="#0d0d0d"/>
<circle cx="357.2" cy="591.6" r="1.4" fill="#0d0d0d"/>
<circle cx="341.5" cy="602.4" r="1.4" fill="#0d0d0d"/>
<circle cx="334.9" cy="628.1" r="1.4" fill="#0d0d0d"/>
<circle cx="338.4" cy="633.6" r="1.4" fill="#0d0d0d"/>
<circle cx="336.7" cy="630.5" r="1.4" fill="#0d0d0d"/>
<circle cx="342.1" cy="641.5" r="1.4" fill="#0d0d0d"/>
<circle cx="330.8" cy="600.5" r="1.4" fill="#0d0d0d"/>
<circle cx="332" cy="639.1" r="1.4" fill="#0d0d0d"/>
<circle cx="334.5" cy="610.8" r="1.4" fill="#0d0d0d"/>
<circle cx="336.2" cy="636.8" r="1.4" fill="#0d0d0d"/>
<circle cx="333.9" cy="625.4" r="1.4" fill="#0d0d0d"/>
<circle cx="332.4" cy="620" r="1.4" fill="#0d0d0d"/>
<circle cx="341.5" cy="620.6" r="1.4" fill="#0d0d0d"/>
<circle cx="337.8" cy="603.2" r="1.4" fill="#0d0d0d"/>
<circle cx="343.8" cy="621" r="1.4" fill="#0d0d0d"/>
<circle cx="334.1" cy="635.7" r="1.4" fill="#0d0d0d"/>
<circle cx="336.1" cy="632.3" r="1.4" fill="#0d0d0d"/>
<circle cx="331" cy="657" r="1.4" fill="#0d0d0d"/>
<circle cx="338" cy="657.5" r="1.4" fill="#0d0d0d"/>
<circle cx="344" cy="657" r="1.4" fill="#0d0d0d"/>
<circle cx="326" cy="640" r="1.4" fill="#0d0d0d"/>
<circle cx="324" cy="650" r="1.4" fill="#0d0d0d"/>
<circle cx="350" cy="642" r="1.4" fill="#0d0d0d"/>
<circle cx="347" cy="612" r="1.4" fill="#0d0d0d"/>
<circle cx="342" cy="610" r="1.4" fill="#0d0d0d"/>
<circle cx="352" cy="598" r="1.4" fill="#0d0d0d"/>
<circle cx="417.4" cy="599.2" r="1.4" fill="#0d0d0d"/>
<circle cx="403" cy="638.6" r="1.4" fill="#0d0d0d"/>
<circle cx="401.7" cy="634.6" r="1.4" fill="#0d0d0d"/>
<circle cx="420.9" cy="599.4" r="1.4" fill="#0d0d0d"/>
<circle cx="419.8" cy="599.2" r="1.4" fill="#0d0d0d"/>
<circle cx="407.6" cy="624.2" r="1.4" fill="#0d0d0d"/>
<circle cx="424.4" cy="582.2" r="1.4" fill="#0d0d0d"/>
<circle cx="421.7" cy="585.5" r="1.4" fill="#0d0d0d"/>
<circle cx="422.1" cy="595.5" r="1.4" fill="#0d0d0d"/>
<circle cx="421.5" cy="590.1" r="1.4" fill="#0d0d0d"/>
<circle cx="414.8" cy="609.5" r="1.4" fill="#0d0d0d"/>
<circle cx="420.5" cy="597.7" r="1.4" fill="#0d0d0d"/>
<circle cx="411.6" cy="622.6" r="1.4" fill="#0d0d0d"/>
<circle cx="415.7" cy="608.6" r="1.4" fill="#0d0d0d"/>
<circle cx="406.7" cy="609.7" r="1.4" fill="#0d0d0d"/>
<circle cx="410.8" cy="621" r="1.4" fill="#0d0d0d"/>
<circle cx="409.6" cy="602.2" r="1.4" fill="#0d0d0d"/>
<circle cx="405.6" cy="617.5" r="1.4" fill="#0d0d0d"/>
<circle cx="405.7" cy="613.4" r="1.4" fill="#0d0d0d"/>
<circle cx="403.3" cy="626.1" r="1.4" fill="#0d0d0d"/>
<circle cx="409.5" cy="634.2" r="1.4" fill="#0d0d0d"/>
<circle cx="410.8" cy="609.4" r="1.4" fill="#0d0d0d"/>
<circle cx="466.8" cy="574.6" r="1.4" fill="#0d0d0d"/>
<circle cx="432.2" cy="581.3" r="1.4" fill="#0d0d0d"/>
<circle cx="467.6" cy="599.9" r="1.4" fill="#0d0d0d"/>
<circle cx="429.5" cy="578.9" r="1.4" fill="#0d0d0d"/>
<circle cx="454.6" cy="574" r="1.4" fill="#0d0d0d"/>
<circle cx="467.4" cy="582.6" r="1.4" fill="#0d0d0d"/>
<circle cx="446" cy="592.1" r="1.4" fill="#0d0d0d"/>
<circle cx="465.6" cy="593.2" r="1.4" fill="#0d0d0d"/>
<circle cx="467.4" cy="597.4" r="1.4" fill="#0d0d0d"/>
<circle cx="460.8" cy="581" r="1.4" fill="#0d0d0d"/>
<circle cx="456" cy="582.9" r="1.4" fill="#0d0d0d"/>
<circle cx="449.6" cy="595.2" r="1.4" fill="#0d0d0d"/>
<circle cx="449.8" cy="570.6" r="1.4" fill="#0d0d0d"/>
<circle cx="447.8" cy="588.7" r="1.4" fill="#0d0d0d"/>
<circle cx="439.4" cy="584.9" r="1.4" fill="#0d0d0d"/>
<circle cx="426.5" cy="586" r="1.4" fill="#0d0d0d"/>
<circle cx="450.2" cy="591.5" r="1.4" fill="#0d0d0d"/>
<circle cx="432.4" cy="579" r="1.4" fill="#0d0d0d"/>
<circle cx="443.5" cy="597.1" r="1.4" fill="#0d0d0d"/>
<circle cx="428.3" cy="585.2" r="1.4" fill="#0d0d0d"/>
<circle cx="432" cy="606" r="1.4" fill="#0d0d0d"/>
<circle cx="437" cy="612" r="1.4" fill="#0d0d0d"/>
<circle cx="448" cy="612" r="1.4" fill="#0d0d0d"/>
<circle cx="459" cy="605" r="1.4" fill="#0d0d0d"/>
<circle cx="440" cy="595" r="1.4" fill="#0d0d0d"/>
<circle cx="452" cy="582" r="1.4" fill="#0d0d0d"/>
<line x1="323.1" y1="631.2" x2="464.3" y2="589.9" stroke="#b8d030" stroke-width="2.9" stroke-linecap="butt"/>
<circle cx="323" cy="643.5" r="1.5" fill="#e06060"/>
<circle cx="372.3" cy="636.6" r="1.5" fill="#e06060"/>
<circle cx="364.3" cy="645" r="1.5" fill="#e06060"/>
<circle cx="437.3" cy="568.3" r="1.5" fill="#e06060"/>
<circle cx="467.5" cy="572" r="1.5" fill="#e06060"/>
<circle cx="323" cy="657" r="1.5" fill="#e06060"/>
<circle cx="336" cy="625.5" r="1.5" fill="#e06060"/>
<text x="317.7" y="621.3" font-size="6" font-style="italic" fill="#444">CCND1</text>
<text x="353.2" y="634" font-size="6" font-style="italic" fill="#444">DLL3</text>
<text x="329.5" y="645.3" font-size="6" font-style="italic" fill="#444">PDGFRA</text>
<text x="347" y="658" font-size="6" font-style="italic" fill="#444">MKI67</text>
<text x="317.7" y="661.5" font-size="6" font-style="italic" fill="#444">OLIG2</text>
<text x="440.5" y="578.5" font-size="6" font-style="italic" fill="#444">CD44</text>
<text x="453" y="586.5" font-size="6" font-style="italic" fill="#444">CHI3L1</text>
</svg></body></html>
